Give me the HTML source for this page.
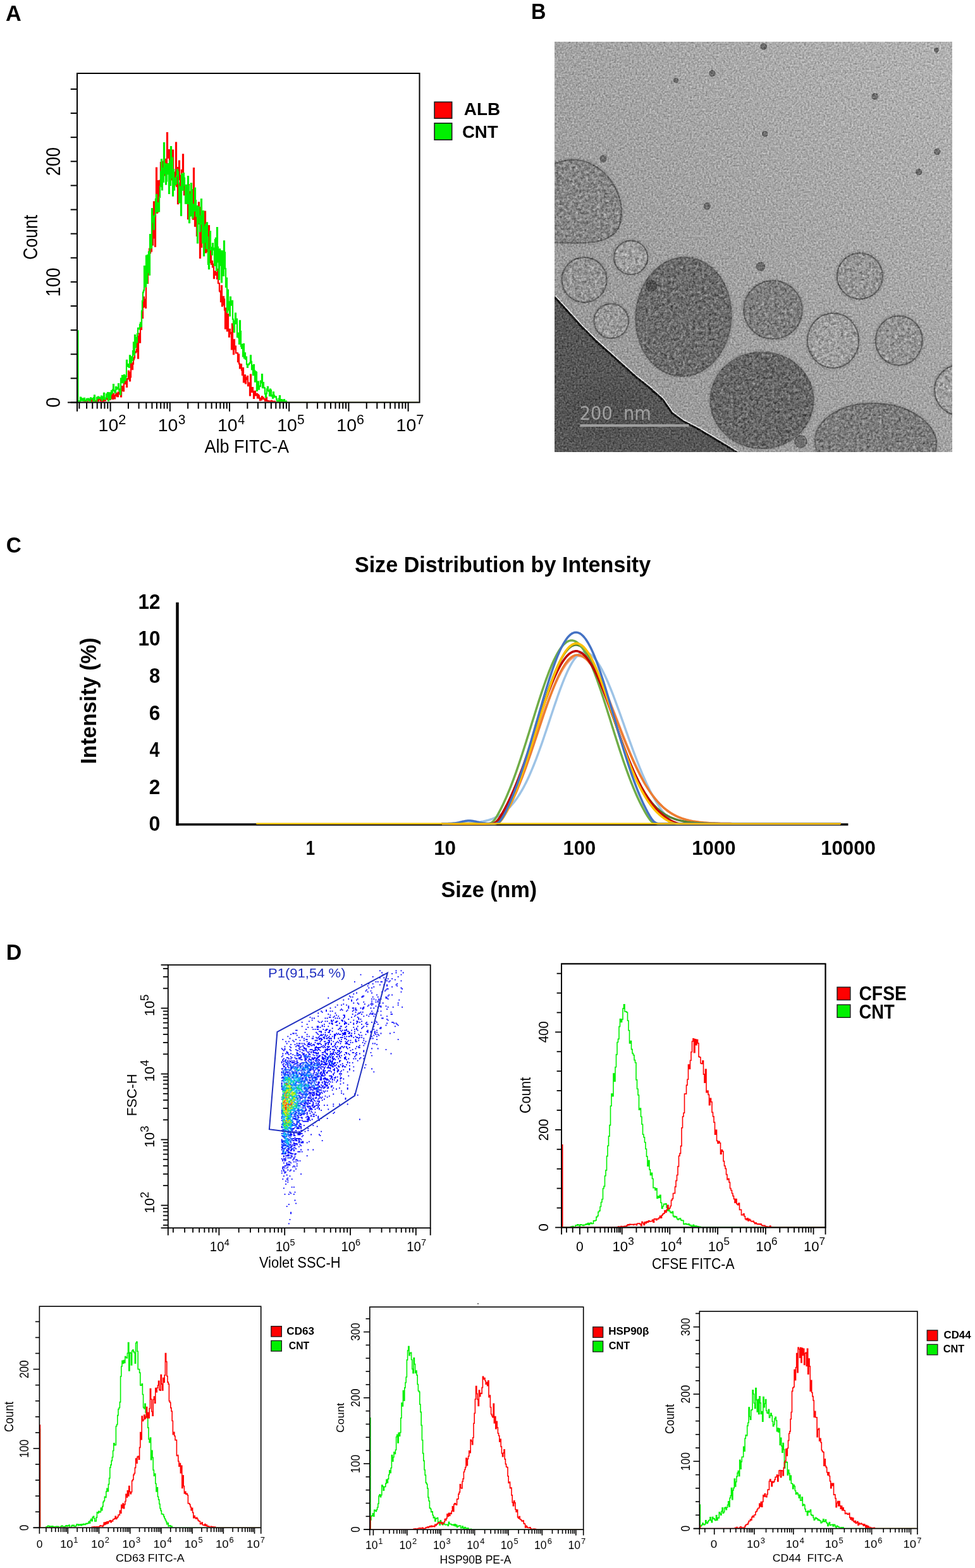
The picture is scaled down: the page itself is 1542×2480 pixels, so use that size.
<!DOCTYPE html>
<html><head><meta charset="utf-8"><title>Figure</title><style>
html,body{margin:0;padding:0;background:#fff;width:1542px;height:2480px;overflow:hidden;}
svg{display:block;}
</style></head><body>
<svg width="1542" height="2480" viewBox="0 0 1542 2480">
<defs><clipPath id="pc1"><rect x="122" y="116" width="541.5" height="519.6"/></clipPath><clipPath id="pc2"><rect x="888.1" y="1524.4" width="417.4" height="416.20000000000005"/></clipPath><clipPath id="pc3"><rect x="62.4" y="2066.2" width="350.3" height="349.3000000000002"/></clipPath><clipPath id="pc4"><rect x="584.8" y="2067.2" width="337.9000000000001" height="351.1999999999998"/></clipPath><clipPath id="pc5"><rect x="1106.3" y="2074.1" width="344.60000000000014" height="342.6999999999998"/></clipPath><clipPath id="tc"><rect x="877" y="66" width="629" height="649"/></clipPath><filter id="tn" filterUnits="userSpaceOnUse" x="877" y="66" width="629" height="649" color-interpolation-filters="sRGB"><feTurbulence type="fractalNoise" baseFrequency="0.36" numOctaves="2" seed="4" result="t"/><feColorMatrix in="t" type="matrix" values="0.6 0.4 0 0 0  0.6 0.4 0 0 0  0.6 0.4 0 0 0  0 0 0 0 1" result="g"/><feComposite in="SourceGraphic" in2="g" operator="arithmetic" k1="0" k2="1" k3="0.62" k4="-0.31"/></filter><filter id="vm" filterUnits="userSpaceOnUse" x="877" y="66" width="629" height="649" color-interpolation-filters="sRGB"><feTurbulence type="fractalNoise" baseFrequency="0.2" numOctaves="2" seed="11" result="t"/><feColorMatrix in="t" type="matrix" values="0.6 0.4 0 0 0  0.6 0.4 0 0 0  0.6 0.4 0 0 0  0 0 0 0 1" result="g"/><feComposite in="SourceGraphic" in2="g" operator="arithmetic" k1="0" k2="1" k3="0.6" k4="-0.3" result="c"/><feComposite in="c" in2="SourceAlpha" operator="in"/></filter><filter id="bl1" x="-10%" y="-10%" width="120%" height="120%"><feGaussianBlur stdDeviation="1.5"/></filter><filter id="bl8" x="-20%" y="-20%" width="140%" height="140%"><feGaussianBlur stdDeviation="10"/></filter><linearGradient id="bgg" x1="0" y1="1" x2="1" y2="0"><stop offset="0" stop-color="rgb(148,148,148)"/><stop offset="0.5" stop-color="rgb(163,163,163)"/><stop offset="1" stop-color="rgb(178,178,178)"/></linearGradient></defs>
<rect x="0" y="0" width="1542" height="2480" fill="#fff"/>
<text x="9.04" y="32.70" font-family="'Liberation Sans', Arial, sans-serif" font-size="34.62" font-weight="bold" fill="#000" textLength="24.79" lengthAdjust="spacingAndGlyphs" xml:space="preserve" >A</text>
<text x="839.91" y="29.80" font-family="'Liberation Sans', Arial, sans-serif" font-size="34.47" font-weight="bold" fill="#000" textLength="23.44" lengthAdjust="spacingAndGlyphs" xml:space="preserve" >B</text>
<text x="9.77" y="873.90" font-family="'Liberation Sans', Arial, sans-serif" font-size="34.91" font-weight="bold" fill="#000" textLength="24.04" lengthAdjust="spacingAndGlyphs" xml:space="preserve" >C</text>
<text x="9.81" y="1517.90" font-family="'Liberation Sans', Arial, sans-serif" font-size="34.91" font-weight="bold" fill="#000" textLength="24.52" lengthAdjust="spacingAndGlyphs" xml:space="preserve" >D</text>
<g clip-path="url(#pc1)">
<path d="M123.0,636.5H124.0V636.5H125.0V636.5H126.0V636.5H127.0V636.5H128.0V636.5H129.0V636.5H130.0V636.5H131.0V636.5H132.0V636.5H133.0V636.5H134.0V634.9H135.0V636.5H136.0V636.5H137.0V636.5H138.0V634.5H139.0V636.5H140.0V636.5H141.0V636.5H142.0V636.5H143.0V636.5H144.0V636.5H145.0V632.9H146.0V633.3H147.0V636.5H148.0V636.5H149.0V636.5H150.0V636.5H151.0V634.2H152.0V634.0H153.0V630.1H154.0V636.5H155.0V634.4H156.0V628.9H157.0V631.7H158.0V631.3H159.0V633.9H160.0V636.5H161.0V631.7H162.0V631.6H163.0V636.5H164.0V633.4H165.0V631.4H166.0V633.7H167.0V631.0H168.0V630.2H169.0V630.1H170.0V631.6H171.0V627.8H172.0V626.6H173.0V628.2H174.0V631.8H175.0V626.1H176.0V629.8H177.0V624.1H178.0V631.0H179.0V622.6H180.0V625.7H181.0V630.3H182.0V625.7H183.0V623.5H184.0V621.9H185.0V627.1H186.0V627.2H187.0V620.4H188.0V623.0H189.0V619.0H190.0V615.6H191.0V627.5H192.0V617.0H193.0V611.1H194.0V617.7H195.0V618.3H196.0V606.2H197.0V606.8H198.0V599.7H199.0V605.8H200.0V611.8H201.0V599.2H202.0V599.3H203.0V586.9H204.0V589.1H205.0V602.3H206.0V596.3H207.0V575.1H208.0V574.3H209.0V584.2H210.0V575.6H211.0V568.6H212.0V565.8H213.0V556.8H214.0V557.7H215.0V556.2H216.0V552.7H217.0V531.7H218.0V566.6H219.0V535.3H220.0V527.7H221.0V541.6H222.0V512.8H223.0V521.0H224.0V494.3H225.0V503.0H226.0V485.9H227.0V469.9H228.0V473.6H229.0V484.8H230.0V486.9H231.0V423.8H232.0V446.5H233.0V447.9H234.0V424.4H235.0V421.7H236.0V393.5H237.0V400.1H238.0V391.7H239.0V397.3H240.0V364.9H241.0V387.4H242.0V345.0H243.0V319.4H244.0V376.4H245.0V389.6H246.0V315.7H247.0V265.6H248.0V336.6H249.0V335.1H250.0V286.0H251.0V311.4H252.0V296.4H253.0V285.4H254.0V257.1H255.0V273.9H256.0V255.5H257.0V264.4H258.0V278.5H259.0V263.8H260.0V277.1H261.0V251.9H262.0V277.5H263.0V274.7H264.0V210.2H265.0V248.3H266.0V249.7H267.0V237.2H268.0V261.3H269.0V258.0H270.0V243.4H271.0V248.2H272.0V284.5H273.0V237.6H274.0V273.4H275.0V285.9H276.0V283.5H277.0V272.6H278.0V225.5H279.0V294.7H280.0V265.2H281.0V322.1H282.0V273.7H283.0V254.7H284.0V283.8H285.0V295.4H286.0V277.5H287.0V269.0H288.0V272.2H289.0V244.3H290.0V287.4H291.0V308.2H292.0V299.8H293.0V300.9H294.0V299.1H295.0V304.6H296.0V302.3H297.0V346.1H298.0V292.2H299.0V325.8H300.0V341.3H301.0V303.3H302.0V290.5H303.0V311.0H304.0V320.6H305.0V346.7H306.0V266.0H307.0V311.7H308.0V357.7H309.0V352.1H310.0V335.6H311.0V373.0H312.0V338.3H313.0V353.9H314.0V320.4H315.0V328.3H316.0V407.8H317.0V353.1H318.0V390.6H319.0V337.1H320.0V359.6H321.0V354.9H322.0V390.8H323.0V335.2H324.0V334.6H325.0V399.5H326.0V373.9H327.0V397.6H328.0V387.8H329.0V415.0H330.0V357.2H331.0V415.1H332.0V405.1H333.0V393.0H334.0V417.8H335.0V413.1H336.0V422.5H337.0V417.9H338.0V440.2H339.0V430.1H340.0V429.3H341.0V434.9H342.0V431.3H343.0V440.8H344.0V425.9H345.0V448.0H346.0V448.1H347.0V460.4H348.0V461.4H349.0V477.1H350.0V452.2H351.0V484.1H352.0V482.2H353.0V469.3H354.0V473.4H355.0V490.5H356.0V519.6H357.0V487.6H358.0V494.7H359.0V523.5H360.0V497.1H361.0V522.4H362.0V532.7H363.0V520.9H364.0V527.7H365.0V526.0H366.0V552.3H367.0V512.4H368.0V545.7H369.0V560.2H370.0V537.4H371.0V552.2H372.0V547.6H373.0V558.3H374.0V558.4H375.0V558.3H376.0V572.1H377.0V560.5H378.0V575.4H379.0V582.5H380.0V576.4H381.0V576.3H382.0V585.5H383.0V593.1H384.0V582.1H385.0V604.5H386.0V600.1H387.0V593.3H388.0V606.4H389.0V597.4H390.0V600.1H391.0V595.1H392.0V610.2H393.0V610.0H394.0V605.5H395.0V625.5H396.0V592.6H397.0V617.9H398.0V620.0H399.0V613.2H400.0V620.1H401.0V630.0H402.0V619.2H403.0V618.9H404.0V625.5H405.0V625.4H406.0V622.8H407.0V629.3H408.0V624.4H409.0V626.1H410.0V630.0H411.0V633.2H412.0V629.7H413.0V632.4H414.0V627.1H415.0V630.4H416.0V628.9H417.0V631.1H418.0V631.2H419.0V634.2H420.0V630.9H421.0V628.6H422.0V633.9H423.0V634.8H424.0V634.2H425.0V636.5H426.0V636.5H427.0V634.7H428.0V636.5H429.0V633.8H430.0V636.5H431.0V636.5H432.0V634.9H433.0V636.5H434.0V634.9H435.0V636.5H436.0V636.5H437.0V636.5H438.0V636.5H439.0V636.5H440.0V636.5H441.0V636.5H442.0V636.5H443.0V636.5H444.0V636.5H445.0V636.5H446.0V636.5H447.0V636.5H448.0V636.5H449.0V636.5H450.0V636.5H451.0V636.5H452.0V636.5H453.0V636.5H454.0V636.5H455.0V636.5H456.0V636.5H457.0V636.5H458.0V636.5H459.0V636.5H460.0V636.5H461.0V636.5H462.0V636.5H463.0V636.5H464.0V636.5H465.0V636.5H466.0V636.5H467.0V636.5H468.0V636.5H469.0V636.5H470.0V636.5H471.0V636.5H472.0V636.5H473.0V636.5H474.0V636.5H475.0V636.5H476.0V636.5H477.0V636.5H478.0V636.5H479.0V636.5H480.0V636.5H481.0V636.5H482.0V636.5H483.0V636.5H484.0V636.5H485.0V636.5H486.0V636.5H487.0V636.5H488.0V636.5H489.0V636.5H490.0V636.5H491.0V636.5H492.0V636.5H493.0V636.5H494.0V636.5H495.0V636.5H496.0V636.5H497.0V636.5H498.0V636.5H499.0V636.5H500.0V636.5H501.0V636.5H502.0V636.5H503.0V636.5H504.0V636.5H505.0V636.5H506.0V636.5H507.0V636.5H508.0V636.5H509.0V636.5H510.0V636.5H511.0V636.5H512.0V636.5H513.0V636.5H514.0V636.5H515.0V636.5H516.0V636.5H517.0V636.5H518.0V636.5H519.0V636.5H520.0V636.5H521.0V636.5H522.0V636.5H523.0V636.5H524.0V636.5H525.0V636.5H526.0V636.5H527.0V636.5H528.0V636.5H529.0V636.5H530.0V636.5H531.0V636.5H532.0V636.5H533.0V636.5H534.0V636.5H535.0V636.5H536.0V636.5H537.0V636.5H538.0V636.5H539.0V636.5H540.0V636.5H541.0V636.5H542.0V636.5H543.0V636.5H544.0V636.5H545.0V636.5H546.0V636.5H547.0V636.5H548.0V636.5H549.0V636.5H550.0V636.5H551.0V636.5H552.0V636.5H553.0V636.5H554.0V636.5H555.0V636.5H556.0V636.5H557.0V636.5H558.0V636.5H559.0V636.5H560.0V636.5H561.0V636.5H562.0V636.5H563.0V636.5H564.0V636.5H565.0V636.5H566.0V636.5H567.0V636.5H568.0V636.5H569.0V636.5H570.0V636.5H571.0V636.5H572.0V636.5H573.0V636.5H574.0V636.5H575.0V636.5H576.0V636.5H577.0V636.5H578.0V636.5H579.0V636.5H580.0V636.5H581.0V636.5H582.0V636.5H583.0V636.5H584.0V636.5H585.0V636.5H586.0V636.5H587.0V636.5H588.0V636.5H589.0V636.5H590.0V636.5H591.0V636.5H592.0V636.5H593.0V636.5H594.0V636.5H595.0V636.5H596.0V636.5H597.0V636.5H598.0V636.5H599.0V636.5H600.0V636.5H601.0V636.5H602.0V636.5H603.0V636.5H604.0V636.5H605.0V636.5H606.0V636.5H607.0V636.5H608.0V636.5H609.0V636.5H610.0V636.5H611.0V636.5H612.0V636.5H613.0V636.5H614.0V636.5H615.0V636.5H616.0V636.5H617.0V636.5H618.0V636.5H619.0V636.5H620.0V636.5H621.0V636.5H622.0V636.5H623.0V636.5H624.0V636.5H625.0V636.5H626.0V636.5H627.0V636.5H628.0V636.5H629.0V636.5H630.0V636.5H631.0V636.5H632.0V636.5H633.0V636.5H634.0V636.5H635.0V636.5H636.0V636.5H637.0V636.5H638.0V636.5H639.0V636.5H640.0V636.5H641.0V636.5H642.0V636.5H643.0V636.5H644.0V636.5H645.0V636.5H646.0V636.5H647.0V636.5H648.0V636.5H649.0V636.5H650.0V636.5H651.0V636.5H652.0V636.5H653.0V636.5H654.0V636.5H655.0V636.5H656.0V636.5H657.0V636.5H658.0V636.5H659.0V636.5H660.0V636.5H661.0V636.5" fill="none" stroke="#ff0000" stroke-width="2.2"/>
<path d="M123.0,634.2H124.0V636.5H125.0V634.6H126.0V636.5H127.0V628.6H128.0V629.9H129.0V633.4H130.0V630.6H131.0V631.7H132.0V633.8H133.0V629.8H134.0V633.0H135.0V633.0H136.0V634.2H137.0V630.9H138.0V632.2H139.0V630.5H140.0V633.5H141.0V631.4H142.0V634.1H143.0V629.3H144.0V631.1H145.0V630.6H146.0V630.3H147.0V634.2H148.0V629.1H149.0V625.4H150.0V636.5H151.0V636.5H152.0V636.5H153.0V628.5H154.0V630.5H155.0V627.6H156.0V628.5H157.0V629.8H158.0V629.2H159.0V630.3H160.0V626.6H161.0V633.0H162.0V630.3H163.0V627.7H164.0V621.9H165.0V630.8H166.0V631.7H167.0V629.5H168.0V623.4H169.0V627.7H170.0V621.2H171.0V633.6H172.0V621.3H173.0V621.3H174.0V631.2H175.0V624.0H176.0V618.1H177.0V622.0H178.0V616.4H179.0V608.2H180.0V617.6H181.0V619.4H182.0V621.1H183.0V612.0H184.0V615.7H185.0V614.6H186.0V613.0H187.0V607.2H188.0V617.0H189.0V619.0H190.0V624.1H191.0V598.7H192.0V605.2H193.0V594.0H194.0V602.6H195.0V605.3H196.0V593.1H197.0V594.6H198.0V601.7H199.0V596.0H200.0V569.8H201.0V579.5H202.0V576.0H203.0V579.7H204.0V580.9H205.0V562.4H206.0V569.6H207.0V573.6H208.0V564.3H209.0V569.9H210.0V555.1H211.0V541.6H212.0V561.1H213.0V530.0H214.0V549.5H215.0V534.1H216.0V541.3H217.0V528.2H218.0V519.2H219.0V520.4H220.0V518.9H221.0V513.4H222.0V510.3H223.0V516.3H224.0V491.5H225.0V475.9H226.0V462.4H227.0V459.3H228.0V421.2H229.0V448.2H230.0V453.3H231.0V404.5H232.0V448.0H233.0V403.5H234.0V430.8H235.0V398.3H236.0V434.7H237.0V371.2H238.0V383.8H239.0V392.1H240.0V330.1H241.0V341.8H242.0V351.3H243.0V362.6H244.0V342.4H245.0V339.6H246.0V314.9H247.0V307.8H248.0V334.6H249.0V326.7H250.0V321.0H251.0V334.3H252.0V311.8H253.0V295.0H254.0V271.5H255.0V252.4H256.0V300.1H257.0V266.2H258.0V287.6H259.0V226.1H260.0V274.3H261.0V259.2H262.0V291.4H263.0V286.4H264.0V260.2H265.0V275.2H266.0V259.0H267.0V306.0H268.0V254.4H269.0V292.8H270.0V232.0H271.0V281.0H272.0V249.6H273.0V309.7H274.0V268.1H275.0V300.4H276.0V292.3H277.0V281.7H278.0V291.0H279.0V278.5H280.0V268.3H281.0V271.5H282.0V289.7H283.0V320.3H284.0V308.4H285.0V295.3H286.0V340.7H287.0V275.4H288.0V299.3H289.0V300.6H290.0V274.1H291.0V281.5H292.0V292.8H293.0V321.7H294.0V292.8H295.0V293.0H296.0V322.0H297.0V279.2H298.0V293.8H299.0V352.2H300.0V307.6H301.0V341.2H302.0V290.1H303.0V300.1H304.0V344.9H305.0V342.5H306.0V323.3H307.0V333.3H308.0V297.5H309.0V317.1H310.0V341.8H311.0V325.8H312.0V384.2H313.0V336.7H314.0V327.4H315.0V352.1H316.0V365.8H317.0V341.6H318.0V315.1H319.0V354.2H320.0V384.1H321.0V333.8H322.0V404.4H323.0V358.3H324.0V382.9H325.0V354.9H326.0V393.2H327.0V352.3H328.0V375.2H329.0V417.8H330.0V425.1H331.0V395.0H332.0V366.1H333.0V391.4H334.0V395.1H335.0V402.9H336.0V385.0H337.0V392.6H338.0V395.1H339.0V419.9H340.0V379.2H341.0V376.6H342.0V427.8H343.0V360.2H344.0V390.8H345.0V414.4H346.0V441.8H347.0V394.1H348.0V396.7H349.0V419.6H350.0V446.4H351.0V397.2H352.0V433.2H353.0V435.8H354.0V381.4H355.0V399.3H356.0V424.9H357.0V454.0H358.0V439.9H359.0V493.7H360.0V458.6H361.0V477.4H362.0V490.4H363.0V499.5H364.0V469.8H365.0V480.2H366.0V482.7H367.0V475.9H368.0V504.8H369.0V513.9H370.0V525.1H371.0V507.6H372.0V495.6H373.0V512.0H374.0V504.6H375.0V533.0H376.0V526.8H377.0V534.2H378.0V543.8H379.0V507.4H380.0V524.0H381.0V547.6H382.0V550.9H383.0V544.8H384.0V563.6H385.0V544.1H386.0V566.5H387.0V558.4H388.0V568.1H389.0V564.5H390.0V576.1H391.0V581.0H392.0V576.9H393.0V576.3H394.0V574.9H395.0V573.8H396.0V562.4H397.0V571.9H398.0V584.4H399.0V578.1H400.0V593.1H401.0V577.0H402.0V586.2H403.0V603.6H404.0V587.8H405.0V588.9H406.0V617.9H407.0V604.2H408.0V603.5H409.0V615.7H410.0V610.7H411.0V611.2H412.0V602.6H413.0V605.5H414.0V592.0H415.0V613.1H416.0V605.0H417.0V613.1H418.0V613.6H419.0V623.1H420.0V628.1H421.0V622.5H422.0V615.3H423.0V611.9H424.0V617.6H425.0V618.9H426.0V626.0H427.0V615.7H428.0V617.4H429.0V626.5H430.0V625.1H431.0V629.7H432.0V620.4H433.0V625.4H434.0V628.0H435.0V627.0H436.0V627.6H437.0V631.1H438.0V634.3H439.0V634.7H440.0V636.5H441.0V630.4H442.0V626.2H443.0V636.5H444.0V632.3H445.0V632.1H446.0V636.5H447.0V633.3H448.0V636.5H449.0V632.2H450.0V636.5H451.0V634.9H452.0V634.5H453.0V636.5H454.0V636.5H455.0V636.5H456.0V636.5H457.0V636.5H458.0V636.5H459.0V636.5H460.0V636.5H461.0V636.5H462.0V636.5H463.0V636.5H464.0V636.5H465.0V636.5H466.0V636.5H467.0V636.5H468.0V636.5H469.0V636.5H470.0V636.5H471.0V636.5H472.0V636.5H473.0V636.5H474.0V636.5H475.0V636.5H476.0V636.5H477.0V636.5H478.0V636.5H479.0V636.5H480.0V636.5H481.0V636.5H482.0V636.5H483.0V636.5H484.0V636.5H485.0V636.5H486.0V636.5H487.0V636.5H488.0V636.5H489.0V636.5H490.0V636.5H491.0V636.5H492.0V636.5H493.0V636.5H494.0V636.5H495.0V636.5H496.0V636.5H497.0V636.5H498.0V636.5H499.0V636.5H500.0V636.5H501.0V636.5H502.0V636.5H503.0V636.5H504.0V636.5H505.0V636.5H506.0V636.5H507.0V636.5H508.0V636.5H509.0V636.5H510.0V636.5H511.0V636.5H512.0V636.5H513.0V636.5H514.0V636.5H515.0V636.5H516.0V636.5H517.0V636.5H518.0V636.5H519.0V636.5H520.0V636.5H521.0V636.5H522.0V636.5H523.0V636.5H524.0V636.5H525.0V636.5H526.0V636.5H527.0V636.5H528.0V636.5H529.0V636.5H530.0V636.5H531.0V636.5H532.0V636.5H533.0V636.5H534.0V636.5H535.0V636.5H536.0V636.5H537.0V636.5H538.0V636.5H539.0V636.5H540.0V636.5H541.0V636.5H542.0V636.5H543.0V636.5H544.0V636.5H545.0V636.5H546.0V636.5H547.0V636.5H548.0V636.5H549.0V636.5H550.0V636.5H551.0V636.5H552.0V636.5H553.0V636.5H554.0V636.5H555.0V636.5H556.0V636.5H557.0V636.5H558.0V636.5H559.0V636.5H560.0V636.5H561.0V636.5H562.0V636.5H563.0V636.5H564.0V636.5H565.0V636.5H566.0V636.5H567.0V636.5H568.0V636.5H569.0V636.5H570.0V636.5H571.0V636.5H572.0V636.5H573.0V636.5H574.0V636.5H575.0V636.5H576.0V636.5H577.0V636.5H578.0V636.5H579.0V636.5H580.0V636.5H581.0V636.5H582.0V636.5H583.0V636.5H584.0V636.5H585.0V636.5H586.0V636.5H587.0V636.5H588.0V636.5H589.0V636.5H590.0V636.5H591.0V636.5H592.0V636.5H593.0V636.5H594.0V636.5H595.0V636.5H596.0V636.5H597.0V636.5H598.0V636.5H599.0V636.5H600.0V636.5H601.0V636.5H602.0V636.5H603.0V636.5H604.0V636.5H605.0V636.5H606.0V636.5H607.0V636.5H608.0V636.5H609.0V636.5H610.0V636.5H611.0V636.5H612.0V636.5H613.0V636.5H614.0V636.5H615.0V636.5H616.0V636.5H617.0V636.5H618.0V636.5H619.0V636.5H620.0V636.5H621.0V636.5H622.0V636.5H623.0V636.5H624.0V636.5H625.0V636.5H626.0V636.5H627.0V636.5H628.0V636.5H629.0V636.5H630.0V636.5H631.0V636.5H632.0V636.5H633.0V636.5H634.0V636.5H635.0V636.5H636.0V636.5H637.0V636.5H638.0V636.5H639.0V636.5H640.0V636.5H641.0V636.5H642.0V636.5H643.0V636.5H644.0V636.5H645.0V636.5H646.0V636.5H647.0V636.5H648.0V636.5H649.0V636.5H650.0V636.5H651.0V636.5H652.0V636.5H653.0V636.5H654.0V636.5H655.0V636.5H656.0V636.5H657.0V636.5H658.0V636.5H659.0V636.5H660.0V636.5H661.0V636.5" fill="none" stroke="#00f000" stroke-width="2.2"/>
<line x1="123.50" y1="636.50" x2="123.50" y2="522.14" stroke="#00f000" stroke-width="2" />
</g>
<rect x="122" y="116" width="541.5" height="520.5" fill="none" stroke="#000" stroke-width="2"/>
<line x1="111.70" y1="636.50" x2="122.00" y2="636.50" stroke="#000" stroke-width="2" />
<line x1="111.70" y1="598.38" x2="122.00" y2="598.38" stroke="#000" stroke-width="2" />
<line x1="111.70" y1="560.26" x2="122.00" y2="560.26" stroke="#000" stroke-width="2" />
<line x1="111.70" y1="522.14" x2="122.00" y2="522.14" stroke="#000" stroke-width="2" />
<line x1="111.70" y1="484.02" x2="122.00" y2="484.02" stroke="#000" stroke-width="2" />
<line x1="111.70" y1="445.90" x2="122.00" y2="445.90" stroke="#000" stroke-width="2" />
<line x1="111.70" y1="407.78" x2="122.00" y2="407.78" stroke="#000" stroke-width="2" />
<line x1="111.70" y1="369.66" x2="122.00" y2="369.66" stroke="#000" stroke-width="2" />
<line x1="111.70" y1="331.54" x2="122.00" y2="331.54" stroke="#000" stroke-width="2" />
<line x1="111.70" y1="293.42" x2="122.00" y2="293.42" stroke="#000" stroke-width="2" />
<line x1="111.70" y1="255.30" x2="122.00" y2="255.30" stroke="#000" stroke-width="2" />
<line x1="111.70" y1="217.18" x2="122.00" y2="217.18" stroke="#000" stroke-width="2" />
<line x1="111.70" y1="179.06" x2="122.00" y2="179.06" stroke="#000" stroke-width="2" />
<line x1="111.70" y1="140.94" x2="122.00" y2="140.94" stroke="#000" stroke-width="2" />
<line x1="107.00" y1="636.50" x2="122.00" y2="636.50" stroke="#000" stroke-width="2" />
<line x1="122.00" y1="636.50" x2="122.00" y2="650.70" stroke="#000" stroke-width="2" />
<line x1="174.60" y1="636.50" x2="174.60" y2="650.70" stroke="#000" stroke-width="2" />
<line x1="268.80" y1="636.50" x2="268.80" y2="650.70" stroke="#000" stroke-width="2" />
<line x1="363.00" y1="636.50" x2="363.00" y2="650.70" stroke="#000" stroke-width="2" />
<line x1="457.20" y1="636.50" x2="457.20" y2="650.70" stroke="#000" stroke-width="2" />
<line x1="551.40" y1="636.50" x2="551.40" y2="650.70" stroke="#000" stroke-width="2" />
<line x1="645.60" y1="636.50" x2="645.60" y2="650.70" stroke="#000" stroke-width="2" />
<line x1="125.34" y1="636.50" x2="125.34" y2="646.50" stroke="#000" stroke-width="2" />
<line x1="137.11" y1="636.50" x2="137.11" y2="646.50" stroke="#000" stroke-width="2" />
<line x1="146.24" y1="636.50" x2="146.24" y2="646.50" stroke="#000" stroke-width="2" />
<line x1="153.70" y1="636.50" x2="153.70" y2="646.50" stroke="#000" stroke-width="2" />
<line x1="160.01" y1="636.50" x2="160.01" y2="646.50" stroke="#000" stroke-width="2" />
<line x1="165.47" y1="636.50" x2="165.47" y2="646.50" stroke="#000" stroke-width="2" />
<line x1="170.29" y1="636.50" x2="170.29" y2="646.50" stroke="#000" stroke-width="2" />
<line x1="202.96" y1="636.50" x2="202.96" y2="646.50" stroke="#000" stroke-width="2" />
<line x1="219.54" y1="636.50" x2="219.54" y2="646.50" stroke="#000" stroke-width="2" />
<line x1="231.31" y1="636.50" x2="231.31" y2="646.50" stroke="#000" stroke-width="2" />
<line x1="240.44" y1="636.50" x2="240.44" y2="646.50" stroke="#000" stroke-width="2" />
<line x1="247.90" y1="636.50" x2="247.90" y2="646.50" stroke="#000" stroke-width="2" />
<line x1="254.21" y1="636.50" x2="254.21" y2="646.50" stroke="#000" stroke-width="2" />
<line x1="259.67" y1="636.50" x2="259.67" y2="646.50" stroke="#000" stroke-width="2" />
<line x1="264.49" y1="636.50" x2="264.49" y2="646.50" stroke="#000" stroke-width="2" />
<line x1="297.16" y1="636.50" x2="297.16" y2="646.50" stroke="#000" stroke-width="2" />
<line x1="313.74" y1="636.50" x2="313.74" y2="646.50" stroke="#000" stroke-width="2" />
<line x1="325.51" y1="636.50" x2="325.51" y2="646.50" stroke="#000" stroke-width="2" />
<line x1="334.64" y1="636.50" x2="334.64" y2="646.50" stroke="#000" stroke-width="2" />
<line x1="342.10" y1="636.50" x2="342.10" y2="646.50" stroke="#000" stroke-width="2" />
<line x1="348.41" y1="636.50" x2="348.41" y2="646.50" stroke="#000" stroke-width="2" />
<line x1="353.87" y1="636.50" x2="353.87" y2="646.50" stroke="#000" stroke-width="2" />
<line x1="358.69" y1="636.50" x2="358.69" y2="646.50" stroke="#000" stroke-width="2" />
<line x1="391.36" y1="636.50" x2="391.36" y2="646.50" stroke="#000" stroke-width="2" />
<line x1="407.94" y1="636.50" x2="407.94" y2="646.50" stroke="#000" stroke-width="2" />
<line x1="419.71" y1="636.50" x2="419.71" y2="646.50" stroke="#000" stroke-width="2" />
<line x1="428.84" y1="636.50" x2="428.84" y2="646.50" stroke="#000" stroke-width="2" />
<line x1="436.30" y1="636.50" x2="436.30" y2="646.50" stroke="#000" stroke-width="2" />
<line x1="442.61" y1="636.50" x2="442.61" y2="646.50" stroke="#000" stroke-width="2" />
<line x1="448.07" y1="636.50" x2="448.07" y2="646.50" stroke="#000" stroke-width="2" />
<line x1="452.89" y1="636.50" x2="452.89" y2="646.50" stroke="#000" stroke-width="2" />
<line x1="485.56" y1="636.50" x2="485.56" y2="646.50" stroke="#000" stroke-width="2" />
<line x1="502.14" y1="636.50" x2="502.14" y2="646.50" stroke="#000" stroke-width="2" />
<line x1="513.91" y1="636.50" x2="513.91" y2="646.50" stroke="#000" stroke-width="2" />
<line x1="523.04" y1="636.50" x2="523.04" y2="646.50" stroke="#000" stroke-width="2" />
<line x1="530.50" y1="636.50" x2="530.50" y2="646.50" stroke="#000" stroke-width="2" />
<line x1="536.81" y1="636.50" x2="536.81" y2="646.50" stroke="#000" stroke-width="2" />
<line x1="542.27" y1="636.50" x2="542.27" y2="646.50" stroke="#000" stroke-width="2" />
<line x1="547.09" y1="636.50" x2="547.09" y2="646.50" stroke="#000" stroke-width="2" />
<line x1="579.76" y1="636.50" x2="579.76" y2="646.50" stroke="#000" stroke-width="2" />
<line x1="596.34" y1="636.50" x2="596.34" y2="646.50" stroke="#000" stroke-width="2" />
<line x1="608.11" y1="636.50" x2="608.11" y2="646.50" stroke="#000" stroke-width="2" />
<line x1="617.24" y1="636.50" x2="617.24" y2="646.50" stroke="#000" stroke-width="2" />
<line x1="624.70" y1="636.50" x2="624.70" y2="646.50" stroke="#000" stroke-width="2" />
<line x1="631.01" y1="636.50" x2="631.01" y2="646.50" stroke="#000" stroke-width="2" />
<line x1="636.47" y1="636.50" x2="636.47" y2="646.50" stroke="#000" stroke-width="2" />
<line x1="641.29" y1="636.50" x2="641.29" y2="646.50" stroke="#000" stroke-width="2" />
<text transform="translate(95.20,644.79) rotate(-90)" font-family="'Liberation Sans', Arial, sans-serif" font-size="31.25" font-weight="normal" fill="#000" textLength="16.54" lengthAdjust="spacingAndGlyphs" xml:space="preserve" >0</text>
<text transform="translate(95.20,469.25) rotate(-90)" font-family="'Liberation Sans', Arial, sans-serif" font-size="31.25" font-weight="normal" fill="#000" textLength="45.71" lengthAdjust="spacingAndGlyphs" xml:space="preserve" >100</text>
<text transform="translate(95.20,277.95) rotate(-90)" font-family="'Liberation Sans', Arial, sans-serif" font-size="31.25" font-weight="normal" fill="#000" textLength="44.99" lengthAdjust="spacingAndGlyphs" xml:space="preserve" >200</text>
<text transform="translate(58.50,410.73) rotate(-90)" font-family="'Liberation Sans', Arial, sans-serif" font-size="31.25" font-weight="normal" fill="#000" textLength="70.96" lengthAdjust="spacingAndGlyphs" xml:space="preserve" >Count</text>
<text x="155.56" y="682.30" font-family="'Liberation Sans', Arial, sans-serif" font-size="28.53" font-weight="normal" fill="#000" textLength="31.67" lengthAdjust="spacingAndGlyphs" xml:space="preserve" >10</text>
<text x="187.21" y="671.30" font-family="'Liberation Sans', Arial, sans-serif" font-size="22.08" font-weight="normal" fill="#000" textLength="12.10" lengthAdjust="spacingAndGlyphs" xml:space="preserve" >2</text>
<text x="249.76" y="682.30" font-family="'Liberation Sans', Arial, sans-serif" font-size="28.53" font-weight="normal" fill="#000" textLength="31.67" lengthAdjust="spacingAndGlyphs" xml:space="preserve" >10</text>
<text x="281.72" y="671.30" font-family="'Liberation Sans', Arial, sans-serif" font-size="22.08" font-weight="normal" fill="#000" textLength="11.59" lengthAdjust="spacingAndGlyphs" xml:space="preserve" >3</text>
<text x="343.96" y="682.30" font-family="'Liberation Sans', Arial, sans-serif" font-size="28.53" font-weight="normal" fill="#000" textLength="31.67" lengthAdjust="spacingAndGlyphs" xml:space="preserve" >10</text>
<text x="376.26" y="671.30" font-family="'Liberation Sans', Arial, sans-serif" font-size="22.08" font-weight="normal" fill="#000" textLength="10.90" lengthAdjust="spacingAndGlyphs" xml:space="preserve" >4</text>
<text x="438.16" y="682.30" font-family="'Liberation Sans', Arial, sans-serif" font-size="28.53" font-weight="normal" fill="#000" textLength="31.67" lengthAdjust="spacingAndGlyphs" xml:space="preserve" >10</text>
<text x="470.07" y="671.30" font-family="'Liberation Sans', Arial, sans-serif" font-size="22.08" font-weight="normal" fill="#000" textLength="11.59" lengthAdjust="spacingAndGlyphs" xml:space="preserve" >5</text>
<text x="532.36" y="682.30" font-family="'Liberation Sans', Arial, sans-serif" font-size="28.53" font-weight="normal" fill="#000" textLength="31.67" lengthAdjust="spacingAndGlyphs" xml:space="preserve" >10</text>
<text x="564.03" y="671.30" font-family="'Liberation Sans', Arial, sans-serif" font-size="22.08" font-weight="normal" fill="#000" textLength="11.91" lengthAdjust="spacingAndGlyphs" xml:space="preserve" >6</text>
<text x="626.56" y="682.30" font-family="'Liberation Sans', Arial, sans-serif" font-size="28.53" font-weight="normal" fill="#000" textLength="31.67" lengthAdjust="spacingAndGlyphs" xml:space="preserve" >10</text>
<text x="658.21" y="671.30" font-family="'Liberation Sans', Arial, sans-serif" font-size="22.08" font-weight="normal" fill="#000" textLength="12.10" lengthAdjust="spacingAndGlyphs" xml:space="preserve" >7</text>
<text x="323.43" y="716.20" font-family="'Liberation Sans', Arial, sans-serif" font-size="29.24" font-weight="normal" fill="#000" textLength="133.73" lengthAdjust="spacingAndGlyphs" xml:space="preserve" >Alb FITC-A</text>
<rect x="687.10" y="161.30" width="27.60" height="25.90" fill="#ff0000" stroke="#1a1a1a" stroke-width="1.6"/>
<rect x="687.10" y="194.80" width="27.60" height="26.40" fill="#00f000" stroke="#1a1a1a" stroke-width="1.6"/>
<text x="733.80" y="182.30" font-family="'Liberation Sans', Arial, sans-serif" font-size="28.07" font-weight="bold" fill="#000" textLength="57.46" lengthAdjust="spacingAndGlyphs" xml:space="preserve" >ALB</text>
<text x="730.89" y="217.50" font-family="'Liberation Sans', Arial, sans-serif" font-size="28.53" font-weight="bold" fill="#000" textLength="56.89" lengthAdjust="spacingAndGlyphs" xml:space="preserve" >CNT</text>
<text x="560.88" y="905.40" font-family="'Liberation Sans', Arial, sans-serif" font-size="34.91" font-weight="bold" fill="#000" textLength="468.35" lengthAdjust="spacingAndGlyphs" xml:space="preserve" >Size Distribution by Intensity</text>
<text x="218.54" y="962.70" font-family="'Liberation Sans', Arial, sans-serif" font-size="32.69" font-weight="bold" fill="#000" textLength="34.91" lengthAdjust="spacingAndGlyphs" xml:space="preserve" >12</text>
<text x="218.53" y="1021.30" font-family="'Liberation Sans', Arial, sans-serif" font-size="32.69" font-weight="bold" fill="#000" textLength="35.00" lengthAdjust="spacingAndGlyphs" xml:space="preserve" >10</text>
<text x="235.89" y="1079.90" font-family="'Liberation Sans', Arial, sans-serif" font-size="32.69" font-weight="bold" fill="#000" textLength="17.28" lengthAdjust="spacingAndGlyphs" xml:space="preserve" >8</text>
<text x="235.71" y="1138.50" font-family="'Liberation Sans', Arial, sans-serif" font-size="32.69" font-weight="bold" fill="#000" textLength="17.64" lengthAdjust="spacingAndGlyphs" xml:space="preserve" >6</text>
<text x="236.47" y="1197.10" font-family="'Liberation Sans', Arial, sans-serif" font-size="32.69" font-weight="bold" fill="#000" textLength="15.91" lengthAdjust="spacingAndGlyphs" xml:space="preserve" >4</text>
<text x="235.79" y="1255.70" font-family="'Liberation Sans', Arial, sans-serif" font-size="32.69" font-weight="bold" fill="#000" textLength="17.64" lengthAdjust="spacingAndGlyphs" xml:space="preserve" >2</text>
<text x="235.61" y="1314.30" font-family="'Liberation Sans', Arial, sans-serif" font-size="32.69" font-weight="bold" fill="#000" textLength="17.91" lengthAdjust="spacingAndGlyphs" xml:space="preserve" >0</text>
<text x="483.69" y="1351.50" font-family="'Liberation Sans', Arial, sans-serif" font-size="32.11" font-weight="bold" fill="#000" textLength="14.35" lengthAdjust="spacingAndGlyphs" xml:space="preserve" >1</text>
<text x="686.13" y="1351.50" font-family="'Liberation Sans', Arial, sans-serif" font-size="32.11" font-weight="bold" fill="#000" textLength="35.00" lengthAdjust="spacingAndGlyphs" xml:space="preserve" >10</text>
<text x="890.41" y="1351.50" font-family="'Liberation Sans', Arial, sans-serif" font-size="32.11" font-weight="bold" fill="#000" textLength="51.71" lengthAdjust="spacingAndGlyphs" xml:space="preserve" >100</text>
<text x="1094.30" y="1351.50" font-family="'Liberation Sans', Arial, sans-serif" font-size="32.11" font-weight="bold" fill="#000" textLength="69.26" lengthAdjust="spacingAndGlyphs" xml:space="preserve" >1000</text>
<text x="1298.15" y="1351.50" font-family="'Liberation Sans', Arial, sans-serif" font-size="32.11" font-weight="bold" fill="#000" textLength="86.83" lengthAdjust="spacingAndGlyphs" xml:space="preserve" >10000</text>
<text transform="translate(152.40,1208.47) rotate(-90)" font-family="'Liberation Sans', Arial, sans-serif" font-size="35.78" font-weight="bold" fill="#000" textLength="199.95" lengthAdjust="spacingAndGlyphs" xml:space="preserve" >Intensity (%)</text>
<text x="697.38" y="1419.30" font-family="'Liberation Sans', Arial, sans-serif" font-size="34.70" font-weight="bold" fill="#000" textLength="151.73" lengthAdjust="spacingAndGlyphs" xml:space="preserve" >Size (nm)</text>
<line x1="280.50" y1="952.80" x2="280.50" y2="1305.80" stroke="#000" stroke-width="4.5" />
<line x1="278.30" y1="1304.00" x2="1341.40" y2="1304.00" stroke="#000" stroke-width="3.4" />
<path d="M700.0,1302.8 L702.0,1302.8 L704.0,1302.8 L706.0,1302.8 L708.0,1302.8 L710.0,1302.8 L712.0,1302.8 L714.0,1302.8 L716.0,1302.8 L718.0,1302.8 L720.0,1302.8 L722.0,1302.8 L724.0,1302.8 L726.0,1302.8 L728.0,1302.8 L730.0,1302.8 L732.0,1302.8 L734.0,1302.8 L736.0,1302.8 L738.0,1302.8 L740.0,1302.8 L742.0,1302.8 L744.0,1302.8 L746.0,1302.8 L748.0,1302.8 L750.0,1302.8 L752.0,1302.8 L754.0,1302.8 L756.0,1302.8 L758.0,1302.8 L760.0,1302.8 L762.0,1302.8 L764.0,1302.8 L766.0,1302.8 L768.0,1302.8 L770.0,1302.8 L772.0,1302.8 L774.0,1302.8 L776.0,1302.8 L778.0,1302.7 L780.0,1302.4 L782.0,1301.8 L784.0,1300.7 L786.0,1299.0 L788.0,1296.8 L790.0,1294.2 L792.0,1291.3 L794.0,1288.2 L796.0,1284.9 L798.0,1281.5 L800.0,1278.0 L802.0,1274.4 L804.0,1270.6 L806.0,1266.7 L808.0,1262.7 L810.0,1258.5 L812.0,1254.3 L814.0,1249.9 L816.0,1245.4 L818.0,1240.8 L820.0,1236.1 L822.0,1231.2 L824.0,1226.3 L826.0,1221.3 L828.0,1216.1 L830.0,1210.9 L832.0,1205.6 L834.0,1200.3 L836.0,1194.8 L838.0,1189.3 L840.0,1183.8 L842.0,1178.2 L844.0,1172.6 L846.0,1166.9 L848.0,1161.3 L850.0,1155.6 L852.0,1150.0 L854.0,1144.3 L856.0,1138.7 L858.0,1133.1 L860.0,1127.6 L862.0,1122.2 L864.0,1116.8 L866.0,1111.5 L868.0,1106.3 L870.0,1101.2 L872.0,1096.2 L874.0,1091.3 L876.0,1086.6 L878.0,1082.1 L880.0,1077.7 L882.0,1073.5 L884.0,1069.5 L886.0,1065.7 L888.0,1062.0 L890.0,1058.6 L892.0,1055.5 L894.0,1052.5 L896.0,1049.8 L898.0,1047.4 L900.0,1045.2 L902.0,1043.3 L904.0,1041.6 L906.0,1040.2 L908.0,1039.1 L910.0,1038.2 L912.0,1037.7 L914.0,1037.4 L916.0,1037.4 L918.0,1037.7 L920.0,1038.2 L922.0,1039.0 L924.0,1040.1 L926.0,1041.5 L928.0,1043.1 L930.0,1045.0 L932.0,1047.1 L934.0,1049.5 L936.0,1052.1 L938.0,1054.9 L940.0,1058.0 L942.0,1061.3 L944.0,1064.7 L946.0,1068.4 L948.0,1072.3 L950.0,1076.3 L952.0,1080.5 L954.0,1084.8 L956.0,1089.3 L958.0,1093.9 L960.0,1098.6 L962.0,1103.4 L964.0,1108.3 L966.0,1113.3 L968.0,1118.3 L970.0,1123.4 L972.0,1128.5 L974.0,1133.7 L976.0,1138.9 L978.0,1144.1 L980.0,1149.2 L982.0,1154.4 L984.0,1159.5 L986.0,1164.6 L988.0,1169.7 L990.0,1174.7 L992.0,1179.7 L994.0,1184.5 L996.0,1189.3 L998.0,1194.1 L1000.0,1198.7 L1002.0,1203.2 L1004.0,1207.7 L1006.0,1212.0 L1008.0,1216.2 L1010.0,1220.3 L1012.0,1224.3 L1014.0,1228.2 L1016.0,1232.0 L1018.0,1235.6 L1020.0,1239.2 L1022.0,1242.6 L1024.0,1245.8 L1026.0,1249.0 L1028.0,1252.0 L1030.0,1254.9 L1032.0,1257.7 L1034.0,1260.4 L1036.0,1263.0 L1038.0,1265.4 L1040.0,1267.7 L1042.0,1269.9 L1044.0,1272.1 L1046.0,1274.1 L1048.0,1276.0 L1050.0,1277.8 L1052.0,1279.5 L1054.0,1281.1 L1056.0,1282.6 L1058.0,1284.0 L1060.0,1285.4 L1062.0,1286.6 L1064.0,1287.8 L1066.0,1289.0 L1068.0,1290.0 L1070.0,1291.0 L1072.0,1291.9 L1074.0,1292.8 L1076.0,1293.6 L1078.0,1294.3 L1080.0,1295.0 L1082.0,1295.6 L1084.0,1296.2 L1086.0,1296.8 L1088.0,1297.3 L1090.0,1297.8 L1092.0,1298.2 L1094.0,1298.6 L1096.0,1299.0 L1098.0,1299.3 L1100.0,1299.6 L1102.0,1299.9 L1104.0,1300.2 L1106.0,1300.4 L1108.0,1300.7 L1110.0,1300.9 L1112.0,1301.1 L1114.0,1301.2 L1116.0,1301.4 L1118.0,1301.5 L1120.0,1301.7 L1122.0,1301.8 L1124.0,1301.9 L1126.0,1302.0 L1128.0,1302.1 L1130.0,1302.1 L1132.0,1302.2 L1134.0,1302.3 L1136.0,1302.3 L1138.0,1302.4 L1140.0,1302.4 L1142.0,1302.5 L1144.0,1302.5 L1146.0,1302.5 L1148.0,1302.6 L1150.0,1302.6 L1152.0,1302.6 L1154.0,1302.6 L1156.0,1302.7 L1158.0,1302.7 L1160.0,1302.7 L1162.0,1302.7 L1164.0,1302.7 L1166.0,1302.7 L1168.0,1302.7 L1170.0,1302.7 L1172.0,1302.7 L1174.0,1302.8 L1176.0,1302.8 L1178.0,1302.8 L1180.0,1302.8 L1182.0,1302.8 L1184.0,1302.8 L1186.0,1302.8 L1188.0,1302.8 L1190.0,1302.8 L1192.0,1302.8 L1194.0,1302.8 L1196.0,1302.8 L1198.0,1302.8 L1200.0,1302.8 L1202.0,1302.8 L1204.0,1302.8 L1206.0,1302.8 L1208.0,1302.8 L1210.0,1302.8 L1212.0,1302.8 L1214.0,1302.8 L1216.0,1302.8 L1218.0,1302.8 L1220.0,1302.8 L1222.0,1302.8 L1224.0,1302.8 L1226.0,1302.8 L1228.0,1302.8 L1230.0,1302.8 L1232.0,1302.8 L1234.0,1302.8 L1236.0,1302.8 L1238.0,1302.8 L1240.0,1302.8 L1242.0,1302.8 L1244.0,1302.8 L1246.0,1302.8 L1248.0,1302.8 L1250.0,1302.8 L1252.0,1302.8 L1254.0,1302.8 L1256.0,1302.8 L1258.0,1302.8 L1260.0,1302.8 L1262.0,1302.8 L1264.0,1302.8 L1266.0,1302.8 L1268.0,1302.8 L1270.0,1302.8 L1272.0,1302.8 L1274.0,1302.8 L1276.0,1302.8 L1278.0,1302.8 L1280.0,1302.8 L1282.0,1302.8 L1284.0,1302.8 L1286.0,1302.8 L1288.0,1302.8 L1290.0,1302.8 L1292.0,1302.8 L1294.0,1302.8 L1296.0,1302.8 L1298.0,1302.8 L1300.0,1302.8 L1302.0,1302.8 L1304.0,1302.8 L1306.0,1302.8 L1308.0,1302.8 L1310.0,1302.8 L1312.0,1302.8 L1314.0,1302.8 L1316.0,1302.8 L1318.0,1302.8 L1320.0,1302.8 L1322.0,1302.8 L1324.0,1302.8 L1326.0,1302.8 L1328.0,1302.8" fill="none" stroke="#f4a582" stroke-width="3.5" stroke-linejoin="round" stroke-linecap="round"/>
<path d="M700.0,1302.7 L702.0,1302.7 L704.0,1302.7 L706.0,1302.7 L708.0,1302.7 L710.0,1302.7 L712.0,1302.7 L714.0,1302.6 L716.0,1302.6 L718.0,1302.6 L720.0,1302.6 L722.0,1302.5 L724.0,1302.5 L726.0,1302.4 L728.0,1302.4 L730.0,1302.3 L732.0,1302.3 L734.0,1302.2 L736.0,1302.1 L738.0,1302.0 L740.0,1301.9 L742.0,1301.8 L744.0,1301.6 L746.0,1301.5 L748.0,1301.3 L750.0,1301.1 L752.0,1300.9 L754.0,1300.7 L756.0,1300.5 L758.0,1300.2 L760.0,1299.9 L762.0,1299.5 L764.0,1299.2 L766.0,1298.7 L768.0,1298.3 L770.0,1297.8 L772.0,1297.3 L774.0,1296.7 L776.0,1296.0 L778.0,1295.3 L780.0,1294.5 L782.0,1293.7 L784.0,1292.8 L786.0,1291.8 L788.0,1290.7 L790.0,1289.6 L792.0,1288.4 L794.0,1287.0 L796.0,1285.6 L798.0,1284.1 L800.0,1282.4 L802.0,1280.7 L804.0,1278.8 L806.0,1276.8 L808.0,1274.7 L810.0,1272.4 L812.0,1270.0 L814.0,1267.4 L816.0,1264.7 L818.0,1261.9 L820.0,1258.9 L822.0,1255.7 L824.0,1252.4 L826.0,1249.0 L828.0,1245.3 L830.0,1241.5 L832.0,1237.6 L834.0,1233.5 L836.0,1229.2 L838.0,1224.7 L840.0,1220.1 L842.0,1215.4 L844.0,1210.5 L846.0,1205.4 L848.0,1200.3 L850.0,1194.9 L852.0,1189.5 L854.0,1184.0 L856.0,1178.3 L858.0,1172.6 L860.0,1166.7 L862.0,1160.8 L864.0,1154.9 L866.0,1148.9 L868.0,1142.9 L870.0,1136.8 L872.0,1130.8 L874.0,1124.8 L876.0,1118.8 L878.0,1112.9 L880.0,1107.1 L882.0,1101.3 L884.0,1095.7 L886.0,1090.2 L888.0,1084.8 L890.0,1079.6 L892.0,1074.6 L894.0,1069.8 L896.0,1065.2 L898.0,1060.8 L900.0,1056.7 L902.0,1052.9 L904.0,1049.3 L906.0,1046.1 L908.0,1043.1 L910.0,1040.5 L912.0,1038.2 L914.0,1036.2 L916.0,1034.6 L918.0,1033.3 L920.0,1032.4 L922.0,1031.8 L924.0,1031.6 L926.0,1031.7 L928.0,1032.1 L930.0,1032.9 L932.0,1033.9 L934.0,1035.2 L936.0,1036.8 L938.0,1038.7 L940.0,1040.8 L942.0,1043.3 L944.0,1046.0 L946.0,1048.9 L948.0,1052.1 L950.0,1055.5 L952.0,1059.1 L954.0,1063.0 L956.0,1067.0 L958.0,1071.3 L960.0,1075.7 L962.0,1080.3 L964.0,1085.1 L966.0,1090.0 L968.0,1095.0 L970.0,1100.2 L972.0,1105.5 L974.0,1110.8 L976.0,1116.3 L978.0,1121.8 L980.0,1127.3 L982.0,1132.9 L984.0,1138.6 L986.0,1144.2 L988.0,1149.9 L990.0,1155.6 L992.0,1161.2 L994.0,1166.8 L996.0,1172.4 L998.0,1177.9 L1000.0,1183.4 L1002.0,1188.8 L1004.0,1194.2 L1006.0,1199.4 L1008.0,1204.6 L1010.0,1209.7 L1012.0,1214.6 L1014.0,1219.5 L1016.0,1224.3 L1018.0,1228.9 L1020.0,1233.5 L1022.0,1237.9 L1024.0,1242.2 L1026.0,1246.3 L1028.0,1250.4 L1030.0,1254.3 L1032.0,1258.0 L1034.0,1261.7 L1036.0,1265.2 L1038.0,1268.5 L1040.0,1271.8 L1042.0,1274.9 L1044.0,1277.9 L1046.0,1280.7 L1048.0,1283.5 L1050.0,1286.1 L1052.0,1288.6 L1054.0,1290.9 L1056.0,1293.2 L1058.0,1295.3 L1060.0,1297.3 L1062.0,1299.0 L1064.0,1300.4 L1066.0,1301.5 L1068.0,1302.2 L1070.0,1302.5 L1072.0,1302.7 L1074.0,1302.8 L1076.0,1302.8 L1078.0,1302.8 L1080.0,1302.8 L1082.0,1302.8 L1084.0,1302.8 L1086.0,1302.8 L1088.0,1302.8 L1090.0,1302.8 L1092.0,1302.8 L1094.0,1302.8 L1096.0,1302.8 L1098.0,1302.8 L1100.0,1302.8 L1102.0,1302.8 L1104.0,1302.8 L1106.0,1302.8 L1108.0,1302.8 L1110.0,1302.8 L1112.0,1302.8 L1114.0,1302.8 L1116.0,1302.8 L1118.0,1302.8 L1120.0,1302.8 L1122.0,1302.8 L1124.0,1302.8 L1126.0,1302.8 L1128.0,1302.8 L1130.0,1302.8 L1132.0,1302.8 L1134.0,1302.8 L1136.0,1302.8 L1138.0,1302.8 L1140.0,1302.8 L1142.0,1302.8 L1144.0,1302.8 L1146.0,1302.8 L1148.0,1302.8 L1150.0,1302.8 L1152.0,1302.8 L1154.0,1302.8 L1156.0,1302.8 L1158.0,1302.8 L1160.0,1302.8 L1162.0,1302.8 L1164.0,1302.8 L1166.0,1302.8 L1168.0,1302.8 L1170.0,1302.8 L1172.0,1302.8 L1174.0,1302.8 L1176.0,1302.8 L1178.0,1302.8 L1180.0,1302.8 L1182.0,1302.8 L1184.0,1302.8 L1186.0,1302.8 L1188.0,1302.8 L1190.0,1302.8 L1192.0,1302.8 L1194.0,1302.8 L1196.0,1302.8 L1198.0,1302.8 L1200.0,1302.8 L1202.0,1302.8 L1204.0,1302.8 L1206.0,1302.8 L1208.0,1302.8 L1210.0,1302.8 L1212.0,1302.8 L1214.0,1302.8 L1216.0,1302.8 L1218.0,1302.8 L1220.0,1302.8 L1222.0,1302.8 L1224.0,1302.8 L1226.0,1302.8 L1228.0,1302.8 L1230.0,1302.8 L1232.0,1302.8 L1234.0,1302.8 L1236.0,1302.8 L1238.0,1302.8 L1240.0,1302.8 L1242.0,1302.8 L1244.0,1302.8 L1246.0,1302.8 L1248.0,1302.8 L1250.0,1302.8 L1252.0,1302.8 L1254.0,1302.8 L1256.0,1302.8 L1258.0,1302.8 L1260.0,1302.8 L1262.0,1302.8 L1264.0,1302.8 L1266.0,1302.8 L1268.0,1302.8 L1270.0,1302.8 L1272.0,1302.8 L1274.0,1302.8 L1276.0,1302.8 L1278.0,1302.8 L1280.0,1302.8 L1282.0,1302.8 L1284.0,1302.8 L1286.0,1302.8 L1288.0,1302.8 L1290.0,1302.8 L1292.0,1302.8 L1294.0,1302.8 L1296.0,1302.8 L1298.0,1302.8 L1300.0,1302.8 L1302.0,1302.8 L1304.0,1302.8 L1306.0,1302.8 L1308.0,1302.8 L1310.0,1302.8 L1312.0,1302.8 L1314.0,1302.8 L1316.0,1302.8 L1318.0,1302.8 L1320.0,1302.8 L1322.0,1302.8 L1324.0,1302.8 L1326.0,1302.8 L1328.0,1302.8" fill="none" stroke="#9dc3e6" stroke-width="3.5" stroke-linejoin="round" stroke-linecap="round"/>
<path d="M700.0,1302.8 L702.0,1302.8 L704.0,1302.8 L706.0,1302.8 L708.0,1302.8 L710.0,1302.8 L712.0,1302.8 L714.0,1302.8 L716.0,1302.8 L718.0,1302.8 L720.0,1302.8 L722.0,1302.8 L724.0,1302.8 L726.0,1302.8 L728.0,1302.8 L730.0,1302.8 L732.0,1302.8 L734.0,1302.8 L736.0,1302.8 L738.0,1302.8 L740.0,1302.8 L742.0,1302.8 L744.0,1302.8 L746.0,1302.8 L748.0,1302.8 L750.0,1302.8 L752.0,1302.8 L754.0,1302.8 L756.0,1302.8 L758.0,1302.8 L760.0,1302.8 L762.0,1302.8 L764.0,1302.8 L766.0,1302.8 L768.0,1302.8 L770.0,1302.8 L772.0,1302.8 L774.0,1302.8 L776.0,1302.8 L778.0,1302.8 L780.0,1302.8 L782.0,1302.7 L784.0,1302.6 L786.0,1302.2 L788.0,1301.4 L790.0,1300.1 L792.0,1298.2 L794.0,1295.7 L796.0,1292.8 L798.0,1289.6 L800.0,1286.2 L802.0,1282.6 L804.0,1278.9 L806.0,1275.1 L808.0,1271.1 L810.0,1267.0 L812.0,1262.7 L814.0,1258.3 L816.0,1253.7 L818.0,1249.0 L820.0,1244.2 L822.0,1239.3 L824.0,1234.2 L826.0,1229.0 L828.0,1223.7 L830.0,1218.3 L832.0,1212.8 L834.0,1207.2 L836.0,1201.5 L838.0,1195.7 L840.0,1189.9 L842.0,1184.0 L844.0,1178.0 L846.0,1172.0 L848.0,1166.0 L850.0,1160.0 L852.0,1154.0 L854.0,1147.9 L856.0,1141.9 L858.0,1135.9 L860.0,1130.0 L862.0,1124.2 L864.0,1118.4 L866.0,1112.7 L868.0,1107.1 L870.0,1101.6 L872.0,1096.3 L874.0,1091.1 L876.0,1086.0 L878.0,1081.2 L880.0,1076.5 L882.0,1072.0 L884.0,1067.8 L886.0,1063.7 L888.0,1059.9 L890.0,1056.4 L892.0,1053.1 L894.0,1050.0 L896.0,1047.3 L898.0,1044.8 L900.0,1042.6 L902.0,1040.8 L904.0,1039.2 L906.0,1037.9 L908.0,1037.0 L910.0,1036.3 L912.0,1036.0 L914.0,1035.9 L916.0,1036.2 L918.0,1036.7 L920.0,1037.5 L922.0,1038.6 L924.0,1039.9 L926.0,1041.5 L928.0,1043.3 L930.0,1045.4 L932.0,1047.8 L934.0,1050.3 L936.0,1053.1 L938.0,1056.1 L940.0,1059.3 L942.0,1062.7 L944.0,1066.3 L946.0,1070.1 L948.0,1074.1 L950.0,1078.2 L952.0,1082.5 L954.0,1086.9 L956.0,1091.4 L958.0,1096.0 L960.0,1100.8 L962.0,1105.6 L964.0,1110.5 L966.0,1115.5 L968.0,1120.5 L970.0,1125.6 L972.0,1130.7 L974.0,1135.8 L976.0,1141.0 L978.0,1146.1 L980.0,1151.2 L982.0,1156.3 L984.0,1161.4 L986.0,1166.5 L988.0,1171.5 L990.0,1176.4 L992.0,1181.3 L994.0,1186.1 L996.0,1190.8 L998.0,1195.5 L1000.0,1200.0 L1002.0,1204.5 L1004.0,1208.8 L1006.0,1213.1 L1008.0,1217.2 L1010.0,1221.3 L1012.0,1225.2 L1014.0,1229.0 L1016.0,1232.7 L1018.0,1236.3 L1020.0,1239.8 L1022.0,1243.1 L1024.0,1246.3 L1026.0,1249.4 L1028.0,1252.4 L1030.0,1255.3 L1032.0,1258.0 L1034.0,1260.7 L1036.0,1263.2 L1038.0,1265.6 L1040.0,1267.9 L1042.0,1270.0 L1044.0,1272.1 L1046.0,1274.1 L1048.0,1276.0 L1050.0,1277.8 L1052.0,1279.4 L1054.0,1281.0 L1056.0,1282.5 L1058.0,1284.0 L1060.0,1285.3 L1062.0,1286.6 L1064.0,1287.7 L1066.0,1288.8 L1068.0,1289.9 L1070.0,1290.9 L1072.0,1291.8 L1074.0,1292.6 L1076.0,1293.4 L1078.0,1294.2 L1080.0,1294.9 L1082.0,1295.5 L1084.0,1296.1 L1086.0,1296.7 L1088.0,1297.2 L1090.0,1297.7 L1092.0,1298.1 L1094.0,1298.5 L1096.0,1298.9 L1098.0,1299.2 L1100.0,1299.6 L1102.0,1299.8 L1104.0,1300.1 L1106.0,1300.4 L1108.0,1300.6 L1110.0,1300.8 L1112.0,1301.0 L1114.0,1301.2 L1116.0,1301.3 L1118.0,1301.5 L1120.0,1301.6 L1122.0,1301.7 L1124.0,1301.8 L1126.0,1301.9 L1128.0,1302.0 L1130.0,1302.1 L1132.0,1302.2 L1134.0,1302.2 L1136.0,1302.3 L1138.0,1302.3 L1140.0,1302.4 L1142.0,1302.4 L1144.0,1302.5 L1146.0,1302.5 L1148.0,1302.5 L1150.0,1302.6 L1152.0,1302.6 L1154.0,1302.6 L1156.0,1302.6 L1158.0,1302.7 L1160.0,1302.7 L1162.0,1302.7 L1164.0,1302.7 L1166.0,1302.7 L1168.0,1302.7 L1170.0,1302.7 L1172.0,1302.7 L1174.0,1302.8 L1176.0,1302.8 L1178.0,1302.8 L1180.0,1302.8 L1182.0,1302.8 L1184.0,1302.8 L1186.0,1302.8 L1188.0,1302.8 L1190.0,1302.8 L1192.0,1302.8 L1194.0,1302.8 L1196.0,1302.8 L1198.0,1302.8 L1200.0,1302.8 L1202.0,1302.8 L1204.0,1302.8 L1206.0,1302.8 L1208.0,1302.8 L1210.0,1302.8 L1212.0,1302.8 L1214.0,1302.8 L1216.0,1302.8 L1218.0,1302.8 L1220.0,1302.8 L1222.0,1302.8 L1224.0,1302.8 L1226.0,1302.8 L1228.0,1302.8 L1230.0,1302.8 L1232.0,1302.8 L1234.0,1302.8 L1236.0,1302.8 L1238.0,1302.8 L1240.0,1302.8 L1242.0,1302.8 L1244.0,1302.8 L1246.0,1302.8 L1248.0,1302.8 L1250.0,1302.8 L1252.0,1302.8 L1254.0,1302.8 L1256.0,1302.8 L1258.0,1302.8 L1260.0,1302.8 L1262.0,1302.8 L1264.0,1302.8 L1266.0,1302.8 L1268.0,1302.8 L1270.0,1302.8 L1272.0,1302.8 L1274.0,1302.8 L1276.0,1302.8 L1278.0,1302.8 L1280.0,1302.8 L1282.0,1302.8 L1284.0,1302.8 L1286.0,1302.8 L1288.0,1302.8 L1290.0,1302.8 L1292.0,1302.8 L1294.0,1302.8 L1296.0,1302.8 L1298.0,1302.8 L1300.0,1302.8 L1302.0,1302.8 L1304.0,1302.8 L1306.0,1302.8 L1308.0,1302.8 L1310.0,1302.8 L1312.0,1302.8 L1314.0,1302.8 L1316.0,1302.8 L1318.0,1302.8 L1320.0,1302.8 L1322.0,1302.8 L1324.0,1302.8 L1326.0,1302.8 L1328.0,1302.8" fill="none" stroke="#ed7d31" stroke-width="3.5" stroke-linejoin="round" stroke-linecap="round"/>
<path d="M700.0,1302.8 L702.0,1302.8 L704.0,1302.8 L706.0,1302.8 L708.0,1302.8 L710.0,1302.8 L712.0,1302.8 L714.0,1302.8 L716.0,1302.8 L718.0,1302.8 L720.0,1302.8 L722.0,1302.8 L724.0,1302.8 L726.0,1302.8 L728.0,1302.8 L730.0,1302.8 L732.0,1302.8 L734.0,1302.8 L736.0,1302.8 L738.0,1302.8 L740.0,1302.8 L742.0,1302.8 L744.0,1302.8 L746.0,1302.8 L748.0,1302.8 L750.0,1302.8 L752.0,1302.8 L754.0,1302.8 L756.0,1302.8 L758.0,1302.8 L760.0,1302.8 L762.0,1302.8 L764.0,1302.8 L766.0,1302.8 L768.0,1302.8 L770.0,1302.8 L772.0,1302.8 L774.0,1302.8 L776.0,1302.8 L778.0,1302.8 L780.0,1302.7 L782.0,1302.6 L784.0,1302.2 L786.0,1301.4 L788.0,1300.0 L790.0,1297.9 L792.0,1295.3 L794.0,1292.2 L796.0,1288.8 L798.0,1285.2 L800.0,1281.4 L802.0,1277.5 L804.0,1273.4 L806.0,1269.2 L808.0,1264.8 L810.0,1260.3 L812.0,1255.6 L814.0,1250.8 L816.0,1245.8 L818.0,1240.7 L820.0,1235.5 L822.0,1230.1 L824.0,1224.6 L826.0,1219.0 L828.0,1213.2 L830.0,1207.4 L832.0,1201.4 L834.0,1195.4 L836.0,1189.3 L838.0,1183.1 L840.0,1176.8 L842.0,1170.5 L844.0,1164.2 L846.0,1157.8 L848.0,1151.4 L850.0,1145.0 L852.0,1138.6 L854.0,1132.2 L856.0,1125.9 L858.0,1119.6 L860.0,1113.4 L862.0,1107.3 L864.0,1101.3 L866.0,1095.3 L868.0,1089.5 L870.0,1083.9 L872.0,1078.4 L874.0,1073.0 L876.0,1067.9 L878.0,1062.9 L880.0,1058.2 L882.0,1053.6 L884.0,1049.4 L886.0,1045.3 L888.0,1041.6 L890.0,1038.1 L892.0,1034.9 L894.0,1031.9 L896.0,1029.3 L898.0,1027.0 L900.0,1025.0 L902.0,1023.3 L904.0,1022.0 L906.0,1021.0 L908.0,1020.3 L910.0,1020.0 L912.0,1020.0 L914.0,1020.3 L916.0,1021.0 L918.0,1022.0 L920.0,1023.3 L922.0,1025.0 L924.0,1027.0 L926.0,1029.3 L928.0,1031.9 L930.0,1034.8 L932.0,1037.9 L934.0,1041.4 L936.0,1045.1 L938.0,1049.1 L940.0,1053.3 L942.0,1057.7 L944.0,1062.4 L946.0,1067.2 L948.0,1072.2 L950.0,1077.4 L952.0,1082.7 L954.0,1088.1 L956.0,1093.7 L958.0,1099.4 L960.0,1105.1 L962.0,1110.9 L964.0,1116.8 L966.0,1122.7 L968.0,1128.6 L970.0,1134.5 L972.0,1140.4 L974.0,1146.3 L976.0,1152.2 L978.0,1158.0 L980.0,1163.8 L982.0,1169.5 L984.0,1175.1 L986.0,1180.6 L988.0,1186.0 L990.0,1191.3 L992.0,1196.5 L994.0,1201.6 L996.0,1206.5 L998.0,1211.4 L1000.0,1216.0 L1002.0,1220.6 L1004.0,1225.0 L1006.0,1229.2 L1008.0,1233.3 L1010.0,1237.3 L1012.0,1241.1 L1014.0,1244.7 L1016.0,1248.2 L1018.0,1251.5 L1020.0,1254.7 L1022.0,1257.8 L1024.0,1260.7 L1026.0,1263.5 L1028.0,1266.1 L1030.0,1268.6 L1032.0,1271.0 L1034.0,1273.2 L1036.0,1275.3 L1038.0,1277.3 L1040.0,1279.2 L1042.0,1280.9 L1044.0,1282.6 L1046.0,1284.2 L1048.0,1285.6 L1050.0,1287.0 L1052.0,1288.2 L1054.0,1289.4 L1056.0,1290.5 L1058.0,1291.5 L1060.0,1292.5 L1062.0,1293.4 L1064.0,1294.2 L1066.0,1295.0 L1068.0,1295.6 L1070.0,1296.3 L1072.0,1296.9 L1074.0,1297.4 L1076.0,1297.9 L1078.0,1298.4 L1080.0,1298.8 L1082.0,1299.2 L1084.0,1299.5 L1086.0,1299.9 L1088.0,1300.2 L1090.0,1300.4 L1092.0,1300.7 L1094.0,1300.9 L1096.0,1301.1 L1098.0,1301.3 L1100.0,1301.4 L1102.0,1301.6 L1104.0,1301.7 L1106.0,1301.8 L1108.0,1301.9 L1110.0,1302.0 L1112.0,1302.1 L1114.0,1302.2 L1116.0,1302.3 L1118.0,1302.3 L1120.0,1302.4 L1122.0,1302.4 L1124.0,1302.5 L1126.0,1302.5 L1128.0,1302.5 L1130.0,1302.6 L1132.0,1302.6 L1134.0,1302.6 L1136.0,1302.7 L1138.0,1302.7 L1140.0,1302.7 L1142.0,1302.7 L1144.0,1302.7 L1146.0,1302.7 L1148.0,1302.7 L1150.0,1302.7 L1152.0,1302.8 L1154.0,1302.8 L1156.0,1302.8 L1158.0,1302.8 L1160.0,1302.8 L1162.0,1302.8 L1164.0,1302.8 L1166.0,1302.8 L1168.0,1302.8 L1170.0,1302.8 L1172.0,1302.8 L1174.0,1302.8 L1176.0,1302.8 L1178.0,1302.8 L1180.0,1302.8 L1182.0,1302.8 L1184.0,1302.8 L1186.0,1302.8 L1188.0,1302.8 L1190.0,1302.8 L1192.0,1302.8 L1194.0,1302.8 L1196.0,1302.8 L1198.0,1302.8 L1200.0,1302.8 L1202.0,1302.8 L1204.0,1302.8 L1206.0,1302.8 L1208.0,1302.8 L1210.0,1302.8 L1212.0,1302.8 L1214.0,1302.8 L1216.0,1302.8 L1218.0,1302.8 L1220.0,1302.8 L1222.0,1302.8 L1224.0,1302.8 L1226.0,1302.8 L1228.0,1302.8 L1230.0,1302.8 L1232.0,1302.8 L1234.0,1302.8 L1236.0,1302.8 L1238.0,1302.8 L1240.0,1302.8 L1242.0,1302.8 L1244.0,1302.8 L1246.0,1302.8 L1248.0,1302.8 L1250.0,1302.8 L1252.0,1302.8 L1254.0,1302.8 L1256.0,1302.8 L1258.0,1302.8 L1260.0,1302.8 L1262.0,1302.8 L1264.0,1302.8 L1266.0,1302.8 L1268.0,1302.8 L1270.0,1302.8 L1272.0,1302.8 L1274.0,1302.8 L1276.0,1302.8 L1278.0,1302.8 L1280.0,1302.8 L1282.0,1302.8 L1284.0,1302.8 L1286.0,1302.8 L1288.0,1302.8 L1290.0,1302.8 L1292.0,1302.8 L1294.0,1302.8 L1296.0,1302.8 L1298.0,1302.8 L1300.0,1302.8 L1302.0,1302.8 L1304.0,1302.8 L1306.0,1302.8 L1308.0,1302.8 L1310.0,1302.8 L1312.0,1302.8 L1314.0,1302.8 L1316.0,1302.8 L1318.0,1302.8 L1320.0,1302.8 L1322.0,1302.8 L1324.0,1302.8 L1326.0,1302.8 L1328.0,1302.8" fill="none" stroke="#548235" stroke-width="3.5" stroke-linejoin="round" stroke-linecap="round"/>
<path d="M700.0,1302.8 L702.0,1302.8 L704.0,1302.8 L706.0,1302.8 L708.0,1302.8 L710.0,1302.8 L712.0,1302.8 L714.0,1302.8 L716.0,1302.8 L718.0,1302.8 L720.0,1302.8 L722.0,1302.8 L724.0,1302.8 L726.0,1302.8 L728.0,1302.8 L730.0,1302.8 L732.0,1302.8 L734.0,1302.8 L736.0,1302.8 L738.0,1302.8 L740.0,1302.8 L742.0,1302.8 L744.0,1302.8 L746.0,1302.8 L748.0,1302.8 L750.0,1302.8 L752.0,1302.8 L754.0,1302.8 L756.0,1302.8 L758.0,1302.8 L760.0,1302.8 L762.0,1302.8 L764.0,1302.8 L766.0,1302.8 L768.0,1302.8 L770.0,1302.8 L772.0,1302.7 L774.0,1302.4 L776.0,1301.9 L778.0,1300.8 L780.0,1299.1 L782.0,1296.8 L784.0,1293.9 L786.0,1290.7 L788.0,1287.1 L790.0,1283.4 L792.0,1279.6 L794.0,1275.6 L796.0,1271.4 L798.0,1267.1 L800.0,1262.6 L802.0,1258.0 L804.0,1253.2 L806.0,1248.3 L808.0,1243.3 L810.0,1238.1 L812.0,1232.8 L814.0,1227.3 L816.0,1221.8 L818.0,1216.1 L820.0,1210.3 L822.0,1204.3 L824.0,1198.3 L826.0,1192.2 L828.0,1186.0 L830.0,1179.8 L832.0,1173.5 L834.0,1167.1 L836.0,1160.7 L838.0,1154.3 L840.0,1147.8 L842.0,1141.3 L844.0,1134.9 L846.0,1128.5 L848.0,1122.1 L850.0,1115.7 L852.0,1109.4 L854.0,1103.2 L856.0,1097.1 L858.0,1091.1 L860.0,1085.3 L862.0,1079.5 L864.0,1073.9 L866.0,1068.5 L868.0,1063.2 L870.0,1058.2 L872.0,1053.3 L874.0,1048.7 L876.0,1044.3 L878.0,1040.2 L880.0,1036.3 L882.0,1032.7 L884.0,1029.3 L886.0,1026.3 L888.0,1023.5 L890.0,1021.1 L892.0,1018.9 L894.0,1017.1 L896.0,1015.6 L898.0,1014.4 L900.0,1013.6 L902.0,1013.1 L904.0,1012.9 L906.0,1013.1 L908.0,1013.6 L910.0,1014.4 L912.0,1015.6 L914.0,1017.1 L916.0,1019.0 L918.0,1021.1 L920.0,1023.6 L922.0,1026.4 L924.0,1029.4 L926.0,1032.8 L928.0,1036.5 L930.0,1040.4 L932.0,1044.5 L934.0,1048.9 L936.0,1053.6 L938.0,1058.5 L940.0,1063.5 L942.0,1068.8 L944.0,1074.2 L946.0,1079.8 L948.0,1085.6 L950.0,1091.4 L952.0,1097.4 L954.0,1103.5 L956.0,1109.7 L958.0,1116.0 L960.0,1122.3 L962.0,1128.7 L964.0,1135.1 L966.0,1141.5 L968.0,1147.9 L970.0,1154.3 L972.0,1160.7 L974.0,1167.0 L976.0,1173.3 L978.0,1179.5 L980.0,1185.7 L982.0,1191.8 L984.0,1197.8 L986.0,1203.7 L988.0,1209.5 L990.0,1215.2 L992.0,1220.7 L994.0,1226.2 L996.0,1231.5 L998.0,1236.7 L1000.0,1241.7 L1002.0,1246.6 L1004.0,1251.4 L1006.0,1256.0 L1008.0,1260.5 L1010.0,1264.8 L1012.0,1268.9 L1014.0,1272.9 L1016.0,1276.8 L1018.0,1280.5 L1020.0,1284.1 L1022.0,1287.5 L1024.0,1290.7 L1026.0,1293.7 L1028.0,1296.5 L1030.0,1298.8 L1032.0,1300.5 L1034.0,1301.7 L1036.0,1302.3 L1038.0,1302.6 L1040.0,1302.8 L1042.0,1302.8 L1044.0,1302.8 L1046.0,1302.8 L1048.0,1302.8 L1050.0,1302.8 L1052.0,1302.8 L1054.0,1302.8 L1056.0,1302.8 L1058.0,1302.8 L1060.0,1302.8 L1062.0,1302.8 L1064.0,1302.8 L1066.0,1302.8 L1068.0,1302.8 L1070.0,1302.8 L1072.0,1302.8 L1074.0,1302.8 L1076.0,1302.8 L1078.0,1302.8 L1080.0,1302.8 L1082.0,1302.8 L1084.0,1302.8 L1086.0,1302.8 L1088.0,1302.8 L1090.0,1302.8 L1092.0,1302.8 L1094.0,1302.8 L1096.0,1302.8 L1098.0,1302.8 L1100.0,1302.8 L1102.0,1302.8 L1104.0,1302.8 L1106.0,1302.8 L1108.0,1302.8 L1110.0,1302.8 L1112.0,1302.8 L1114.0,1302.8 L1116.0,1302.8 L1118.0,1302.8 L1120.0,1302.8 L1122.0,1302.8 L1124.0,1302.8 L1126.0,1302.8 L1128.0,1302.8 L1130.0,1302.8 L1132.0,1302.8 L1134.0,1302.8 L1136.0,1302.8 L1138.0,1302.8 L1140.0,1302.8 L1142.0,1302.8 L1144.0,1302.8 L1146.0,1302.8 L1148.0,1302.8 L1150.0,1302.8 L1152.0,1302.8 L1154.0,1302.8 L1156.0,1302.8 L1158.0,1302.8 L1160.0,1302.8 L1162.0,1302.8 L1164.0,1302.8 L1166.0,1302.8 L1168.0,1302.8 L1170.0,1302.8 L1172.0,1302.8 L1174.0,1302.8 L1176.0,1302.8 L1178.0,1302.8 L1180.0,1302.8 L1182.0,1302.8 L1184.0,1302.8 L1186.0,1302.8 L1188.0,1302.8 L1190.0,1302.8 L1192.0,1302.8 L1194.0,1302.8 L1196.0,1302.8 L1198.0,1302.8 L1200.0,1302.8 L1202.0,1302.8 L1204.0,1302.8 L1206.0,1302.8 L1208.0,1302.8 L1210.0,1302.8 L1212.0,1302.8 L1214.0,1302.8 L1216.0,1302.8 L1218.0,1302.8 L1220.0,1302.8 L1222.0,1302.8 L1224.0,1302.8 L1226.0,1302.8 L1228.0,1302.8 L1230.0,1302.8 L1232.0,1302.8 L1234.0,1302.8 L1236.0,1302.8 L1238.0,1302.8 L1240.0,1302.8 L1242.0,1302.8 L1244.0,1302.8 L1246.0,1302.8 L1248.0,1302.8 L1250.0,1302.8 L1252.0,1302.8 L1254.0,1302.8 L1256.0,1302.8 L1258.0,1302.8 L1260.0,1302.8 L1262.0,1302.8 L1264.0,1302.8 L1266.0,1302.8 L1268.0,1302.8 L1270.0,1302.8 L1272.0,1302.8 L1274.0,1302.8 L1276.0,1302.8 L1278.0,1302.8 L1280.0,1302.8 L1282.0,1302.8 L1284.0,1302.8 L1286.0,1302.8 L1288.0,1302.8 L1290.0,1302.8 L1292.0,1302.8 L1294.0,1302.8 L1296.0,1302.8 L1298.0,1302.8 L1300.0,1302.8 L1302.0,1302.8 L1304.0,1302.8 L1306.0,1302.8 L1308.0,1302.8 L1310.0,1302.8 L1312.0,1302.8 L1314.0,1302.8 L1316.0,1302.8 L1318.0,1302.8 L1320.0,1302.8 L1322.0,1302.8 L1324.0,1302.8 L1326.0,1302.8 L1328.0,1302.8" fill="none" stroke="#70ad47" stroke-width="3.5" stroke-linejoin="round" stroke-linecap="round"/>
<path d="M700.0,1302.8 L702.0,1302.8 L704.0,1302.8 L706.0,1302.8 L708.0,1302.8 L710.0,1302.8 L712.0,1302.8 L714.0,1302.8 L716.0,1302.8 L718.0,1302.8 L720.0,1302.8 L722.0,1302.8 L724.0,1302.8 L726.0,1302.8 L728.0,1302.8 L730.0,1302.8 L732.0,1302.8 L734.0,1302.8 L736.0,1302.8 L738.0,1302.8 L740.0,1302.8 L742.0,1302.8 L744.0,1302.8 L746.0,1302.8 L748.0,1302.8 L750.0,1302.8 L752.0,1302.8 L754.0,1302.8 L756.0,1302.8 L758.0,1302.8 L760.0,1302.8 L762.0,1302.8 L764.0,1302.8 L766.0,1302.8 L768.0,1302.8 L770.0,1302.8 L772.0,1302.8 L774.0,1302.8 L776.0,1302.8 L778.0,1302.6 L780.0,1302.3 L782.0,1301.6 L784.0,1300.4 L786.0,1298.5 L788.0,1296.1 L790.0,1293.3 L792.0,1290.2 L794.0,1286.8 L796.0,1283.3 L798.0,1279.7 L800.0,1275.9 L802.0,1272.0 L804.0,1268.0 L806.0,1263.8 L808.0,1259.5 L810.0,1255.0 L812.0,1250.4 L814.0,1245.7 L816.0,1240.9 L818.0,1235.9 L820.0,1230.9 L822.0,1225.7 L824.0,1220.4 L826.0,1215.0 L828.0,1209.5 L830.0,1203.9 L832.0,1198.2 L834.0,1192.5 L836.0,1186.7 L838.0,1180.8 L840.0,1174.9 L842.0,1168.9 L844.0,1163.0 L846.0,1157.0 L848.0,1151.0 L850.0,1145.0 L852.0,1139.0 L854.0,1133.1 L856.0,1127.2 L858.0,1121.4 L860.0,1115.6 L862.0,1109.9 L864.0,1104.3 L866.0,1098.9 L868.0,1093.5 L870.0,1088.3 L872.0,1083.2 L874.0,1078.3 L876.0,1073.6 L878.0,1069.0 L880.0,1064.7 L882.0,1060.6 L884.0,1056.6 L886.0,1053.0 L888.0,1049.5 L890.0,1046.3 L892.0,1043.4 L894.0,1040.7 L896.0,1038.3 L898.0,1036.2 L900.0,1034.4 L902.0,1032.9 L904.0,1031.7 L906.0,1030.8 L908.0,1030.2 L910.0,1029.8 L912.0,1029.8 L914.0,1030.1 L916.0,1030.8 L918.0,1031.7 L920.0,1032.9 L922.0,1034.4 L924.0,1036.1 L926.0,1038.2 L928.0,1040.6 L930.0,1043.2 L932.0,1046.1 L934.0,1049.2 L936.0,1052.6 L938.0,1056.2 L940.0,1060.0 L942.0,1064.0 L944.0,1068.2 L946.0,1072.7 L948.0,1077.3 L950.0,1082.0 L952.0,1086.9 L954.0,1091.9 L956.0,1097.1 L958.0,1102.3 L960.0,1107.7 L962.0,1113.1 L964.0,1118.6 L966.0,1124.1 L968.0,1129.7 L970.0,1135.2 L972.0,1140.9 L974.0,1146.5 L976.0,1152.1 L978.0,1157.6 L980.0,1163.2 L982.0,1168.6 L984.0,1174.1 L986.0,1179.4 L988.0,1184.7 L990.0,1189.9 L992.0,1195.1 L994.0,1200.1 L996.0,1205.0 L998.0,1209.8 L1000.0,1214.5 L1002.0,1219.1 L1004.0,1223.6 L1006.0,1227.9 L1008.0,1232.1 L1010.0,1236.2 L1012.0,1240.1 L1014.0,1244.0 L1016.0,1247.6 L1018.0,1251.2 L1020.0,1254.6 L1022.0,1257.8 L1024.0,1261.0 L1026.0,1264.0 L1028.0,1266.8 L1030.0,1269.6 L1032.0,1272.2 L1034.0,1274.7 L1036.0,1277.0 L1038.0,1279.3 L1040.0,1281.4 L1042.0,1283.4 L1044.0,1285.4 L1046.0,1287.2 L1048.0,1288.9 L1050.0,1290.5 L1052.0,1292.0 L1054.0,1293.4 L1056.0,1294.7 L1058.0,1296.0 L1060.0,1297.2 L1062.0,1298.3 L1064.0,1299.3 L1066.0,1300.2 L1068.0,1301.0 L1070.0,1301.7 L1072.0,1302.2 L1074.0,1302.5 L1076.0,1302.7 L1078.0,1302.8 L1080.0,1302.8 L1082.0,1302.8 L1084.0,1302.8 L1086.0,1302.8 L1088.0,1302.8 L1090.0,1302.8 L1092.0,1302.8 L1094.0,1302.8 L1096.0,1302.8 L1098.0,1302.8 L1100.0,1302.8 L1102.0,1302.8 L1104.0,1302.8 L1106.0,1302.8 L1108.0,1302.8 L1110.0,1302.8 L1112.0,1302.8 L1114.0,1302.8 L1116.0,1302.8 L1118.0,1302.8 L1120.0,1302.8 L1122.0,1302.8 L1124.0,1302.8 L1126.0,1302.8 L1128.0,1302.8 L1130.0,1302.8 L1132.0,1302.8 L1134.0,1302.8 L1136.0,1302.8 L1138.0,1302.8 L1140.0,1302.8 L1142.0,1302.8 L1144.0,1302.8 L1146.0,1302.8 L1148.0,1302.8 L1150.0,1302.8 L1152.0,1302.8 L1154.0,1302.8 L1156.0,1302.8 L1158.0,1302.8 L1160.0,1302.8 L1162.0,1302.8 L1164.0,1302.8 L1166.0,1302.8 L1168.0,1302.8 L1170.0,1302.8 L1172.0,1302.8 L1174.0,1302.8 L1176.0,1302.8 L1178.0,1302.8 L1180.0,1302.8 L1182.0,1302.8 L1184.0,1302.8 L1186.0,1302.8 L1188.0,1302.8 L1190.0,1302.8 L1192.0,1302.8 L1194.0,1302.8 L1196.0,1302.8 L1198.0,1302.8 L1200.0,1302.8 L1202.0,1302.8 L1204.0,1302.8 L1206.0,1302.8 L1208.0,1302.8 L1210.0,1302.8 L1212.0,1302.8 L1214.0,1302.8 L1216.0,1302.8 L1218.0,1302.8 L1220.0,1302.8 L1222.0,1302.8 L1224.0,1302.8 L1226.0,1302.8 L1228.0,1302.8 L1230.0,1302.8 L1232.0,1302.8 L1234.0,1302.8 L1236.0,1302.8 L1238.0,1302.8 L1240.0,1302.8 L1242.0,1302.8 L1244.0,1302.8 L1246.0,1302.8 L1248.0,1302.8 L1250.0,1302.8 L1252.0,1302.8 L1254.0,1302.8 L1256.0,1302.8 L1258.0,1302.8 L1260.0,1302.8 L1262.0,1302.8 L1264.0,1302.8 L1266.0,1302.8 L1268.0,1302.8 L1270.0,1302.8 L1272.0,1302.8 L1274.0,1302.8 L1276.0,1302.8 L1278.0,1302.8 L1280.0,1302.8 L1282.0,1302.8 L1284.0,1302.8 L1286.0,1302.8 L1288.0,1302.8 L1290.0,1302.8 L1292.0,1302.8 L1294.0,1302.8 L1296.0,1302.8 L1298.0,1302.8 L1300.0,1302.8 L1302.0,1302.8 L1304.0,1302.8 L1306.0,1302.8 L1308.0,1302.8 L1310.0,1302.8 L1312.0,1302.8 L1314.0,1302.8 L1316.0,1302.8 L1318.0,1302.8 L1320.0,1302.8 L1322.0,1302.8 L1324.0,1302.8 L1326.0,1302.8 L1328.0,1302.8" fill="none" stroke="#c00000" stroke-width="3.5" stroke-linejoin="round" stroke-linecap="round"/>
<path d="M700.0,1302.8 L702.0,1302.8 L704.0,1302.8 L706.0,1302.8 L708.0,1302.8 L710.0,1302.8 L712.0,1302.8 L714.0,1302.8 L716.0,1302.8 L718.0,1302.8 L720.0,1302.8 L722.0,1302.8 L724.0,1302.8 L726.0,1302.8 L728.0,1302.8 L730.0,1302.8 L732.0,1302.8 L734.0,1302.8 L736.0,1302.8 L738.0,1302.8 L740.0,1302.8 L742.0,1302.8 L744.0,1302.8 L746.0,1302.8 L748.0,1302.8 L750.0,1302.8 L752.0,1302.8 L754.0,1302.8 L756.0,1302.8 L758.0,1302.8 L760.0,1302.8 L762.0,1302.8 L764.0,1302.8 L766.0,1302.8 L768.0,1302.8 L770.0,1302.8 L772.0,1302.8 L774.0,1302.8 L776.0,1302.8 L778.0,1302.8 L780.0,1302.8 L782.0,1302.8 L784.0,1302.6 L786.0,1302.3 L788.0,1301.5 L790.0,1300.2 L792.0,1298.2 L794.0,1295.6 L796.0,1292.5 L798.0,1289.1 L800.0,1285.4 L802.0,1281.6 L804.0,1277.6 L806.0,1273.4 L808.0,1269.1 L810.0,1264.6 L812.0,1260.0 L814.0,1255.2 L816.0,1250.3 L818.0,1245.2 L820.0,1239.9 L822.0,1234.6 L824.0,1229.1 L826.0,1223.4 L828.0,1217.6 L830.0,1211.8 L832.0,1205.8 L834.0,1199.7 L836.0,1193.5 L838.0,1187.2 L840.0,1180.8 L842.0,1174.4 L844.0,1168.0 L846.0,1161.4 L848.0,1154.9 L850.0,1148.4 L852.0,1141.8 L854.0,1135.3 L856.0,1128.8 L858.0,1122.3 L860.0,1115.9 L862.0,1109.6 L864.0,1103.3 L866.0,1097.2 L868.0,1091.2 L870.0,1085.3 L872.0,1079.6 L874.0,1074.0 L876.0,1068.6 L878.0,1063.5 L880.0,1058.5 L882.0,1053.7 L884.0,1049.2 L886.0,1045.0 L888.0,1041.0 L890.0,1037.3 L892.0,1033.9 L894.0,1030.8 L896.0,1028.0 L898.0,1025.5 L900.0,1023.4 L902.0,1021.6 L904.0,1020.1 L906.0,1018.9 L908.0,1018.2 L910.0,1017.7 L912.0,1017.6 L914.0,1017.9 L916.0,1018.5 L918.0,1019.4 L920.0,1020.7 L922.0,1022.3 L924.0,1024.3 L926.0,1026.6 L928.0,1029.2 L930.0,1032.1 L932.0,1035.2 L934.0,1038.7 L936.0,1042.5 L938.0,1046.5 L940.0,1050.7 L942.0,1055.2 L944.0,1059.9 L946.0,1064.9 L948.0,1070.0 L950.0,1075.2 L952.0,1080.7 L954.0,1086.2 L956.0,1091.9 L958.0,1097.7 L960.0,1103.6 L962.0,1109.6 L964.0,1115.6 L966.0,1121.7 L968.0,1127.8 L970.0,1133.9 L972.0,1140.1 L974.0,1146.2 L976.0,1152.2 L978.0,1158.3 L980.0,1164.2 L982.0,1170.1 L984.0,1176.0 L986.0,1181.7 L988.0,1187.4 L990.0,1192.9 L992.0,1198.3 L994.0,1203.6 L996.0,1208.8 L998.0,1213.9 L1000.0,1218.8 L1002.0,1223.5 L1004.0,1228.2 L1006.0,1232.6 L1008.0,1236.9 L1010.0,1241.1 L1012.0,1245.1 L1014.0,1249.0 L1016.0,1252.7 L1018.0,1256.2 L1020.0,1259.6 L1022.0,1262.9 L1024.0,1266.0 L1026.0,1268.9 L1028.0,1271.7 L1030.0,1274.4 L1032.0,1276.9 L1034.0,1279.3 L1036.0,1281.6 L1038.0,1283.7 L1040.0,1285.7 L1042.0,1287.6 L1044.0,1289.4 L1046.0,1291.1 L1048.0,1292.7 L1050.0,1294.2 L1052.0,1295.5 L1054.0,1296.8 L1056.0,1298.0 L1058.0,1299.1 L1060.0,1300.1 L1062.0,1301.0 L1064.0,1301.7 L1066.0,1302.2 L1068.0,1302.5 L1070.0,1302.7 L1072.0,1302.8 L1074.0,1302.8 L1076.0,1302.8 L1078.0,1302.8 L1080.0,1302.8 L1082.0,1302.8 L1084.0,1302.8 L1086.0,1302.8 L1088.0,1302.8 L1090.0,1302.8 L1092.0,1302.8 L1094.0,1302.8 L1096.0,1302.8 L1098.0,1302.8 L1100.0,1302.8 L1102.0,1302.8 L1104.0,1302.8 L1106.0,1302.8 L1108.0,1302.8 L1110.0,1302.8 L1112.0,1302.8 L1114.0,1302.8 L1116.0,1302.8 L1118.0,1302.8 L1120.0,1302.8 L1122.0,1302.8 L1124.0,1302.8 L1126.0,1302.8 L1128.0,1302.8 L1130.0,1302.8 L1132.0,1302.8 L1134.0,1302.8 L1136.0,1302.8 L1138.0,1302.8 L1140.0,1302.8 L1142.0,1302.8 L1144.0,1302.8 L1146.0,1302.8 L1148.0,1302.8 L1150.0,1302.8 L1152.0,1302.8 L1154.0,1302.8 L1156.0,1302.8 L1158.0,1302.8 L1160.0,1302.8 L1162.0,1302.8 L1164.0,1302.8 L1166.0,1302.8 L1168.0,1302.8 L1170.0,1302.8 L1172.0,1302.8 L1174.0,1302.8 L1176.0,1302.8 L1178.0,1302.8 L1180.0,1302.8 L1182.0,1302.8 L1184.0,1302.8 L1186.0,1302.8 L1188.0,1302.8 L1190.0,1302.8 L1192.0,1302.8 L1194.0,1302.8 L1196.0,1302.8 L1198.0,1302.8 L1200.0,1302.8 L1202.0,1302.8 L1204.0,1302.8 L1206.0,1302.8 L1208.0,1302.8 L1210.0,1302.8 L1212.0,1302.8 L1214.0,1302.8 L1216.0,1302.8 L1218.0,1302.8 L1220.0,1302.8 L1222.0,1302.8 L1224.0,1302.8 L1226.0,1302.8 L1228.0,1302.8 L1230.0,1302.8 L1232.0,1302.8 L1234.0,1302.8 L1236.0,1302.8 L1238.0,1302.8 L1240.0,1302.8 L1242.0,1302.8 L1244.0,1302.8 L1246.0,1302.8 L1248.0,1302.8 L1250.0,1302.8 L1252.0,1302.8 L1254.0,1302.8 L1256.0,1302.8 L1258.0,1302.8 L1260.0,1302.8 L1262.0,1302.8 L1264.0,1302.8 L1266.0,1302.8 L1268.0,1302.8 L1270.0,1302.8 L1272.0,1302.8 L1274.0,1302.8 L1276.0,1302.8 L1278.0,1302.8 L1280.0,1302.8 L1282.0,1302.8 L1284.0,1302.8 L1286.0,1302.8 L1288.0,1302.8 L1290.0,1302.8 L1292.0,1302.8 L1294.0,1302.8 L1296.0,1302.8 L1298.0,1302.8 L1300.0,1302.8 L1302.0,1302.8 L1304.0,1302.8 L1306.0,1302.8 L1308.0,1302.8 L1310.0,1302.8 L1312.0,1302.8 L1314.0,1302.8 L1316.0,1302.8 L1318.0,1302.8 L1320.0,1302.8 L1322.0,1302.8 L1324.0,1302.8 L1326.0,1302.8 L1328.0,1302.8" fill="none" stroke="#ffc000" stroke-width="3.5" stroke-linejoin="round" stroke-linecap="round"/>
<path d="M700.0,1302.8 L702.0,1302.8 L704.0,1302.7 L706.0,1302.7 L708.0,1302.7 L710.0,1302.6 L712.0,1302.5 L714.0,1302.4 L716.0,1302.2 L718.0,1302.0 L720.0,1301.8 L722.0,1301.5 L724.0,1301.1 L726.0,1300.7 L728.0,1300.2 L730.0,1299.8 L732.0,1299.3 L734.0,1298.9 L736.0,1298.6 L738.0,1298.3 L740.0,1298.1 L742.0,1298.1 L744.0,1298.1 L746.0,1298.3 L748.0,1298.6 L750.0,1298.9 L752.0,1299.3 L754.0,1299.8 L756.0,1300.2 L758.0,1300.7 L760.0,1301.1 L762.0,1301.5 L764.0,1301.8 L766.0,1302.0 L768.0,1302.2 L770.0,1302.4 L772.0,1302.5 L774.0,1302.6 L776.0,1302.7 L778.0,1302.7 L780.0,1302.7 L782.0,1302.7 L784.0,1302.5 L786.0,1302.1 L788.0,1301.2 L790.0,1299.6 L792.0,1297.3 L794.0,1294.4 L796.0,1291.0 L798.0,1287.3 L800.0,1283.4 L802.0,1279.2 L804.0,1275.0 L806.0,1270.5 L808.0,1265.9 L810.0,1261.1 L812.0,1256.1 L814.0,1251.0 L816.0,1245.7 L818.0,1240.3 L820.0,1234.7 L822.0,1228.9 L824.0,1223.0 L826.0,1217.0 L828.0,1210.9 L830.0,1204.6 L832.0,1198.2 L834.0,1191.7 L836.0,1185.1 L838.0,1178.4 L840.0,1171.7 L842.0,1164.8 L844.0,1158.0 L846.0,1151.0 L848.0,1144.1 L850.0,1137.2 L852.0,1130.2 L854.0,1123.3 L856.0,1116.4 L858.0,1109.5 L860.0,1102.8 L862.0,1096.1 L864.0,1089.5 L866.0,1083.0 L868.0,1076.6 L870.0,1070.4 L872.0,1064.4 L874.0,1058.5 L876.0,1052.9 L878.0,1047.4 L880.0,1042.2 L882.0,1037.2 L884.0,1032.5 L886.0,1028.1 L888.0,1024.0 L890.0,1020.1 L892.0,1016.6 L894.0,1013.4 L896.0,1010.5 L898.0,1007.9 L900.0,1005.7 L902.0,1003.9 L904.0,1002.4 L906.0,1001.3 L908.0,1000.5 L910.0,1000.2 L912.0,1000.2 L914.0,1000.6 L916.0,1001.3 L918.0,1002.4 L920.0,1003.9 L922.0,1005.8 L924.0,1008.0 L926.0,1010.5 L928.0,1013.5 L930.0,1016.7 L932.0,1020.3 L934.0,1024.1 L936.0,1028.3 L938.0,1032.8 L940.0,1037.5 L942.0,1042.5 L944.0,1047.7 L946.0,1053.2 L948.0,1058.8 L950.0,1064.7 L952.0,1070.7 L954.0,1076.9 L956.0,1083.3 L958.0,1089.8 L960.0,1096.4 L962.0,1103.0 L964.0,1109.8 L966.0,1116.6 L968.0,1123.5 L970.0,1130.4 L972.0,1137.3 L974.0,1144.2 L976.0,1151.0 L978.0,1157.9 L980.0,1164.7 L982.0,1171.4 L984.0,1178.1 L986.0,1184.7 L988.0,1191.2 L990.0,1197.5 L992.0,1203.8 L994.0,1210.0 L996.0,1216.0 L998.0,1221.9 L1000.0,1227.6 L1002.0,1233.2 L1004.0,1238.7 L1006.0,1243.9 L1008.0,1249.1 L1010.0,1254.0 L1012.0,1258.8 L1014.0,1263.4 L1016.0,1267.9 L1018.0,1272.2 L1020.0,1276.3 L1022.0,1280.3 L1024.0,1284.1 L1026.0,1287.7 L1028.0,1291.1 L1030.0,1294.3 L1032.0,1297.0 L1034.0,1299.3 L1036.0,1300.9 L1038.0,1301.9 L1040.0,1302.5 L1042.0,1302.7 L1044.0,1302.8 L1046.0,1302.8 L1048.0,1302.8 L1050.0,1302.8 L1052.0,1302.8 L1054.0,1302.8 L1056.0,1302.8 L1058.0,1302.8 L1060.0,1302.8 L1062.0,1302.8 L1064.0,1302.8 L1066.0,1302.8 L1068.0,1302.8 L1070.0,1302.8 L1072.0,1302.8 L1074.0,1302.8 L1076.0,1302.8 L1078.0,1302.8 L1080.0,1302.8 L1082.0,1302.8 L1084.0,1302.8 L1086.0,1302.8 L1088.0,1302.8 L1090.0,1302.8 L1092.0,1302.8 L1094.0,1302.8 L1096.0,1302.8 L1098.0,1302.8 L1100.0,1302.8 L1102.0,1302.8 L1104.0,1302.8 L1106.0,1302.8 L1108.0,1302.8 L1110.0,1302.8 L1112.0,1302.8 L1114.0,1302.8 L1116.0,1302.8 L1118.0,1302.8 L1120.0,1302.8 L1122.0,1302.8 L1124.0,1302.8 L1126.0,1302.8 L1128.0,1302.8 L1130.0,1302.8 L1132.0,1302.8 L1134.0,1302.8 L1136.0,1302.8 L1138.0,1302.8 L1140.0,1302.8 L1142.0,1302.8 L1144.0,1302.8 L1146.0,1302.8 L1148.0,1302.8 L1150.0,1302.8 L1152.0,1302.8 L1154.0,1302.8 L1156.0,1302.8 L1158.0,1302.8 L1160.0,1302.8 L1162.0,1302.8 L1164.0,1302.8 L1166.0,1302.8 L1168.0,1302.8 L1170.0,1302.8 L1172.0,1302.8 L1174.0,1302.8 L1176.0,1302.8 L1178.0,1302.8 L1180.0,1302.8 L1182.0,1302.8 L1184.0,1302.8 L1186.0,1302.8 L1188.0,1302.8 L1190.0,1302.8 L1192.0,1302.8 L1194.0,1302.8 L1196.0,1302.8 L1198.0,1302.8 L1200.0,1302.8 L1202.0,1302.8 L1204.0,1302.8 L1206.0,1302.8 L1208.0,1302.8 L1210.0,1302.8 L1212.0,1302.8 L1214.0,1302.8 L1216.0,1302.8 L1218.0,1302.8 L1220.0,1302.8 L1222.0,1302.8 L1224.0,1302.8 L1226.0,1302.8 L1228.0,1302.8 L1230.0,1302.8 L1232.0,1302.8 L1234.0,1302.8 L1236.0,1302.8 L1238.0,1302.8 L1240.0,1302.8 L1242.0,1302.8 L1244.0,1302.8 L1246.0,1302.8 L1248.0,1302.8 L1250.0,1302.8 L1252.0,1302.8 L1254.0,1302.8 L1256.0,1302.8 L1258.0,1302.8 L1260.0,1302.8 L1262.0,1302.8 L1264.0,1302.8 L1266.0,1302.8 L1268.0,1302.8 L1270.0,1302.8 L1272.0,1302.8 L1274.0,1302.8 L1276.0,1302.8 L1278.0,1302.8 L1280.0,1302.8 L1282.0,1302.8 L1284.0,1302.8 L1286.0,1302.8 L1288.0,1302.8 L1290.0,1302.8 L1292.0,1302.8 L1294.0,1302.8 L1296.0,1302.8 L1298.0,1302.8 L1300.0,1302.8 L1302.0,1302.8 L1304.0,1302.8 L1306.0,1302.8 L1308.0,1302.8 L1310.0,1302.8 L1312.0,1302.8 L1314.0,1302.8 L1316.0,1302.8 L1318.0,1302.8 L1320.0,1302.8 L1322.0,1302.8 L1324.0,1302.8 L1326.0,1302.8 L1328.0,1302.8" fill="none" stroke="#4472c4" stroke-width="3.5" stroke-linejoin="round" stroke-linecap="round"/>
<line x1="405.30" y1="1302.70" x2="1329.70" y2="1302.70" stroke="#ffc000" stroke-width="2.6" />
<path d="M513.6 1670.4h1.8v1.8h-1.8zM580.8 1568.0h1.8v1.8h-1.8zM504.0 1686.4h1.8v1.8h-1.8zM587.2 1585.6h1.8v1.8h-1.8zM504.0 1681.6h1.8v1.8h-1.8zM582.4 1606.4h1.8v1.8h-1.8zM492.8 1718.4h1.8v1.8h-1.8zM595.2 1616.0h1.8v1.8h-1.8zM488.0 1736.0h1.8v1.8h-1.8zM523.2 1641.6h1.8v1.8h-1.8zM508.8 1699.2h1.8v1.8h-1.8zM550.4 1638.4h1.8v1.8h-1.8zM526.4 1654.4h1.8v1.8h-1.8zM516.8 1720.0h1.8v1.8h-1.8zM544.0 1617.6h1.8v1.8h-1.8zM486.4 1651.2h1.8v1.8h-1.8zM502.4 1721.6h1.8v1.8h-1.8zM596.8 1598.4h1.8v1.8h-1.8zM585.6 1593.6h1.8v1.8h-1.8zM504.0 1710.4h1.8v1.8h-1.8zM548.8 1720.0h1.8v1.8h-1.8zM526.4 1748.8h1.8v1.8h-1.8zM572.8 1593.6h1.8v1.8h-1.8zM510.4 1694.4h1.8v1.8h-1.8zM563.2 1569.6h1.8v1.8h-1.8zM475.2 1692.8h1.8v1.8h-1.8zM486.4 1664.0h1.8v1.8h-1.8zM635.2 1592.0h1.8v1.8h-1.8zM476.8 1664.0h1.8v1.8h-1.8zM601.6 1625.6h1.8v1.8h-1.8zM475.2 1792.0h1.8v1.8h-1.8zM592.0 1617.6h1.8v1.8h-1.8zM475.2 1761.6h1.8v1.8h-1.8zM606.4 1545.6h1.8v1.8h-1.8zM531.2 1670.4h1.8v1.8h-1.8zM492.8 1672.0h1.8v1.8h-1.8zM470.4 1668.8h1.8v1.8h-1.8zM508.8 1622.4h1.8v1.8h-1.8zM510.4 1686.4h1.8v1.8h-1.8zM568.0 1769.6h1.8v1.8h-1.8zM446.4 1806.4h1.8v1.8h-1.8zM505.6 1795.2h1.8v1.8h-1.8zM448.0 1838.4h1.8v1.8h-1.8zM513.6 1712.0h1.8v1.8h-1.8zM488.0 1614.4h1.8v1.8h-1.8zM446.4 1804.8h1.8v1.8h-1.8zM486.4 1740.8h1.8v1.8h-1.8zM484.8 1652.8h1.8v1.8h-1.8zM518.4 1692.8h1.8v1.8h-1.8zM504.0 1752.0h1.8v1.8h-1.8zM548.8 1649.6h1.8v1.8h-1.8zM459.2 1656.0h1.8v1.8h-1.8zM488.0 1718.4h1.8v1.8h-1.8zM499.2 1710.4h1.8v1.8h-1.8zM497.6 1691.2h1.8v1.8h-1.8zM499.2 1728.0h1.8v1.8h-1.8zM512.0 1676.8h1.8v1.8h-1.8zM457.6 1696.0h1.8v1.8h-1.8zM544.0 1641.6h1.8v1.8h-1.8zM486.4 1787.2h1.8v1.8h-1.8zM500.8 1680.0h1.8v1.8h-1.8zM496.0 1729.6h1.8v1.8h-1.8zM569.6 1600.0h1.8v1.8h-1.8zM619.2 1547.2h1.8v1.8h-1.8zM459.2 1795.2h1.8v1.8h-1.8zM472.0 1684.8h1.8v1.8h-1.8zM564.8 1628.8h1.8v1.8h-1.8zM542.4 1684.8h1.8v1.8h-1.8zM612.8 1563.2h1.8v1.8h-1.8zM524.8 1619.2h1.8v1.8h-1.8zM504.0 1731.2h1.8v1.8h-1.8zM480.0 1667.2h1.8v1.8h-1.8zM529.6 1649.6h1.8v1.8h-1.8zM494.4 1708.8h1.8v1.8h-1.8zM569.6 1611.2h1.8v1.8h-1.8zM465.6 1756.8h1.8v1.8h-1.8zM508.8 1734.4h1.8v1.8h-1.8zM507.2 1632.0h1.8v1.8h-1.8zM488.0 1673.6h1.8v1.8h-1.8zM524.8 1707.2h1.8v1.8h-1.8zM518.4 1649.6h1.8v1.8h-1.8zM481.6 1752.0h1.8v1.8h-1.8zM563.2 1667.2h1.8v1.8h-1.8zM488.0 1766.4h1.8v1.8h-1.8zM505.6 1624.0h1.8v1.8h-1.8zM452.8 1649.6h1.8v1.8h-1.8zM512.0 1720.0h1.8v1.8h-1.8zM486.4 1764.8h1.8v1.8h-1.8zM516.8 1672.0h1.8v1.8h-1.8zM547.2 1627.2h1.8v1.8h-1.8zM520.0 1644.8h1.8v1.8h-1.8zM451.2 1824.0h1.8v1.8h-1.8zM504.0 1742.4h1.8v1.8h-1.8zM470.4 1680.0h1.8v1.8h-1.8zM518.4 1577.6h1.8v1.8h-1.8zM475.2 1672.0h1.8v1.8h-1.8zM492.8 1740.8h1.8v1.8h-1.8zM524.8 1673.6h1.8v1.8h-1.8zM508.8 1667.2h1.8v1.8h-1.8zM536.0 1617.6h1.8v1.8h-1.8zM534.4 1660.8h1.8v1.8h-1.8zM566.4 1654.4h1.8v1.8h-1.8zM504.0 1668.8h1.8v1.8h-1.8zM505.6 1729.6h1.8v1.8h-1.8zM548.8 1694.4h1.8v1.8h-1.8zM499.2 1656.0h1.8v1.8h-1.8zM520.0 1708.8h1.8v1.8h-1.8zM491.2 1688.0h1.8v1.8h-1.8zM558.4 1692.8h1.8v1.8h-1.8zM468.8 1772.8h1.8v1.8h-1.8zM470.4 1766.4h1.8v1.8h-1.8zM532.8 1614.4h1.8v1.8h-1.8zM510.4 1652.8h1.8v1.8h-1.8zM468.8 1769.6h1.8v1.8h-1.8zM475.2 1681.6h1.8v1.8h-1.8zM483.2 1680.0h1.8v1.8h-1.8zM454.4 1694.4h1.8v1.8h-1.8zM486.4 1784.0h1.8v1.8h-1.8zM536.0 1660.8h1.8v1.8h-1.8zM513.6 1705.6h1.8v1.8h-1.8zM500.8 1715.2h1.8v1.8h-1.8zM564.8 1603.2h1.8v1.8h-1.8zM539.2 1643.2h1.8v1.8h-1.8zM532.8 1660.8h1.8v1.8h-1.8zM491.2 1764.8h1.8v1.8h-1.8zM473.6 1659.2h1.8v1.8h-1.8zM532.8 1654.4h1.8v1.8h-1.8zM518.4 1753.6h1.8v1.8h-1.8zM523.2 1684.8h1.8v1.8h-1.8zM460.8 1694.4h1.8v1.8h-1.8zM499.2 1715.2h1.8v1.8h-1.8zM508.8 1672.0h1.8v1.8h-1.8zM481.6 1745.6h1.8v1.8h-1.8zM531.2 1604.8h1.8v1.8h-1.8zM468.8 1649.6h1.8v1.8h-1.8zM496.0 1673.6h1.8v1.8h-1.8zM526.4 1665.6h1.8v1.8h-1.8zM528.0 1667.2h1.8v1.8h-1.8zM504.0 1718.4h1.8v1.8h-1.8zM508.8 1712.0h1.8v1.8h-1.8zM548.8 1680.0h1.8v1.8h-1.8zM524.8 1686.4h1.8v1.8h-1.8zM537.6 1649.6h1.8v1.8h-1.8zM467.2 1659.2h1.8v1.8h-1.8zM444.8 1768.0h1.8v1.8h-1.8zM484.8 1638.4h1.8v1.8h-1.8zM476.8 1732.8h1.8v1.8h-1.8zM464.0 1633.6h1.8v1.8h-1.8zM560.0 1630.4h1.8v1.8h-1.8zM510.4 1673.6h1.8v1.8h-1.8zM502.4 1675.2h1.8v1.8h-1.8zM459.2 1670.4h1.8v1.8h-1.8zM528.0 1691.2h1.8v1.8h-1.8zM468.8 1782.4h1.8v1.8h-1.8zM489.6 1659.2h1.8v1.8h-1.8zM494.4 1697.6h1.8v1.8h-1.8zM500.8 1697.6h1.8v1.8h-1.8zM475.2 1784.0h1.8v1.8h-1.8zM580.8 1632.0h1.8v1.8h-1.8zM476.8 1820.8h1.8v1.8h-1.8zM499.2 1747.2h1.8v1.8h-1.8zM491.2 1728.0h1.8v1.8h-1.8zM566.4 1601.6h1.8v1.8h-1.8zM516.8 1636.8h1.8v1.8h-1.8zM513.6 1652.8h1.8v1.8h-1.8zM480.0 1744.0h1.8v1.8h-1.8zM505.6 1697.6h1.8v1.8h-1.8zM526.4 1673.6h1.8v1.8h-1.8zM446.4 1643.2h1.8v1.8h-1.8zM569.6 1672.0h1.8v1.8h-1.8zM523.2 1651.2h1.8v1.8h-1.8zM444.8 1804.8h1.8v1.8h-1.8zM448.0 1696.0h1.8v1.8h-1.8zM502.4 1657.6h1.8v1.8h-1.8zM446.4 1814.4h1.8v1.8h-1.8zM489.6 1732.8h1.8v1.8h-1.8zM449.6 1654.4h1.8v1.8h-1.8zM545.6 1616.0h1.8v1.8h-1.8zM468.8 1664.0h1.8v1.8h-1.8zM483.2 1702.4h1.8v1.8h-1.8zM515.2 1649.6h1.8v1.8h-1.8zM553.6 1648.0h1.8v1.8h-1.8zM520.0 1683.2h1.8v1.8h-1.8zM502.4 1640.0h1.8v1.8h-1.8zM476.8 1792.0h1.8v1.8h-1.8zM473.6 1672.0h1.8v1.8h-1.8zM518.4 1684.8h1.8v1.8h-1.8zM556.8 1593.6h1.8v1.8h-1.8zM568.0 1616.0h1.8v1.8h-1.8zM454.4 1676.8h1.8v1.8h-1.8zM561.6 1665.6h1.8v1.8h-1.8zM531.2 1665.6h1.8v1.8h-1.8zM536.0 1678.4h1.8v1.8h-1.8zM489.6 1692.8h1.8v1.8h-1.8zM467.2 1654.4h1.8v1.8h-1.8zM508.8 1620.8h1.8v1.8h-1.8zM484.8 1643.2h1.8v1.8h-1.8zM550.4 1700.8h1.8v1.8h-1.8zM510.4 1635.2h1.8v1.8h-1.8zM488.0 1739.2h1.8v1.8h-1.8zM470.4 1784.0h1.8v1.8h-1.8zM513.6 1724.8h1.8v1.8h-1.8zM444.8 1696.0h1.8v1.8h-1.8zM468.8 1684.8h1.8v1.8h-1.8zM512.0 1704.0h1.8v1.8h-1.8zM542.4 1604.8h1.8v1.8h-1.8zM540.8 1684.8h1.8v1.8h-1.8zM496.0 1680.0h1.8v1.8h-1.8zM459.2 1684.8h1.8v1.8h-1.8zM475.2 1675.2h1.8v1.8h-1.8zM502.4 1744.0h1.8v1.8h-1.8zM504.0 1732.8h1.8v1.8h-1.8zM617.6 1600.0h1.8v1.8h-1.8zM464.0 1784.0h1.8v1.8h-1.8zM483.2 1772.8h1.8v1.8h-1.8zM521.6 1684.8h1.8v1.8h-1.8zM508.8 1664.0h1.8v1.8h-1.8zM491.2 1752.0h1.8v1.8h-1.8zM552.0 1651.2h1.8v1.8h-1.8zM475.2 1782.4h1.8v1.8h-1.8zM483.2 1675.2h1.8v1.8h-1.8zM516.8 1673.6h1.8v1.8h-1.8zM449.6 1700.8h1.8v1.8h-1.8zM528.0 1641.6h1.8v1.8h-1.8zM524.8 1670.4h1.8v1.8h-1.8zM537.6 1683.2h1.8v1.8h-1.8zM494.4 1731.2h1.8v1.8h-1.8zM462.4 1824.0h1.8v1.8h-1.8zM489.6 1670.4h1.8v1.8h-1.8zM563.2 1617.6h1.8v1.8h-1.8zM532.8 1664.0h1.8v1.8h-1.8zM523.2 1665.6h1.8v1.8h-1.8zM483.2 1660.8h1.8v1.8h-1.8zM473.6 1771.2h1.8v1.8h-1.8zM574.4 1584.0h1.8v1.8h-1.8zM515.2 1598.4h1.8v1.8h-1.8zM518.4 1710.4h1.8v1.8h-1.8zM534.4 1648.0h1.8v1.8h-1.8zM593.6 1635.2h1.8v1.8h-1.8zM571.2 1636.8h1.8v1.8h-1.8zM518.4 1678.4h1.8v1.8h-1.8zM468.8 1668.8h1.8v1.8h-1.8zM465.6 1678.4h1.8v1.8h-1.8zM515.2 1696.0h1.8v1.8h-1.8zM507.2 1681.6h1.8v1.8h-1.8zM488.0 1768.0h1.8v1.8h-1.8zM563.2 1640.0h1.8v1.8h-1.8zM558.4 1673.6h1.8v1.8h-1.8zM544.0 1638.4h1.8v1.8h-1.8zM507.2 1723.2h1.8v1.8h-1.8zM510.4 1724.8h1.8v1.8h-1.8zM481.6 1726.4h1.8v1.8h-1.8zM478.4 1667.2h1.8v1.8h-1.8zM550.4 1590.4h1.8v1.8h-1.8zM499.2 1720.0h1.8v1.8h-1.8zM576.0 1587.2h1.8v1.8h-1.8zM576.0 1649.6h1.8v1.8h-1.8zM452.8 1672.0h1.8v1.8h-1.8zM547.2 1683.2h1.8v1.8h-1.8zM457.6 1654.4h1.8v1.8h-1.8zM499.2 1659.2h1.8v1.8h-1.8zM520.0 1659.2h1.8v1.8h-1.8zM476.8 1700.8h1.8v1.8h-1.8zM513.6 1646.4h1.8v1.8h-1.8zM457.6 1681.6h1.8v1.8h-1.8zM523.2 1716.8h1.8v1.8h-1.8zM484.8 1662.4h1.8v1.8h-1.8zM476.8 1736.0h1.8v1.8h-1.8zM524.8 1705.6h1.8v1.8h-1.8zM564.8 1585.6h1.8v1.8h-1.8zM510.4 1696.0h1.8v1.8h-1.8zM521.6 1705.6h1.8v1.8h-1.8zM508.8 1681.6h1.8v1.8h-1.8zM526.4 1675.2h1.8v1.8h-1.8zM451.2 1833.6h1.8v1.8h-1.8zM528.0 1689.6h1.8v1.8h-1.8zM478.4 1652.8h1.8v1.8h-1.8zM526.4 1745.6h1.8v1.8h-1.8zM515.2 1665.6h1.8v1.8h-1.8zM625.6 1617.6h1.8v1.8h-1.8zM547.2 1638.4h1.8v1.8h-1.8zM468.8 1774.4h1.8v1.8h-1.8zM481.6 1734.4h1.8v1.8h-1.8zM468.8 1678.4h1.8v1.8h-1.8zM548.8 1745.6h1.8v1.8h-1.8zM496.0 1609.6h1.8v1.8h-1.8zM500.8 1633.6h1.8v1.8h-1.8zM459.2 1809.6h1.8v1.8h-1.8zM507.2 1705.6h1.8v1.8h-1.8zM537.6 1697.6h1.8v1.8h-1.8zM561.6 1604.8h1.8v1.8h-1.8zM518.4 1654.4h1.8v1.8h-1.8zM544.0 1686.4h1.8v1.8h-1.8zM545.6 1628.8h1.8v1.8h-1.8zM568.0 1665.6h1.8v1.8h-1.8zM520.0 1646.4h1.8v1.8h-1.8zM540.8 1640.0h1.8v1.8h-1.8zM502.4 1713.6h1.8v1.8h-1.8zM470.4 1686.4h1.8v1.8h-1.8zM496.0 1683.2h1.8v1.8h-1.8zM513.6 1681.6h1.8v1.8h-1.8zM531.2 1710.4h1.8v1.8h-1.8zM516.8 1681.6h1.8v1.8h-1.8zM566.4 1641.6h1.8v1.8h-1.8zM515.2 1681.6h1.8v1.8h-1.8zM505.6 1688.0h1.8v1.8h-1.8zM596.8 1619.2h1.8v1.8h-1.8zM507.2 1736.0h1.8v1.8h-1.8zM484.8 1748.8h1.8v1.8h-1.8zM539.2 1612.8h1.8v1.8h-1.8zM595.2 1628.8h1.8v1.8h-1.8zM628.8 1544.0h1.8v1.8h-1.8zM601.6 1624.0h1.8v1.8h-1.8zM574.4 1574.4h1.8v1.8h-1.8zM529.6 1651.2h1.8v1.8h-1.8zM574.4 1644.8h1.8v1.8h-1.8zM497.6 1702.4h1.8v1.8h-1.8zM502.4 1672.0h1.8v1.8h-1.8zM587.2 1582.4h1.8v1.8h-1.8zM448.0 1686.4h1.8v1.8h-1.8zM521.6 1676.8h1.8v1.8h-1.8zM475.2 1736.0h1.8v1.8h-1.8zM516.8 1768.0h1.8v1.8h-1.8zM524.8 1678.4h1.8v1.8h-1.8zM633.6 1568.0h1.8v1.8h-1.8zM473.6 1656.0h1.8v1.8h-1.8zM494.4 1638.4h1.8v1.8h-1.8zM536.0 1668.8h1.8v1.8h-1.8zM556.8 1598.4h1.8v1.8h-1.8zM512.0 1708.8h1.8v1.8h-1.8zM552.0 1684.8h1.8v1.8h-1.8zM566.4 1611.2h1.8v1.8h-1.8zM611.2 1550.4h1.8v1.8h-1.8zM558.4 1593.6h1.8v1.8h-1.8zM502.4 1745.6h1.8v1.8h-1.8zM600.0 1556.8h1.8v1.8h-1.8zM472.0 1801.6h1.8v1.8h-1.8zM496.0 1748.8h1.8v1.8h-1.8zM504.0 1638.4h1.8v1.8h-1.8zM459.2 1817.6h1.8v1.8h-1.8zM492.8 1748.8h1.8v1.8h-1.8zM552.0 1691.2h1.8v1.8h-1.8zM446.4 1704.0h1.8v1.8h-1.8zM577.6 1683.2h1.8v1.8h-1.8zM502.4 1622.4h1.8v1.8h-1.8zM572.8 1595.2h1.8v1.8h-1.8zM560.0 1633.6h1.8v1.8h-1.8zM502.4 1692.8h1.8v1.8h-1.8zM604.8 1585.6h1.8v1.8h-1.8zM544.0 1633.6h1.8v1.8h-1.8zM444.8 1780.8h1.8v1.8h-1.8zM459.2 1788.8h1.8v1.8h-1.8zM526.4 1760.0h1.8v1.8h-1.8zM577.6 1635.2h1.8v1.8h-1.8zM516.8 1688.0h1.8v1.8h-1.8zM516.8 1667.2h1.8v1.8h-1.8zM489.6 1748.8h1.8v1.8h-1.8zM502.4 1750.4h1.8v1.8h-1.8zM484.8 1619.2h1.8v1.8h-1.8zM520.0 1630.4h1.8v1.8h-1.8zM460.8 1676.8h1.8v1.8h-1.8zM473.6 1667.2h1.8v1.8h-1.8zM454.4 1683.2h1.8v1.8h-1.8zM488.0 1756.8h1.8v1.8h-1.8zM520.0 1648.0h1.8v1.8h-1.8zM454.4 1672.0h1.8v1.8h-1.8zM499.2 1744.0h1.8v1.8h-1.8zM516.8 1705.6h1.8v1.8h-1.8zM488.0 1728.0h1.8v1.8h-1.8zM460.8 1761.6h1.8v1.8h-1.8zM545.6 1664.0h1.8v1.8h-1.8zM500.8 1747.2h1.8v1.8h-1.8zM518.4 1648.0h1.8v1.8h-1.8zM448.0 1678.4h1.8v1.8h-1.8zM512.0 1680.0h1.8v1.8h-1.8zM550.4 1611.2h1.8v1.8h-1.8zM472.0 1772.8h1.8v1.8h-1.8zM500.8 1641.6h1.8v1.8h-1.8zM472.0 1788.8h1.8v1.8h-1.8zM564.8 1640.0h1.8v1.8h-1.8zM470.4 1660.8h1.8v1.8h-1.8zM492.8 1705.6h1.8v1.8h-1.8zM472.0 1784.0h1.8v1.8h-1.8zM454.4 1844.8h1.8v1.8h-1.8zM507.2 1720.0h1.8v1.8h-1.8zM488.0 1712.0h1.8v1.8h-1.8zM547.2 1665.6h1.8v1.8h-1.8zM558.4 1619.2h1.8v1.8h-1.8zM488.0 1720.0h1.8v1.8h-1.8zM444.8 1792.0h1.8v1.8h-1.8zM536.0 1676.8h1.8v1.8h-1.8zM529.6 1664.0h1.8v1.8h-1.8zM515.2 1683.2h1.8v1.8h-1.8zM518.4 1632.0h1.8v1.8h-1.8zM588.8 1601.6h1.8v1.8h-1.8zM548.8 1715.2h1.8v1.8h-1.8zM494.4 1745.6h1.8v1.8h-1.8zM505.6 1705.6h1.8v1.8h-1.8zM467.2 1673.6h1.8v1.8h-1.8zM465.6 1777.6h1.8v1.8h-1.8zM499.2 1664.0h1.8v1.8h-1.8zM504.0 1659.2h1.8v1.8h-1.8zM556.8 1659.2h1.8v1.8h-1.8zM473.6 1726.4h1.8v1.8h-1.8zM449.6 1686.4h1.8v1.8h-1.8zM492.8 1659.2h1.8v1.8h-1.8zM452.8 1662.4h1.8v1.8h-1.8zM497.6 1740.8h1.8v1.8h-1.8zM500.8 1673.6h1.8v1.8h-1.8zM552.0 1638.4h1.8v1.8h-1.8zM496.0 1652.8h1.8v1.8h-1.8zM513.6 1699.2h1.8v1.8h-1.8zM465.6 1814.4h1.8v1.8h-1.8zM542.4 1580.8h1.8v1.8h-1.8zM502.4 1731.2h1.8v1.8h-1.8zM524.8 1676.8h1.8v1.8h-1.8zM491.2 1763.2h1.8v1.8h-1.8zM500.8 1665.6h1.8v1.8h-1.8zM568.0 1652.8h1.8v1.8h-1.8zM512.0 1641.6h1.8v1.8h-1.8zM520.0 1713.6h1.8v1.8h-1.8zM486.4 1768.0h1.8v1.8h-1.8zM513.6 1710.4h1.8v1.8h-1.8zM580.8 1630.4h1.8v1.8h-1.8zM508.8 1673.6h1.8v1.8h-1.8zM478.4 1795.2h1.8v1.8h-1.8zM537.6 1656.0h1.8v1.8h-1.8zM518.4 1644.8h1.8v1.8h-1.8zM555.2 1636.8h1.8v1.8h-1.8zM480.0 1657.6h1.8v1.8h-1.8zM598.4 1587.2h1.8v1.8h-1.8zM595.2 1572.8h1.8v1.8h-1.8zM475.2 1766.4h1.8v1.8h-1.8zM475.2 1777.6h1.8v1.8h-1.8zM452.8 1664.0h1.8v1.8h-1.8zM481.6 1657.6h1.8v1.8h-1.8zM516.8 1716.8h1.8v1.8h-1.8zM512.0 1622.4h1.8v1.8h-1.8zM558.4 1624.0h1.8v1.8h-1.8zM513.6 1632.0h1.8v1.8h-1.8zM500.8 1780.8h1.8v1.8h-1.8zM468.8 1660.8h1.8v1.8h-1.8zM590.4 1560.0h1.8v1.8h-1.8zM502.4 1665.6h1.8v1.8h-1.8zM523.2 1612.8h1.8v1.8h-1.8zM545.6 1673.6h1.8v1.8h-1.8zM507.2 1689.6h1.8v1.8h-1.8zM465.6 1692.8h1.8v1.8h-1.8zM590.4 1636.8h1.8v1.8h-1.8zM489.6 1760.0h1.8v1.8h-1.8zM497.6 1644.8h1.8v1.8h-1.8zM505.6 1641.6h1.8v1.8h-1.8zM555.2 1628.8h1.8v1.8h-1.8zM505.6 1646.4h1.8v1.8h-1.8zM472.0 1696.0h1.8v1.8h-1.8zM486.4 1742.4h1.8v1.8h-1.8zM476.8 1699.2h1.8v1.8h-1.8zM521.6 1628.8h1.8v1.8h-1.8zM448.0 1832.0h1.8v1.8h-1.8zM520.0 1608.0h1.8v1.8h-1.8zM529.6 1609.6h1.8v1.8h-1.8zM472.0 1640.0h1.8v1.8h-1.8zM476.8 1768.0h1.8v1.8h-1.8zM542.4 1633.6h1.8v1.8h-1.8zM547.2 1654.4h1.8v1.8h-1.8zM499.2 1763.2h1.8v1.8h-1.8zM492.8 1609.6h1.8v1.8h-1.8zM601.6 1552.0h1.8v1.8h-1.8zM496.0 1708.8h1.8v1.8h-1.8zM513.6 1715.2h1.8v1.8h-1.8zM561.6 1596.8h1.8v1.8h-1.8zM497.6 1721.6h1.8v1.8h-1.8zM492.8 1758.4h1.8v1.8h-1.8zM457.6 1641.6h1.8v1.8h-1.8zM496.0 1696.0h1.8v1.8h-1.8zM499.2 1696.0h1.8v1.8h-1.8zM521.6 1604.8h1.8v1.8h-1.8zM536.0 1657.6h1.8v1.8h-1.8zM585.6 1632.0h1.8v1.8h-1.8zM523.2 1694.4h1.8v1.8h-1.8zM470.4 1737.6h1.8v1.8h-1.8zM480.0 1644.8h1.8v1.8h-1.8zM560.0 1627.2h1.8v1.8h-1.8zM566.4 1609.6h1.8v1.8h-1.8zM574.4 1592.0h1.8v1.8h-1.8zM467.2 1681.6h1.8v1.8h-1.8zM513.6 1659.2h1.8v1.8h-1.8zM465.6 1764.8h1.8v1.8h-1.8zM508.8 1716.8h1.8v1.8h-1.8zM496.0 1692.8h1.8v1.8h-1.8zM507.2 1654.4h1.8v1.8h-1.8zM470.4 1652.8h1.8v1.8h-1.8zM608.0 1566.4h1.8v1.8h-1.8zM516.8 1712.0h1.8v1.8h-1.8zM529.6 1680.0h1.8v1.8h-1.8zM499.2 1736.0h1.8v1.8h-1.8zM510.4 1667.2h1.8v1.8h-1.8zM459.2 1635.2h1.8v1.8h-1.8zM544.0 1604.8h1.8v1.8h-1.8zM564.8 1622.4h1.8v1.8h-1.8zM521.6 1670.4h1.8v1.8h-1.8zM507.2 1636.8h1.8v1.8h-1.8zM516.8 1657.6h1.8v1.8h-1.8zM536.0 1686.4h1.8v1.8h-1.8zM468.8 1680.0h1.8v1.8h-1.8zM520.0 1638.4h1.8v1.8h-1.8zM504.0 1676.8h1.8v1.8h-1.8zM504.0 1793.6h1.8v1.8h-1.8zM444.8 1755.2h1.8v1.8h-1.8zM491.2 1662.4h1.8v1.8h-1.8zM510.4 1627.2h1.8v1.8h-1.8zM454.4 1665.6h1.8v1.8h-1.8zM489.6 1753.6h1.8v1.8h-1.8zM460.8 1793.6h1.8v1.8h-1.8zM468.8 1776.0h1.8v1.8h-1.8zM494.4 1689.6h1.8v1.8h-1.8zM576.0 1688.0h1.8v1.8h-1.8zM459.2 1688.0h1.8v1.8h-1.8zM475.2 1670.4h1.8v1.8h-1.8zM572.8 1576.0h1.8v1.8h-1.8zM574.4 1660.8h1.8v1.8h-1.8zM456.0 1768.0h1.8v1.8h-1.8zM465.6 1681.6h1.8v1.8h-1.8zM486.4 1676.8h1.8v1.8h-1.8zM539.2 1704.0h1.8v1.8h-1.8zM507.2 1704.0h1.8v1.8h-1.8zM544.0 1632.0h1.8v1.8h-1.8zM513.6 1713.6h1.8v1.8h-1.8zM446.4 1788.8h1.8v1.8h-1.8zM456.0 1795.2h1.8v1.8h-1.8zM502.4 1659.2h1.8v1.8h-1.8zM476.8 1680.0h1.8v1.8h-1.8zM444.8 1713.6h1.8v1.8h-1.8zM451.2 1843.2h1.8v1.8h-1.8zM467.2 1787.2h1.8v1.8h-1.8zM529.6 1675.2h1.8v1.8h-1.8zM528.0 1673.6h1.8v1.8h-1.8zM481.6 1718.4h1.8v1.8h-1.8zM500.8 1624.0h1.8v1.8h-1.8zM504.0 1643.2h1.8v1.8h-1.8zM521.6 1598.4h1.8v1.8h-1.8zM468.8 1777.6h1.8v1.8h-1.8zM476.8 1766.4h1.8v1.8h-1.8zM577.6 1617.6h1.8v1.8h-1.8zM524.8 1625.6h1.8v1.8h-1.8zM462.4 1633.6h1.8v1.8h-1.8zM478.4 1734.4h1.8v1.8h-1.8zM484.8 1769.6h1.8v1.8h-1.8zM500.8 1726.4h1.8v1.8h-1.8zM472.0 1780.8h1.8v1.8h-1.8zM488.0 1651.2h1.8v1.8h-1.8zM537.6 1657.6h1.8v1.8h-1.8zM472.0 1657.6h1.8v1.8h-1.8zM496.0 1731.2h1.8v1.8h-1.8zM563.2 1596.8h1.8v1.8h-1.8zM516.8 1724.8h1.8v1.8h-1.8zM537.6 1625.6h1.8v1.8h-1.8zM555.2 1580.8h1.8v1.8h-1.8zM497.6 1664.0h1.8v1.8h-1.8zM534.4 1633.6h1.8v1.8h-1.8zM532.8 1670.4h1.8v1.8h-1.8zM512.0 1654.4h1.8v1.8h-1.8zM513.6 1718.4h1.8v1.8h-1.8zM587.2 1638.4h1.8v1.8h-1.8zM524.8 1716.8h1.8v1.8h-1.8zM601.6 1598.4h1.8v1.8h-1.8zM494.4 1688.0h1.8v1.8h-1.8zM494.4 1761.6h1.8v1.8h-1.8zM624.0 1548.8h1.8v1.8h-1.8zM481.6 1670.4h1.8v1.8h-1.8zM508.8 1614.4h1.8v1.8h-1.8zM499.2 1654.4h1.8v1.8h-1.8zM536.0 1670.4h1.8v1.8h-1.8zM481.6 1651.2h1.8v1.8h-1.8zM500.8 1752.0h1.8v1.8h-1.8zM508.8 1739.2h1.8v1.8h-1.8zM558.4 1571.2h1.8v1.8h-1.8zM446.4 1689.6h1.8v1.8h-1.8zM584.0 1603.2h1.8v1.8h-1.8zM603.2 1568.0h1.8v1.8h-1.8zM496.0 1660.8h1.8v1.8h-1.8zM547.2 1622.4h1.8v1.8h-1.8zM499.2 1644.8h1.8v1.8h-1.8zM468.8 1676.8h1.8v1.8h-1.8zM539.2 1654.4h1.8v1.8h-1.8zM561.6 1638.4h1.8v1.8h-1.8zM550.4 1593.6h1.8v1.8h-1.8zM510.4 1720.0h1.8v1.8h-1.8zM513.6 1692.8h1.8v1.8h-1.8zM540.8 1633.6h1.8v1.8h-1.8zM492.8 1729.6h1.8v1.8h-1.8zM520.0 1632.0h1.8v1.8h-1.8zM536.0 1644.8h1.8v1.8h-1.8zM590.4 1606.4h1.8v1.8h-1.8zM497.6 1681.6h1.8v1.8h-1.8zM537.6 1664.0h1.8v1.8h-1.8zM446.4 1702.4h1.8v1.8h-1.8zM528.0 1696.0h1.8v1.8h-1.8zM491.2 1681.6h1.8v1.8h-1.8zM518.4 1651.2h1.8v1.8h-1.8zM491.2 1702.4h1.8v1.8h-1.8zM552.0 1689.6h1.8v1.8h-1.8zM513.6 1673.6h1.8v1.8h-1.8zM481.6 1673.6h1.8v1.8h-1.8zM448.0 1808.0h1.8v1.8h-1.8zM563.2 1654.4h1.8v1.8h-1.8zM481.6 1672.0h1.8v1.8h-1.8zM475.2 1668.8h1.8v1.8h-1.8zM476.8 1729.6h1.8v1.8h-1.8zM512.0 1718.4h1.8v1.8h-1.8zM496.0 1672.0h1.8v1.8h-1.8zM508.8 1686.4h1.8v1.8h-1.8zM513.6 1732.8h1.8v1.8h-1.8zM475.2 1806.4h1.8v1.8h-1.8zM558.4 1640.0h1.8v1.8h-1.8zM456.0 1688.0h1.8v1.8h-1.8zM504.0 1771.2h1.8v1.8h-1.8zM478.4 1704.0h1.8v1.8h-1.8zM473.6 1697.6h1.8v1.8h-1.8zM480.0 1660.8h1.8v1.8h-1.8zM504.0 1700.8h1.8v1.8h-1.8zM529.6 1601.6h1.8v1.8h-1.8zM483.2 1659.2h1.8v1.8h-1.8zM470.4 1683.2h1.8v1.8h-1.8zM516.8 1734.4h1.8v1.8h-1.8zM524.8 1638.4h1.8v1.8h-1.8zM483.2 1627.2h1.8v1.8h-1.8zM544.0 1606.4h1.8v1.8h-1.8zM528.0 1652.8h1.8v1.8h-1.8zM545.6 1635.2h1.8v1.8h-1.8zM491.2 1753.6h1.8v1.8h-1.8zM497.6 1758.4h1.8v1.8h-1.8zM491.2 1713.6h1.8v1.8h-1.8zM516.8 1675.2h1.8v1.8h-1.8zM545.6 1670.4h1.8v1.8h-1.8zM492.8 1723.2h1.8v1.8h-1.8zM484.8 1707.2h1.8v1.8h-1.8zM502.4 1649.6h1.8v1.8h-1.8zM454.4 1696.0h1.8v1.8h-1.8zM556.8 1603.2h1.8v1.8h-1.8zM529.6 1702.4h1.8v1.8h-1.8zM512.0 1668.8h1.8v1.8h-1.8zM476.8 1745.6h1.8v1.8h-1.8zM475.2 1763.2h1.8v1.8h-1.8zM456.0 1667.2h1.8v1.8h-1.8zM481.6 1691.2h1.8v1.8h-1.8zM505.6 1660.8h1.8v1.8h-1.8zM472.0 1672.0h1.8v1.8h-1.8zM484.8 1760.0h1.8v1.8h-1.8zM486.4 1748.8h1.8v1.8h-1.8zM512.0 1737.6h1.8v1.8h-1.8zM489.6 1704.0h1.8v1.8h-1.8zM504.0 1670.4h1.8v1.8h-1.8zM488.0 1638.4h1.8v1.8h-1.8zM496.0 1739.2h1.8v1.8h-1.8zM545.6 1641.6h1.8v1.8h-1.8zM507.2 1755.2h1.8v1.8h-1.8zM497.6 1736.0h1.8v1.8h-1.8zM507.2 1700.8h1.8v1.8h-1.8zM580.8 1619.2h1.8v1.8h-1.8zM478.4 1747.2h1.8v1.8h-1.8zM521.6 1662.4h1.8v1.8h-1.8zM542.4 1656.0h1.8v1.8h-1.8zM545.6 1686.4h1.8v1.8h-1.8zM465.6 1788.8h1.8v1.8h-1.8zM516.8 1641.6h1.8v1.8h-1.8zM512.0 1692.8h1.8v1.8h-1.8zM465.6 1672.0h1.8v1.8h-1.8zM585.6 1630.4h1.8v1.8h-1.8zM515.2 1716.8h1.8v1.8h-1.8zM444.8 1670.4h1.8v1.8h-1.8zM496.0 1728.0h1.8v1.8h-1.8zM526.4 1729.6h1.8v1.8h-1.8zM512.0 1713.6h1.8v1.8h-1.8zM464.0 1680.0h1.8v1.8h-1.8zM502.4 1740.8h1.8v1.8h-1.8zM486.4 1769.6h1.8v1.8h-1.8zM507.2 1768.0h1.8v1.8h-1.8zM489.6 1750.4h1.8v1.8h-1.8zM534.4 1691.2h1.8v1.8h-1.8zM473.6 1644.8h1.8v1.8h-1.8zM552.0 1632.0h1.8v1.8h-1.8zM513.6 1649.6h1.8v1.8h-1.8zM470.4 1763.2h1.8v1.8h-1.8zM528.0 1660.8h1.8v1.8h-1.8zM537.6 1596.8h1.8v1.8h-1.8zM496.0 1668.8h1.8v1.8h-1.8zM449.6 1809.6h1.8v1.8h-1.8zM627.2 1558.4h1.8v1.8h-1.8zM494.4 1627.2h1.8v1.8h-1.8zM483.2 1657.6h1.8v1.8h-1.8zM545.6 1737.6h1.8v1.8h-1.8zM550.4 1665.6h1.8v1.8h-1.8zM489.6 1691.2h1.8v1.8h-1.8zM475.2 1699.2h1.8v1.8h-1.8zM524.8 1667.2h1.8v1.8h-1.8zM515.2 1628.8h1.8v1.8h-1.8zM491.2 1649.6h1.8v1.8h-1.8zM574.4 1668.8h1.8v1.8h-1.8zM545.6 1672.0h1.8v1.8h-1.8zM504.0 1641.6h1.8v1.8h-1.8zM465.6 1795.2h1.8v1.8h-1.8zM556.8 1576.0h1.8v1.8h-1.8zM504.0 1729.6h1.8v1.8h-1.8zM507.2 1696.0h1.8v1.8h-1.8zM526.4 1691.2h1.8v1.8h-1.8zM502.4 1635.2h1.8v1.8h-1.8zM537.6 1713.6h1.8v1.8h-1.8zM526.4 1697.6h1.8v1.8h-1.8zM459.2 1720.0h1.8v1.8h-1.8zM628.8 1620.8h1.8v1.8h-1.8zM454.4 1684.8h1.8v1.8h-1.8zM518.4 1659.2h1.8v1.8h-1.8zM505.6 1696.0h1.8v1.8h-1.8zM520.0 1680.0h1.8v1.8h-1.8zM516.8 1747.2h1.8v1.8h-1.8zM488.0 1654.4h1.8v1.8h-1.8zM508.8 1678.4h1.8v1.8h-1.8zM524.8 1723.2h1.8v1.8h-1.8zM496.0 1694.4h1.8v1.8h-1.8zM612.8 1579.2h1.8v1.8h-1.8zM558.4 1617.6h1.8v1.8h-1.8zM462.4 1833.6h1.8v1.8h-1.8zM448.0 1681.6h1.8v1.8h-1.8zM590.4 1694.4h1.8v1.8h-1.8zM478.4 1731.2h1.8v1.8h-1.8zM553.6 1660.8h1.8v1.8h-1.8zM556.8 1664.0h1.8v1.8h-1.8zM532.8 1707.2h1.8v1.8h-1.8zM484.8 1758.4h1.8v1.8h-1.8zM502.4 1700.8h1.8v1.8h-1.8zM513.6 1686.4h1.8v1.8h-1.8zM513.6 1664.0h1.8v1.8h-1.8zM500.8 1705.6h1.8v1.8h-1.8zM534.4 1606.4h1.8v1.8h-1.8zM468.8 1800.0h1.8v1.8h-1.8zM444.8 1708.8h1.8v1.8h-1.8zM500.8 1689.6h1.8v1.8h-1.8zM473.6 1683.2h1.8v1.8h-1.8zM473.6 1790.4h1.8v1.8h-1.8zM526.4 1659.2h1.8v1.8h-1.8zM486.4 1766.4h1.8v1.8h-1.8zM504.0 1736.0h1.8v1.8h-1.8zM502.4 1688.0h1.8v1.8h-1.8zM513.6 1636.8h1.8v1.8h-1.8zM464.0 1792.0h1.8v1.8h-1.8zM478.4 1806.4h1.8v1.8h-1.8zM539.2 1697.6h1.8v1.8h-1.8zM513.6 1660.8h1.8v1.8h-1.8zM452.8 1827.2h1.8v1.8h-1.8zM507.2 1678.4h1.8v1.8h-1.8zM544.0 1673.6h1.8v1.8h-1.8zM492.8 1731.2h1.8v1.8h-1.8zM564.8 1616.0h1.8v1.8h-1.8zM633.6 1534.4h1.8v1.8h-1.8zM545.6 1633.6h1.8v1.8h-1.8zM500.8 1729.6h1.8v1.8h-1.8zM507.2 1788.8h1.8v1.8h-1.8zM473.6 1809.6h1.8v1.8h-1.8zM558.4 1612.8h1.8v1.8h-1.8zM451.2 1774.4h1.8v1.8h-1.8zM536.0 1745.6h1.8v1.8h-1.8zM488.0 1667.2h1.8v1.8h-1.8zM497.6 1657.6h1.8v1.8h-1.8zM464.0 1676.8h1.8v1.8h-1.8zM555.2 1608.0h1.8v1.8h-1.8zM475.2 1654.4h1.8v1.8h-1.8zM504.0 1616.0h1.8v1.8h-1.8zM499.2 1704.0h1.8v1.8h-1.8zM488.0 1804.8h1.8v1.8h-1.8zM486.4 1739.2h1.8v1.8h-1.8zM537.6 1704.0h1.8v1.8h-1.8zM497.6 1774.4h1.8v1.8h-1.8zM508.8 1710.4h1.8v1.8h-1.8zM539.2 1646.4h1.8v1.8h-1.8zM465.6 1768.0h1.8v1.8h-1.8zM446.4 1683.2h1.8v1.8h-1.8zM489.6 1720.0h1.8v1.8h-1.8zM500.8 1683.2h1.8v1.8h-1.8zM494.4 1817.6h1.8v1.8h-1.8zM451.2 1678.4h1.8v1.8h-1.8zM512.0 1689.6h1.8v1.8h-1.8zM531.2 1616.0h1.8v1.8h-1.8zM521.6 1593.6h1.8v1.8h-1.8zM468.8 1628.8h1.8v1.8h-1.8zM444.8 1814.4h1.8v1.8h-1.8zM524.8 1684.8h1.8v1.8h-1.8zM580.8 1590.4h1.8v1.8h-1.8zM492.8 1753.6h1.8v1.8h-1.8zM502.4 1702.4h1.8v1.8h-1.8zM513.6 1656.0h1.8v1.8h-1.8zM500.8 1724.8h1.8v1.8h-1.8zM513.6 1651.2h1.8v1.8h-1.8zM476.8 1696.0h1.8v1.8h-1.8zM555.2 1633.6h1.8v1.8h-1.8zM462.4 1803.2h1.8v1.8h-1.8zM476.8 1616.0h1.8v1.8h-1.8zM515.2 1710.4h1.8v1.8h-1.8zM560.0 1606.4h1.8v1.8h-1.8zM462.4 1680.0h1.8v1.8h-1.8zM531.2 1683.2h1.8v1.8h-1.8zM500.8 1644.8h1.8v1.8h-1.8zM500.8 1731.2h1.8v1.8h-1.8zM540.8 1654.4h1.8v1.8h-1.8zM545.6 1649.6h1.8v1.8h-1.8zM446.4 1796.8h1.8v1.8h-1.8zM499.2 1707.2h1.8v1.8h-1.8zM462.4 1809.6h1.8v1.8h-1.8zM476.8 1622.4h1.8v1.8h-1.8zM504.0 1675.2h1.8v1.8h-1.8zM494.4 1675.2h1.8v1.8h-1.8zM513.6 1635.2h1.8v1.8h-1.8zM483.2 1753.6h1.8v1.8h-1.8zM561.6 1595.2h1.8v1.8h-1.8zM502.4 1606.4h1.8v1.8h-1.8zM536.0 1697.6h1.8v1.8h-1.8zM545.6 1736.0h1.8v1.8h-1.8zM579.2 1619.2h1.8v1.8h-1.8zM558.4 1686.4h1.8v1.8h-1.8zM520.0 1641.6h1.8v1.8h-1.8zM460.8 1811.2h1.8v1.8h-1.8zM486.4 1750.4h1.8v1.8h-1.8zM582.4 1561.6h1.8v1.8h-1.8zM513.6 1683.2h1.8v1.8h-1.8zM484.8 1635.2h1.8v1.8h-1.8zM473.6 1681.6h1.8v1.8h-1.8zM476.8 1704.0h1.8v1.8h-1.8zM491.2 1675.2h1.8v1.8h-1.8zM451.2 1694.4h1.8v1.8h-1.8zM478.4 1760.0h1.8v1.8h-1.8zM572.8 1624.0h1.8v1.8h-1.8zM625.6 1537.6h1.8v1.8h-1.8zM523.2 1704.0h1.8v1.8h-1.8zM473.6 1673.6h1.8v1.8h-1.8zM483.2 1755.2h1.8v1.8h-1.8zM547.2 1649.6h1.8v1.8h-1.8zM633.6 1550.4h1.8v1.8h-1.8zM523.2 1617.6h1.8v1.8h-1.8zM571.2 1640.0h1.8v1.8h-1.8zM504.0 1716.8h1.8v1.8h-1.8zM521.6 1641.6h1.8v1.8h-1.8zM540.8 1612.8h1.8v1.8h-1.8zM560.0 1729.6h1.8v1.8h-1.8zM507.2 1616.0h1.8v1.8h-1.8zM489.6 1726.4h1.8v1.8h-1.8zM536.0 1625.6h1.8v1.8h-1.8zM467.2 1628.8h1.8v1.8h-1.8zM588.8 1641.6h1.8v1.8h-1.8zM569.6 1540.8h1.8v1.8h-1.8zM494.4 1747.2h1.8v1.8h-1.8zM566.4 1587.2h1.8v1.8h-1.8zM542.4 1691.2h1.8v1.8h-1.8zM492.8 1747.2h1.8v1.8h-1.8zM528.0 1635.2h1.8v1.8h-1.8zM473.6 1662.4h1.8v1.8h-1.8zM553.6 1644.8h1.8v1.8h-1.8zM563.2 1664.0h1.8v1.8h-1.8zM537.6 1705.6h1.8v1.8h-1.8zM494.4 1686.4h1.8v1.8h-1.8zM507.2 1644.8h1.8v1.8h-1.8zM563.2 1646.4h1.8v1.8h-1.8zM526.4 1646.4h1.8v1.8h-1.8zM537.6 1628.8h1.8v1.8h-1.8zM446.4 1822.4h1.8v1.8h-1.8zM587.2 1579.2h1.8v1.8h-1.8zM483.2 1673.6h1.8v1.8h-1.8zM486.4 1736.0h1.8v1.8h-1.8zM544.0 1608.0h1.8v1.8h-1.8zM478.4 1772.8h1.8v1.8h-1.8zM524.8 1659.2h1.8v1.8h-1.8zM528.0 1684.8h1.8v1.8h-1.8zM488.0 1648.0h1.8v1.8h-1.8zM507.2 1715.2h1.8v1.8h-1.8zM444.8 1716.8h1.8v1.8h-1.8zM456.0 1700.8h1.8v1.8h-1.8zM545.6 1646.4h1.8v1.8h-1.8zM544.0 1614.4h1.8v1.8h-1.8zM489.6 1667.2h1.8v1.8h-1.8zM588.8 1603.2h1.8v1.8h-1.8zM596.8 1592.0h1.8v1.8h-1.8zM499.2 1665.6h1.8v1.8h-1.8zM516.8 1696.0h1.8v1.8h-1.8zM566.4 1644.8h1.8v1.8h-1.8zM454.4 1686.4h1.8v1.8h-1.8zM454.4 1678.4h1.8v1.8h-1.8zM480.0 1641.6h1.8v1.8h-1.8zM521.6 1688.0h1.8v1.8h-1.8zM558.4 1585.6h1.8v1.8h-1.8zM472.0 1790.4h1.8v1.8h-1.8zM542.4 1635.2h1.8v1.8h-1.8zM585.6 1636.8h1.8v1.8h-1.8zM524.8 1672.0h1.8v1.8h-1.8zM617.6 1665.6h1.8v1.8h-1.8zM521.6 1657.6h1.8v1.8h-1.8zM497.6 1660.8h1.8v1.8h-1.8zM505.6 1734.4h1.8v1.8h-1.8zM622.4 1617.6h1.8v1.8h-1.8zM520.0 1676.8h1.8v1.8h-1.8zM492.8 1641.6h1.8v1.8h-1.8zM518.4 1707.2h1.8v1.8h-1.8zM529.6 1635.2h1.8v1.8h-1.8zM502.4 1764.8h1.8v1.8h-1.8zM528.0 1704.0h1.8v1.8h-1.8zM532.8 1708.8h1.8v1.8h-1.8zM540.8 1681.6h1.8v1.8h-1.8zM460.8 1686.4h1.8v1.8h-1.8zM459.2 1792.0h1.8v1.8h-1.8zM486.4 1670.4h1.8v1.8h-1.8zM473.6 1737.6h1.8v1.8h-1.8zM560.0 1670.4h1.8v1.8h-1.8zM510.4 1640.0h1.8v1.8h-1.8zM574.4 1652.8h1.8v1.8h-1.8zM504.0 1753.6h1.8v1.8h-1.8zM476.8 1675.2h1.8v1.8h-1.8zM536.0 1662.4h1.8v1.8h-1.8zM496.0 1761.6h1.8v1.8h-1.8zM459.2 1660.8h1.8v1.8h-1.8zM574.4 1673.6h1.8v1.8h-1.8zM462.4 1678.4h1.8v1.8h-1.8zM568.0 1601.6h1.8v1.8h-1.8zM491.2 1683.2h1.8v1.8h-1.8zM500.8 1668.8h1.8v1.8h-1.8zM473.6 1744.0h1.8v1.8h-1.8zM444.8 1718.4h1.8v1.8h-1.8zM540.8 1686.4h1.8v1.8h-1.8zM444.8 1699.2h1.8v1.8h-1.8zM452.8 1817.6h1.8v1.8h-1.8zM459.2 1665.6h1.8v1.8h-1.8zM588.8 1649.6h1.8v1.8h-1.8zM497.6 1748.8h1.8v1.8h-1.8zM489.6 1675.2h1.8v1.8h-1.8zM502.4 1766.4h1.8v1.8h-1.8zM494.4 1742.4h1.8v1.8h-1.8zM476.8 1787.2h1.8v1.8h-1.8zM489.6 1608.0h1.8v1.8h-1.8zM480.0 1649.6h1.8v1.8h-1.8zM508.8 1697.6h1.8v1.8h-1.8zM516.8 1660.8h1.8v1.8h-1.8zM472.0 1652.8h1.8v1.8h-1.8zM488.0 1726.4h1.8v1.8h-1.8zM504.0 1680.0h1.8v1.8h-1.8zM523.2 1678.4h1.8v1.8h-1.8zM496.0 1750.4h1.8v1.8h-1.8zM502.4 1724.8h1.8v1.8h-1.8zM457.6 1697.6h1.8v1.8h-1.8zM486.4 1771.2h1.8v1.8h-1.8zM529.6 1654.4h1.8v1.8h-1.8zM548.8 1596.8h1.8v1.8h-1.8zM609.6 1620.8h1.8v1.8h-1.8zM444.8 1782.4h1.8v1.8h-1.8zM532.8 1620.8h1.8v1.8h-1.8zM572.8 1648.0h1.8v1.8h-1.8zM524.8 1681.6h1.8v1.8h-1.8zM512.0 1697.6h1.8v1.8h-1.8zM568.0 1656.0h1.8v1.8h-1.8zM521.6 1608.0h1.8v1.8h-1.8zM532.8 1694.4h1.8v1.8h-1.8zM491.2 1739.2h1.8v1.8h-1.8zM536.0 1635.2h1.8v1.8h-1.8zM571.2 1619.2h1.8v1.8h-1.8zM507.2 1683.2h1.8v1.8h-1.8zM505.6 1702.4h1.8v1.8h-1.8zM464.0 1768.0h1.8v1.8h-1.8zM532.8 1702.4h1.8v1.8h-1.8zM486.4 1724.8h1.8v1.8h-1.8zM494.4 1737.6h1.8v1.8h-1.8zM452.8 1841.6h1.8v1.8h-1.8zM502.4 1710.4h1.8v1.8h-1.8zM481.6 1742.4h1.8v1.8h-1.8zM467.2 1643.2h1.8v1.8h-1.8zM553.6 1636.8h1.8v1.8h-1.8zM588.8 1576.0h1.8v1.8h-1.8zM532.8 1609.6h1.8v1.8h-1.8zM500.8 1656.0h1.8v1.8h-1.8zM499.2 1734.4h1.8v1.8h-1.8zM481.6 1632.0h1.8v1.8h-1.8zM467.2 1803.2h1.8v1.8h-1.8zM529.6 1656.0h1.8v1.8h-1.8zM524.8 1630.4h1.8v1.8h-1.8zM553.6 1616.0h1.8v1.8h-1.8zM444.8 1787.2h1.8v1.8h-1.8zM529.6 1636.8h1.8v1.8h-1.8zM454.4 1664.0h1.8v1.8h-1.8zM508.8 1728.0h1.8v1.8h-1.8zM505.6 1636.8h1.8v1.8h-1.8zM502.4 1748.8h1.8v1.8h-1.8zM449.6 1676.8h1.8v1.8h-1.8zM497.6 1656.0h1.8v1.8h-1.8zM505.6 1718.4h1.8v1.8h-1.8zM593.6 1590.4h1.8v1.8h-1.8zM459.2 1673.6h1.8v1.8h-1.8zM569.6 1632.0h1.8v1.8h-1.8zM512.0 1662.4h1.8v1.8h-1.8zM579.2 1622.4h1.8v1.8h-1.8zM488.0 1649.6h1.8v1.8h-1.8zM483.2 1724.8h1.8v1.8h-1.8zM592.0 1649.6h1.8v1.8h-1.8zM596.8 1635.2h1.8v1.8h-1.8zM542.4 1705.6h1.8v1.8h-1.8zM515.2 1641.6h1.8v1.8h-1.8zM515.2 1659.2h1.8v1.8h-1.8zM571.2 1603.2h1.8v1.8h-1.8zM484.8 1646.4h1.8v1.8h-1.8zM504.0 1649.6h1.8v1.8h-1.8zM513.6 1614.4h1.8v1.8h-1.8zM465.6 1798.4h1.8v1.8h-1.8zM512.0 1673.6h1.8v1.8h-1.8zM502.4 1712.0h1.8v1.8h-1.8zM451.2 1696.0h1.8v1.8h-1.8zM521.6 1667.2h1.8v1.8h-1.8zM446.4 1675.2h1.8v1.8h-1.8zM587.2 1689.6h1.8v1.8h-1.8zM478.4 1660.8h1.8v1.8h-1.8zM609.6 1564.8h1.8v1.8h-1.8zM505.6 1668.8h1.8v1.8h-1.8zM532.8 1667.2h1.8v1.8h-1.8zM545.6 1617.6h1.8v1.8h-1.8zM494.4 1667.2h1.8v1.8h-1.8zM540.8 1596.8h1.8v1.8h-1.8zM532.8 1588.8h1.8v1.8h-1.8zM526.4 1608.0h1.8v1.8h-1.8zM504.0 1630.4h1.8v1.8h-1.8zM579.2 1616.0h1.8v1.8h-1.8zM467.2 1848.0h1.8v1.8h-1.8zM534.4 1692.8h1.8v1.8h-1.8zM521.6 1678.4h1.8v1.8h-1.8zM564.8 1676.8h1.8v1.8h-1.8zM457.6 1798.4h1.8v1.8h-1.8zM483.2 1678.4h1.8v1.8h-1.8zM537.6 1676.8h1.8v1.8h-1.8zM504.0 1656.0h1.8v1.8h-1.8zM496.0 1664.0h1.8v1.8h-1.8zM494.4 1704.0h1.8v1.8h-1.8zM526.4 1686.4h1.8v1.8h-1.8zM539.2 1595.2h1.8v1.8h-1.8zM520.0 1688.0h1.8v1.8h-1.8zM540.8 1628.8h1.8v1.8h-1.8zM460.8 1672.0h1.8v1.8h-1.8zM478.4 1654.4h1.8v1.8h-1.8zM611.2 1556.8h1.8v1.8h-1.8zM579.2 1564.8h1.8v1.8h-1.8zM502.4 1691.2h1.8v1.8h-1.8zM532.8 1646.4h1.8v1.8h-1.8zM571.2 1625.6h1.8v1.8h-1.8zM507.2 1635.2h1.8v1.8h-1.8zM563.2 1625.6h1.8v1.8h-1.8zM516.8 1659.2h1.8v1.8h-1.8zM508.8 1600.0h1.8v1.8h-1.8zM596.8 1657.6h1.8v1.8h-1.8zM627.2 1555.2h1.8v1.8h-1.8zM489.6 1708.8h1.8v1.8h-1.8zM462.4 1667.2h1.8v1.8h-1.8zM518.4 1603.2h1.8v1.8h-1.8zM449.6 1657.6h1.8v1.8h-1.8zM609.6 1659.2h1.8v1.8h-1.8zM529.6 1592.0h1.8v1.8h-1.8zM528.0 1606.4h1.8v1.8h-1.8zM563.2 1627.2h1.8v1.8h-1.8zM524.8 1665.6h1.8v1.8h-1.8zM484.8 1764.8h1.8v1.8h-1.8zM502.4 1627.2h1.8v1.8h-1.8zM494.4 1744.0h1.8v1.8h-1.8zM507.2 1643.2h1.8v1.8h-1.8zM555.2 1582.4h1.8v1.8h-1.8zM507.2 1686.4h1.8v1.8h-1.8zM571.2 1614.4h1.8v1.8h-1.8zM560.0 1552.0h1.8v1.8h-1.8zM524.8 1617.6h1.8v1.8h-1.8zM483.2 1742.4h1.8v1.8h-1.8zM451.2 1646.4h1.8v1.8h-1.8zM499.2 1675.2h1.8v1.8h-1.8zM520.0 1654.4h1.8v1.8h-1.8zM491.2 1756.8h1.8v1.8h-1.8zM494.4 1732.8h1.8v1.8h-1.8zM465.6 1668.8h1.8v1.8h-1.8zM491.2 1691.2h1.8v1.8h-1.8zM475.2 1729.6h1.8v1.8h-1.8zM489.6 1729.6h1.8v1.8h-1.8zM465.6 1651.2h1.8v1.8h-1.8zM497.6 1704.0h1.8v1.8h-1.8zM600.0 1585.6h1.8v1.8h-1.8zM521.6 1635.2h1.8v1.8h-1.8zM476.8 1771.2h1.8v1.8h-1.8zM480.0 1747.2h1.8v1.8h-1.8zM516.8 1707.2h1.8v1.8h-1.8zM480.0 1761.6h1.8v1.8h-1.8zM478.4 1750.4h1.8v1.8h-1.8zM520.0 1628.8h1.8v1.8h-1.8zM481.6 1744.0h1.8v1.8h-1.8zM464.0 1795.2h1.8v1.8h-1.8zM518.4 1640.0h1.8v1.8h-1.8zM528.0 1680.0h1.8v1.8h-1.8zM449.6 1697.6h1.8v1.8h-1.8zM468.8 1673.6h1.8v1.8h-1.8zM489.6 1689.6h1.8v1.8h-1.8zM462.4 1644.8h1.8v1.8h-1.8zM564.8 1614.4h1.8v1.8h-1.8zM472.0 1800.0h1.8v1.8h-1.8zM459.2 1678.4h1.8v1.8h-1.8zM550.4 1651.2h1.8v1.8h-1.8zM537.6 1672.0h1.8v1.8h-1.8zM480.0 1668.8h1.8v1.8h-1.8zM508.8 1654.4h1.8v1.8h-1.8zM489.6 1728.0h1.8v1.8h-1.8zM492.8 1673.6h1.8v1.8h-1.8zM600.0 1590.4h1.8v1.8h-1.8zM457.6 1793.6h1.8v1.8h-1.8zM544.0 1672.0h1.8v1.8h-1.8zM596.8 1552.0h1.8v1.8h-1.8zM534.4 1627.2h1.8v1.8h-1.8zM526.4 1612.8h1.8v1.8h-1.8zM528.0 1692.8h1.8v1.8h-1.8zM547.2 1656.0h1.8v1.8h-1.8zM512.0 1726.4h1.8v1.8h-1.8zM508.8 1643.2h1.8v1.8h-1.8zM539.2 1728.0h1.8v1.8h-1.8zM457.6 1809.6h1.8v1.8h-1.8zM510.4 1716.8h1.8v1.8h-1.8zM625.6 1556.8h1.8v1.8h-1.8zM496.0 1726.4h1.8v1.8h-1.8zM614.4 1552.0h1.8v1.8h-1.8zM558.4 1664.0h1.8v1.8h-1.8zM489.6 1752.0h1.8v1.8h-1.8zM454.4 1827.2h1.8v1.8h-1.8zM548.8 1646.4h1.8v1.8h-1.8zM510.4 1672.0h1.8v1.8h-1.8zM518.4 1686.4h1.8v1.8h-1.8zM526.4 1699.2h1.8v1.8h-1.8zM518.4 1672.0h1.8v1.8h-1.8zM612.8 1574.4h1.8v1.8h-1.8zM464.0 1811.2h1.8v1.8h-1.8zM464.0 1683.2h1.8v1.8h-1.8zM596.8 1576.0h1.8v1.8h-1.8zM547.2 1675.2h1.8v1.8h-1.8zM457.6 1678.4h1.8v1.8h-1.8zM484.8 1761.6h1.8v1.8h-1.8zM568.0 1640.0h1.8v1.8h-1.8zM462.4 1788.8h1.8v1.8h-1.8zM491.2 1721.6h1.8v1.8h-1.8zM464.0 1776.0h1.8v1.8h-1.8zM534.4 1641.6h1.8v1.8h-1.8zM502.4 1686.4h1.8v1.8h-1.8zM468.8 1665.6h1.8v1.8h-1.8zM529.6 1704.0h1.8v1.8h-1.8zM528.0 1659.2h1.8v1.8h-1.8zM502.4 1715.2h1.8v1.8h-1.8zM552.0 1633.6h1.8v1.8h-1.8zM478.4 1752.0h1.8v1.8h-1.8zM492.8 1726.4h1.8v1.8h-1.8zM451.2 1675.2h1.8v1.8h-1.8zM491.2 1659.2h1.8v1.8h-1.8zM492.8 1700.8h1.8v1.8h-1.8zM484.8 1744.0h1.8v1.8h-1.8zM510.4 1700.8h1.8v1.8h-1.8zM521.6 1665.6h1.8v1.8h-1.8zM488.0 1707.2h1.8v1.8h-1.8zM488.0 1665.6h1.8v1.8h-1.8zM500.8 1622.4h1.8v1.8h-1.8zM502.4 1678.4h1.8v1.8h-1.8zM476.8 1640.0h1.8v1.8h-1.8zM548.8 1678.4h1.8v1.8h-1.8zM520.0 1692.8h1.8v1.8h-1.8zM587.2 1616.0h1.8v1.8h-1.8zM486.4 1745.6h1.8v1.8h-1.8zM539.2 1662.4h1.8v1.8h-1.8zM491.2 1734.4h1.8v1.8h-1.8zM449.6 1659.2h1.8v1.8h-1.8zM494.4 1651.2h1.8v1.8h-1.8zM547.2 1628.8h1.8v1.8h-1.8zM500.8 1660.8h1.8v1.8h-1.8zM492.8 1769.6h1.8v1.8h-1.8zM460.8 1787.2h1.8v1.8h-1.8zM494.4 1723.2h1.8v1.8h-1.8zM489.6 1731.2h1.8v1.8h-1.8zM486.4 1654.4h1.8v1.8h-1.8zM531.2 1721.6h1.8v1.8h-1.8zM521.6 1700.8h1.8v1.8h-1.8zM568.0 1673.6h1.8v1.8h-1.8zM448.0 1878.4h1.8v1.8h-1.8zM488.0 1734.4h1.8v1.8h-1.8zM475.2 1787.2h1.8v1.8h-1.8zM460.8 1680.0h1.8v1.8h-1.8zM497.6 1648.0h1.8v1.8h-1.8zM464.0 1646.4h1.8v1.8h-1.8zM515.2 1596.8h1.8v1.8h-1.8zM484.8 1739.2h1.8v1.8h-1.8zM542.4 1609.6h1.8v1.8h-1.8zM480.0 1665.6h1.8v1.8h-1.8zM513.6 1662.4h1.8v1.8h-1.8zM548.8 1657.6h1.8v1.8h-1.8zM521.6 1689.6h1.8v1.8h-1.8zM601.6 1590.4h1.8v1.8h-1.8zM444.8 1771.2h1.8v1.8h-1.8zM467.2 1769.6h1.8v1.8h-1.8zM444.8 1678.4h1.8v1.8h-1.8zM502.4 1624.0h1.8v1.8h-1.8zM536.0 1720.0h1.8v1.8h-1.8zM472.0 1779.2h1.8v1.8h-1.8zM504.0 1740.8h1.8v1.8h-1.8zM563.2 1614.4h1.8v1.8h-1.8zM524.8 1614.4h1.8v1.8h-1.8zM518.4 1670.4h1.8v1.8h-1.8zM552.0 1667.2h1.8v1.8h-1.8zM457.6 1692.8h1.8v1.8h-1.8zM462.4 1785.6h1.8v1.8h-1.8zM577.6 1646.4h1.8v1.8h-1.8zM491.2 1664.0h1.8v1.8h-1.8zM497.6 1753.6h1.8v1.8h-1.8zM518.4 1718.4h1.8v1.8h-1.8zM507.2 1651.2h1.8v1.8h-1.8zM472.0 1731.2h1.8v1.8h-1.8zM555.2 1638.4h1.8v1.8h-1.8zM488.0 1704.0h1.8v1.8h-1.8zM459.2 1651.2h1.8v1.8h-1.8zM518.4 1656.0h1.8v1.8h-1.8zM611.2 1558.4h1.8v1.8h-1.8zM550.4 1673.6h1.8v1.8h-1.8zM510.4 1691.2h1.8v1.8h-1.8zM515.2 1638.4h1.8v1.8h-1.8zM451.2 1688.0h1.8v1.8h-1.8zM504.0 1692.8h1.8v1.8h-1.8zM496.0 1702.4h1.8v1.8h-1.8zM523.2 1702.4h1.8v1.8h-1.8zM486.4 1624.0h1.8v1.8h-1.8zM484.8 1772.8h1.8v1.8h-1.8zM480.0 1656.0h1.8v1.8h-1.8zM488.0 1662.4h1.8v1.8h-1.8zM512.0 1696.0h1.8v1.8h-1.8zM473.6 1649.6h1.8v1.8h-1.8zM457.6 1659.2h1.8v1.8h-1.8zM467.2 1694.4h1.8v1.8h-1.8zM590.4 1579.2h1.8v1.8h-1.8zM494.4 1673.6h1.8v1.8h-1.8zM587.2 1668.8h1.8v1.8h-1.8zM491.2 1652.8h1.8v1.8h-1.8zM494.4 1664.0h1.8v1.8h-1.8zM574.4 1593.6h1.8v1.8h-1.8zM516.8 1694.4h1.8v1.8h-1.8zM483.2 1643.2h1.8v1.8h-1.8zM539.2 1640.0h1.8v1.8h-1.8zM536.0 1609.6h1.8v1.8h-1.8zM561.6 1657.6h1.8v1.8h-1.8zM528.0 1640.0h1.8v1.8h-1.8zM520.0 1681.6h1.8v1.8h-1.8zM475.2 1745.6h1.8v1.8h-1.8zM545.6 1624.0h1.8v1.8h-1.8zM577.6 1566.4h1.8v1.8h-1.8zM529.6 1684.8h1.8v1.8h-1.8zM540.8 1636.8h1.8v1.8h-1.8zM512.0 1705.6h1.8v1.8h-1.8zM510.4 1683.2h1.8v1.8h-1.8zM571.2 1556.8h1.8v1.8h-1.8zM473.6 1776.0h1.8v1.8h-1.8zM488.0 1744.0h1.8v1.8h-1.8zM512.0 1710.4h1.8v1.8h-1.8zM505.6 1728.0h1.8v1.8h-1.8zM521.6 1672.0h1.8v1.8h-1.8zM513.6 1680.0h1.8v1.8h-1.8zM464.0 1764.8h1.8v1.8h-1.8zM507.2 1641.6h1.8v1.8h-1.8zM494.4 1720.0h1.8v1.8h-1.8zM587.2 1588.8h1.8v1.8h-1.8zM502.4 1614.4h1.8v1.8h-1.8zM528.0 1707.2h1.8v1.8h-1.8zM520.0 1700.8h1.8v1.8h-1.8zM478.4 1665.6h1.8v1.8h-1.8zM611.2 1595.2h1.8v1.8h-1.8zM480.0 1708.8h1.8v1.8h-1.8zM524.8 1710.4h1.8v1.8h-1.8zM516.8 1609.6h1.8v1.8h-1.8zM470.4 1800.0h1.8v1.8h-1.8zM521.6 1683.2h1.8v1.8h-1.8zM502.4 1737.6h1.8v1.8h-1.8zM491.2 1718.4h1.8v1.8h-1.8zM512.0 1646.4h1.8v1.8h-1.8zM507.2 1707.2h1.8v1.8h-1.8zM588.8 1555.2h1.8v1.8h-1.8zM566.4 1635.2h1.8v1.8h-1.8zM507.2 1676.8h1.8v1.8h-1.8zM601.6 1592.0h1.8v1.8h-1.8zM529.6 1616.0h1.8v1.8h-1.8zM476.8 1691.2h1.8v1.8h-1.8zM476.8 1659.2h1.8v1.8h-1.8zM531.2 1633.6h1.8v1.8h-1.8zM467.2 1760.0h1.8v1.8h-1.8zM544.0 1628.8h1.8v1.8h-1.8zM635.2 1563.2h1.8v1.8h-1.8zM508.8 1636.8h1.8v1.8h-1.8zM480.0 1772.8h1.8v1.8h-1.8zM592.0 1632.0h1.8v1.8h-1.8zM486.4 1729.6h1.8v1.8h-1.8zM564.8 1731.2h1.8v1.8h-1.8zM507.2 1694.4h1.8v1.8h-1.8zM513.6 1609.6h1.8v1.8h-1.8zM467.2 1790.4h1.8v1.8h-1.8zM512.0 1700.8h1.8v1.8h-1.8zM510.4 1664.0h1.8v1.8h-1.8zM528.0 1681.6h1.8v1.8h-1.8zM526.4 1681.6h1.8v1.8h-1.8zM476.8 1649.6h1.8v1.8h-1.8zM486.4 1710.4h1.8v1.8h-1.8zM512.0 1640.0h1.8v1.8h-1.8zM528.0 1636.8h1.8v1.8h-1.8zM502.4 1768.0h1.8v1.8h-1.8zM633.6 1540.8h1.8v1.8h-1.8zM561.6 1644.8h1.8v1.8h-1.8zM500.8 1672.0h1.8v1.8h-1.8zM505.6 1649.6h1.8v1.8h-1.8zM492.8 1680.0h1.8v1.8h-1.8zM587.2 1598.4h1.8v1.8h-1.8zM550.4 1592.0h1.8v1.8h-1.8zM531.2 1657.6h1.8v1.8h-1.8zM500.8 1702.4h1.8v1.8h-1.8zM489.6 1718.4h1.8v1.8h-1.8zM532.8 1680.0h1.8v1.8h-1.8zM483.2 1766.4h1.8v1.8h-1.8zM585.6 1664.0h1.8v1.8h-1.8zM564.8 1608.0h1.8v1.8h-1.8zM473.6 1763.2h1.8v1.8h-1.8zM499.2 1673.6h1.8v1.8h-1.8zM499.2 1699.2h1.8v1.8h-1.8zM531.2 1620.8h1.8v1.8h-1.8zM492.8 1624.0h1.8v1.8h-1.8zM521.6 1692.8h1.8v1.8h-1.8zM478.4 1686.4h1.8v1.8h-1.8zM446.4 1844.8h1.8v1.8h-1.8zM537.6 1694.4h1.8v1.8h-1.8zM536.0 1665.6h1.8v1.8h-1.8zM512.0 1683.2h1.8v1.8h-1.8zM547.2 1588.8h1.8v1.8h-1.8zM486.4 1721.6h1.8v1.8h-1.8zM499.2 1731.2h1.8v1.8h-1.8zM507.2 1726.4h1.8v1.8h-1.8zM478.4 1705.6h1.8v1.8h-1.8zM548.8 1630.4h1.8v1.8h-1.8zM494.4 1662.4h1.8v1.8h-1.8zM556.8 1680.0h1.8v1.8h-1.8zM507.2 1630.4h1.8v1.8h-1.8zM489.6 1736.0h1.8v1.8h-1.8zM489.6 1740.8h1.8v1.8h-1.8zM524.8 1654.4h1.8v1.8h-1.8zM539.2 1724.8h1.8v1.8h-1.8zM561.6 1593.6h1.8v1.8h-1.8zM526.4 1662.4h1.8v1.8h-1.8zM512.0 1747.2h1.8v1.8h-1.8zM502.4 1670.4h1.8v1.8h-1.8zM572.8 1574.4h1.8v1.8h-1.8zM526.4 1664.0h1.8v1.8h-1.8zM510.4 1656.0h1.8v1.8h-1.8zM444.8 1680.0h1.8v1.8h-1.8zM593.6 1584.0h1.8v1.8h-1.8zM516.8 1614.4h1.8v1.8h-1.8zM513.6 1628.8h1.8v1.8h-1.8zM508.8 1803.2h1.8v1.8h-1.8zM544.0 1654.4h1.8v1.8h-1.8zM513.6 1704.0h1.8v1.8h-1.8zM472.0 1654.4h1.8v1.8h-1.8zM491.2 1680.0h1.8v1.8h-1.8zM598.4 1579.2h1.8v1.8h-1.8zM496.0 1720.0h1.8v1.8h-1.8zM532.8 1689.6h1.8v1.8h-1.8zM481.6 1696.0h1.8v1.8h-1.8zM502.4 1601.6h1.8v1.8h-1.8zM552.0 1574.4h1.8v1.8h-1.8zM494.4 1641.6h1.8v1.8h-1.8zM582.4 1555.2h1.8v1.8h-1.8zM476.8 1638.4h1.8v1.8h-1.8zM512.0 1688.0h1.8v1.8h-1.8zM587.2 1569.6h1.8v1.8h-1.8zM524.8 1702.4h1.8v1.8h-1.8zM481.6 1676.8h1.8v1.8h-1.8zM497.6 1672.0h1.8v1.8h-1.8zM556.8 1648.0h1.8v1.8h-1.8zM492.8 1612.8h1.8v1.8h-1.8zM488.0 1755.2h1.8v1.8h-1.8zM494.4 1779.2h1.8v1.8h-1.8zM550.4 1630.4h1.8v1.8h-1.8zM500.8 1676.8h1.8v1.8h-1.8zM542.4 1712.0h1.8v1.8h-1.8zM526.4 1670.4h1.8v1.8h-1.8zM553.6 1576.0h1.8v1.8h-1.8zM481.6 1788.8h1.8v1.8h-1.8zM508.8 1670.4h1.8v1.8h-1.8zM534.4 1686.4h1.8v1.8h-1.8zM484.8 1672.0h1.8v1.8h-1.8zM516.8 1715.2h1.8v1.8h-1.8zM550.4 1633.6h1.8v1.8h-1.8zM499.2 1729.6h1.8v1.8h-1.8zM505.6 1630.4h1.8v1.8h-1.8zM510.4 1692.8h1.8v1.8h-1.8zM472.0 1793.6h1.8v1.8h-1.8zM561.6 1646.4h1.8v1.8h-1.8zM534.4 1667.2h1.8v1.8h-1.8zM467.2 1808.0h1.8v1.8h-1.8zM550.4 1619.2h1.8v1.8h-1.8zM486.4 1649.6h1.8v1.8h-1.8zM456.0 1827.2h1.8v1.8h-1.8zM524.8 1598.4h1.8v1.8h-1.8zM473.6 1728.0h1.8v1.8h-1.8zM523.2 1614.4h1.8v1.8h-1.8zM521.6 1710.4h1.8v1.8h-1.8zM531.2 1688.0h1.8v1.8h-1.8zM580.8 1558.4h1.8v1.8h-1.8zM499.2 1724.8h1.8v1.8h-1.8zM502.4 1651.2h1.8v1.8h-1.8zM596.8 1582.4h1.8v1.8h-1.8zM462.4 1696.0h1.8v1.8h-1.8zM611.2 1617.6h1.8v1.8h-1.8zM542.4 1587.2h1.8v1.8h-1.8zM489.6 1651.2h1.8v1.8h-1.8zM481.6 1750.4h1.8v1.8h-1.8zM518.4 1688.0h1.8v1.8h-1.8zM444.8 1803.2h1.8v1.8h-1.8zM622.4 1632.0h1.8v1.8h-1.8zM539.2 1692.8h1.8v1.8h-1.8zM497.6 1659.2h1.8v1.8h-1.8zM476.8 1761.6h1.8v1.8h-1.8zM504.0 1723.2h1.8v1.8h-1.8zM481.6 1675.2h1.8v1.8h-1.8zM513.6 1668.8h1.8v1.8h-1.8zM462.4 1790.4h1.8v1.8h-1.8zM494.4 1736.0h1.8v1.8h-1.8zM526.4 1720.0h1.8v1.8h-1.8zM491.2 1737.6h1.8v1.8h-1.8zM480.0 1680.0h1.8v1.8h-1.8zM547.2 1664.0h1.8v1.8h-1.8zM502.4 1718.4h1.8v1.8h-1.8zM496.0 1721.6h1.8v1.8h-1.8zM499.2 1640.0h1.8v1.8h-1.8zM492.8 1652.8h1.8v1.8h-1.8zM582.4 1588.8h1.8v1.8h-1.8zM448.0 1684.8h1.8v1.8h-1.8zM484.8 1745.6h1.8v1.8h-1.8zM558.4 1596.8h1.8v1.8h-1.8zM580.8 1628.8h1.8v1.8h-1.8zM446.4 1846.4h1.8v1.8h-1.8zM459.2 1793.6h1.8v1.8h-1.8zM579.2 1604.8h1.8v1.8h-1.8zM494.4 1678.4h1.8v1.8h-1.8zM459.2 1689.6h1.8v1.8h-1.8zM537.6 1622.4h1.8v1.8h-1.8zM564.8 1579.2h1.8v1.8h-1.8zM590.4 1593.6h1.8v1.8h-1.8zM569.6 1593.6h1.8v1.8h-1.8zM500.8 1740.8h1.8v1.8h-1.8zM515.2 1678.4h1.8v1.8h-1.8zM574.4 1606.4h1.8v1.8h-1.8zM480.0 1779.2h1.8v1.8h-1.8zM508.8 1718.4h1.8v1.8h-1.8zM494.4 1660.8h1.8v1.8h-1.8zM496.0 1651.2h1.8v1.8h-1.8zM512.0 1619.2h1.8v1.8h-1.8zM540.8 1614.4h1.8v1.8h-1.8zM489.6 1771.2h1.8v1.8h-1.8zM547.2 1598.4h1.8v1.8h-1.8zM473.6 1793.6h1.8v1.8h-1.8zM488.0 1769.6h1.8v1.8h-1.8zM526.4 1683.2h1.8v1.8h-1.8zM489.6 1707.2h1.8v1.8h-1.8zM483.2 1667.2h1.8v1.8h-1.8zM532.8 1692.8h1.8v1.8h-1.8zM502.4 1656.0h1.8v1.8h-1.8zM523.2 1718.4h1.8v1.8h-1.8zM497.6 1627.2h1.8v1.8h-1.8zM497.6 1676.8h1.8v1.8h-1.8zM494.4 1764.8h1.8v1.8h-1.8zM587.2 1657.6h1.8v1.8h-1.8zM561.6 1600.0h1.8v1.8h-1.8zM579.2 1630.4h1.8v1.8h-1.8zM598.4 1580.8h1.8v1.8h-1.8zM531.2 1614.4h1.8v1.8h-1.8zM499.2 1632.0h1.8v1.8h-1.8zM523.2 1644.8h1.8v1.8h-1.8zM563.2 1580.8h1.8v1.8h-1.8zM446.4 1816.0h1.8v1.8h-1.8zM510.4 1678.4h1.8v1.8h-1.8zM504.0 1747.2h1.8v1.8h-1.8zM505.6 1656.0h1.8v1.8h-1.8zM497.6 1699.2h1.8v1.8h-1.8zM468.8 1652.8h1.8v1.8h-1.8zM537.6 1700.8h1.8v1.8h-1.8zM561.6 1673.6h1.8v1.8h-1.8zM489.6 1712.0h1.8v1.8h-1.8zM547.2 1648.0h1.8v1.8h-1.8zM595.2 1651.2h1.8v1.8h-1.8zM488.0 1748.8h1.8v1.8h-1.8zM515.2 1715.2h1.8v1.8h-1.8zM470.4 1665.6h1.8v1.8h-1.8zM515.2 1627.2h1.8v1.8h-1.8zM454.4 1800.0h1.8v1.8h-1.8zM518.4 1720.0h1.8v1.8h-1.8zM494.4 1750.4h1.8v1.8h-1.8zM596.8 1584.0h1.8v1.8h-1.8zM492.8 1710.4h1.8v1.8h-1.8zM532.8 1635.2h1.8v1.8h-1.8zM472.0 1673.6h1.8v1.8h-1.8zM500.8 1627.2h1.8v1.8h-1.8zM468.8 1697.6h1.8v1.8h-1.8zM504.0 1712.0h1.8v1.8h-1.8zM465.6 1782.4h1.8v1.8h-1.8zM609.6 1577.6h1.8v1.8h-1.8zM539.2 1588.8h1.8v1.8h-1.8zM520.0 1732.8h1.8v1.8h-1.8zM494.4 1691.2h1.8v1.8h-1.8zM539.2 1630.4h1.8v1.8h-1.8zM537.6 1646.4h1.8v1.8h-1.8zM534.4 1673.6h1.8v1.8h-1.8zM504.0 1726.4h1.8v1.8h-1.8zM464.0 1686.4h1.8v1.8h-1.8zM547.2 1617.6h1.8v1.8h-1.8zM534.4 1684.8h1.8v1.8h-1.8zM550.4 1579.2h1.8v1.8h-1.8zM491.2 1740.8h1.8v1.8h-1.8zM475.2 1780.8h1.8v1.8h-1.8zM539.2 1668.8h1.8v1.8h-1.8zM446.4 1811.2h1.8v1.8h-1.8zM515.2 1676.8h1.8v1.8h-1.8zM489.6 1744.0h1.8v1.8h-1.8zM483.2 1720.0h1.8v1.8h-1.8zM451.2 1852.8h1.8v1.8h-1.8zM574.4 1641.6h1.8v1.8h-1.8zM500.8 1649.6h1.8v1.8h-1.8zM510.4 1675.2h1.8v1.8h-1.8zM537.6 1708.8h1.8v1.8h-1.8zM547.2 1643.2h1.8v1.8h-1.8zM472.0 1792.0h1.8v1.8h-1.8zM444.8 1721.6h1.8v1.8h-1.8zM545.6 1632.0h1.8v1.8h-1.8zM489.6 1723.2h1.8v1.8h-1.8zM502.4 1664.0h1.8v1.8h-1.8zM483.2 1704.0h1.8v1.8h-1.8zM531.2 1648.0h1.8v1.8h-1.8zM537.6 1635.2h1.8v1.8h-1.8zM516.8 1627.2h1.8v1.8h-1.8zM491.2 1793.6h1.8v1.8h-1.8zM544.0 1635.2h1.8v1.8h-1.8zM516.8 1654.4h1.8v1.8h-1.8zM473.6 1777.6h1.8v1.8h-1.8zM496.0 1764.8h1.8v1.8h-1.8zM507.2 1699.2h1.8v1.8h-1.8zM595.2 1632.0h1.8v1.8h-1.8zM488.0 1675.2h1.8v1.8h-1.8zM520.0 1617.6h1.8v1.8h-1.8zM539.2 1622.4h1.8v1.8h-1.8zM505.6 1723.2h1.8v1.8h-1.8zM574.4 1662.4h1.8v1.8h-1.8zM518.4 1622.4h1.8v1.8h-1.8zM561.6 1668.8h1.8v1.8h-1.8zM523.2 1649.6h1.8v1.8h-1.8zM568.0 1636.8h1.8v1.8h-1.8zM510.4 1705.6h1.8v1.8h-1.8zM481.6 1755.2h1.8v1.8h-1.8zM494.4 1728.0h1.8v1.8h-1.8zM505.6 1707.2h1.8v1.8h-1.8zM486.4 1772.8h1.8v1.8h-1.8zM544.0 1619.2h1.8v1.8h-1.8zM488.0 1678.4h1.8v1.8h-1.8zM561.6 1643.2h1.8v1.8h-1.8zM544.0 1667.2h1.8v1.8h-1.8zM444.8 1712.0h1.8v1.8h-1.8zM550.4 1644.8h1.8v1.8h-1.8zM528.0 1758.4h1.8v1.8h-1.8zM505.6 1684.8h1.8v1.8h-1.8zM468.8 1636.8h1.8v1.8h-1.8zM515.2 1705.6h1.8v1.8h-1.8zM468.8 1710.4h1.8v1.8h-1.8zM523.2 1700.8h1.8v1.8h-1.8zM552.0 1656.0h1.8v1.8h-1.8zM593.6 1580.8h1.8v1.8h-1.8zM456.0 1673.6h1.8v1.8h-1.8zM516.8 1665.6h1.8v1.8h-1.8zM472.0 1667.2h1.8v1.8h-1.8zM571.2 1576.0h1.8v1.8h-1.8zM499.2 1721.6h1.8v1.8h-1.8zM537.6 1640.0h1.8v1.8h-1.8zM515.2 1707.2h1.8v1.8h-1.8zM595.2 1638.4h1.8v1.8h-1.8zM470.4 1753.6h1.8v1.8h-1.8zM566.4 1656.0h1.8v1.8h-1.8zM504.0 1691.2h1.8v1.8h-1.8zM472.0 1649.6h1.8v1.8h-1.8zM611.2 1563.2h1.8v1.8h-1.8zM542.4 1729.6h1.8v1.8h-1.8zM476.8 1796.8h1.8v1.8h-1.8zM528.0 1638.4h1.8v1.8h-1.8zM619.2 1572.8h1.8v1.8h-1.8zM548.8 1721.6h1.8v1.8h-1.8zM508.8 1700.8h1.8v1.8h-1.8zM574.4 1622.4h1.8v1.8h-1.8zM572.8 1600.0h1.8v1.8h-1.8zM552.0 1680.0h1.8v1.8h-1.8zM507.2 1598.4h1.8v1.8h-1.8zM587.2 1603.2h1.8v1.8h-1.8zM457.6 1676.8h1.8v1.8h-1.8zM472.0 1804.8h1.8v1.8h-1.8zM454.4 1638.4h1.8v1.8h-1.8zM472.0 1728.0h1.8v1.8h-1.8zM456.0 1646.4h1.8v1.8h-1.8zM476.8 1806.4h1.8v1.8h-1.8zM448.0 1673.6h1.8v1.8h-1.8zM446.4 1659.2h1.8v1.8h-1.8zM467.2 1758.4h1.8v1.8h-1.8zM470.4 1782.4h1.8v1.8h-1.8zM465.6 1769.6h1.8v1.8h-1.8zM454.4 1681.6h1.8v1.8h-1.8zM448.0 1660.8h1.8v1.8h-1.8zM470.4 1792.0h1.8v1.8h-1.8zM444.8 1689.6h1.8v1.8h-1.8zM473.6 1792.0h1.8v1.8h-1.8zM444.8 1704.0h1.8v1.8h-1.8zM481.6 1772.8h1.8v1.8h-1.8zM472.0 1766.4h1.8v1.8h-1.8zM456.0 1836.8h1.8v1.8h-1.8zM462.4 1784.0h1.8v1.8h-1.8zM462.4 1702.4h1.8v1.8h-1.8zM468.8 1784.0h1.8v1.8h-1.8zM452.8 1680.0h1.8v1.8h-1.8zM467.2 1633.6h1.8v1.8h-1.8zM464.0 1793.6h1.8v1.8h-1.8zM481.6 1756.8h1.8v1.8h-1.8zM452.8 1694.4h1.8v1.8h-1.8zM481.6 1760.0h1.8v1.8h-1.8zM470.4 1793.6h1.8v1.8h-1.8zM467.2 1816.0h1.8v1.8h-1.8zM446.4 1676.8h1.8v1.8h-1.8zM448.0 1796.8h1.8v1.8h-1.8zM444.8 1657.6h1.8v1.8h-1.8zM475.2 1801.6h1.8v1.8h-1.8zM449.6 1691.2h1.8v1.8h-1.8zM452.8 1840.0h1.8v1.8h-1.8zM451.2 1683.2h1.8v1.8h-1.8zM473.6 1780.8h1.8v1.8h-1.8zM465.6 1761.6h1.8v1.8h-1.8zM444.8 1694.4h1.8v1.8h-1.8zM452.8 1819.2h1.8v1.8h-1.8zM451.2 1665.6h1.8v1.8h-1.8zM446.4 1665.6h1.8v1.8h-1.8zM459.2 1812.8h1.8v1.8h-1.8zM470.4 1764.8h1.8v1.8h-1.8zM465.6 1801.6h1.8v1.8h-1.8zM449.6 1833.6h1.8v1.8h-1.8zM444.8 1760.0h1.8v1.8h-1.8zM446.4 1668.8h1.8v1.8h-1.8zM468.8 1788.8h1.8v1.8h-1.8zM470.4 1835.2h1.8v1.8h-1.8zM472.0 1803.2h1.8v1.8h-1.8zM448.0 1844.8h1.8v1.8h-1.8zM464.0 1803.2h1.8v1.8h-1.8zM448.0 1859.2h1.8v1.8h-1.8zM456.0 1816.0h1.8v1.8h-1.8zM460.8 1801.6h1.8v1.8h-1.8zM454.4 1822.4h1.8v1.8h-1.8zM467.2 1836.8h1.8v1.8h-1.8zM467.2 1833.6h1.8v1.8h-1.8zM456.0 1934.4h1.8v1.8h-1.8zM444.8 1809.6h1.8v1.8h-1.8zM456.0 1820.8h1.8v1.8h-1.8zM452.8 1857.6h1.8v1.8h-1.8zM444.8 1851.2h1.8v1.8h-1.8zM464.0 1836.8h1.8v1.8h-1.8zM475.2 1856.0h1.8v1.8h-1.8zM475.2 1817.6h1.8v1.8h-1.8zM475.2 1811.2h1.8v1.8h-1.8zM465.6 1824.0h1.8v1.8h-1.8zM478.4 1804.8h1.8v1.8h-1.8zM459.2 1849.6h1.8v1.8h-1.8zM454.4 1825.6h1.8v1.8h-1.8zM449.6 1852.8h1.8v1.8h-1.8zM449.6 1854.4h1.8v1.8h-1.8zM451.2 1827.2h1.8v1.8h-1.8zM472.0 1820.8h1.8v1.8h-1.8zM467.2 1824.0h1.8v1.8h-1.8zM448.0 1851.2h1.8v1.8h-1.8zM464.0 1876.8h1.8v1.8h-1.8zM459.2 1827.2h1.8v1.8h-1.8zM460.8 1827.2h1.8v1.8h-1.8zM456.0 1825.6h1.8v1.8h-1.8zM456.0 1822.4h1.8v1.8h-1.8zM457.6 1928.0h1.8v1.8h-1.8zM448.0 1849.6h1.8v1.8h-1.8zM476.8 1804.8h1.8v1.8h-1.8zM459.2 1916.8h1.8v1.8h-1.8zM454.4 1830.4h1.8v1.8h-1.8zM465.6 1811.2h1.8v1.8h-1.8zM457.6 1851.2h1.8v1.8h-1.8zM465.6 1828.8h1.8v1.8h-1.8zM467.2 1801.6h1.8v1.8h-1.8zM472.0 1812.8h1.8v1.8h-1.8zM459.2 1838.4h1.8v1.8h-1.8zM464.0 1817.6h1.8v1.8h-1.8zM459.2 1830.4h1.8v1.8h-1.8zM446.4 1864.0h1.8v1.8h-1.8zM444.8 1801.6h1.8v1.8h-1.8zM452.8 1838.4h1.8v1.8h-1.8zM452.8 1846.4h1.8v1.8h-1.8zM449.6 1846.4h1.8v1.8h-1.8zM451.2 1872.0h1.8v1.8h-1.8zM464.0 1843.2h1.8v1.8h-1.8zM462.4 1800.0h1.8v1.8h-1.8zM457.6 1830.4h1.8v1.8h-1.8zM470.4 1820.8h1.8v1.8h-1.8zM449.6 1843.2h1.8v1.8h-1.8zM465.6 1844.8h1.8v1.8h-1.8zM451.2 1811.2h1.8v1.8h-1.8zM449.6 1816.0h1.8v1.8h-1.8zM459.2 1814.4h1.8v1.8h-1.8zM464.0 1832.0h1.8v1.8h-1.8zM446.4 1824.0h1.8v1.8h-1.8zM460.8 1812.8h1.8v1.8h-1.8zM456.0 1817.6h1.8v1.8h-1.8zM468.8 1809.6h1.8v1.8h-1.8zM465.6 1809.6h1.8v1.8h-1.8zM464.0 1888.0h1.8v1.8h-1.8zM457.6 1859.2h1.8v1.8h-1.8zM456.0 1840.0h1.8v1.8h-1.8zM454.4 1868.8h1.8v1.8h-1.8zM457.6 1841.6h1.8v1.8h-1.8zM460.8 1876.8h1.8v1.8h-1.8zM460.8 1824.0h1.8v1.8h-1.8zM464.0 1800.0h1.8v1.8h-1.8zM451.2 1867.2h1.8v1.8h-1.8zM473.6 1820.8h1.8v1.8h-1.8zM465.6 1808.0h1.8v1.8h-1.8zM459.2 1806.4h1.8v1.8h-1.8zM449.6 1888.0h1.8v1.8h-1.8zM448.0 1828.8h1.8v1.8h-1.8zM460.8 1864.0h1.8v1.8h-1.8zM446.4 1848.0h1.8v1.8h-1.8zM444.8 1817.6h1.8v1.8h-1.8zM467.2 1902.4h1.8v1.8h-1.8zM448.0 1811.2h1.8v1.8h-1.8zM473.6 1835.2h1.8v1.8h-1.8zM486.4 1817.6h1.8v1.8h-1.8zM459.2 1824.0h1.8v1.8h-1.8zM457.6 1822.4h1.8v1.8h-1.8zM465.6 1884.8h1.8v1.8h-1.8zM464.0 1851.2h1.8v1.8h-1.8zM468.8 1840.0h1.8v1.8h-1.8zM454.4 1862.4h1.8v1.8h-1.8zM460.8 1828.8h1.8v1.8h-1.8zM457.6 1836.8h1.8v1.8h-1.8zM468.8 1843.2h1.8v1.8h-1.8zM468.8 1808.0h1.8v1.8h-1.8zM451.2 1830.4h1.8v1.8h-1.8zM454.4 1819.2h1.8v1.8h-1.8zM449.6 1835.2h1.8v1.8h-1.8zM465.6 1897.6h1.8v1.8h-1.8zM460.8 1817.6h1.8v1.8h-1.8zM464.0 1830.4h1.8v1.8h-1.8zM467.2 1800.0h1.8v1.8h-1.8zM459.2 1918.4h1.8v1.8h-1.8zM454.4 1865.6h1.8v1.8h-1.8zM444.8 1824.0h1.8v1.8h-1.8zM484.8 1806.4h1.8v1.8h-1.8zM454.4 1812.8h1.8v1.8h-1.8zM468.8 1833.6h1.8v1.8h-1.8zM444.8 1812.8h1.8v1.8h-1.8zM464.0 1819.2h1.8v1.8h-1.8zM454.4 1841.6h1.8v1.8h-1.8zM452.8 1864.0h1.8v1.8h-1.8zM454.4 1849.6h1.8v1.8h-1.8zM459.2 1819.2h1.8v1.8h-1.8zM460.8 1816.0h1.8v1.8h-1.8zM457.6 1884.8h1.8v1.8h-1.8zM464.0 1814.4h1.8v1.8h-1.8zM465.6 1825.6h1.8v1.8h-1.8zM456.0 1841.6h1.8v1.8h-1.8zM444.8 1832.0h1.8v1.8h-1.8zM459.2 1886.4h1.8v1.8h-1.8zM462.4 1844.8h1.8v1.8h-1.8zM449.6 1824.0h1.8v1.8h-1.8zM446.4 1833.6h1.8v1.8h-1.8zM456.0 1888.0h1.8v1.8h-1.8zM444.8 1854.4h1.8v1.8h-1.8zM448.0 1827.2h1.8v1.8h-1.8zM473.6 1800.0h1.8v1.8h-1.8zM484.8 1827.2h1.8v1.8h-1.8zM464.0 1806.4h1.8v1.8h-1.8zM449.6 1832.0h1.8v1.8h-1.8zM472.0 1806.4h1.8v1.8h-1.8zM454.4 1811.2h1.8v1.8h-1.8zM454.4 1816.0h1.8v1.8h-1.8zM459.2 1822.4h1.8v1.8h-1.8zM464.0 1808.0h1.8v1.8h-1.8zM456.0 1904.0h1.8v1.8h-1.8zM468.8 1803.2h1.8v1.8h-1.8zM452.8 1907.2h1.8v1.8h-1.8zM446.4 1835.2h1.8v1.8h-1.8zM587.2 1561.6h1.8v1.8h-1.8zM616.0 1633.6h1.8v1.8h-1.8zM604.8 1609.6h1.8v1.8h-1.8zM611.2 1611.2h1.8v1.8h-1.8zM609.6 1590.4h1.8v1.8h-1.8zM619.2 1560.0h1.8v1.8h-1.8zM636.8 1537.6h1.8v1.8h-1.8zM608.0 1548.8h1.8v1.8h-1.8zM616.0 1550.4h1.8v1.8h-1.8zM619.2 1539.2h1.8v1.8h-1.8zM588.8 1544.0h1.8v1.8h-1.8zM614.4 1572.8h1.8v1.8h-1.8zM585.6 1587.2h1.8v1.8h-1.8zM612.8 1592.0h1.8v1.8h-1.8zM619.2 1616.0h1.8v1.8h-1.8zM624.0 1622.4h1.8v1.8h-1.8zM625.6 1534.4h1.8v1.8h-1.8zM601.6 1604.8h1.8v1.8h-1.8zM603.2 1609.6h1.8v1.8h-1.8zM628.8 1643.2h1.8v1.8h-1.8zM590.4 1627.2h1.8v1.8h-1.8zM630.4 1580.8h1.8v1.8h-1.8zM595.2 1643.2h1.8v1.8h-1.8zM598.4 1636.8h1.8v1.8h-1.8zM627.2 1619.2h1.8v1.8h-1.8zM620.8 1616.0h1.8v1.8h-1.8zM601.6 1633.6h1.8v1.8h-1.8zM606.4 1556.8h1.8v1.8h-1.8zM603.2 1537.6h1.8v1.8h-1.8zM603.2 1552.0h1.8v1.8h-1.8zM612.8 1612.8h1.8v1.8h-1.8zM592.0 1633.6h1.8v1.8h-1.8zM603.2 1542.4h1.8v1.8h-1.8zM592.0 1630.4h1.8v1.8h-1.8zM633.6 1561.6h1.8v1.8h-1.8zM600.0 1534.4h1.8v1.8h-1.8zM609.6 1576.0h1.8v1.8h-1.8zM593.6 1614.4h1.8v1.8h-1.8zM593.6 1552.0h1.8v1.8h-1.8zM611.2 1577.6h1.8v1.8h-1.8zM588.8 1587.2h1.8v1.8h-1.8zM600.0 1545.6h1.8v1.8h-1.8zM585.6 1641.6h1.8v1.8h-1.8zM604.8 1540.8h1.8v1.8h-1.8zM628.8 1588.8h1.8v1.8h-1.8zM620.8 1592.0h1.8v1.8h-1.8zM612.8 1547.2h1.8v1.8h-1.8zM585.6 1566.4h1.8v1.8h-1.8zM585.6 1601.6h1.8v1.8h-1.8zM611.2 1606.4h1.8v1.8h-1.8zM600.0 1625.6h1.8v1.8h-1.8zM628.8 1585.6h1.8v1.8h-1.8zM617.6 1603.2h1.8v1.8h-1.8zM619.2 1603.2h1.8v1.8h-1.8zM601.6 1579.2h1.8v1.8h-1.8zM590.4 1622.4h1.8v1.8h-1.8zM592.0 1603.2h1.8v1.8h-1.8z" fill="#0000ff"/>
<path d="M457.6 1782.4h1.8v1.8h-1.8zM491.2 1699.2h1.8v1.8h-1.8zM483.2 1697.6h1.8v1.8h-1.8zM470.4 1700.8h1.8v1.8h-1.8zM486.4 1688.0h1.8v1.8h-1.8zM459.2 1784.0h1.8v1.8h-1.8zM484.8 1718.4h1.8v1.8h-1.8zM468.8 1696.0h1.8v1.8h-1.8zM459.2 1700.8h1.8v1.8h-1.8zM497.6 1713.6h1.8v1.8h-1.8zM452.8 1795.2h1.8v1.8h-1.8zM470.4 1769.6h1.8v1.8h-1.8zM460.8 1779.2h1.8v1.8h-1.8zM483.2 1684.8h1.8v1.8h-1.8zM491.2 1708.8h1.8v1.8h-1.8zM460.8 1720.0h1.8v1.8h-1.8zM499.2 1702.4h1.8v1.8h-1.8zM470.4 1692.8h1.8v1.8h-1.8zM459.2 1796.8h1.8v1.8h-1.8zM481.6 1747.2h1.8v1.8h-1.8zM491.2 1697.6h1.8v1.8h-1.8zM502.4 1684.8h1.8v1.8h-1.8zM449.6 1804.8h1.8v1.8h-1.8zM496.0 1688.0h1.8v1.8h-1.8zM459.2 1726.4h1.8v1.8h-1.8zM476.8 1740.8h1.8v1.8h-1.8zM488.0 1694.4h1.8v1.8h-1.8zM486.4 1696.0h1.8v1.8h-1.8zM446.4 1708.8h1.8v1.8h-1.8zM462.4 1723.2h1.8v1.8h-1.8zM486.4 1720.0h1.8v1.8h-1.8zM476.8 1705.6h1.8v1.8h-1.8zM476.8 1755.2h1.8v1.8h-1.8zM523.2 1680.0h1.8v1.8h-1.8zM473.6 1736.0h1.8v1.8h-1.8zM476.8 1694.4h1.8v1.8h-1.8zM481.6 1731.2h1.8v1.8h-1.8zM500.8 1688.0h1.8v1.8h-1.8zM489.6 1680.0h1.8v1.8h-1.8zM475.2 1742.4h1.8v1.8h-1.8zM486.4 1668.8h1.8v1.8h-1.8zM464.0 1699.2h1.8v1.8h-1.8zM462.4 1779.2h1.8v1.8h-1.8zM491.2 1700.8h1.8v1.8h-1.8zM470.4 1691.2h1.8v1.8h-1.8zM457.6 1691.2h1.8v1.8h-1.8zM462.4 1697.6h1.8v1.8h-1.8zM448.0 1792.0h1.8v1.8h-1.8zM446.4 1782.4h1.8v1.8h-1.8zM462.4 1713.6h1.8v1.8h-1.8zM454.4 1691.2h1.8v1.8h-1.8zM459.2 1705.6h1.8v1.8h-1.8zM484.8 1670.4h1.8v1.8h-1.8zM494.4 1715.2h1.8v1.8h-1.8zM483.2 1668.8h1.8v1.8h-1.8zM465.6 1689.6h1.8v1.8h-1.8zM452.8 1812.8h1.8v1.8h-1.8zM468.8 1740.8h1.8v1.8h-1.8zM472.0 1668.8h1.8v1.8h-1.8zM472.0 1747.2h1.8v1.8h-1.8zM460.8 1697.6h1.8v1.8h-1.8zM499.2 1668.8h1.8v1.8h-1.8zM497.6 1707.2h1.8v1.8h-1.8zM476.8 1721.6h1.8v1.8h-1.8zM475.2 1710.4h1.8v1.8h-1.8zM462.4 1768.0h1.8v1.8h-1.8zM448.0 1787.2h1.8v1.8h-1.8zM478.4 1724.8h1.8v1.8h-1.8zM454.4 1699.2h1.8v1.8h-1.8zM478.4 1692.8h1.8v1.8h-1.8zM472.0 1758.4h1.8v1.8h-1.8zM481.6 1704.0h1.8v1.8h-1.8zM494.4 1716.8h1.8v1.8h-1.8zM480.0 1691.2h1.8v1.8h-1.8zM465.6 1686.4h1.8v1.8h-1.8zM451.2 1697.6h1.8v1.8h-1.8zM475.2 1684.8h1.8v1.8h-1.8zM470.4 1774.4h1.8v1.8h-1.8zM470.4 1745.6h1.8v1.8h-1.8zM446.4 1776.0h1.8v1.8h-1.8zM468.8 1732.8h1.8v1.8h-1.8zM472.0 1756.8h1.8v1.8h-1.8zM481.6 1705.6h1.8v1.8h-1.8zM467.2 1779.2h1.8v1.8h-1.8zM451.2 1764.8h1.8v1.8h-1.8zM484.8 1696.0h1.8v1.8h-1.8zM459.2 1699.2h1.8v1.8h-1.8zM468.8 1688.0h1.8v1.8h-1.8zM486.4 1681.6h1.8v1.8h-1.8zM515.2 1670.4h1.8v1.8h-1.8zM472.0 1723.2h1.8v1.8h-1.8zM483.2 1732.8h1.8v1.8h-1.8zM468.8 1734.4h1.8v1.8h-1.8zM456.0 1809.6h1.8v1.8h-1.8zM460.8 1784.0h1.8v1.8h-1.8zM473.6 1734.4h1.8v1.8h-1.8zM483.2 1723.2h1.8v1.8h-1.8zM492.8 1689.6h1.8v1.8h-1.8zM484.8 1680.0h1.8v1.8h-1.8zM488.0 1689.6h1.8v1.8h-1.8zM473.6 1704.0h1.8v1.8h-1.8zM480.0 1670.4h1.8v1.8h-1.8zM480.0 1760.0h1.8v1.8h-1.8zM480.0 1728.0h1.8v1.8h-1.8zM464.0 1689.6h1.8v1.8h-1.8zM483.2 1688.0h1.8v1.8h-1.8zM465.6 1715.2h1.8v1.8h-1.8zM478.4 1708.8h1.8v1.8h-1.8zM470.4 1699.2h1.8v1.8h-1.8zM448.0 1736.0h1.8v1.8h-1.8zM446.4 1764.8h1.8v1.8h-1.8zM489.6 1686.4h1.8v1.8h-1.8zM452.8 1808.0h1.8v1.8h-1.8zM468.8 1700.8h1.8v1.8h-1.8zM459.2 1758.4h1.8v1.8h-1.8zM467.2 1688.0h1.8v1.8h-1.8zM456.0 1796.8h1.8v1.8h-1.8zM451.2 1787.2h1.8v1.8h-1.8zM497.6 1708.8h1.8v1.8h-1.8zM489.6 1683.2h1.8v1.8h-1.8zM470.4 1710.4h1.8v1.8h-1.8zM449.6 1723.2h1.8v1.8h-1.8zM464.0 1758.4h1.8v1.8h-1.8zM502.4 1696.0h1.8v1.8h-1.8zM486.4 1712.0h1.8v1.8h-1.8zM492.8 1707.2h1.8v1.8h-1.8zM451.2 1691.2h1.8v1.8h-1.8zM460.8 1771.2h1.8v1.8h-1.8zM486.4 1689.6h1.8v1.8h-1.8zM486.4 1694.4h1.8v1.8h-1.8zM481.6 1713.6h1.8v1.8h-1.8zM467.2 1766.4h1.8v1.8h-1.8zM448.0 1820.8h1.8v1.8h-1.8zM446.4 1720.0h1.8v1.8h-1.8zM467.2 1720.0h1.8v1.8h-1.8zM467.2 1712.0h1.8v1.8h-1.8zM451.2 1699.2h1.8v1.8h-1.8zM475.2 1750.4h1.8v1.8h-1.8zM456.0 1720.0h1.8v1.8h-1.8zM472.0 1712.0h1.8v1.8h-1.8zM454.4 1788.8h1.8v1.8h-1.8zM448.0 1798.4h1.8v1.8h-1.8zM470.4 1756.8h1.8v1.8h-1.8zM473.6 1688.0h1.8v1.8h-1.8zM497.6 1720.0h1.8v1.8h-1.8zM483.2 1686.4h1.8v1.8h-1.8zM484.8 1691.2h1.8v1.8h-1.8zM481.6 1715.2h1.8v1.8h-1.8zM499.2 1689.6h1.8v1.8h-1.8zM456.0 1777.6h1.8v1.8h-1.8zM451.2 1758.4h1.8v1.8h-1.8zM462.4 1694.4h1.8v1.8h-1.8zM484.8 1681.6h1.8v1.8h-1.8zM464.0 1715.2h1.8v1.8h-1.8zM448.0 1785.6h1.8v1.8h-1.8zM484.8 1715.2h1.8v1.8h-1.8zM475.2 1697.6h1.8v1.8h-1.8zM470.4 1760.0h1.8v1.8h-1.8zM465.6 1742.4h1.8v1.8h-1.8zM457.6 1684.8h1.8v1.8h-1.8zM476.8 1758.4h1.8v1.8h-1.8zM486.4 1713.6h1.8v1.8h-1.8zM500.8 1720.0h1.8v1.8h-1.8zM478.4 1713.6h1.8v1.8h-1.8zM520.0 1670.4h1.8v1.8h-1.8zM473.6 1702.4h1.8v1.8h-1.8zM491.2 1689.6h1.8v1.8h-1.8zM468.8 1724.8h1.8v1.8h-1.8zM491.2 1715.2h1.8v1.8h-1.8zM500.8 1700.8h1.8v1.8h-1.8zM481.6 1688.0h1.8v1.8h-1.8zM483.2 1721.6h1.8v1.8h-1.8zM476.8 1718.4h1.8v1.8h-1.8zM481.6 1686.4h1.8v1.8h-1.8zM470.4 1728.0h1.8v1.8h-1.8zM449.6 1728.0h1.8v1.8h-1.8zM483.2 1707.2h1.8v1.8h-1.8zM480.0 1726.4h1.8v1.8h-1.8zM497.6 1715.2h1.8v1.8h-1.8zM484.8 1729.6h1.8v1.8h-1.8zM465.6 1700.8h1.8v1.8h-1.8zM476.8 1742.4h1.8v1.8h-1.8zM488.0 1716.8h1.8v1.8h-1.8zM476.8 1710.4h1.8v1.8h-1.8zM449.6 1800.0h1.8v1.8h-1.8zM500.8 1723.2h1.8v1.8h-1.8zM480.0 1702.4h1.8v1.8h-1.8zM492.8 1712.0h1.8v1.8h-1.8zM448.0 1816.0h1.8v1.8h-1.8zM446.4 1809.6h1.8v1.8h-1.8zM486.4 1716.8h1.8v1.8h-1.8zM480.0 1710.4h1.8v1.8h-1.8zM488.0 1710.4h1.8v1.8h-1.8zM483.2 1734.4h1.8v1.8h-1.8zM480.0 1697.6h1.8v1.8h-1.8zM476.8 1684.8h1.8v1.8h-1.8zM475.2 1712.0h1.8v1.8h-1.8zM484.8 1721.6h1.8v1.8h-1.8zM480.0 1715.2h1.8v1.8h-1.8zM462.4 1704.0h1.8v1.8h-1.8zM467.2 1780.8h1.8v1.8h-1.8zM460.8 1715.2h1.8v1.8h-1.8zM467.2 1777.6h1.8v1.8h-1.8zM468.8 1771.2h1.8v1.8h-1.8zM478.4 1739.2h1.8v1.8h-1.8zM480.0 1721.6h1.8v1.8h-1.8zM486.4 1683.2h1.8v1.8h-1.8zM502.4 1681.6h1.8v1.8h-1.8zM486.4 1702.4h1.8v1.8h-1.8zM475.2 1686.4h1.8v1.8h-1.8zM446.4 1707.2h1.8v1.8h-1.8zM507.2 1702.4h1.8v1.8h-1.8zM467.2 1686.4h1.8v1.8h-1.8zM475.2 1753.6h1.8v1.8h-1.8zM467.2 1761.6h1.8v1.8h-1.8zM516.8 1648.0h1.8v1.8h-1.8zM518.4 1673.6h1.8v1.8h-1.8zM451.2 1680.0h1.8v1.8h-1.8zM481.6 1748.8h1.8v1.8h-1.8zM475.2 1688.0h1.8v1.8h-1.8zM512.0 1638.4h1.8v1.8h-1.8zM451.2 1712.0h1.8v1.8h-1.8zM470.4 1744.0h1.8v1.8h-1.8zM496.0 1712.0h1.8v1.8h-1.8zM467.2 1756.8h1.8v1.8h-1.8zM478.4 1680.0h1.8v1.8h-1.8zM473.6 1705.6h1.8v1.8h-1.8zM462.4 1758.4h1.8v1.8h-1.8zM497.6 1705.6h1.8v1.8h-1.8zM484.8 1724.8h1.8v1.8h-1.8zM504.0 1683.2h1.8v1.8h-1.8zM500.8 1721.6h1.8v1.8h-1.8zM492.8 1686.4h1.8v1.8h-1.8zM481.6 1721.6h1.8v1.8h-1.8zM496.0 1684.8h1.8v1.8h-1.8zM449.6 1796.8h1.8v1.8h-1.8zM483.2 1705.6h1.8v1.8h-1.8zM486.4 1692.8h1.8v1.8h-1.8zM484.8 1731.2h1.8v1.8h-1.8zM483.2 1683.2h1.8v1.8h-1.8zM465.6 1779.2h1.8v1.8h-1.8zM483.2 1713.6h1.8v1.8h-1.8zM484.8 1705.6h1.8v1.8h-1.8zM481.6 1737.6h1.8v1.8h-1.8zM478.4 1689.6h1.8v1.8h-1.8zM460.8 1688.0h1.8v1.8h-1.8zM449.6 1811.2h1.8v1.8h-1.8zM486.4 1734.4h1.8v1.8h-1.8zM465.6 1716.8h1.8v1.8h-1.8zM473.6 1755.2h1.8v1.8h-1.8zM478.4 1716.8h1.8v1.8h-1.8zM462.4 1688.0h1.8v1.8h-1.8zM480.0 1694.4h1.8v1.8h-1.8zM452.8 1699.2h1.8v1.8h-1.8zM472.0 1697.6h1.8v1.8h-1.8zM475.2 1760.0h1.8v1.8h-1.8zM467.2 1704.0h1.8v1.8h-1.8zM468.8 1758.4h1.8v1.8h-1.8zM481.6 1724.8h1.8v1.8h-1.8zM484.8 1708.8h1.8v1.8h-1.8zM467.2 1696.0h1.8v1.8h-1.8zM472.0 1753.6h1.8v1.8h-1.8zM467.2 1764.8h1.8v1.8h-1.8zM468.8 1737.6h1.8v1.8h-1.8zM478.4 1761.6h1.8v1.8h-1.8zM491.2 1676.8h1.8v1.8h-1.8zM478.4 1688.0h1.8v1.8h-1.8zM475.2 1744.0h1.8v1.8h-1.8zM468.8 1667.2h1.8v1.8h-1.8zM488.0 1700.8h1.8v1.8h-1.8zM468.8 1721.6h1.8v1.8h-1.8zM481.6 1708.8h1.8v1.8h-1.8zM459.2 1790.4h1.8v1.8h-1.8zM475.2 1713.6h1.8v1.8h-1.8zM456.0 1801.6h1.8v1.8h-1.8zM478.4 1683.2h1.8v1.8h-1.8zM457.6 1804.8h1.8v1.8h-1.8zM446.4 1785.6h1.8v1.8h-1.8zM456.0 1734.4h1.8v1.8h-1.8zM475.2 1734.4h1.8v1.8h-1.8zM454.4 1769.6h1.8v1.8h-1.8zM499.2 1705.6h1.8v1.8h-1.8zM502.4 1720.0h1.8v1.8h-1.8zM470.4 1755.2h1.8v1.8h-1.8zM460.8 1774.4h1.8v1.8h-1.8zM481.6 1707.2h1.8v1.8h-1.8zM478.4 1691.2h1.8v1.8h-1.8zM499.2 1684.8h1.8v1.8h-1.8zM483.2 1729.6h1.8v1.8h-1.8zM492.8 1716.8h1.8v1.8h-1.8zM488.0 1684.8h1.8v1.8h-1.8zM494.4 1707.2h1.8v1.8h-1.8zM456.0 1691.2h1.8v1.8h-1.8zM468.8 1715.2h1.8v1.8h-1.8zM488.0 1715.2h1.8v1.8h-1.8zM481.6 1668.8h1.8v1.8h-1.8zM523.2 1681.6h1.8v1.8h-1.8zM480.0 1700.8h1.8v1.8h-1.8zM502.4 1726.4h1.8v1.8h-1.8zM483.2 1700.8h1.8v1.8h-1.8zM448.0 1790.4h1.8v1.8h-1.8zM478.4 1699.2h1.8v1.8h-1.8zM484.8 1723.2h1.8v1.8h-1.8zM502.4 1683.2h1.8v1.8h-1.8zM488.0 1692.8h1.8v1.8h-1.8zM502.4 1694.4h1.8v1.8h-1.8zM478.4 1755.2h1.8v1.8h-1.8zM499.2 1681.6h1.8v1.8h-1.8zM488.0 1696.0h1.8v1.8h-1.8zM492.8 1704.0h1.8v1.8h-1.8zM454.4 1785.6h1.8v1.8h-1.8zM465.6 1708.8h1.8v1.8h-1.8zM480.0 1748.8h1.8v1.8h-1.8zM472.0 1782.4h1.8v1.8h-1.8zM483.2 1728.0h1.8v1.8h-1.8zM521.6 1675.2h1.8v1.8h-1.8zM465.6 1720.0h1.8v1.8h-1.8zM444.8 1745.6h1.8v1.8h-1.8zM472.0 1732.8h1.8v1.8h-1.8zM457.6 1801.6h1.8v1.8h-1.8zM523.2 1668.8h1.8v1.8h-1.8zM457.6 1784.0h1.8v1.8h-1.8zM448.0 1710.4h1.8v1.8h-1.8zM462.4 1777.6h1.8v1.8h-1.8zM512.0 1678.4h1.8v1.8h-1.8zM468.8 1748.8h1.8v1.8h-1.8zM448.0 1804.8h1.8v1.8h-1.8zM456.0 1787.2h1.8v1.8h-1.8zM476.8 1756.8h1.8v1.8h-1.8zM448.0 1720.0h1.8v1.8h-1.8zM505.6 1683.2h1.8v1.8h-1.8zM446.4 1729.6h1.8v1.8h-1.8zM468.8 1702.4h1.8v1.8h-1.8zM459.2 1760.0h1.8v1.8h-1.8zM476.8 1689.6h1.8v1.8h-1.8zM444.8 1737.6h1.8v1.8h-1.8zM468.8 1694.4h1.8v1.8h-1.8zM534.4 1662.4h1.8v1.8h-1.8zM464.0 1696.0h1.8v1.8h-1.8zM473.6 1710.4h1.8v1.8h-1.8zM472.0 1760.0h1.8v1.8h-1.8zM462.4 1766.4h1.8v1.8h-1.8zM472.0 1774.4h1.8v1.8h-1.8zM492.8 1737.6h1.8v1.8h-1.8zM494.4 1699.2h1.8v1.8h-1.8zM468.8 1763.2h1.8v1.8h-1.8zM459.2 1713.6h1.8v1.8h-1.8zM480.0 1689.6h1.8v1.8h-1.8zM468.8 1689.6h1.8v1.8h-1.8zM470.4 1772.8h1.8v1.8h-1.8zM451.2 1689.6h1.8v1.8h-1.8zM456.0 1808.0h1.8v1.8h-1.8zM470.4 1747.2h1.8v1.8h-1.8zM499.2 1678.4h1.8v1.8h-1.8zM446.4 1692.8h1.8v1.8h-1.8zM462.4 1716.8h1.8v1.8h-1.8zM481.6 1683.2h1.8v1.8h-1.8zM480.0 1756.8h1.8v1.8h-1.8zM481.6 1710.4h1.8v1.8h-1.8zM481.6 1740.8h1.8v1.8h-1.8zM489.6 1696.0h1.8v1.8h-1.8zM488.0 1752.0h1.8v1.8h-1.8zM451.2 1806.4h1.8v1.8h-1.8zM462.4 1774.4h1.8v1.8h-1.8zM475.2 1726.4h1.8v1.8h-1.8zM446.4 1696.0h1.8v1.8h-1.8zM481.6 1684.8h1.8v1.8h-1.8zM451.2 1792.0h1.8v1.8h-1.8zM492.8 1702.4h1.8v1.8h-1.8zM476.8 1715.2h1.8v1.8h-1.8zM448.0 1774.4h1.8v1.8h-1.8zM462.4 1816.0h1.8v1.8h-1.8zM456.0 1793.6h1.8v1.8h-1.8zM488.0 1691.2h1.8v1.8h-1.8zM451.2 1731.2h1.8v1.8h-1.8zM449.6 1788.8h1.8v1.8h-1.8zM452.8 1779.2h1.8v1.8h-1.8zM480.0 1712.0h1.8v1.8h-1.8zM472.0 1707.2h1.8v1.8h-1.8zM483.2 1740.8h1.8v1.8h-1.8zM451.2 1676.8h1.8v1.8h-1.8zM444.8 1795.2h1.8v1.8h-1.8zM481.6 1692.8h1.8v1.8h-1.8zM462.4 1684.8h1.8v1.8h-1.8zM473.6 1760.0h1.8v1.8h-1.8zM444.8 1764.8h1.8v1.8h-1.8zM467.2 1713.6h1.8v1.8h-1.8zM488.0 1702.4h1.8v1.8h-1.8zM496.0 1716.8h1.8v1.8h-1.8zM454.4 1793.6h1.8v1.8h-1.8zM473.6 1732.8h1.8v1.8h-1.8zM462.4 1755.2h1.8v1.8h-1.8zM452.8 1691.2h1.8v1.8h-1.8zM500.8 1681.6h1.8v1.8h-1.8zM502.4 1697.6h1.8v1.8h-1.8zM499.2 1676.8h1.8v1.8h-1.8zM520.0 1668.8h1.8v1.8h-1.8zM467.2 1702.4h1.8v1.8h-1.8zM491.2 1678.4h1.8v1.8h-1.8zM460.8 1692.8h1.8v1.8h-1.8zM456.0 1702.4h1.8v1.8h-1.8zM446.4 1777.6h1.8v1.8h-1.8zM472.0 1715.2h1.8v1.8h-1.8zM478.4 1729.6h1.8v1.8h-1.8zM473.6 1684.8h1.8v1.8h-1.8zM488.0 1670.4h1.8v1.8h-1.8zM481.6 1699.2h1.8v1.8h-1.8zM456.0 1803.2h1.8v1.8h-1.8zM444.8 1777.6h1.8v1.8h-1.8zM475.2 1708.8h1.8v1.8h-1.8zM491.2 1686.4h1.8v1.8h-1.8zM456.0 1782.4h1.8v1.8h-1.8zM449.6 1712.0h1.8v1.8h-1.8zM460.8 1764.8h1.8v1.8h-1.8zM456.0 1790.4h1.8v1.8h-1.8zM448.0 1702.4h1.8v1.8h-1.8zM518.4 1676.8h1.8v1.8h-1.8zM492.8 1681.6h1.8v1.8h-1.8zM456.0 1694.4h1.8v1.8h-1.8zM488.0 1699.2h1.8v1.8h-1.8zM448.0 1723.2h1.8v1.8h-1.8zM478.4 1742.4h1.8v1.8h-1.8zM448.0 1766.4h1.8v1.8h-1.8zM472.0 1740.8h1.8v1.8h-1.8zM481.6 1736.0h1.8v1.8h-1.8zM444.8 1758.4h1.8v1.8h-1.8zM446.4 1787.2h1.8v1.8h-1.8zM465.6 1696.0h1.8v1.8h-1.8zM470.4 1768.0h1.8v1.8h-1.8zM459.2 1785.6h1.8v1.8h-1.8zM496.0 1710.4h1.8v1.8h-1.8zM459.2 1732.8h1.8v1.8h-1.8zM492.8 1684.8h1.8v1.8h-1.8zM500.8 1699.2h1.8v1.8h-1.8zM446.4 1803.2h1.8v1.8h-1.8zM486.4 1699.2h1.8v1.8h-1.8zM465.6 1713.6h1.8v1.8h-1.8zM484.8 1684.8h1.8v1.8h-1.8zM454.4 1772.8h1.8v1.8h-1.8zM465.6 1753.6h1.8v1.8h-1.8zM462.4 1769.6h1.8v1.8h-1.8zM494.4 1700.8h1.8v1.8h-1.8zM464.0 1705.6h1.8v1.8h-1.8zM483.2 1744.0h1.8v1.8h-1.8zM496.0 1704.0h1.8v1.8h-1.8zM452.8 1811.2h1.8v1.8h-1.8zM512.0 1694.4h1.8v1.8h-1.8zM457.6 1702.4h1.8v1.8h-1.8zM470.4 1736.0h1.8v1.8h-1.8zM480.0 1729.6h1.8v1.8h-1.8zM448.0 1699.2h1.8v1.8h-1.8zM500.8 1684.8h1.8v1.8h-1.8zM515.2 1675.2h1.8v1.8h-1.8zM473.6 1686.4h1.8v1.8h-1.8zM484.8 1697.6h1.8v1.8h-1.8zM446.4 1756.8h1.8v1.8h-1.8zM523.2 1683.2h1.8v1.8h-1.8zM449.6 1814.4h1.8v1.8h-1.8zM491.2 1712.0h1.8v1.8h-1.8zM449.6 1806.4h1.8v1.8h-1.8zM467.2 1716.8h1.8v1.8h-1.8zM448.0 1692.8h1.8v1.8h-1.8zM472.0 1724.8h1.8v1.8h-1.8zM500.8 1718.4h1.8v1.8h-1.8zM484.8 1694.4h1.8v1.8h-1.8zM451.2 1820.8h1.8v1.8h-1.8zM468.8 1681.6h1.8v1.8h-1.8zM496.0 1681.6h1.8v1.8h-1.8zM460.8 1702.4h1.8v1.8h-1.8zM449.6 1689.6h1.8v1.8h-1.8zM452.8 1788.8h1.8v1.8h-1.8zM480.0 1720.0h1.8v1.8h-1.8zM486.4 1686.4h1.8v1.8h-1.8zM484.8 1688.0h1.8v1.8h-1.8zM467.2 1734.4h1.8v1.8h-1.8zM478.4 1756.8h1.8v1.8h-1.8zM476.8 1708.8h1.8v1.8h-1.8zM470.4 1704.0h1.8v1.8h-1.8zM480.0 1699.2h1.8v1.8h-1.8zM468.8 1780.8h1.8v1.8h-1.8zM444.8 1715.2h1.8v1.8h-1.8zM481.6 1729.6h1.8v1.8h-1.8zM480.0 1740.8h1.8v1.8h-1.8zM494.4 1683.2h1.8v1.8h-1.8zM499.2 1688.0h1.8v1.8h-1.8zM470.4 1702.4h1.8v1.8h-1.8zM444.8 1734.4h1.8v1.8h-1.8zM478.4 1681.6h1.8v1.8h-1.8zM480.0 1734.4h1.8v1.8h-1.8zM472.0 1744.0h1.8v1.8h-1.8zM476.8 1697.6h1.8v1.8h-1.8zM467.2 1697.6h1.8v1.8h-1.8zM465.6 1760.0h1.8v1.8h-1.8zM452.8 1796.8h1.8v1.8h-1.8zM484.8 1726.4h1.8v1.8h-1.8zM473.6 1747.2h1.8v1.8h-1.8zM459.2 1715.2h1.8v1.8h-1.8zM484.8 1686.4h1.8v1.8h-1.8zM451.2 1793.6h1.8v1.8h-1.8zM481.6 1720.0h1.8v1.8h-1.8zM496.0 1718.4h1.8v1.8h-1.8zM480.0 1716.8h1.8v1.8h-1.8zM457.6 1788.8h1.8v1.8h-1.8zM451.2 1796.8h1.8v1.8h-1.8zM467.2 1710.4h1.8v1.8h-1.8zM472.0 1755.2h1.8v1.8h-1.8zM480.0 1696.0h1.8v1.8h-1.8zM456.0 1680.0h1.8v1.8h-1.8zM478.4 1748.8h1.8v1.8h-1.8zM473.6 1739.2h1.8v1.8h-1.8zM483.2 1731.2h1.8v1.8h-1.8zM449.6 1785.6h1.8v1.8h-1.8zM467.2 1768.0h1.8v1.8h-1.8zM468.8 1755.2h1.8v1.8h-1.8zM481.6 1700.8h1.8v1.8h-1.8zM489.6 1684.8h1.8v1.8h-1.8zM454.4 1790.4h1.8v1.8h-1.8zM488.0 1683.2h1.8v1.8h-1.8zM449.6 1716.8h1.8v1.8h-1.8zM467.2 1691.2h1.8v1.8h-1.8zM456.0 1699.2h1.8v1.8h-1.8zM489.6 1699.2h1.8v1.8h-1.8zM475.2 1700.8h1.8v1.8h-1.8zM470.4 1688.0h1.8v1.8h-1.8zM460.8 1704.0h1.8v1.8h-1.8zM460.8 1689.6h1.8v1.8h-1.8zM475.2 1705.6h1.8v1.8h-1.8zM524.8 1680.0h1.8v1.8h-1.8zM472.0 1692.8h1.8v1.8h-1.8zM459.2 1744.0h1.8v1.8h-1.8zM464.0 1761.6h1.8v1.8h-1.8zM454.4 1792.0h1.8v1.8h-1.8zM449.6 1705.6h1.8v1.8h-1.8zM494.4 1726.4h1.8v1.8h-1.8zM513.6 1672.0h1.8v1.8h-1.8zM472.0 1761.6h1.8v1.8h-1.8zM448.0 1704.0h1.8v1.8h-1.8zM448.0 1694.4h1.8v1.8h-1.8zM468.8 1728.0h1.8v1.8h-1.8zM457.6 1814.4h1.8v1.8h-1.8zM446.4 1795.2h1.8v1.8h-1.8zM464.0 1700.8h1.8v1.8h-1.8zM483.2 1699.2h1.8v1.8h-1.8zM497.6 1688.0h1.8v1.8h-1.8zM459.2 1683.2h1.8v1.8h-1.8zM480.0 1758.4h1.8v1.8h-1.8zM472.0 1734.4h1.8v1.8h-1.8zM481.6 1739.2h1.8v1.8h-1.8zM465.6 1763.2h1.8v1.8h-1.8zM464.0 1697.6h1.8v1.8h-1.8zM472.0 1771.2h1.8v1.8h-1.8zM486.4 1684.8h1.8v1.8h-1.8zM459.2 1686.4h1.8v1.8h-1.8zM451.2 1814.4h1.8v1.8h-1.8zM454.4 1697.6h1.8v1.8h-1.8zM448.0 1705.6h1.8v1.8h-1.8zM446.4 1723.2h1.8v1.8h-1.8zM459.2 1761.6h1.8v1.8h-1.8zM465.6 1752.0h1.8v1.8h-1.8zM444.8 1766.4h1.8v1.8h-1.8zM444.8 1744.0h1.8v1.8h-1.8zM459.2 1763.2h1.8v1.8h-1.8zM454.4 1700.8h1.8v1.8h-1.8zM476.8 1707.2h1.8v1.8h-1.8zM464.0 1694.4h1.8v1.8h-1.8zM446.4 1772.8h1.8v1.8h-1.8zM473.6 1707.2h1.8v1.8h-1.8zM449.6 1798.4h1.8v1.8h-1.8zM448.0 1697.6h1.8v1.8h-1.8zM478.4 1697.6h1.8v1.8h-1.8zM444.8 1806.4h1.8v1.8h-1.8zM451.2 1720.0h1.8v1.8h-1.8zM452.8 1681.6h1.8v1.8h-1.8zM459.2 1800.0h1.8v1.8h-1.8zM449.6 1699.2h1.8v1.8h-1.8zM457.6 1795.2h1.8v1.8h-1.8zM446.4 1721.6h1.8v1.8h-1.8zM472.0 1748.8h1.8v1.8h-1.8zM472.0 1710.4h1.8v1.8h-1.8zM462.4 1686.4h1.8v1.8h-1.8zM459.2 1691.2h1.8v1.8h-1.8zM449.6 1822.4h1.8v1.8h-1.8zM464.0 1779.2h1.8v1.8h-1.8zM483.2 1670.4h1.8v1.8h-1.8zM451.2 1692.8h1.8v1.8h-1.8zM446.4 1761.6h1.8v1.8h-1.8zM475.2 1755.2h1.8v1.8h-1.8zM460.8 1777.6h1.8v1.8h-1.8zM462.4 1772.8h1.8v1.8h-1.8zM460.8 1785.6h1.8v1.8h-1.8zM457.6 1790.4h1.8v1.8h-1.8zM446.4 1792.0h1.8v1.8h-1.8zM444.8 1756.8h1.8v1.8h-1.8zM446.4 1812.8h1.8v1.8h-1.8zM449.6 1803.2h1.8v1.8h-1.8zM451.2 1822.4h1.8v1.8h-1.8zM456.0 1814.4h1.8v1.8h-1.8zM459.2 1803.2h1.8v1.8h-1.8zM446.4 1819.2h1.8v1.8h-1.8zM451.2 1809.6h1.8v1.8h-1.8zM454.4 1801.6h1.8v1.8h-1.8zM446.4 1820.8h1.8v1.8h-1.8zM460.8 1800.0h1.8v1.8h-1.8zM448.0 1809.6h1.8v1.8h-1.8zM457.6 1811.2h1.8v1.8h-1.8zM473.6 1804.8h1.8v1.8h-1.8zM448.0 1824.0h1.8v1.8h-1.8zM454.4 1820.8h1.8v1.8h-1.8zM448.0 1817.6h1.8v1.8h-1.8zM456.0 1830.4h1.8v1.8h-1.8zM451.2 1803.2h1.8v1.8h-1.8zM448.0 1803.2h1.8v1.8h-1.8zM459.2 1804.8h1.8v1.8h-1.8zM456.0 1812.8h1.8v1.8h-1.8zM448.0 1819.2h1.8v1.8h-1.8z" fill="#1060ff"/>
<path d="M467.2 1700.8h1.8v1.8h-1.8zM460.8 1708.8h1.8v1.8h-1.8zM457.6 1752.0h1.8v1.8h-1.8zM449.6 1790.4h1.8v1.8h-1.8zM449.6 1736.0h1.8v1.8h-1.8zM448.0 1708.8h1.8v1.8h-1.8zM468.8 1745.6h1.8v1.8h-1.8zM449.6 1772.8h1.8v1.8h-1.8zM448.0 1752.0h1.8v1.8h-1.8zM462.4 1753.6h1.8v1.8h-1.8zM457.6 1736.0h1.8v1.8h-1.8zM457.6 1756.8h1.8v1.8h-1.8zM457.6 1761.6h1.8v1.8h-1.8zM483.2 1716.8h1.8v1.8h-1.8zM448.0 1768.0h1.8v1.8h-1.8zM464.0 1756.8h1.8v1.8h-1.8zM449.6 1707.2h1.8v1.8h-1.8zM478.4 1726.4h1.8v1.8h-1.8zM459.2 1782.4h1.8v1.8h-1.8zM449.6 1734.4h1.8v1.8h-1.8zM468.8 1699.2h1.8v1.8h-1.8zM456.0 1744.0h1.8v1.8h-1.8zM472.0 1718.4h1.8v1.8h-1.8zM446.4 1716.8h1.8v1.8h-1.8zM481.6 1716.8h1.8v1.8h-1.8zM457.6 1728.0h1.8v1.8h-1.8zM465.6 1731.2h1.8v1.8h-1.8zM454.4 1704.0h1.8v1.8h-1.8zM456.0 1713.6h1.8v1.8h-1.8zM470.4 1740.8h1.8v1.8h-1.8zM472.0 1691.2h1.8v1.8h-1.8zM464.0 1732.8h1.8v1.8h-1.8zM457.6 1769.6h1.8v1.8h-1.8zM472.0 1708.8h1.8v1.8h-1.8zM473.6 1708.8h1.8v1.8h-1.8zM448.0 1795.2h1.8v1.8h-1.8zM473.6 1715.2h1.8v1.8h-1.8zM459.2 1737.6h1.8v1.8h-1.8zM465.6 1688.0h1.8v1.8h-1.8zM449.6 1718.4h1.8v1.8h-1.8zM452.8 1803.2h1.8v1.8h-1.8zM464.0 1745.6h1.8v1.8h-1.8zM454.4 1708.8h1.8v1.8h-1.8zM456.0 1742.4h1.8v1.8h-1.8zM448.0 1718.4h1.8v1.8h-1.8zM465.6 1721.6h1.8v1.8h-1.8zM470.4 1752.0h1.8v1.8h-1.8zM481.6 1680.0h1.8v1.8h-1.8zM448.0 1793.6h1.8v1.8h-1.8zM448.0 1713.6h1.8v1.8h-1.8zM462.4 1708.8h1.8v1.8h-1.8zM457.6 1764.8h1.8v1.8h-1.8zM459.2 1718.4h1.8v1.8h-1.8zM468.8 1708.8h1.8v1.8h-1.8zM470.4 1715.2h1.8v1.8h-1.8zM472.0 1750.4h1.8v1.8h-1.8zM448.0 1769.6h1.8v1.8h-1.8zM475.2 1702.4h1.8v1.8h-1.8zM451.2 1708.8h1.8v1.8h-1.8zM459.2 1707.2h1.8v1.8h-1.8zM448.0 1755.2h1.8v1.8h-1.8zM464.0 1742.4h1.8v1.8h-1.8zM452.8 1715.2h1.8v1.8h-1.8zM467.2 1744.0h1.8v1.8h-1.8zM468.8 1723.2h1.8v1.8h-1.8zM475.2 1716.8h1.8v1.8h-1.8zM454.4 1777.6h1.8v1.8h-1.8zM446.4 1753.6h1.8v1.8h-1.8zM462.4 1750.4h1.8v1.8h-1.8zM451.2 1782.4h1.8v1.8h-1.8zM464.0 1721.6h1.8v1.8h-1.8zM456.0 1707.2h1.8v1.8h-1.8zM478.4 1740.8h1.8v1.8h-1.8zM454.4 1748.8h1.8v1.8h-1.8zM451.2 1798.4h1.8v1.8h-1.8zM467.2 1739.2h1.8v1.8h-1.8zM457.6 1745.6h1.8v1.8h-1.8zM460.8 1772.8h1.8v1.8h-1.8zM468.8 1752.0h1.8v1.8h-1.8zM449.6 1792.0h1.8v1.8h-1.8zM449.6 1793.6h1.8v1.8h-1.8zM459.2 1764.8h1.8v1.8h-1.8zM465.6 1755.2h1.8v1.8h-1.8zM464.0 1755.2h1.8v1.8h-1.8zM486.4 1718.4h1.8v1.8h-1.8zM457.6 1731.2h1.8v1.8h-1.8zM449.6 1766.4h1.8v1.8h-1.8zM460.8 1737.6h1.8v1.8h-1.8zM465.6 1737.6h1.8v1.8h-1.8zM464.0 1710.4h1.8v1.8h-1.8zM446.4 1726.4h1.8v1.8h-1.8zM467.2 1729.6h1.8v1.8h-1.8zM476.8 1724.8h1.8v1.8h-1.8zM449.6 1787.2h1.8v1.8h-1.8zM454.4 1771.2h1.8v1.8h-1.8zM457.6 1776.0h1.8v1.8h-1.8zM452.8 1801.6h1.8v1.8h-1.8zM460.8 1734.4h1.8v1.8h-1.8zM486.4 1715.2h1.8v1.8h-1.8zM465.6 1744.0h1.8v1.8h-1.8zM449.6 1769.6h1.8v1.8h-1.8zM456.0 1764.8h1.8v1.8h-1.8zM452.8 1736.0h1.8v1.8h-1.8zM448.0 1734.4h1.8v1.8h-1.8zM457.6 1704.0h1.8v1.8h-1.8zM470.4 1724.8h1.8v1.8h-1.8zM464.0 1750.4h1.8v1.8h-1.8zM462.4 1740.8h1.8v1.8h-1.8zM465.6 1734.4h1.8v1.8h-1.8zM464.0 1723.2h1.8v1.8h-1.8zM454.4 1745.6h1.8v1.8h-1.8zM457.6 1707.2h1.8v1.8h-1.8zM459.2 1777.6h1.8v1.8h-1.8zM476.8 1723.2h1.8v1.8h-1.8zM456.0 1763.2h1.8v1.8h-1.8zM460.8 1707.2h1.8v1.8h-1.8zM444.8 1750.4h1.8v1.8h-1.8zM454.4 1710.4h1.8v1.8h-1.8zM460.8 1710.4h1.8v1.8h-1.8zM449.6 1702.4h1.8v1.8h-1.8zM470.4 1742.4h1.8v1.8h-1.8zM448.0 1716.8h1.8v1.8h-1.8zM451.2 1704.0h1.8v1.8h-1.8zM454.4 1715.2h1.8v1.8h-1.8zM462.4 1715.2h1.8v1.8h-1.8zM465.6 1707.2h1.8v1.8h-1.8zM476.8 1753.6h1.8v1.8h-1.8zM457.6 1766.4h1.8v1.8h-1.8zM452.8 1705.6h1.8v1.8h-1.8zM449.6 1720.0h1.8v1.8h-1.8zM459.2 1753.6h1.8v1.8h-1.8zM484.8 1700.8h1.8v1.8h-1.8zM457.6 1780.8h1.8v1.8h-1.8zM467.2 1752.0h1.8v1.8h-1.8zM464.0 1702.4h1.8v1.8h-1.8zM468.8 1704.0h1.8v1.8h-1.8zM444.8 1747.2h1.8v1.8h-1.8zM454.4 1787.2h1.8v1.8h-1.8zM449.6 1771.2h1.8v1.8h-1.8zM444.8 1753.6h1.8v1.8h-1.8zM465.6 1732.8h1.8v1.8h-1.8zM457.6 1712.0h1.8v1.8h-1.8zM475.2 1720.0h1.8v1.8h-1.8zM462.4 1720.0h1.8v1.8h-1.8zM454.4 1702.4h1.8v1.8h-1.8zM465.6 1724.8h1.8v1.8h-1.8zM476.8 1716.8h1.8v1.8h-1.8zM448.0 1782.4h1.8v1.8h-1.8zM467.2 1747.2h1.8v1.8h-1.8zM459.2 1750.4h1.8v1.8h-1.8zM448.0 1707.2h1.8v1.8h-1.8zM467.2 1708.8h1.8v1.8h-1.8zM448.0 1776.0h1.8v1.8h-1.8zM467.2 1689.6h1.8v1.8h-1.8zM464.0 1726.4h1.8v1.8h-1.8zM460.8 1776.0h1.8v1.8h-1.8zM464.0 1713.6h1.8v1.8h-1.8zM448.0 1728.0h1.8v1.8h-1.8zM452.8 1704.0h1.8v1.8h-1.8zM449.6 1708.8h1.8v1.8h-1.8zM475.2 1715.2h1.8v1.8h-1.8zM446.4 1766.4h1.8v1.8h-1.8zM470.4 1731.2h1.8v1.8h-1.8zM448.0 1764.8h1.8v1.8h-1.8zM473.6 1724.8h1.8v1.8h-1.8zM470.4 1716.8h1.8v1.8h-1.8zM462.4 1760.0h1.8v1.8h-1.8zM457.6 1779.2h1.8v1.8h-1.8zM473.6 1689.6h1.8v1.8h-1.8zM452.8 1712.0h1.8v1.8h-1.8zM462.4 1700.8h1.8v1.8h-1.8zM470.4 1739.2h1.8v1.8h-1.8zM467.2 1724.8h1.8v1.8h-1.8zM460.8 1755.2h1.8v1.8h-1.8zM459.2 1766.4h1.8v1.8h-1.8zM465.6 1747.2h1.8v1.8h-1.8zM459.2 1769.6h1.8v1.8h-1.8zM449.6 1795.2h1.8v1.8h-1.8zM467.2 1718.4h1.8v1.8h-1.8zM476.8 1713.6h1.8v1.8h-1.8zM497.6 1684.8h1.8v1.8h-1.8zM454.4 1803.2h1.8v1.8h-1.8zM464.0 1707.2h1.8v1.8h-1.8zM460.8 1753.6h1.8v1.8h-1.8zM448.0 1724.8h1.8v1.8h-1.8zM459.2 1755.2h1.8v1.8h-1.8zM444.8 1748.8h1.8v1.8h-1.8zM462.4 1721.6h1.8v1.8h-1.8zM468.8 1731.2h1.8v1.8h-1.8zM470.4 1748.8h1.8v1.8h-1.8zM454.4 1763.2h1.8v1.8h-1.8zM457.6 1772.8h1.8v1.8h-1.8zM457.6 1760.0h1.8v1.8h-1.8zM454.4 1705.6h1.8v1.8h-1.8zM467.2 1715.2h1.8v1.8h-1.8zM478.4 1710.4h1.8v1.8h-1.8zM472.0 1705.6h1.8v1.8h-1.8zM446.4 1769.6h1.8v1.8h-1.8zM467.2 1723.2h1.8v1.8h-1.8zM459.2 1776.0h1.8v1.8h-1.8zM451.2 1785.6h1.8v1.8h-1.8zM464.0 1712.0h1.8v1.8h-1.8zM452.8 1793.6h1.8v1.8h-1.8zM444.8 1761.6h1.8v1.8h-1.8zM459.2 1787.2h1.8v1.8h-1.8zM459.2 1724.8h1.8v1.8h-1.8zM457.6 1713.6h1.8v1.8h-1.8zM462.4 1699.2h1.8v1.8h-1.8zM476.8 1726.4h1.8v1.8h-1.8zM449.6 1764.8h1.8v1.8h-1.8zM467.2 1726.4h1.8v1.8h-1.8zM451.2 1801.6h1.8v1.8h-1.8zM472.0 1752.0h1.8v1.8h-1.8zM456.0 1784.0h1.8v1.8h-1.8zM459.2 1780.8h1.8v1.8h-1.8zM456.0 1769.6h1.8v1.8h-1.8zM448.0 1780.8h1.8v1.8h-1.8zM454.4 1782.4h1.8v1.8h-1.8zM456.0 1724.8h1.8v1.8h-1.8zM484.8 1699.2h1.8v1.8h-1.8zM484.8 1689.6h1.8v1.8h-1.8zM473.6 1748.8h1.8v1.8h-1.8zM446.4 1763.2h1.8v1.8h-1.8zM456.0 1755.2h1.8v1.8h-1.8zM459.2 1779.2h1.8v1.8h-1.8zM446.4 1771.2h1.8v1.8h-1.8zM446.4 1774.4h1.8v1.8h-1.8zM470.4 1705.6h1.8v1.8h-1.8zM462.4 1712.0h1.8v1.8h-1.8zM454.4 1784.0h1.8v1.8h-1.8zM486.4 1700.8h1.8v1.8h-1.8zM451.2 1780.8h1.8v1.8h-1.8zM449.6 1721.6h1.8v1.8h-1.8zM470.4 1707.2h1.8v1.8h-1.8zM460.8 1760.0h1.8v1.8h-1.8zM457.6 1683.2h1.8v1.8h-1.8zM462.4 1745.6h1.8v1.8h-1.8zM472.0 1704.0h1.8v1.8h-1.8zM472.0 1720.0h1.8v1.8h-1.8zM456.0 1740.8h1.8v1.8h-1.8zM473.6 1691.2h1.8v1.8h-1.8zM481.6 1689.6h1.8v1.8h-1.8zM468.8 1726.4h1.8v1.8h-1.8zM473.6 1720.0h1.8v1.8h-1.8zM473.6 1740.8h1.8v1.8h-1.8zM467.2 1705.6h1.8v1.8h-1.8zM452.8 1785.6h1.8v1.8h-1.8zM465.6 1712.0h1.8v1.8h-1.8zM452.8 1737.6h1.8v1.8h-1.8zM451.2 1729.6h1.8v1.8h-1.8zM480.0 1718.4h1.8v1.8h-1.8zM468.8 1744.0h1.8v1.8h-1.8zM451.2 1737.6h1.8v1.8h-1.8zM468.8 1707.2h1.8v1.8h-1.8zM451.2 1702.4h1.8v1.8h-1.8zM473.6 1716.8h1.8v1.8h-1.8zM452.8 1702.4h1.8v1.8h-1.8zM464.0 1704.0h1.8v1.8h-1.8zM444.8 1752.0h1.8v1.8h-1.8zM475.2 1721.6h1.8v1.8h-1.8zM451.2 1716.8h1.8v1.8h-1.8zM457.6 1763.2h1.8v1.8h-1.8zM467.2 1728.0h1.8v1.8h-1.8zM452.8 1780.8h1.8v1.8h-1.8zM484.8 1716.8h1.8v1.8h-1.8zM468.8 1692.8h1.8v1.8h-1.8zM475.2 1718.4h1.8v1.8h-1.8zM465.6 1704.0h1.8v1.8h-1.8zM468.8 1750.4h1.8v1.8h-1.8zM480.0 1688.0h1.8v1.8h-1.8zM460.8 1716.8h1.8v1.8h-1.8zM451.2 1777.6h1.8v1.8h-1.8zM464.0 1718.4h1.8v1.8h-1.8zM451.2 1804.8h1.8v1.8h-1.8zM448.0 1761.6h1.8v1.8h-1.8zM464.0 1752.0h1.8v1.8h-1.8zM452.8 1804.8h1.8v1.8h-1.8zM449.6 1744.0h1.8v1.8h-1.8zM464.0 1720.0h1.8v1.8h-1.8zM446.4 1779.2h1.8v1.8h-1.8zM459.2 1731.2h1.8v1.8h-1.8zM459.2 1710.4h1.8v1.8h-1.8zM448.0 1729.6h1.8v1.8h-1.8zM446.4 1739.2h1.8v1.8h-1.8zM460.8 1780.8h1.8v1.8h-1.8zM451.2 1721.6h1.8v1.8h-1.8zM459.2 1771.2h1.8v1.8h-1.8zM467.2 1699.2h1.8v1.8h-1.8zM449.6 1704.0h1.8v1.8h-1.8zM470.4 1718.4h1.8v1.8h-1.8zM467.2 1736.0h1.8v1.8h-1.8zM456.0 1760.0h1.8v1.8h-1.8zM457.6 1768.0h1.8v1.8h-1.8zM459.2 1708.8h1.8v1.8h-1.8zM451.2 1800.0h1.8v1.8h-1.8zM460.8 1736.0h1.8v1.8h-1.8zM448.0 1721.6h1.8v1.8h-1.8zM448.0 1822.4h1.8v1.8h-1.8zM454.4 1752.0h1.8v1.8h-1.8zM464.0 1753.6h1.8v1.8h-1.8zM454.4 1806.4h1.8v1.8h-1.8zM452.8 1806.4h1.8v1.8h-1.8zM454.4 1809.6h1.8v1.8h-1.8zM452.8 1800.0h1.8v1.8h-1.8zM454.4 1804.8h1.8v1.8h-1.8zM456.0 1806.4h1.8v1.8h-1.8zM454.4 1808.0h1.8v1.8h-1.8z" fill="#10c0f0"/>
<path d="M446.4 1731.2h1.8v1.8h-1.8zM448.0 1732.8h1.8v1.8h-1.8zM451.2 1732.8h1.8v1.8h-1.8zM468.8 1718.4h1.8v1.8h-1.8zM460.8 1747.2h1.8v1.8h-1.8zM446.4 1760.0h1.8v1.8h-1.8zM449.6 1782.4h1.8v1.8h-1.8zM483.2 1715.2h1.8v1.8h-1.8zM456.0 1736.0h1.8v1.8h-1.8zM449.6 1724.8h1.8v1.8h-1.8zM454.4 1776.0h1.8v1.8h-1.8zM460.8 1732.8h1.8v1.8h-1.8zM451.2 1776.0h1.8v1.8h-1.8zM456.0 1779.2h1.8v1.8h-1.8zM457.6 1755.2h1.8v1.8h-1.8zM449.6 1726.4h1.8v1.8h-1.8zM448.0 1758.4h1.8v1.8h-1.8zM456.0 1732.8h1.8v1.8h-1.8zM451.2 1772.8h1.8v1.8h-1.8zM446.4 1718.4h1.8v1.8h-1.8zM475.2 1723.2h1.8v1.8h-1.8zM454.4 1758.4h1.8v1.8h-1.8zM457.6 1705.6h1.8v1.8h-1.8zM472.0 1721.6h1.8v1.8h-1.8zM454.4 1755.2h1.8v1.8h-1.8zM454.4 1728.0h1.8v1.8h-1.8zM457.6 1750.4h1.8v1.8h-1.8zM446.4 1747.2h1.8v1.8h-1.8zM459.2 1739.2h1.8v1.8h-1.8zM454.4 1753.6h1.8v1.8h-1.8zM446.4 1755.2h1.8v1.8h-1.8zM460.8 1718.4h1.8v1.8h-1.8zM446.4 1758.4h1.8v1.8h-1.8zM457.6 1708.8h1.8v1.8h-1.8zM454.4 1764.8h1.8v1.8h-1.8zM449.6 1777.6h1.8v1.8h-1.8zM468.8 1742.4h1.8v1.8h-1.8zM449.6 1713.6h1.8v1.8h-1.8zM470.4 1708.8h1.8v1.8h-1.8zM473.6 1713.6h1.8v1.8h-1.8zM452.8 1761.6h1.8v1.8h-1.8zM457.6 1758.4h1.8v1.8h-1.8zM462.4 1710.4h1.8v1.8h-1.8zM460.8 1740.8h1.8v1.8h-1.8zM452.8 1760.0h1.8v1.8h-1.8zM460.8 1723.2h1.8v1.8h-1.8zM449.6 1776.0h1.8v1.8h-1.8zM446.4 1748.8h1.8v1.8h-1.8zM462.4 1737.6h1.8v1.8h-1.8zM452.8 1769.6h1.8v1.8h-1.8zM459.2 1712.0h1.8v1.8h-1.8zM454.4 1713.6h1.8v1.8h-1.8zM456.0 1748.8h1.8v1.8h-1.8zM457.6 1729.6h1.8v1.8h-1.8zM467.2 1750.4h1.8v1.8h-1.8zM452.8 1721.6h1.8v1.8h-1.8zM457.6 1777.6h1.8v1.8h-1.8zM467.2 1731.2h1.8v1.8h-1.8zM464.0 1734.4h1.8v1.8h-1.8zM468.8 1736.0h1.8v1.8h-1.8zM460.8 1721.6h1.8v1.8h-1.8zM452.8 1750.4h1.8v1.8h-1.8zM454.4 1737.6h1.8v1.8h-1.8zM454.4 1726.4h1.8v1.8h-1.8zM457.6 1742.4h1.8v1.8h-1.8zM451.2 1705.6h1.8v1.8h-1.8zM473.6 1721.6h1.8v1.8h-1.8zM454.4 1731.2h1.8v1.8h-1.8zM448.0 1760.0h1.8v1.8h-1.8zM451.2 1723.2h1.8v1.8h-1.8zM454.4 1721.6h1.8v1.8h-1.8zM454.4 1766.4h1.8v1.8h-1.8zM464.0 1708.8h1.8v1.8h-1.8zM452.8 1782.4h1.8v1.8h-1.8zM452.8 1729.6h1.8v1.8h-1.8zM467.2 1745.6h1.8v1.8h-1.8zM452.8 1768.0h1.8v1.8h-1.8zM468.8 1720.0h1.8v1.8h-1.8zM459.2 1756.8h1.8v1.8h-1.8zM446.4 1732.8h1.8v1.8h-1.8zM459.2 1723.2h1.8v1.8h-1.8zM452.8 1740.8h1.8v1.8h-1.8zM464.0 1740.8h1.8v1.8h-1.8zM468.8 1691.2h1.8v1.8h-1.8zM449.6 1715.2h1.8v1.8h-1.8zM462.4 1736.0h1.8v1.8h-1.8zM464.0 1748.8h1.8v1.8h-1.8zM446.4 1724.8h1.8v1.8h-1.8zM465.6 1748.8h1.8v1.8h-1.8zM451.2 1724.8h1.8v1.8h-1.8zM446.4 1742.4h1.8v1.8h-1.8zM446.4 1734.4h1.8v1.8h-1.8zM456.0 1710.4h1.8v1.8h-1.8zM465.6 1726.4h1.8v1.8h-1.8zM452.8 1776.0h1.8v1.8h-1.8zM468.8 1747.2h1.8v1.8h-1.8zM448.0 1737.6h1.8v1.8h-1.8zM460.8 1748.8h1.8v1.8h-1.8zM459.2 1772.8h1.8v1.8h-1.8zM446.4 1737.6h1.8v1.8h-1.8zM470.4 1721.6h1.8v1.8h-1.8zM456.0 1766.4h1.8v1.8h-1.8zM448.0 1731.2h1.8v1.8h-1.8zM454.4 1756.8h1.8v1.8h-1.8zM460.8 1729.6h1.8v1.8h-1.8zM456.0 1729.6h1.8v1.8h-1.8zM454.4 1747.2h1.8v1.8h-1.8zM456.0 1776.0h1.8v1.8h-1.8zM451.2 1784.0h1.8v1.8h-1.8zM457.6 1740.8h1.8v1.8h-1.8zM454.4 1707.2h1.8v1.8h-1.8zM449.6 1755.2h1.8v1.8h-1.8zM460.8 1724.8h1.8v1.8h-1.8zM472.0 1716.8h1.8v1.8h-1.8zM452.8 1784.0h1.8v1.8h-1.8zM465.6 1739.2h1.8v1.8h-1.8zM448.0 1771.2h1.8v1.8h-1.8zM462.4 1734.4h1.8v1.8h-1.8zM448.0 1750.4h1.8v1.8h-1.8zM449.6 1784.0h1.8v1.8h-1.8zM454.4 1780.8h1.8v1.8h-1.8zM449.6 1752.0h1.8v1.8h-1.8zM460.8 1750.4h1.8v1.8h-1.8zM448.0 1747.2h1.8v1.8h-1.8zM452.8 1720.0h1.8v1.8h-1.8zM457.6 1739.2h1.8v1.8h-1.8zM467.2 1748.8h1.8v1.8h-1.8zM448.0 1777.6h1.8v1.8h-1.8zM452.8 1732.8h1.8v1.8h-1.8zM452.8 1707.2h1.8v1.8h-1.8zM452.8 1764.8h1.8v1.8h-1.8zM451.2 1715.2h1.8v1.8h-1.8zM454.4 1768.0h1.8v1.8h-1.8zM470.4 1720.0h1.8v1.8h-1.8zM452.8 1718.4h1.8v1.8h-1.8zM448.0 1779.2h1.8v1.8h-1.8zM457.6 1732.8h1.8v1.8h-1.8zM456.0 1721.6h1.8v1.8h-1.8zM452.8 1710.4h1.8v1.8h-1.8zM452.8 1728.0h1.8v1.8h-1.8zM451.2 1779.2h1.8v1.8h-1.8zM456.0 1705.6h1.8v1.8h-1.8zM457.6 1724.8h1.8v1.8h-1.8zM462.4 1752.0h1.8v1.8h-1.8zM451.2 1707.2h1.8v1.8h-1.8zM462.4 1732.8h1.8v1.8h-1.8zM457.6 1774.4h1.8v1.8h-1.8zM449.6 1780.8h1.8v1.8h-1.8zM446.4 1736.0h1.8v1.8h-1.8zM449.6 1761.6h1.8v1.8h-1.8zM459.2 1747.2h1.8v1.8h-1.8zM449.6 1763.2h1.8v1.8h-1.8zM454.4 1761.6h1.8v1.8h-1.8zM454.4 1720.0h1.8v1.8h-1.8z" fill="#10e070"/>
<path d="M448.0 1772.8h1.8v1.8h-1.8zM452.8 1752.0h1.8v1.8h-1.8zM454.4 1779.2h1.8v1.8h-1.8zM456.0 1726.4h1.8v1.8h-1.8zM457.6 1721.6h1.8v1.8h-1.8zM462.4 1748.8h1.8v1.8h-1.8zM459.2 1752.0h1.8v1.8h-1.8zM451.2 1763.2h1.8v1.8h-1.8zM462.4 1728.0h1.8v1.8h-1.8zM452.8 1753.6h1.8v1.8h-1.8zM452.8 1777.6h1.8v1.8h-1.8zM452.8 1731.2h1.8v1.8h-1.8zM448.0 1744.0h1.8v1.8h-1.8zM456.0 1771.2h1.8v1.8h-1.8zM460.8 1731.2h1.8v1.8h-1.8zM464.0 1739.2h1.8v1.8h-1.8zM454.4 1774.4h1.8v1.8h-1.8zM452.8 1739.2h1.8v1.8h-1.8zM454.4 1740.8h1.8v1.8h-1.8zM451.2 1768.0h1.8v1.8h-1.8zM456.0 1728.0h1.8v1.8h-1.8zM457.6 1726.4h1.8v1.8h-1.8zM465.6 1728.0h1.8v1.8h-1.8zM456.0 1716.8h1.8v1.8h-1.8zM464.0 1729.6h1.8v1.8h-1.8zM459.2 1721.6h1.8v1.8h-1.8zM452.8 1742.4h1.8v1.8h-1.8zM456.0 1712.0h1.8v1.8h-1.8zM462.4 1729.6h1.8v1.8h-1.8zM464.0 1737.6h1.8v1.8h-1.8zM452.8 1771.2h1.8v1.8h-1.8zM449.6 1737.6h1.8v1.8h-1.8zM454.4 1723.2h1.8v1.8h-1.8zM456.0 1761.6h1.8v1.8h-1.8zM456.0 1747.2h1.8v1.8h-1.8zM454.4 1724.8h1.8v1.8h-1.8zM449.6 1742.4h1.8v1.8h-1.8zM457.6 1720.0h1.8v1.8h-1.8zM454.4 1739.2h1.8v1.8h-1.8zM454.4 1732.8h1.8v1.8h-1.8zM449.6 1774.4h1.8v1.8h-1.8zM449.6 1731.2h1.8v1.8h-1.8zM451.2 1713.6h1.8v1.8h-1.8zM457.6 1737.6h1.8v1.8h-1.8zM456.0 1774.4h1.8v1.8h-1.8zM456.0 1704.0h1.8v1.8h-1.8zM452.8 1766.4h1.8v1.8h-1.8zM462.4 1744.0h1.8v1.8h-1.8zM464.0 1728.0h1.8v1.8h-1.8zM454.4 1716.8h1.8v1.8h-1.8zM452.8 1716.8h1.8v1.8h-1.8zM454.4 1742.4h1.8v1.8h-1.8zM457.6 1771.2h1.8v1.8h-1.8zM448.0 1726.4h1.8v1.8h-1.8zM457.6 1716.8h1.8v1.8h-1.8zM456.0 1731.2h1.8v1.8h-1.8zM446.4 1740.8h1.8v1.8h-1.8zM446.4 1745.6h1.8v1.8h-1.8zM456.0 1723.2h1.8v1.8h-1.8zM456.0 1715.2h1.8v1.8h-1.8zM459.2 1774.4h1.8v1.8h-1.8zM449.6 1760.0h1.8v1.8h-1.8zM465.6 1729.6h1.8v1.8h-1.8zM454.4 1736.0h1.8v1.8h-1.8zM452.8 1763.2h1.8v1.8h-1.8zM449.6 1779.2h1.8v1.8h-1.8zM449.6 1753.6h1.8v1.8h-1.8zM449.6 1756.8h1.8v1.8h-1.8zM446.4 1752.0h1.8v1.8h-1.8zM459.2 1740.8h1.8v1.8h-1.8zM459.2 1716.8h1.8v1.8h-1.8zM452.8 1774.4h1.8v1.8h-1.8zM456.0 1753.6h1.8v1.8h-1.8zM452.8 1755.2h1.8v1.8h-1.8zM462.4 1726.4h1.8v1.8h-1.8zM456.0 1752.0h1.8v1.8h-1.8zM456.0 1756.8h1.8v1.8h-1.8z" fill="#a0f000"/>
<path d="M454.4 1760.0h1.8v1.8h-1.8zM459.2 1748.8h1.8v1.8h-1.8zM452.8 1748.8h1.8v1.8h-1.8zM457.6 1753.6h1.8v1.8h-1.8zM451.2 1726.4h1.8v1.8h-1.8zM459.2 1742.4h1.8v1.8h-1.8zM464.0 1736.0h1.8v1.8h-1.8zM446.4 1750.4h1.8v1.8h-1.8zM451.2 1756.8h1.8v1.8h-1.8zM459.2 1729.6h1.8v1.8h-1.8zM457.6 1718.4h1.8v1.8h-1.8zM452.8 1724.8h1.8v1.8h-1.8zM462.4 1731.2h1.8v1.8h-1.8zM460.8 1728.0h1.8v1.8h-1.8zM452.8 1756.8h1.8v1.8h-1.8zM465.6 1736.0h1.8v1.8h-1.8zM465.6 1745.6h1.8v1.8h-1.8zM449.6 1748.8h1.8v1.8h-1.8zM451.2 1761.6h1.8v1.8h-1.8zM462.4 1742.4h1.8v1.8h-1.8zM446.4 1744.0h1.8v1.8h-1.8zM456.0 1708.8h1.8v1.8h-1.8zM448.0 1753.6h1.8v1.8h-1.8zM448.0 1740.8h1.8v1.8h-1.8zM460.8 1744.0h1.8v1.8h-1.8zM452.8 1758.4h1.8v1.8h-1.8zM456.0 1750.4h1.8v1.8h-1.8zM451.2 1755.2h1.8v1.8h-1.8zM451.2 1745.6h1.8v1.8h-1.8zM451.2 1760.0h1.8v1.8h-1.8zM452.8 1744.0h1.8v1.8h-1.8zM457.6 1723.2h1.8v1.8h-1.8zM452.8 1723.2h1.8v1.8h-1.8zM449.6 1739.2h1.8v1.8h-1.8zM454.4 1744.0h1.8v1.8h-1.8zM460.8 1726.4h1.8v1.8h-1.8zM449.6 1758.4h1.8v1.8h-1.8zM449.6 1745.6h1.8v1.8h-1.8zM456.0 1718.4h1.8v1.8h-1.8zM448.0 1739.2h1.8v1.8h-1.8zM452.8 1772.8h1.8v1.8h-1.8zM454.4 1734.4h1.8v1.8h-1.8zM457.6 1748.8h1.8v1.8h-1.8zM460.8 1752.0h1.8v1.8h-1.8zM456.0 1772.8h1.8v1.8h-1.8zM448.0 1756.8h1.8v1.8h-1.8z" fill="#f0e000"/>
<path d="M449.6 1750.4h1.8v1.8h-1.8zM451.2 1739.2h1.8v1.8h-1.8zM451.2 1728.0h1.8v1.8h-1.8zM451.2 1742.4h1.8v1.8h-1.8zM452.8 1726.4h1.8v1.8h-1.8zM457.6 1747.2h1.8v1.8h-1.8zM451.2 1748.8h1.8v1.8h-1.8zM454.4 1750.4h1.8v1.8h-1.8zM451.2 1734.4h1.8v1.8h-1.8zM449.6 1729.6h1.8v1.8h-1.8zM451.2 1736.0h1.8v1.8h-1.8zM449.6 1747.2h1.8v1.8h-1.8zM460.8 1745.6h1.8v1.8h-1.8zM448.0 1748.8h1.8v1.8h-1.8zM451.2 1771.2h1.8v1.8h-1.8zM448.0 1745.6h1.8v1.8h-1.8zM449.6 1732.8h1.8v1.8h-1.8zM452.8 1734.4h1.8v1.8h-1.8zM451.2 1744.0h1.8v1.8h-1.8zM460.8 1739.2h1.8v1.8h-1.8zM460.8 1742.4h1.8v1.8h-1.8z" fill="#ff8000"/>
<path d="M449.6 1740.8h1.8v1.8h-1.8zM451.2 1750.4h1.8v1.8h-1.8zM448.0 1742.4h1.8v1.8h-1.8zM451.2 1752.0h1.8v1.8h-1.8zM459.2 1745.6h1.8v1.8h-1.8zM451.2 1753.6h1.8v1.8h-1.8zM456.0 1745.6h1.8v1.8h-1.8zM451.2 1747.2h1.8v1.8h-1.8zM452.8 1745.6h1.8v1.8h-1.8zM452.8 1713.6h1.8v1.8h-1.8z" fill="#ff1000"/>
<path d="M438.4,1632.2 L612.9,1538.6 L561.1,1732.9 L472.9,1792 L444.1,1788.5 L425.9,1786.2 Z" fill="none" stroke="#2030c0" stroke-width="2"/>
<text x="424.08" y="1545.90" font-family="'Liberation Sans', Arial, sans-serif" font-size="20.95" font-weight="normal" fill="#2030c0" textLength="122.47" lengthAdjust="spacingAndGlyphs" xml:space="preserve" >P1(91,54 %)</text>
<rect x="265.8" y="1526.2" width="414.90000000000003" height="416.0" fill="none" stroke="#000" stroke-width="1.8"/>
<line x1="254.60" y1="1526.20" x2="265.80" y2="1526.20" stroke="#000" stroke-width="1.8" />
<line x1="257.90" y1="1937.74" x2="265.80" y2="1937.74" stroke="#000" stroke-width="1.8" />
<line x1="257.90" y1="1929.51" x2="265.80" y2="1929.51" stroke="#000" stroke-width="1.8" />
<line x1="257.90" y1="1922.55" x2="265.80" y2="1922.55" stroke="#000" stroke-width="1.8" />
<line x1="257.90" y1="1916.52" x2="265.80" y2="1916.52" stroke="#000" stroke-width="1.8" />
<line x1="257.90" y1="1911.21" x2="265.80" y2="1911.21" stroke="#000" stroke-width="1.8" />
<line x1="254.60" y1="1906.45" x2="265.80" y2="1906.45" stroke="#000" stroke-width="1.8" />
<line x1="257.90" y1="1875.16" x2="265.80" y2="1875.16" stroke="#000" stroke-width="1.8" />
<line x1="257.90" y1="1856.85" x2="265.80" y2="1856.85" stroke="#000" stroke-width="1.8" />
<line x1="257.90" y1="1843.87" x2="265.80" y2="1843.87" stroke="#000" stroke-width="1.8" />
<line x1="257.90" y1="1833.79" x2="265.80" y2="1833.79" stroke="#000" stroke-width="1.8" />
<line x1="257.90" y1="1825.56" x2="265.80" y2="1825.56" stroke="#000" stroke-width="1.8" />
<line x1="257.90" y1="1818.60" x2="265.80" y2="1818.60" stroke="#000" stroke-width="1.8" />
<line x1="257.90" y1="1812.57" x2="265.80" y2="1812.57" stroke="#000" stroke-width="1.8" />
<line x1="257.90" y1="1807.26" x2="265.80" y2="1807.26" stroke="#000" stroke-width="1.8" />
<line x1="254.60" y1="1802.50" x2="265.80" y2="1802.50" stroke="#000" stroke-width="1.8" />
<line x1="257.90" y1="1771.21" x2="265.80" y2="1771.21" stroke="#000" stroke-width="1.8" />
<line x1="257.90" y1="1752.90" x2="265.80" y2="1752.90" stroke="#000" stroke-width="1.8" />
<line x1="257.90" y1="1739.92" x2="265.80" y2="1739.92" stroke="#000" stroke-width="1.8" />
<line x1="257.90" y1="1729.84" x2="265.80" y2="1729.84" stroke="#000" stroke-width="1.8" />
<line x1="257.90" y1="1721.61" x2="265.80" y2="1721.61" stroke="#000" stroke-width="1.8" />
<line x1="257.90" y1="1714.65" x2="265.80" y2="1714.65" stroke="#000" stroke-width="1.8" />
<line x1="257.90" y1="1708.62" x2="265.80" y2="1708.62" stroke="#000" stroke-width="1.8" />
<line x1="257.90" y1="1703.31" x2="265.80" y2="1703.31" stroke="#000" stroke-width="1.8" />
<line x1="254.60" y1="1698.55" x2="265.80" y2="1698.55" stroke="#000" stroke-width="1.8" />
<line x1="257.90" y1="1667.26" x2="265.80" y2="1667.26" stroke="#000" stroke-width="1.8" />
<line x1="257.90" y1="1648.95" x2="265.80" y2="1648.95" stroke="#000" stroke-width="1.8" />
<line x1="257.90" y1="1635.97" x2="265.80" y2="1635.97" stroke="#000" stroke-width="1.8" />
<line x1="257.90" y1="1625.89" x2="265.80" y2="1625.89" stroke="#000" stroke-width="1.8" />
<line x1="257.90" y1="1617.66" x2="265.80" y2="1617.66" stroke="#000" stroke-width="1.8" />
<line x1="257.90" y1="1610.70" x2="265.80" y2="1610.70" stroke="#000" stroke-width="1.8" />
<line x1="257.90" y1="1604.67" x2="265.80" y2="1604.67" stroke="#000" stroke-width="1.8" />
<line x1="257.90" y1="1599.36" x2="265.80" y2="1599.36" stroke="#000" stroke-width="1.8" />
<line x1="254.60" y1="1594.60" x2="265.80" y2="1594.60" stroke="#000" stroke-width="1.8" />
<line x1="257.90" y1="1563.31" x2="265.80" y2="1563.31" stroke="#000" stroke-width="1.8" />
<line x1="257.90" y1="1545.00" x2="265.80" y2="1545.00" stroke="#000" stroke-width="1.8" />
<line x1="257.90" y1="1532.02" x2="265.80" y2="1532.02" stroke="#000" stroke-width="1.8" />
<line x1="254.60" y1="1942.20" x2="265.80" y2="1942.20" stroke="#000" stroke-width="1.8" />
<line x1="265.80" y1="1942.20" x2="265.80" y2="1953.80" stroke="#000" stroke-width="1.8" />
<line x1="680.70" y1="1942.20" x2="680.70" y2="1953.80" stroke="#000" stroke-width="1.8" />
<line x1="273.85" y1="1942.20" x2="273.85" y2="1949.50" stroke="#000" stroke-width="1.8" />
<line x1="292.13" y1="1942.20" x2="292.13" y2="1949.50" stroke="#000" stroke-width="1.8" />
<line x1="305.09" y1="1942.20" x2="305.09" y2="1949.50" stroke="#000" stroke-width="1.8" />
<line x1="315.15" y1="1942.20" x2="315.15" y2="1949.50" stroke="#000" stroke-width="1.8" />
<line x1="323.37" y1="1942.20" x2="323.37" y2="1949.50" stroke="#000" stroke-width="1.8" />
<line x1="330.32" y1="1942.20" x2="330.32" y2="1949.50" stroke="#000" stroke-width="1.8" />
<line x1="336.34" y1="1942.20" x2="336.34" y2="1949.50" stroke="#000" stroke-width="1.8" />
<line x1="341.65" y1="1942.20" x2="341.65" y2="1949.50" stroke="#000" stroke-width="1.8" />
<line x1="346.40" y1="1942.20" x2="346.40" y2="1953.80" stroke="#000" stroke-width="1.8" />
<line x1="377.65" y1="1942.20" x2="377.65" y2="1949.50" stroke="#000" stroke-width="1.8" />
<line x1="395.93" y1="1942.20" x2="395.93" y2="1949.50" stroke="#000" stroke-width="1.8" />
<line x1="408.89" y1="1942.20" x2="408.89" y2="1949.50" stroke="#000" stroke-width="1.8" />
<line x1="418.95" y1="1942.20" x2="418.95" y2="1949.50" stroke="#000" stroke-width="1.8" />
<line x1="427.17" y1="1942.20" x2="427.17" y2="1949.50" stroke="#000" stroke-width="1.8" />
<line x1="434.12" y1="1942.20" x2="434.12" y2="1949.50" stroke="#000" stroke-width="1.8" />
<line x1="440.14" y1="1942.20" x2="440.14" y2="1949.50" stroke="#000" stroke-width="1.8" />
<line x1="445.45" y1="1942.20" x2="445.45" y2="1949.50" stroke="#000" stroke-width="1.8" />
<line x1="450.20" y1="1942.20" x2="450.20" y2="1953.80" stroke="#000" stroke-width="1.8" />
<line x1="481.45" y1="1942.20" x2="481.45" y2="1949.50" stroke="#000" stroke-width="1.8" />
<line x1="499.73" y1="1942.20" x2="499.73" y2="1949.50" stroke="#000" stroke-width="1.8" />
<line x1="512.69" y1="1942.20" x2="512.69" y2="1949.50" stroke="#000" stroke-width="1.8" />
<line x1="522.75" y1="1942.20" x2="522.75" y2="1949.50" stroke="#000" stroke-width="1.8" />
<line x1="530.97" y1="1942.20" x2="530.97" y2="1949.50" stroke="#000" stroke-width="1.8" />
<line x1="537.92" y1="1942.20" x2="537.92" y2="1949.50" stroke="#000" stroke-width="1.8" />
<line x1="543.94" y1="1942.20" x2="543.94" y2="1949.50" stroke="#000" stroke-width="1.8" />
<line x1="549.25" y1="1942.20" x2="549.25" y2="1949.50" stroke="#000" stroke-width="1.8" />
<line x1="554.00" y1="1942.20" x2="554.00" y2="1953.80" stroke="#000" stroke-width="1.8" />
<line x1="585.25" y1="1942.20" x2="585.25" y2="1949.50" stroke="#000" stroke-width="1.8" />
<line x1="603.53" y1="1942.20" x2="603.53" y2="1949.50" stroke="#000" stroke-width="1.8" />
<line x1="616.49" y1="1942.20" x2="616.49" y2="1949.50" stroke="#000" stroke-width="1.8" />
<line x1="626.55" y1="1942.20" x2="626.55" y2="1949.50" stroke="#000" stroke-width="1.8" />
<line x1="634.77" y1="1942.20" x2="634.77" y2="1949.50" stroke="#000" stroke-width="1.8" />
<line x1="641.72" y1="1942.20" x2="641.72" y2="1949.50" stroke="#000" stroke-width="1.8" />
<line x1="647.74" y1="1942.20" x2="647.74" y2="1949.50" stroke="#000" stroke-width="1.8" />
<line x1="653.05" y1="1942.20" x2="653.05" y2="1949.50" stroke="#000" stroke-width="1.8" />
<line x1="657.80" y1="1942.20" x2="657.80" y2="1953.80" stroke="#000" stroke-width="1.8" />
<text x="331.87" y="1978.60" font-family="'Liberation Sans', Arial, sans-serif" font-size="21.79" font-weight="normal" fill="#000" textLength="22.64" lengthAdjust="spacingAndGlyphs" xml:space="preserve" >10</text>
<text x="354.87" y="1969.80" font-family="'Liberation Sans', Arial, sans-serif" font-size="14.48" font-weight="normal" fill="#000">4</text>
<text x="435.67" y="1978.60" font-family="'Liberation Sans', Arial, sans-serif" font-size="21.79" font-weight="normal" fill="#000" textLength="22.64" lengthAdjust="spacingAndGlyphs" xml:space="preserve" >10</text>
<text x="458.42" y="1969.80" font-family="'Liberation Sans', Arial, sans-serif" font-size="14.48" font-weight="normal" fill="#000">5</text>
<text x="539.47" y="1978.60" font-family="'Liberation Sans', Arial, sans-serif" font-size="21.79" font-weight="normal" fill="#000" textLength="22.64" lengthAdjust="spacingAndGlyphs" xml:space="preserve" >10</text>
<text x="562.08" y="1969.80" font-family="'Liberation Sans', Arial, sans-serif" font-size="14.48" font-weight="normal" fill="#000">6</text>
<text x="643.27" y="1978.60" font-family="'Liberation Sans', Arial, sans-serif" font-size="21.79" font-weight="normal" fill="#000" textLength="22.64" lengthAdjust="spacingAndGlyphs" xml:space="preserve" >10</text>
<text x="665.88" y="1969.80" font-family="'Liberation Sans', Arial, sans-serif" font-size="14.48" font-weight="normal" fill="#000">7</text>
<text transform="translate(244.40,1918.98) rotate(-90)" font-family="'Liberation Sans', Arial, sans-serif" font-size="22.65" font-weight="normal" fill="#000" textLength="24.20" lengthAdjust="spacingAndGlyphs" xml:space="preserve" >10</text>
<text transform="translate(234.50,1894.97) rotate(-90)" font-family="'Liberation Sans', Arial, sans-serif" font-size="18.35" font-weight="normal">2</text>
<text transform="translate(244.40,1815.03) rotate(-90)" font-family="'Liberation Sans', Arial, sans-serif" font-size="22.65" font-weight="normal" fill="#000" textLength="24.20" lengthAdjust="spacingAndGlyphs" xml:space="preserve" >10</text>
<text transform="translate(234.50,1790.79) rotate(-90)" font-family="'Liberation Sans', Arial, sans-serif" font-size="18.35" font-weight="normal">3</text>
<text transform="translate(244.40,1711.08) rotate(-90)" font-family="'Liberation Sans', Arial, sans-serif" font-size="22.65" font-weight="normal" fill="#000" textLength="24.20" lengthAdjust="spacingAndGlyphs" xml:space="preserve" >10</text>
<text transform="translate(234.50,1686.56) rotate(-90)" font-family="'Liberation Sans', Arial, sans-serif" font-size="18.35" font-weight="normal">4</text>
<text transform="translate(244.40,1607.13) rotate(-90)" font-family="'Liberation Sans', Arial, sans-serif" font-size="22.65" font-weight="normal" fill="#000" textLength="24.20" lengthAdjust="spacingAndGlyphs" xml:space="preserve" >10</text>
<text transform="translate(234.50,1582.93) rotate(-90)" font-family="'Liberation Sans', Arial, sans-serif" font-size="18.35" font-weight="normal">5</text>
<text transform="translate(215.70,1765.30) rotate(-90)" font-family="'Liberation Sans', Arial, sans-serif" font-size="22.25" font-weight="normal" fill="#000" textLength="66.71" lengthAdjust="spacingAndGlyphs" xml:space="preserve" >FSC-H</text>
<text x="409.89" y="2004.80" font-family="'Liberation Sans', Arial, sans-serif" font-size="23.27" font-weight="normal" fill="#000" textLength="128.62" lengthAdjust="spacingAndGlyphs" xml:space="preserve" >Violet SSC-H</text>
<rect x="888.1" y="1524.4" width="417.4" height="417.0" fill="none" stroke="#000" stroke-width="1.8"/>
<g clip-path="url(#pc2)">
<path d="M889.0,1941.4H890.5V1941.4H892.0V1941.4H893.5V1941.4H895.0V1941.4H896.5V1941.4H898.0V1941.4H899.5V1941.4H901.0V1941.4H902.5V1940.4H904.0V1940.0H905.5V1939.5H907.0V1941.4H908.5V1940.7H910.0V1938.0H911.5V1938.2H913.0V1936.9H914.5V1937.5H916.0V1939.4H917.5V1936.9H919.0V1937.3H920.5V1937.6H922.0V1938.5H923.5V1937.4H925.0V1937.3H926.5V1935.9H928.0V1936.6H929.5V1934.5H931.0V1937.3H932.5V1934.9H934.0V1934.1H935.5V1935.4H937.0V1935.3H938.5V1930.9H940.0V1930.9H941.5V1930.3H943.0V1924.9H944.5V1923.3H946.0V1916.8H947.5V1915.1H949.0V1908.5H950.5V1901.5H952.0V1896.8H953.5V1879.8H955.0V1876.4H956.5V1859.8H958.0V1850.9H959.5V1828.6H961.0V1812.3H962.5V1797.1H964.0V1779.6H965.5V1749.2H967.0V1730.0H968.5V1733.7H970.0V1698.0H971.5V1710.1H973.0V1687.7H974.5V1667.9H976.0V1648.5H977.5V1643.4H979.0V1623.6H980.5V1611.9H982.0V1616.4H983.5V1612.4H985.0V1595.1H986.5V1588.8H988.0V1599.9H989.5V1600.0H991.0V1601.3H992.5V1614.3H994.0V1629.8H995.5V1650.0H997.0V1646.6H998.5V1659.6H1000.0V1666.0H1001.5V1668.7H1003.0V1676.6H1004.5V1680.7H1006.0V1707.9H1007.5V1722.3H1009.0V1732.0H1010.5V1755.1H1012.0V1753.1H1013.5V1766.2H1015.0V1778.3H1016.5V1794.3H1018.0V1798.7H1019.5V1806.8H1021.0V1817.3H1022.5V1829.1H1024.0V1844.2H1025.5V1835.6H1027.0V1849.9H1028.5V1858.5H1030.0V1855.4H1031.5V1864.3H1033.0V1878.8H1034.5V1878.5H1036.0V1882.3H1037.5V1879.9H1039.0V1895.3H1040.5V1892.0H1042.0V1894.1H1043.5V1890.3H1045.0V1902.2H1046.5V1911.2H1048.0V1907.7H1049.5V1904.2H1051.0V1904.7H1052.5V1903.9H1054.0V1909.7H1055.5V1914.9H1057.0V1911.3H1058.5V1915.5H1060.0V1917.6H1061.5V1918.4H1063.0V1916.4H1064.5V1923.4H1066.0V1924.9H1067.5V1923.7H1069.0V1924.9H1070.5V1927.8H1072.0V1929.1H1073.5V1927.7H1075.0V1927.1H1076.5V1929.6H1078.0V1930.5H1079.5V1930.2H1081.0V1936.2H1082.5V1935.9H1084.0V1935.2H1085.5V1936.4H1087.0V1936.6H1088.5V1935.7H1090.0V1938.0H1091.5V1937.5H1093.0V1939.8H1094.5V1939.1H1096.0V1937.4H1097.5V1939.6H1099.0V1939.1H1100.5V1939.1H1102.0V1940.2H1103.5V1939.7H1105.0V1940.2H1106.5V1940.2H1108.0V1941.4H1109.5V1941.4H1111.0V1941.4H1112.5V1941.4H1114.0V1941.4H1115.5V1941.4H1117.0V1941.4H1118.5V1941.4H1120.0V1941.4H1121.5V1941.4H1123.0V1941.4H1124.5V1941.4H1126.0V1941.4H1127.5V1941.4H1129.0V1941.4H1130.5V1941.4H1132.0V1941.4H1133.5V1941.4H1135.0V1941.4H1136.5V1941.4H1138.0V1941.4H1139.5V1941.4H1141.0V1941.4H1142.5V1941.4H1144.0V1941.4H1145.5V1941.4H1147.0V1941.4H1148.5V1941.4H1150.0V1941.4H1151.5V1941.4H1153.0V1941.4H1154.5V1941.4H1156.0V1941.4H1157.5V1941.4H1159.0V1941.4H1160.5V1941.4H1162.0V1941.4H1163.5V1941.4H1165.0V1941.4H1166.5V1941.4H1168.0V1941.4H1169.5V1941.4H1171.0V1941.4H1172.5V1941.4H1174.0V1941.4H1175.5V1941.4H1177.0V1941.4H1178.5V1941.4H1180.0V1941.4H1181.5V1941.4H1183.0V1941.4H1184.5V1941.4H1186.0V1941.4H1187.5V1941.4H1189.0V1941.4H1190.5V1941.4H1192.0V1941.4H1193.5V1941.4H1195.0V1941.4H1196.5V1941.4H1198.0V1941.4H1199.5V1941.4H1201.0V1941.4H1202.5V1941.4H1204.0V1941.4H1205.5V1941.4H1207.0V1941.4H1208.5V1941.4H1210.0V1941.4H1211.5V1941.4H1213.0V1941.4H1214.5V1941.4H1216.0V1941.4H1217.5V1941.4H1219.0V1941.4H1220.5V1941.4H1222.0V1941.4H1223.5V1941.4H1225.0V1941.4H1226.5V1941.4H1228.0V1941.4H1229.5V1941.4H1231.0V1941.4H1232.5V1941.4H1234.0V1941.4H1235.5V1941.4H1237.0V1941.4H1238.5V1941.4H1240.0V1941.4H1241.5V1941.4H1243.0V1941.4H1244.5V1941.4H1246.0V1941.4H1247.5V1941.4H1249.0V1941.4H1250.5V1941.4H1252.0V1941.4H1253.5V1941.4H1255.0V1941.4H1256.5V1941.4H1258.0V1941.4H1259.5V1941.4H1261.0V1941.4H1262.5V1941.4H1264.0V1941.4H1265.5V1941.4H1267.0V1941.4H1268.5V1941.4H1270.0V1941.4H1271.5V1941.4H1273.0V1941.4H1274.5V1941.4H1276.0V1941.4H1277.5V1941.4H1279.0V1941.4H1280.5V1941.4H1282.0V1941.4H1283.5V1941.4H1285.0V1941.4H1286.5V1941.4H1288.0V1941.4H1289.5V1941.4H1291.0V1941.4H1292.5V1941.4H1294.0V1941.4H1295.5V1941.4H1297.0V1941.4H1298.5V1941.4H1300.0V1941.4H1301.5V1941.4H1303.0V1941.4" fill="none" stroke="#00f000" stroke-width="1.6"/>
<path d="M889.0,1941.4H890.5V1941.4H892.0V1941.4H893.5V1941.4H895.0V1941.4H896.5V1941.4H898.0V1941.4H899.5V1941.4H901.0V1941.4H902.5V1941.4H904.0V1941.4H905.5V1941.4H907.0V1941.4H908.5V1941.4H910.0V1941.4H911.5V1941.4H913.0V1941.4H914.5V1941.4H916.0V1941.4H917.5V1941.4H919.0V1941.4H920.5V1941.4H922.0V1941.4H923.5V1941.4H925.0V1941.4H926.5V1941.4H928.0V1941.4H929.5V1941.4H931.0V1941.4H932.5V1941.4H934.0V1941.4H935.5V1941.4H937.0V1941.4H938.5V1941.4H940.0V1941.4H941.5V1941.4H943.0V1941.4H944.5V1941.4H946.0V1941.4H947.5V1941.4H949.0V1941.4H950.5V1941.4H952.0V1941.4H953.5V1941.4H955.0V1941.4H956.5V1941.4H958.0V1941.4H959.5V1941.4H961.0V1941.4H962.5V1941.4H964.0V1941.4H965.5V1941.4H967.0V1941.4H968.5V1941.4H970.0V1941.4H971.5V1941.4H973.0V1941.4H974.5V1941.4H976.0V1941.4H977.5V1940.1H979.0V1941.4H980.5V1940.4H982.0V1939.5H983.5V1940.0H985.0V1940.1H986.5V1939.6H988.0V1939.3H989.5V1939.3H991.0V1938.4H992.5V1936.7H994.0V1937.7H995.5V1936.2H997.0V1936.9H998.5V1936.5H1000.0V1936.6H1001.5V1937.4H1003.0V1936.3H1004.5V1936.2H1006.0V1937.8H1007.5V1935.2H1009.0V1935.1H1010.5V1935.1H1012.0V1936.1H1013.5V1938.8H1015.0V1932.5H1016.5V1934.5H1018.0V1937.5H1019.5V1932.8H1021.0V1934.6H1022.5V1932.1H1024.0V1933.1H1025.5V1930.7H1027.0V1931.9H1028.5V1931.6H1030.0V1931.5H1031.5V1929.2H1033.0V1933.2H1034.5V1927.8H1036.0V1927.9H1037.5V1929.7H1039.0V1927.8H1040.5V1927.9H1042.0V1926.1H1043.5V1923.3H1045.0V1926.3H1046.5V1922.1H1048.0V1920.1H1049.5V1919.1H1051.0V1914.8H1052.5V1917.5H1054.0V1913.5H1055.5V1906.4H1057.0V1912.0H1058.5V1910.8H1060.0V1907.5H1061.5V1898.4H1063.0V1896.0H1064.5V1887.5H1066.0V1887.4H1067.5V1877.1H1069.0V1867.4H1070.5V1858.5H1072.0V1844.9H1073.5V1828.3H1075.0V1824.4H1076.5V1812.6H1078.0V1783.8H1079.5V1766.0H1081.0V1760.2H1082.5V1730.1H1084.0V1730.2H1085.5V1716.4H1087.0V1707.2H1088.5V1684.1H1090.0V1690.5H1091.5V1677.2H1093.0V1663.8H1094.5V1647.0H1096.0V1642.9H1097.5V1664.7H1099.0V1643.8H1100.5V1652.8H1102.0V1644.6H1103.5V1650.0H1105.0V1671.4H1106.5V1672.3H1108.0V1681.8H1109.5V1682.5H1111.0V1677.9H1112.5V1699.1H1114.0V1712.3H1115.5V1691.3H1117.0V1727.7H1118.5V1725.2H1120.0V1731.4H1121.5V1747.6H1123.0V1737.2H1124.5V1742.8H1126.0V1759.4H1127.5V1765.9H1129.0V1775.1H1130.5V1794.2H1132.0V1787.3H1133.5V1804.4H1135.0V1808.3H1136.5V1805.2H1138.0V1807.8H1139.5V1825.2H1141.0V1818.7H1142.5V1821.1H1144.0V1836.6H1145.5V1844.0H1147.0V1848.4H1148.5V1857.6H1150.0V1865.8H1151.5V1864.3H1153.0V1870.0H1154.5V1879.5H1156.0V1882.8H1157.5V1887.5H1159.0V1891.6H1160.5V1896.4H1162.0V1902.1H1163.5V1896.6H1165.0V1904.2H1166.5V1905.7H1168.0V1903.1H1169.5V1913.5H1171.0V1913.3H1172.5V1921.7H1174.0V1921.6H1175.5V1919.7H1177.0V1923.7H1178.5V1927.9H1180.0V1929.5H1181.5V1926.8H1183.0V1930.9H1184.5V1928.4H1186.0V1929.9H1187.5V1931.7H1189.0V1932.0H1190.5V1931.3H1192.0V1933.2H1193.5V1935.4H1195.0V1934.1H1196.5V1935.8H1198.0V1936.3H1199.5V1935.7H1201.0V1936.4H1202.5V1935.9H1204.0V1937.7H1205.5V1938.4H1207.0V1938.6H1208.5V1938.3H1210.0V1939.7H1211.5V1939.7H1213.0V1940.4H1214.5V1940.5H1216.0V1940.3H1217.5V1939.0H1219.0V1941.4H1220.5V1940.7H1222.0V1941.4H1223.5V1941.4H1225.0V1941.4H1226.5V1941.4H1228.0V1941.4H1229.5V1941.4H1231.0V1941.4H1232.5V1941.4H1234.0V1941.4H1235.5V1941.4H1237.0V1941.4H1238.5V1941.4H1240.0V1941.4H1241.5V1941.4H1243.0V1941.4H1244.5V1941.4H1246.0V1941.4H1247.5V1941.4H1249.0V1941.4H1250.5V1941.4H1252.0V1941.4H1253.5V1941.4H1255.0V1941.4H1256.5V1941.4H1258.0V1941.4H1259.5V1941.4H1261.0V1941.4H1262.5V1941.4H1264.0V1941.4H1265.5V1941.4H1267.0V1941.4H1268.5V1941.4H1270.0V1941.4H1271.5V1941.4H1273.0V1941.4H1274.5V1941.4H1276.0V1941.4H1277.5V1941.4H1279.0V1941.4H1280.5V1941.4H1282.0V1941.4H1283.5V1941.4H1285.0V1941.4H1286.5V1941.4H1288.0V1941.4H1289.5V1941.4H1291.0V1941.4H1292.5V1941.4H1294.0V1941.4H1295.5V1941.4H1297.0V1941.4H1298.5V1941.4H1300.0V1941.4H1301.5V1941.4H1303.0V1941.4" fill="none" stroke="#ff0000" stroke-width="1.6"/>
<line x1="889.50" y1="1941.40" x2="889.50" y2="1810.08" stroke="#ff0000" stroke-width="2" />
</g>
<rect x="888.1" y="1524.4" width="417.4" height="417.0" fill="none" stroke="#000" stroke-width="1.8"/>
<line x1="878.10" y1="1941.40" x2="888.10" y2="1941.40" stroke="#000" stroke-width="1.8" />
<line x1="880.60" y1="1910.50" x2="888.10" y2="1910.50" stroke="#000" stroke-width="1.8" />
<line x1="880.60" y1="1879.60" x2="888.10" y2="1879.60" stroke="#000" stroke-width="1.8" />
<line x1="880.60" y1="1848.70" x2="888.10" y2="1848.70" stroke="#000" stroke-width="1.8" />
<line x1="880.60" y1="1817.80" x2="888.10" y2="1817.80" stroke="#000" stroke-width="1.8" />
<line x1="878.10" y1="1786.90" x2="888.10" y2="1786.90" stroke="#000" stroke-width="1.8" />
<line x1="880.60" y1="1756.00" x2="888.10" y2="1756.00" stroke="#000" stroke-width="1.8" />
<line x1="880.60" y1="1725.10" x2="888.10" y2="1725.10" stroke="#000" stroke-width="1.8" />
<line x1="880.60" y1="1694.20" x2="888.10" y2="1694.20" stroke="#000" stroke-width="1.8" />
<line x1="880.60" y1="1663.30" x2="888.10" y2="1663.30" stroke="#000" stroke-width="1.8" />
<line x1="878.10" y1="1632.40" x2="888.10" y2="1632.40" stroke="#000" stroke-width="1.8" />
<line x1="880.60" y1="1601.50" x2="888.10" y2="1601.50" stroke="#000" stroke-width="1.8" />
<line x1="880.60" y1="1570.60" x2="888.10" y2="1570.60" stroke="#000" stroke-width="1.8" />
<line x1="880.60" y1="1539.70" x2="888.10" y2="1539.70" stroke="#000" stroke-width="1.8" />
<line x1="878.10" y1="1524.50" x2="888.10" y2="1524.50" stroke="#000" stroke-width="0" />
<line x1="888.10" y1="1941.40" x2="888.10" y2="1952.50" stroke="#000" stroke-width="1.8" />
<line x1="917.00" y1="1941.40" x2="917.00" y2="1952.50" stroke="#000" stroke-width="1.8" />
<line x1="983.70" y1="1941.40" x2="983.70" y2="1952.50" stroke="#000" stroke-width="1.8" />
<line x1="1059.30" y1="1941.40" x2="1059.30" y2="1952.50" stroke="#000" stroke-width="1.8" />
<line x1="1135.10" y1="1941.40" x2="1135.10" y2="1952.50" stroke="#000" stroke-width="1.8" />
<line x1="1210.80" y1="1941.40" x2="1210.80" y2="1952.50" stroke="#000" stroke-width="1.8" />
<line x1="1286.50" y1="1941.40" x2="1286.50" y2="1952.50" stroke="#000" stroke-width="1.8" />
<line x1="1305.50" y1="1941.40" x2="1305.50" y2="1952.50" stroke="#000" stroke-width="1.8" />
<line x1="896.00" y1="1941.40" x2="896.00" y2="1949.50" stroke="#000" stroke-width="1.8" />
<line x1="905.70" y1="1941.40" x2="905.70" y2="1949.50" stroke="#000" stroke-width="1.8" />
<line x1="929.50" y1="1941.40" x2="929.50" y2="1949.50" stroke="#000" stroke-width="1.8" />
<line x1="940.50" y1="1941.40" x2="940.50" y2="1949.50" stroke="#000" stroke-width="1.8" />
<line x1="949.40" y1="1941.40" x2="949.40" y2="1949.50" stroke="#000" stroke-width="1.8" />
<line x1="956.50" y1="1941.40" x2="956.50" y2="1949.50" stroke="#000" stroke-width="1.8" />
<line x1="962.10" y1="1941.40" x2="962.10" y2="1949.50" stroke="#000" stroke-width="1.8" />
<line x1="967.30" y1="1941.40" x2="967.30" y2="1949.50" stroke="#000" stroke-width="1.8" />
<line x1="972.00" y1="1941.40" x2="972.00" y2="1949.50" stroke="#000" stroke-width="1.8" />
<line x1="975.60" y1="1941.40" x2="975.60" y2="1949.50" stroke="#000" stroke-width="1.8" />
<line x1="978.60" y1="1941.40" x2="978.60" y2="1949.50" stroke="#000" stroke-width="1.8" />
<line x1="981.00" y1="1941.40" x2="981.00" y2="1949.50" stroke="#000" stroke-width="1.8" />
<line x1="1006.46" y1="1941.40" x2="1006.46" y2="1949.50" stroke="#000" stroke-width="1.8" />
<line x1="1019.77" y1="1941.40" x2="1019.77" y2="1949.50" stroke="#000" stroke-width="1.8" />
<line x1="1029.22" y1="1941.40" x2="1029.22" y2="1949.50" stroke="#000" stroke-width="1.8" />
<line x1="1036.54" y1="1941.40" x2="1036.54" y2="1949.50" stroke="#000" stroke-width="1.8" />
<line x1="1042.53" y1="1941.40" x2="1042.53" y2="1949.50" stroke="#000" stroke-width="1.8" />
<line x1="1047.59" y1="1941.40" x2="1047.59" y2="1949.50" stroke="#000" stroke-width="1.8" />
<line x1="1051.97" y1="1941.40" x2="1051.97" y2="1949.50" stroke="#000" stroke-width="1.8" />
<line x1="1055.84" y1="1941.40" x2="1055.84" y2="1949.50" stroke="#000" stroke-width="1.8" />
<line x1="1082.06" y1="1941.40" x2="1082.06" y2="1949.50" stroke="#000" stroke-width="1.8" />
<line x1="1095.37" y1="1941.40" x2="1095.37" y2="1949.50" stroke="#000" stroke-width="1.8" />
<line x1="1104.82" y1="1941.40" x2="1104.82" y2="1949.50" stroke="#000" stroke-width="1.8" />
<line x1="1112.14" y1="1941.40" x2="1112.14" y2="1949.50" stroke="#000" stroke-width="1.8" />
<line x1="1118.13" y1="1941.40" x2="1118.13" y2="1949.50" stroke="#000" stroke-width="1.8" />
<line x1="1123.19" y1="1941.40" x2="1123.19" y2="1949.50" stroke="#000" stroke-width="1.8" />
<line x1="1127.57" y1="1941.40" x2="1127.57" y2="1949.50" stroke="#000" stroke-width="1.8" />
<line x1="1131.44" y1="1941.40" x2="1131.44" y2="1949.50" stroke="#000" stroke-width="1.8" />
<line x1="1157.66" y1="1941.40" x2="1157.66" y2="1949.50" stroke="#000" stroke-width="1.8" />
<line x1="1170.97" y1="1941.40" x2="1170.97" y2="1949.50" stroke="#000" stroke-width="1.8" />
<line x1="1180.42" y1="1941.40" x2="1180.42" y2="1949.50" stroke="#000" stroke-width="1.8" />
<line x1="1187.74" y1="1941.40" x2="1187.74" y2="1949.50" stroke="#000" stroke-width="1.8" />
<line x1="1193.73" y1="1941.40" x2="1193.73" y2="1949.50" stroke="#000" stroke-width="1.8" />
<line x1="1198.79" y1="1941.40" x2="1198.79" y2="1949.50" stroke="#000" stroke-width="1.8" />
<line x1="1203.17" y1="1941.40" x2="1203.17" y2="1949.50" stroke="#000" stroke-width="1.8" />
<line x1="1207.04" y1="1941.40" x2="1207.04" y2="1949.50" stroke="#000" stroke-width="1.8" />
<line x1="1233.26" y1="1941.40" x2="1233.26" y2="1949.50" stroke="#000" stroke-width="1.8" />
<line x1="1246.57" y1="1941.40" x2="1246.57" y2="1949.50" stroke="#000" stroke-width="1.8" />
<line x1="1256.02" y1="1941.40" x2="1256.02" y2="1949.50" stroke="#000" stroke-width="1.8" />
<line x1="1263.34" y1="1941.40" x2="1263.34" y2="1949.50" stroke="#000" stroke-width="1.8" />
<line x1="1269.33" y1="1941.40" x2="1269.33" y2="1949.50" stroke="#000" stroke-width="1.8" />
<line x1="1274.39" y1="1941.40" x2="1274.39" y2="1949.50" stroke="#000" stroke-width="1.8" />
<line x1="1278.77" y1="1941.40" x2="1278.77" y2="1949.50" stroke="#000" stroke-width="1.8" />
<line x1="1282.64" y1="1941.40" x2="1282.64" y2="1949.50" stroke="#000" stroke-width="1.8" />
<text x="911.05" y="1978.70" font-family="'Liberation Sans', Arial, sans-serif" font-size="22.22" font-weight="normal" fill="#000" textLength="11.76" lengthAdjust="spacingAndGlyphs" xml:space="preserve" >0</text>
<text x="968.54" y="1978.70" font-family="'Liberation Sans', Arial, sans-serif" font-size="22.22" font-weight="normal" fill="#000" textLength="24.64" lengthAdjust="spacingAndGlyphs" xml:space="preserve" >10</text>
<text x="993.36" y="1969.20" font-family="'Liberation Sans', Arial, sans-serif" font-size="17.06" font-weight="normal" fill="#000">3</text>
<text x="1044.14" y="1978.70" font-family="'Liberation Sans', Arial, sans-serif" font-size="22.22" font-weight="normal" fill="#000" textLength="24.64" lengthAdjust="spacingAndGlyphs" xml:space="preserve" >10</text>
<text x="1069.22" y="1969.20" font-family="'Liberation Sans', Arial, sans-serif" font-size="17.06" font-weight="normal" fill="#000">4</text>
<text x="1119.74" y="1978.70" font-family="'Liberation Sans', Arial, sans-serif" font-size="22.22" font-weight="normal" fill="#000" textLength="24.64" lengthAdjust="spacingAndGlyphs" xml:space="preserve" >10</text>
<text x="1144.52" y="1969.20" font-family="'Liberation Sans', Arial, sans-serif" font-size="17.06" font-weight="normal" fill="#000">5</text>
<text x="1195.34" y="1978.70" font-family="'Liberation Sans', Arial, sans-serif" font-size="22.22" font-weight="normal" fill="#000" textLength="24.64" lengthAdjust="spacingAndGlyphs" xml:space="preserve" >10</text>
<text x="1219.95" y="1969.20" font-family="'Liberation Sans', Arial, sans-serif" font-size="17.06" font-weight="normal" fill="#000">6</text>
<text x="1270.94" y="1978.70" font-family="'Liberation Sans', Arial, sans-serif" font-size="22.22" font-weight="normal" fill="#000" textLength="24.64" lengthAdjust="spacingAndGlyphs" xml:space="preserve" >10</text>
<text x="1295.55" y="1969.20" font-family="'Liberation Sans', Arial, sans-serif" font-size="17.06" font-weight="normal" fill="#000">7</text>
<text transform="translate(867.10,1947.59) rotate(-90)" font-family="'Liberation Sans', Arial, sans-serif" font-size="22.65" font-weight="normal" fill="#000" textLength="12.35" lengthAdjust="spacingAndGlyphs" xml:space="preserve" >0</text>
<text transform="translate(867.10,1804.23) rotate(-90)" font-family="'Liberation Sans', Arial, sans-serif" font-size="22.65" font-weight="normal" fill="#000" textLength="34.43" lengthAdjust="spacingAndGlyphs" xml:space="preserve" >200</text>
<text transform="translate(867.10,1649.16) rotate(-90)" font-family="'Liberation Sans', Arial, sans-serif" font-size="22.65" font-weight="normal" fill="#000" textLength="33.84" lengthAdjust="spacingAndGlyphs" xml:space="preserve" >400</text>
<text transform="translate(838.90,1761.07) rotate(-90)" font-family="'Liberation Sans', Arial, sans-serif" font-size="23.08" font-weight="normal" fill="#000" textLength="57.36" lengthAdjust="spacingAndGlyphs" xml:space="preserve" >Count</text>
<text x="1030.94" y="2006.50" font-family="'Liberation Sans', Arial, sans-serif" font-size="23.66" font-weight="normal" fill="#000" textLength="130.59" lengthAdjust="spacingAndGlyphs" xml:space="preserve" >CFSE FITC-A</text>
<rect x="1324.00" y="1561.30" width="20.80" height="20.30" fill="#ff0000" stroke="#1a1a1a" stroke-width="1.4"/>
<rect x="1324.00" y="1589.10" width="20.80" height="20.20" fill="#00f000" stroke="#1a1a1a" stroke-width="1.4"/>
<text x="1358.47" y="1582.30" font-family="'Liberation Sans', Arial, sans-serif" font-size="31.11" font-weight="bold" fill="#000" textLength="75.35" lengthAdjust="spacingAndGlyphs" xml:space="preserve" >CFSE</text>
<text x="1358.50" y="1611.00" font-family="'Liberation Sans', Arial, sans-serif" font-size="31.11" font-weight="bold" fill="#000" textLength="56.28" lengthAdjust="spacingAndGlyphs" xml:space="preserve" >CNT</text>
<g clip-path="url(#pc3)">
<path d="M63.4,2416.3H64.6V2416.3H65.8V2416.3H67.0V2416.3H68.2V2416.3H69.4V2416.3H70.6V2416.3H71.8V2416.3H73.0V2414.7H74.2V2416.3H75.4V2413.2H76.6V2413.5H77.8V2415.2H79.0V2414.0H80.2V2414.1H81.4V2416.3H82.6V2413.9H83.8V2415.0H85.0V2414.7H86.2V2415.0H87.4V2414.8H88.6V2414.3H89.8V2414.2H91.0V2416.3H92.2V2414.5H93.4V2416.3H94.6V2416.3H95.8V2414.5H97.0V2413.2H98.2V2413.4H99.4V2414.7H100.6V2414.8H101.8V2414.9H103.0V2413.8H104.2V2412.9H105.4V2413.9H106.6V2413.1H107.8V2413.5H109.0V2412.1H110.2V2416.3H111.4V2416.3H112.6V2413.6H113.8V2412.4H115.0V2413.5H116.2V2412.2H117.4V2414.3H118.6V2414.2H119.8V2413.3H121.0V2410.8H122.2V2410.8H123.4V2412.8H124.6V2411.2H125.8V2412.3H127.0V2411.1H128.2V2412.8H129.4V2410.8H130.6V2411.8H131.8V2410.4H133.0V2411.3H134.2V2411.5H135.4V2409.5H136.6V2410.2H137.8V2409.2H139.0V2409.4H140.2V2406.6H141.4V2408.9H142.6V2404.7H143.8V2402.6H145.0V2405.7H146.2V2399.9H147.4V2398.3H148.6V2401.7H149.8V2405.9H151.0V2406.0H152.2V2400.1H153.4V2391.8H154.6V2393.3H155.8V2390.4H157.0V2391.8H158.2V2391.5H159.4V2385.0H160.6V2388.8H161.8V2382.6H163.0V2375.6H164.2V2373.8H165.4V2367.4H166.6V2368.4H167.8V2359.0H169.0V2354.4H170.2V2358.7H171.4V2347.6H172.6V2338.0H173.8V2321.0H175.0V2316.9H176.2V2310.4H177.4V2304.7H178.6V2294.5H179.8V2282.8H181.0V2285.7H182.2V2285.4H183.4V2255.8H184.6V2253.0H185.8V2238.6H187.0V2228.8H188.2V2226.5H189.4V2217.6H190.6V2177.0H191.8V2161.2H193.0V2152.2H194.2V2156.4H195.4V2151.5H196.6V2155.5H197.8V2145.6H199.0V2147.1H200.2V2147.9H201.4V2140.2H202.6V2123.6H203.8V2167.9H205.0V2139.4H206.2V2139.9H207.4V2158.9H208.6V2136.5H209.8V2135.0H211.0V2137.9H212.2V2139.8H213.4V2156.2H214.6V2124.2H215.8V2122.3H217.0V2137.3H218.2V2165.8H219.4V2165.6H220.6V2171.1H221.8V2191.0H223.0V2191.1H224.2V2188.8H225.4V2205.5H226.6V2225.9H227.8V2227.9H229.0V2220.2H230.2V2234.0H231.4V2241.6H232.6V2235.1H233.8V2258.1H235.0V2276.2H236.2V2281.4H237.4V2274.1H238.6V2308.6H239.8V2294.3H241.0V2305.4H242.2V2325.1H243.4V2334.3H244.6V2331.0H245.8V2346.5H247.0V2358.9H248.2V2352.9H249.4V2367.2H250.6V2371.9H251.8V2378.8H253.0V2385.7H254.2V2389.4H255.4V2394.6H256.6V2394.5H257.8V2395.8H259.0V2398.9H260.2V2401.7H261.4V2404.3H262.6V2406.9H263.8V2410.6H265.0V2408.7H266.2V2414.0H267.4V2413.3H268.6V2412.9H269.8V2416.3H271.0V2414.0H272.2V2416.3H273.4V2416.3H274.6V2416.3H275.8V2416.3H277.0V2416.3H278.2V2416.3H279.4V2416.3H280.6V2416.3H281.8V2416.3H283.0V2416.3H284.2V2416.3H285.4V2416.3H286.6V2416.3H287.8V2416.3H289.0V2416.3H290.2V2416.3H291.4V2416.3H292.6V2416.3H293.8V2416.3H295.0V2416.3H296.2V2416.3H297.4V2416.3H298.6V2416.3H299.8V2416.3H301.0V2416.3H302.2V2416.3H303.4V2416.3H304.6V2416.3H305.8V2416.3H307.0V2416.3H308.2V2416.3H309.4V2416.3H310.6V2416.3H311.8V2416.3H313.0V2416.3H314.2V2416.3H315.4V2416.3H316.6V2416.3H317.8V2416.3H319.0V2416.3H320.2V2416.3H321.4V2416.3H322.6V2416.3H323.8V2416.3H325.0V2416.3H326.2V2416.3H327.4V2416.3H328.6V2416.3H329.8V2416.3H331.0V2416.3H332.2V2416.3H333.4V2416.3H334.6V2416.3H335.8V2416.3H337.0V2416.3H338.2V2416.3H339.4V2416.3H340.6V2416.3H341.8V2416.3H343.0V2416.3H344.2V2416.3H345.4V2416.3H346.6V2416.3H347.8V2416.3H349.0V2416.3H350.2V2416.3H351.4V2416.3H352.6V2416.3H353.8V2416.3H355.0V2416.3H356.2V2416.3H357.4V2416.3H358.6V2416.3H359.8V2416.3H361.0V2416.3H362.2V2416.3H363.4V2416.3H364.6V2416.3H365.8V2416.3H367.0V2416.3H368.2V2416.3H369.4V2416.3H370.6V2416.3H371.8V2416.3H373.0V2416.3H374.2V2416.3H375.4V2416.3H376.6V2416.3H377.8V2416.3H379.0V2416.3H380.2V2416.3H381.4V2416.3H382.6V2416.3H383.8V2416.3H385.0V2416.3H386.2V2416.3H387.4V2416.3H388.6V2416.3H389.8V2416.3H391.0V2416.3H392.2V2416.3H393.4V2416.3H394.6V2416.3H395.8V2416.3H397.0V2416.3H398.2V2416.3H399.4V2416.3H400.6V2416.3H401.8V2416.3H403.0V2416.3H404.2V2416.3H405.4V2416.3H406.6V2416.3H407.8V2416.3H409.0V2416.3H410.2V2416.3H411.4V2416.3" fill="none" stroke="#00f000" stroke-width="1.6"/>
<path d="M63.4,2416.3H64.6V2416.3H65.8V2416.3H67.0V2416.3H68.2V2416.3H69.4V2416.3H70.6V2416.3H71.8V2416.3H73.0V2416.3H74.2V2416.3H75.4V2416.3H76.6V2416.3H77.8V2416.3H79.0V2416.3H80.2V2416.3H81.4V2416.3H82.6V2416.3H83.8V2416.3H85.0V2416.3H86.2V2416.3H87.4V2416.3H88.6V2416.3H89.8V2416.3H91.0V2416.3H92.2V2416.3H93.4V2416.3H94.6V2416.3H95.8V2416.3H97.0V2416.3H98.2V2416.3H99.4V2416.3H100.6V2416.3H101.8V2416.3H103.0V2416.3H104.2V2416.3H105.4V2416.3H106.6V2416.3H107.8V2416.3H109.0V2416.3H110.2V2416.3H111.4V2416.3H112.6V2416.3H113.8V2416.3H115.0V2416.3H116.2V2416.3H117.4V2416.3H118.6V2416.3H119.8V2416.3H121.0V2416.3H122.2V2416.3H123.4V2416.3H124.6V2416.3H125.8V2416.3H127.0V2416.3H128.2V2416.3H129.4V2416.3H130.6V2416.3H131.8V2416.3H133.0V2416.3H134.2V2416.3H135.4V2416.3H136.6V2416.3H137.8V2416.3H139.0V2416.3H140.2V2416.3H141.4V2416.3H142.6V2416.3H143.8V2416.3H145.0V2415.3H146.2V2415.1H147.4V2416.3H148.6V2414.9H149.8V2415.1H151.0V2416.3H152.2V2414.8H153.4V2415.1H154.6V2414.9H155.8V2416.3H157.0V2414.4H158.2V2412.8H159.4V2413.3H160.6V2413.6H161.8V2414.4H163.0V2412.4H164.2V2408.4H165.4V2411.5H166.6V2407.9H167.8V2410.3H169.0V2406.7H170.2V2409.5H171.4V2407.0H172.6V2405.7H173.8V2404.9H175.0V2407.7H176.2V2405.4H177.4V2405.9H178.6V2403.1H179.8V2402.8H181.0V2401.7H182.2V2398.3H183.4V2402.4H184.6V2400.8H185.8V2399.2H187.0V2396.1H188.2V2396.1H189.4V2389.4H190.6V2393.3H191.8V2380.2H193.0V2384.9H194.2V2378.1H195.4V2385.6H196.6V2379.7H197.8V2374.5H199.0V2363.3H200.2V2368.1H201.4V2357.7H202.6V2365.9H203.8V2350.6H205.0V2359.5H206.2V2362.8H207.4V2359.8H208.6V2342.1H209.8V2340.2H211.0V2332.6H212.2V2330.2H213.4V2321.4H214.6V2307.0H215.8V2314.1H217.0V2304.4H218.2V2303.4H219.4V2308.1H220.6V2289.4H221.8V2265.5H223.0V2276.8H224.2V2240.0H225.4V2247.4H226.6V2245.5H227.8V2238.1H229.0V2244.0H230.2V2240.9H231.4V2225.6H232.6V2242.7H233.8V2234.3H235.0V2242.6H236.2V2227.8H237.4V2196.5H238.6V2213.1H239.8V2232.5H241.0V2239.1H242.2V2213.5H243.4V2209.0H244.6V2219.2H245.8V2195.6H247.0V2201.8H248.2V2195.2H249.4V2191.3H250.6V2184.2H251.8V2198.3H253.0V2199.1H254.2V2174.6H255.4V2189.1H256.6V2199.0H257.8V2179.5H259.0V2186.3H260.2V2175.1H261.4V2140.6H262.6V2153.6H263.8V2176.5H265.0V2186.1H266.2V2189.1H267.4V2215.9H268.6V2218.2H269.8V2226.6H271.0V2232.0H272.2V2247.2H273.4V2268.8H274.6V2265.2H275.8V2271.2H277.0V2277.7H278.2V2277.5H279.4V2302.5H280.6V2301.6H281.8V2311.2H283.0V2319.1H284.2V2314.6H285.4V2329.7H286.6V2318.4H287.8V2353.4H289.0V2333.9H290.2V2350.5H291.4V2362.0H292.6V2359.4H293.8V2363.2H295.0V2362.4H296.2V2364.8H297.4V2378.0H298.6V2377.9H299.8V2379.7H301.0V2383.5H302.2V2388.7H303.4V2385.4H304.6V2392.4H305.8V2400.8H307.0V2397.5H308.2V2400.5H309.4V2402.0H310.6V2400.3H311.8V2402.3H313.0V2404.6H314.2V2405.8H315.4V2406.3H316.6V2410.5H317.8V2409.7H319.0V2408.1H320.2V2411.8H321.4V2412.0H322.6V2412.7H323.8V2410.6H325.0V2413.3H326.2V2411.7H327.4V2414.1H328.6V2413.8H329.8V2414.2H331.0V2415.2H332.2V2416.3H333.4V2414.2H334.6V2416.3H335.8V2414.9H337.0V2415.0H338.2V2416.3H339.4V2415.1H340.6V2416.3H341.8V2416.3H343.0V2416.3H344.2V2416.3H345.4V2416.3H346.6V2416.3H347.8V2416.3H349.0V2416.3H350.2V2416.3H351.4V2416.3H352.6V2416.3H353.8V2416.3H355.0V2416.3H356.2V2416.3H357.4V2416.3H358.6V2416.3H359.8V2416.3H361.0V2416.3H362.2V2416.3H363.4V2416.3H364.6V2416.3H365.8V2416.3H367.0V2416.3H368.2V2416.3H369.4V2416.3H370.6V2416.3H371.8V2416.3H373.0V2416.3H374.2V2416.3H375.4V2416.3H376.6V2416.3H377.8V2416.3H379.0V2416.3H380.2V2416.3H381.4V2416.3H382.6V2416.3H383.8V2416.3H385.0V2416.3H386.2V2416.3H387.4V2416.3H388.6V2416.3H389.8V2416.3H391.0V2416.3H392.2V2416.3H393.4V2416.3H394.6V2416.3H395.8V2416.3H397.0V2416.3H398.2V2416.3H399.4V2416.3H400.6V2416.3H401.8V2416.3H403.0V2416.3H404.2V2416.3H405.4V2416.3H406.6V2416.3H407.8V2416.3H409.0V2416.3H410.2V2416.3H411.4V2416.3" fill="none" stroke="#ff0000" stroke-width="1.6"/>
<line x1="63.40" y1="2416.30" x2="63.40" y2="2259.61" stroke="#00f000" stroke-width="1.6" />
<line x1="63.40" y1="2416.30" x2="63.40" y2="2253.35" stroke="#ff0000" stroke-width="1.6" />
</g>
<rect x="62.4" y="2066.2" width="350.3" height="350.10000000000036" fill="none" stroke="#000" stroke-width="1.6"/>
<line x1="52.60" y1="2416.30" x2="62.40" y2="2416.30" stroke="#000" stroke-width="1.6" />
<line x1="55.90" y1="2391.23" x2="62.40" y2="2391.23" stroke="#000" stroke-width="1.6" />
<line x1="55.90" y1="2366.16" x2="62.40" y2="2366.16" stroke="#000" stroke-width="1.6" />
<line x1="55.90" y1="2341.09" x2="62.40" y2="2341.09" stroke="#000" stroke-width="1.6" />
<line x1="55.90" y1="2316.02" x2="62.40" y2="2316.02" stroke="#000" stroke-width="1.6" />
<line x1="52.60" y1="2290.95" x2="62.40" y2="2290.95" stroke="#000" stroke-width="1.6" />
<line x1="55.90" y1="2265.88" x2="62.40" y2="2265.88" stroke="#000" stroke-width="1.6" />
<line x1="55.90" y1="2240.81" x2="62.40" y2="2240.81" stroke="#000" stroke-width="1.6" />
<line x1="55.90" y1="2215.74" x2="62.40" y2="2215.74" stroke="#000" stroke-width="1.6" />
<line x1="55.90" y1="2190.67" x2="62.40" y2="2190.67" stroke="#000" stroke-width="1.6" />
<line x1="52.60" y1="2165.60" x2="62.40" y2="2165.60" stroke="#000" stroke-width="1.6" />
<line x1="55.90" y1="2140.53" x2="62.40" y2="2140.53" stroke="#000" stroke-width="1.6" />
<line x1="55.90" y1="2115.46" x2="62.40" y2="2115.46" stroke="#000" stroke-width="1.6" />
<line x1="55.90" y1="2090.39" x2="62.40" y2="2090.39" stroke="#000" stroke-width="1.6" />
<line x1="52.60" y1="2416.30" x2="62.40" y2="2416.30" stroke="#000" stroke-width="1.6" />
<text transform="translate(44.80,2420.97) rotate(-90)" font-family="'Liberation Sans', Arial, sans-serif" font-size="19.64" font-weight="normal" fill="#000" textLength="9.32" lengthAdjust="spacingAndGlyphs" xml:space="preserve" >0</text>
<text transform="translate(44.80,2305.86) rotate(-90)" font-family="'Liberation Sans', Arial, sans-serif" font-size="19.64" font-weight="normal" fill="#000" textLength="29.19" lengthAdjust="spacingAndGlyphs" xml:space="preserve" >100</text>
<text transform="translate(44.80,2180.06) rotate(-90)" font-family="'Liberation Sans', Arial, sans-serif" font-size="19.64" font-weight="normal" fill="#000" textLength="28.72" lengthAdjust="spacingAndGlyphs" xml:space="preserve" >200</text>
<text transform="translate(21.10,2264.90) rotate(-90)" font-family="'Liberation Sans', Arial, sans-serif" font-size="20.22" font-weight="normal" fill="#000" textLength="48.05" lengthAdjust="spacingAndGlyphs" xml:space="preserve" >Count</text>
<line x1="62.40" y1="2416.30" x2="62.40" y2="2425.80" stroke="#000" stroke-width="1.6" />
<line x1="107.30" y1="2416.30" x2="107.30" y2="2425.80" stroke="#000" stroke-width="1.6" />
<line x1="156.50" y1="2416.30" x2="156.50" y2="2425.80" stroke="#000" stroke-width="1.6" />
<line x1="205.70" y1="2416.30" x2="205.70" y2="2425.80" stroke="#000" stroke-width="1.6" />
<line x1="254.90" y1="2416.30" x2="254.90" y2="2425.80" stroke="#000" stroke-width="1.6" />
<line x1="304.10" y1="2416.30" x2="304.10" y2="2425.80" stroke="#000" stroke-width="1.6" />
<line x1="353.30" y1="2416.30" x2="353.30" y2="2425.80" stroke="#000" stroke-width="1.6" />
<line x1="402.50" y1="2416.30" x2="402.50" y2="2425.80" stroke="#000" stroke-width="1.6" />
<line x1="412.70" y1="2416.30" x2="412.70" y2="2425.80" stroke="#000" stroke-width="1.6" />
<line x1="72.91" y1="2416.30" x2="72.91" y2="2423.10" stroke="#000" stroke-width="1.6" />
<line x1="81.57" y1="2416.30" x2="81.57" y2="2423.10" stroke="#000" stroke-width="1.6" />
<line x1="87.72" y1="2416.30" x2="87.72" y2="2423.10" stroke="#000" stroke-width="1.6" />
<line x1="92.49" y1="2416.30" x2="92.49" y2="2423.10" stroke="#000" stroke-width="1.6" />
<line x1="96.39" y1="2416.30" x2="96.39" y2="2423.10" stroke="#000" stroke-width="1.6" />
<line x1="99.68" y1="2416.30" x2="99.68" y2="2423.10" stroke="#000" stroke-width="1.6" />
<line x1="102.53" y1="2416.30" x2="102.53" y2="2423.10" stroke="#000" stroke-width="1.6" />
<line x1="105.05" y1="2416.30" x2="105.05" y2="2423.10" stroke="#000" stroke-width="1.6" />
<line x1="122.11" y1="2416.30" x2="122.11" y2="2423.10" stroke="#000" stroke-width="1.6" />
<line x1="130.77" y1="2416.30" x2="130.77" y2="2423.10" stroke="#000" stroke-width="1.6" />
<line x1="136.92" y1="2416.30" x2="136.92" y2="2423.10" stroke="#000" stroke-width="1.6" />
<line x1="141.69" y1="2416.30" x2="141.69" y2="2423.10" stroke="#000" stroke-width="1.6" />
<line x1="145.59" y1="2416.30" x2="145.59" y2="2423.10" stroke="#000" stroke-width="1.6" />
<line x1="148.88" y1="2416.30" x2="148.88" y2="2423.10" stroke="#000" stroke-width="1.6" />
<line x1="151.73" y1="2416.30" x2="151.73" y2="2423.10" stroke="#000" stroke-width="1.6" />
<line x1="154.25" y1="2416.30" x2="154.25" y2="2423.10" stroke="#000" stroke-width="1.6" />
<line x1="171.31" y1="2416.30" x2="171.31" y2="2423.10" stroke="#000" stroke-width="1.6" />
<line x1="179.97" y1="2416.30" x2="179.97" y2="2423.10" stroke="#000" stroke-width="1.6" />
<line x1="186.12" y1="2416.30" x2="186.12" y2="2423.10" stroke="#000" stroke-width="1.6" />
<line x1="190.89" y1="2416.30" x2="190.89" y2="2423.10" stroke="#000" stroke-width="1.6" />
<line x1="194.79" y1="2416.30" x2="194.79" y2="2423.10" stroke="#000" stroke-width="1.6" />
<line x1="198.08" y1="2416.30" x2="198.08" y2="2423.10" stroke="#000" stroke-width="1.6" />
<line x1="200.93" y1="2416.30" x2="200.93" y2="2423.10" stroke="#000" stroke-width="1.6" />
<line x1="203.45" y1="2416.30" x2="203.45" y2="2423.10" stroke="#000" stroke-width="1.6" />
<line x1="220.51" y1="2416.30" x2="220.51" y2="2423.10" stroke="#000" stroke-width="1.6" />
<line x1="229.17" y1="2416.30" x2="229.17" y2="2423.10" stroke="#000" stroke-width="1.6" />
<line x1="235.32" y1="2416.30" x2="235.32" y2="2423.10" stroke="#000" stroke-width="1.6" />
<line x1="240.09" y1="2416.30" x2="240.09" y2="2423.10" stroke="#000" stroke-width="1.6" />
<line x1="243.99" y1="2416.30" x2="243.99" y2="2423.10" stroke="#000" stroke-width="1.6" />
<line x1="247.28" y1="2416.30" x2="247.28" y2="2423.10" stroke="#000" stroke-width="1.6" />
<line x1="250.13" y1="2416.30" x2="250.13" y2="2423.10" stroke="#000" stroke-width="1.6" />
<line x1="252.65" y1="2416.30" x2="252.65" y2="2423.10" stroke="#000" stroke-width="1.6" />
<line x1="269.71" y1="2416.30" x2="269.71" y2="2423.10" stroke="#000" stroke-width="1.6" />
<line x1="278.37" y1="2416.30" x2="278.37" y2="2423.10" stroke="#000" stroke-width="1.6" />
<line x1="284.52" y1="2416.30" x2="284.52" y2="2423.10" stroke="#000" stroke-width="1.6" />
<line x1="289.29" y1="2416.30" x2="289.29" y2="2423.10" stroke="#000" stroke-width="1.6" />
<line x1="293.19" y1="2416.30" x2="293.19" y2="2423.10" stroke="#000" stroke-width="1.6" />
<line x1="296.48" y1="2416.30" x2="296.48" y2="2423.10" stroke="#000" stroke-width="1.6" />
<line x1="299.33" y1="2416.30" x2="299.33" y2="2423.10" stroke="#000" stroke-width="1.6" />
<line x1="301.85" y1="2416.30" x2="301.85" y2="2423.10" stroke="#000" stroke-width="1.6" />
<line x1="318.91" y1="2416.30" x2="318.91" y2="2423.10" stroke="#000" stroke-width="1.6" />
<line x1="327.57" y1="2416.30" x2="327.57" y2="2423.10" stroke="#000" stroke-width="1.6" />
<line x1="333.72" y1="2416.30" x2="333.72" y2="2423.10" stroke="#000" stroke-width="1.6" />
<line x1="338.49" y1="2416.30" x2="338.49" y2="2423.10" stroke="#000" stroke-width="1.6" />
<line x1="342.39" y1="2416.30" x2="342.39" y2="2423.10" stroke="#000" stroke-width="1.6" />
<line x1="345.68" y1="2416.30" x2="345.68" y2="2423.10" stroke="#000" stroke-width="1.6" />
<line x1="348.53" y1="2416.30" x2="348.53" y2="2423.10" stroke="#000" stroke-width="1.6" />
<line x1="351.05" y1="2416.30" x2="351.05" y2="2423.10" stroke="#000" stroke-width="1.6" />
<line x1="368.11" y1="2416.30" x2="368.11" y2="2423.10" stroke="#000" stroke-width="1.6" />
<line x1="376.77" y1="2416.30" x2="376.77" y2="2423.10" stroke="#000" stroke-width="1.6" />
<line x1="382.92" y1="2416.30" x2="382.92" y2="2423.10" stroke="#000" stroke-width="1.6" />
<line x1="387.69" y1="2416.30" x2="387.69" y2="2423.10" stroke="#000" stroke-width="1.6" />
<line x1="391.59" y1="2416.30" x2="391.59" y2="2423.10" stroke="#000" stroke-width="1.6" />
<line x1="394.88" y1="2416.30" x2="394.88" y2="2423.10" stroke="#000" stroke-width="1.6" />
<line x1="397.73" y1="2416.30" x2="397.73" y2="2423.10" stroke="#000" stroke-width="1.6" />
<line x1="400.25" y1="2416.30" x2="400.25" y2="2423.10" stroke="#000" stroke-width="1.6" />
<text x="57.70" y="2447.60" font-family="'Liberation Sans', Arial, sans-serif" font-size="17.06" font-weight="normal" fill="#000" textLength="9.67" lengthAdjust="spacingAndGlyphs" xml:space="preserve" >0</text>
<text x="94.91" y="2447.60" font-family="'Liberation Sans', Arial, sans-serif" font-size="17.06" font-weight="normal" fill="#000" textLength="20.63" lengthAdjust="spacingAndGlyphs" xml:space="preserve" >10</text>
<text x="116.23" y="2439.90" font-family="'Liberation Sans', Arial, sans-serif" font-size="12.90" font-weight="normal" fill="#000">1</text>
<text x="144.11" y="2447.60" font-family="'Liberation Sans', Arial, sans-serif" font-size="17.06" font-weight="normal" fill="#000" textLength="20.63" lengthAdjust="spacingAndGlyphs" xml:space="preserve" >10</text>
<text x="165.75" y="2439.90" font-family="'Liberation Sans', Arial, sans-serif" font-size="12.90" font-weight="normal" fill="#000">2</text>
<text x="193.31" y="2447.60" font-family="'Liberation Sans', Arial, sans-serif" font-size="17.06" font-weight="normal" fill="#000" textLength="20.63" lengthAdjust="spacingAndGlyphs" xml:space="preserve" >10</text>
<text x="215.12" y="2439.90" font-family="'Liberation Sans', Arial, sans-serif" font-size="12.90" font-weight="normal" fill="#000">3</text>
<text x="242.51" y="2447.60" font-family="'Liberation Sans', Arial, sans-serif" font-size="17.06" font-weight="normal" fill="#000" textLength="20.63" lengthAdjust="spacingAndGlyphs" xml:space="preserve" >10</text>
<text x="264.51" y="2439.90" font-family="'Liberation Sans', Arial, sans-serif" font-size="12.90" font-weight="normal" fill="#000">4</text>
<text x="291.71" y="2447.60" font-family="'Liberation Sans', Arial, sans-serif" font-size="17.06" font-weight="normal" fill="#000" textLength="20.63" lengthAdjust="spacingAndGlyphs" xml:space="preserve" >10</text>
<text x="313.48" y="2439.90" font-family="'Liberation Sans', Arial, sans-serif" font-size="12.90" font-weight="normal" fill="#000">5</text>
<text x="340.91" y="2447.60" font-family="'Liberation Sans', Arial, sans-serif" font-size="17.06" font-weight="normal" fill="#000" textLength="20.63" lengthAdjust="spacingAndGlyphs" xml:space="preserve" >10</text>
<text x="362.55" y="2439.90" font-family="'Liberation Sans', Arial, sans-serif" font-size="12.90" font-weight="normal" fill="#000">6</text>
<text x="390.11" y="2447.60" font-family="'Liberation Sans', Arial, sans-serif" font-size="17.06" font-weight="normal" fill="#000" textLength="20.63" lengthAdjust="spacingAndGlyphs" xml:space="preserve" >10</text>
<text x="411.75" y="2439.90" font-family="'Liberation Sans', Arial, sans-serif" font-size="12.90" font-weight="normal" fill="#000">7</text>
<text x="183.00" y="2470.10" font-family="'Liberation Sans', Arial, sans-serif" font-size="17.06" font-weight="normal" fill="#000" textLength="108.62" lengthAdjust="spacingAndGlyphs" xml:space="preserve" >CD63 FITC-A</text>
<rect x="428.85" y="2097.65" width="16.50" height="16.40" fill="#ff0000" stroke="#1a1a1a" stroke-width="1.3"/>
<rect x="428.85" y="2120.45" width="16.50" height="16.60" fill="#00f000" stroke="#1a1a1a" stroke-width="1.3"/>
<text x="453.32" y="2110.90" font-family="'Liberation Sans', Arial, sans-serif" font-size="15.77" font-weight="bold" fill="#000" textLength="43.61" lengthAdjust="spacingAndGlyphs" xml:space="preserve" >CD63</text>
<text x="456.77" y="2134.30" font-family="'Liberation Sans', Arial, sans-serif" font-size="15.63" font-weight="bold" fill="#000" textLength="32.39" lengthAdjust="spacingAndGlyphs" xml:space="preserve" >CNT</text>
<g clip-path="url(#pc4)">
<path d="M585.8,2403.9H587.0V2397.9H588.2V2397.1H589.4V2393.7H590.6V2398.2H591.8V2388.2H593.0V2389.2H594.2V2390.4H595.4V2387.8H596.6V2384.2H597.8V2378.2H599.0V2366.0H600.2V2363.9H601.4V2367.7H602.6V2364.8H603.8V2349.0H605.0V2351.1H606.2V2357.1H607.4V2351.7H608.6V2351.4H609.8V2346.4H611.0V2340.4H612.2V2345.2H613.4V2339.1H614.6V2332.5H615.8V2325.8H617.0V2329.5H618.2V2321.7H619.4V2301.6H620.6V2311.1H621.8V2304.7H623.0V2296.9H624.2V2299.4H625.4V2293.2H626.6V2272.5H627.8V2269.3H629.0V2282.0H630.2V2266.2H631.4V2271.1H632.6V2265.7H633.8V2242.7H635.0V2219.1H636.2V2223.9H637.4V2199.5H638.6V2215.1H639.8V2194.9H641.0V2186.7H642.2V2178.0H643.4V2150.9H644.6V2136.1H645.8V2129.5H647.0V2143.8H648.2V2140.1H649.4V2139.4H650.6V2150.5H651.8V2165.4H653.0V2171.7H654.2V2147.7H655.4V2157.6H656.6V2171.5H657.8V2168.1H659.0V2175.0H660.2V2189.5H661.4V2199.8H662.6V2201.4H663.8V2221.3H665.0V2233.4H666.2V2254.4H667.4V2277.7H668.6V2298.6H669.8V2310.4H671.0V2324.7H672.2V2333.1H673.4V2345.1H674.6V2347.3H675.8V2354.1H677.0V2368.4H678.2V2374.0H679.4V2385.1H680.6V2386.5H681.8V2391.5H683.0V2390.7H684.2V2396.5H685.4V2400.7H686.6V2399.5H687.8V2405.9H689.0V2401.9H690.2V2401.5H691.4V2400.6H692.6V2407.9H693.8V2407.1H695.0V2411.9H696.2V2404.9H697.4V2408.5H698.6V2407.7H699.8V2411.7H701.0V2409.1H702.2V2410.1H703.4V2411.5H704.6V2411.6H705.8V2411.3H707.0V2411.3H708.2V2413.3H709.4V2407.2H710.6V2410.3H711.8V2410.4H713.0V2410.8H714.2V2411.9H715.4V2412.0H716.6V2411.2H717.8V2413.0H719.0V2410.8H720.2V2413.6H721.4V2411.8H722.6V2415.4H723.8V2413.9H725.0V2413.6H726.2V2413.0H727.4V2413.3H728.6V2416.7H729.8V2416.5H731.0V2414.0H732.2V2416.6H733.4V2418.1H734.6V2415.5H735.8V2416.4H737.0V2419.2H738.2V2418.0H739.4V2416.7H740.6V2418.4H741.8V2419.2H743.0V2419.2H744.2V2418.2H745.4V2419.2H746.6V2419.2H747.8V2419.2H749.0V2419.2H750.2V2419.2H751.4V2419.2H752.6V2419.2H753.8V2419.2H755.0V2419.2H756.2V2419.2H757.4V2419.2H758.6V2419.2H759.8V2419.2H761.0V2419.2H762.2V2419.2H763.4V2419.2H764.6V2419.2H765.8V2419.2H767.0V2419.2H768.2V2419.2H769.4V2419.2H770.6V2419.2H771.8V2419.2H773.0V2419.2H774.2V2419.2H775.4V2419.2H776.6V2419.2H777.8V2419.2H779.0V2419.2H780.2V2419.2H781.4V2419.2H782.6V2419.2H783.8V2419.2H785.0V2419.2H786.2V2419.2H787.4V2419.2H788.6V2419.2H789.8V2419.2H791.0V2419.2H792.2V2419.2H793.4V2419.2H794.6V2419.2H795.8V2419.2H797.0V2419.2H798.2V2419.2H799.4V2419.2H800.6V2419.2H801.8V2419.2H803.0V2419.2H804.2V2419.2H805.4V2419.2H806.6V2419.2H807.8V2419.2H809.0V2419.2H810.2V2419.2H811.4V2419.2H812.6V2419.2H813.8V2419.2H815.0V2419.2H816.2V2419.2H817.4V2419.2H818.6V2419.2H819.8V2419.2H821.0V2419.2H822.2V2419.2H823.4V2419.2H824.6V2419.2H825.8V2419.2H827.0V2419.2H828.2V2419.2H829.4V2419.2H830.6V2419.2H831.8V2419.2H833.0V2419.2H834.2V2419.2H835.4V2419.2H836.6V2419.2H837.8V2419.2H839.0V2419.2H840.2V2419.2H841.4V2419.2H842.6V2419.2H843.8V2419.2H845.0V2419.2H846.2V2419.2H847.4V2419.2H848.6V2419.2H849.8V2419.2H851.0V2419.2H852.2V2419.2H853.4V2419.2H854.6V2419.2H855.8V2419.2H857.0V2419.2H858.2V2419.2H859.4V2419.2H860.6V2419.2H861.8V2419.2H863.0V2419.2H864.2V2419.2H865.4V2419.2H866.6V2419.2H867.8V2419.2H869.0V2419.2H870.2V2419.2H871.4V2419.2H872.6V2419.2H873.8V2419.2H875.0V2419.2H876.2V2419.2H877.4V2419.2H878.6V2419.2H879.8V2419.2H881.0V2419.2H882.2V2419.2H883.4V2419.2H884.6V2419.2H885.8V2419.2H887.0V2419.2H888.2V2419.2H889.4V2419.2H890.6V2419.2H891.8V2419.2H893.0V2419.2H894.2V2419.2H895.4V2419.2H896.6V2419.2H897.8V2419.2H899.0V2419.2H900.2V2419.2H901.4V2419.2H902.6V2419.2H903.8V2419.2H905.0V2419.2H906.2V2419.2H907.4V2419.2H908.6V2419.2H909.8V2419.2H911.0V2419.2H912.2V2419.2H913.4V2419.2H914.6V2419.2H915.8V2419.2H917.0V2419.2H918.2V2419.2H919.4V2419.2H920.6V2419.2" fill="none" stroke="#00f000" stroke-width="1.6"/>
<path d="M585.8,2419.2H587.0V2419.2H588.2V2419.2H589.4V2419.2H590.6V2419.2H591.8V2419.2H593.0V2419.2H594.2V2419.2H595.4V2419.2H596.6V2419.2H597.8V2419.2H599.0V2419.2H600.2V2419.2H601.4V2419.2H602.6V2419.2H603.8V2419.2H605.0V2419.2H606.2V2419.2H607.4V2419.2H608.6V2419.2H609.8V2419.2H611.0V2419.2H612.2V2419.2H613.4V2419.2H614.6V2419.2H615.8V2419.2H617.0V2419.2H618.2V2419.2H619.4V2419.2H620.6V2419.2H621.8V2419.2H623.0V2419.2H624.2V2419.2H625.4V2419.2H626.6V2419.2H627.8V2419.2H629.0V2419.2H630.2V2419.2H631.4V2419.2H632.6V2419.2H633.8V2419.2H635.0V2419.2H636.2V2419.2H637.4V2419.2H638.6V2419.2H639.8V2419.2H641.0V2419.2H642.2V2419.2H643.4V2419.2H644.6V2419.2H645.8V2419.2H647.0V2419.2H648.2V2419.2H649.4V2419.2H650.6V2419.2H651.8V2419.2H653.0V2419.2H654.2V2418.0H655.4V2419.2H656.6V2417.8H657.8V2419.2H659.0V2418.3H660.2V2417.8H661.4V2417.3H662.6V2417.0H663.8V2416.8H665.0V2417.6H666.2V2417.6H667.4V2416.2H668.6V2417.1H669.8V2418.1H671.0V2417.8H672.2V2417.4H673.4V2415.7H674.6V2416.0H675.8V2415.0H677.0V2416.0H678.2V2414.9H679.4V2413.9H680.6V2414.9H681.8V2413.3H683.0V2414.7H684.2V2413.9H685.4V2413.6H686.6V2414.6H687.8V2411.4H689.0V2412.6H690.2V2411.1H691.4V2409.6H692.6V2409.0H693.8V2407.9H695.0V2408.8H696.2V2408.9H697.4V2407.5H698.6V2410.7H699.8V2409.6H701.0V2408.7H702.2V2407.3H703.4V2402.5H704.6V2404.5H705.8V2401.5H707.0V2394.9H708.2V2398.4H709.4V2393.3H710.6V2397.2H711.8V2393.2H713.0V2394.2H714.2V2389.7H715.4V2382.8H716.6V2390.4H717.8V2379.4H719.0V2377.7H720.2V2378.9H721.4V2380.3H722.6V2371.1H723.8V2370.7H725.0V2363.1H726.2V2360.1H727.4V2347.8H728.6V2353.5H729.8V2353.9H731.0V2343.2H732.2V2338.9H733.4V2328.0H734.6V2324.5H735.8V2320.7H737.0V2306.4H738.2V2317.8H739.4V2307.5H740.6V2303.3H741.8V2294.7H743.0V2297.6H744.2V2277.4H745.4V2279.4H746.6V2284.7H747.8V2273.8H749.0V2251.3H750.2V2235.2H751.4V2213.0H752.6V2192.5H753.8V2204.4H755.0V2213.4H756.2V2223.5H757.4V2199.0H758.6V2208.5H759.8V2203.5H761.0V2204.3H762.2V2194.6H763.4V2177.4H764.6V2181.5H765.8V2179.6H767.0V2183.7H768.2V2189.1H769.4V2186.4H770.6V2191.8H771.8V2183.8H773.0V2209.8H774.2V2207.0H775.4V2225.7H776.6V2236.8H777.8V2239.5H779.0V2241.7H780.2V2220.4H781.4V2250.8H782.6V2240.6H783.8V2259.8H785.0V2248.4H786.2V2257.8H787.4V2267.0H788.6V2270.7H789.8V2280.3H791.0V2276.3H792.2V2288.1H793.4V2298.7H794.6V2303.8H795.8V2298.0H797.0V2292.9H798.2V2307.9H799.4V2315.6H800.6V2320.0H801.8V2320.7H803.0V2334.7H804.2V2345.5H805.4V2344.1H806.6V2353.6H807.8V2353.0H809.0V2364.9H810.2V2376.4H811.4V2381.7H812.6V2373.8H813.8V2376.9H815.0V2387.5H816.2V2391.3H817.4V2388.0H818.6V2399.6H819.8V2401.4H821.0V2398.5H822.2V2403.0H823.4V2403.5H824.6V2405.5H825.8V2405.9H827.0V2405.1H828.2V2409.6H829.4V2410.2H830.6V2415.9H831.8V2413.2H833.0V2415.1H834.2V2416.3H835.4V2416.4H836.6V2416.4H837.8V2415.8H839.0V2419.2H840.2V2418.1H841.4V2419.2H842.6V2419.2H843.8V2418.0H845.0V2419.2H846.2V2418.2H847.4V2419.2H848.6V2419.2H849.8V2419.2H851.0V2419.2H852.2V2419.2H853.4V2419.2H854.6V2419.2H855.8V2419.2H857.0V2419.2H858.2V2419.2H859.4V2419.2H860.6V2419.2H861.8V2419.2H863.0V2419.2H864.2V2419.2H865.4V2419.2H866.6V2419.2H867.8V2419.2H869.0V2419.2H870.2V2419.2H871.4V2419.2H872.6V2419.2H873.8V2419.2H875.0V2419.2H876.2V2419.2H877.4V2419.2H878.6V2419.2H879.8V2419.2H881.0V2419.2H882.2V2419.2H883.4V2419.2H884.6V2419.2H885.8V2419.2H887.0V2419.2H888.2V2419.2H889.4V2419.2H890.6V2419.2H891.8V2419.2H893.0V2419.2H894.2V2419.2H895.4V2419.2H896.6V2419.2H897.8V2419.2H899.0V2419.2H900.2V2419.2H901.4V2419.2H902.6V2419.2H903.8V2419.2H905.0V2419.2H906.2V2419.2H907.4V2419.2H908.6V2419.2H909.8V2419.2H911.0V2419.2H912.2V2419.2H913.4V2419.2H914.6V2419.2H915.8V2419.2H917.0V2419.2H918.2V2419.2H919.4V2419.2H920.6V2419.2" fill="none" stroke="#ff0000" stroke-width="1.6"/>
<line x1="585.80" y1="2419.20" x2="585.80" y2="2242.06" stroke="#00f000" stroke-width="1.6" />
<line x1="585.80" y1="2419.20" x2="585.80" y2="2398.36" stroke="#ff0000" stroke-width="1.6" />
</g>
<rect x="584.8" y="2067.2" width="337.9000000000001" height="352.0" fill="none" stroke="#000" stroke-width="1.6"/>
<line x1="575.00" y1="2419.20" x2="584.80" y2="2419.20" stroke="#000" stroke-width="1.6" />
<line x1="578.50" y1="2398.36" x2="584.80" y2="2398.36" stroke="#000" stroke-width="1.6" />
<line x1="578.50" y1="2377.52" x2="584.80" y2="2377.52" stroke="#000" stroke-width="1.6" />
<line x1="578.50" y1="2356.68" x2="584.80" y2="2356.68" stroke="#000" stroke-width="1.6" />
<line x1="578.50" y1="2335.84" x2="584.80" y2="2335.84" stroke="#000" stroke-width="1.6" />
<line x1="575.00" y1="2315.00" x2="584.80" y2="2315.00" stroke="#000" stroke-width="1.6" />
<line x1="578.50" y1="2294.16" x2="584.80" y2="2294.16" stroke="#000" stroke-width="1.6" />
<line x1="578.50" y1="2273.32" x2="584.80" y2="2273.32" stroke="#000" stroke-width="1.6" />
<line x1="578.50" y1="2252.48" x2="584.80" y2="2252.48" stroke="#000" stroke-width="1.6" />
<line x1="578.50" y1="2231.64" x2="584.80" y2="2231.64" stroke="#000" stroke-width="1.6" />
<line x1="575.00" y1="2210.80" x2="584.80" y2="2210.80" stroke="#000" stroke-width="1.6" />
<line x1="578.50" y1="2189.96" x2="584.80" y2="2189.96" stroke="#000" stroke-width="1.6" />
<line x1="578.50" y1="2169.12" x2="584.80" y2="2169.12" stroke="#000" stroke-width="1.6" />
<line x1="578.50" y1="2148.28" x2="584.80" y2="2148.28" stroke="#000" stroke-width="1.6" />
<line x1="578.50" y1="2127.44" x2="584.80" y2="2127.44" stroke="#000" stroke-width="1.6" />
<line x1="575.00" y1="2106.60" x2="584.80" y2="2106.60" stroke="#000" stroke-width="1.6" />
<line x1="578.50" y1="2085.76" x2="584.80" y2="2085.76" stroke="#000" stroke-width="1.6" />
<line x1="575.30" y1="2419.20" x2="584.80" y2="2419.20" stroke="#000" stroke-width="1.6" />
<text transform="translate(568.50,2423.87) rotate(-90)" font-family="'Liberation Sans', Arial, sans-serif" font-size="19.35" font-weight="normal" fill="#000" textLength="9.32" lengthAdjust="spacingAndGlyphs" xml:space="preserve" >0</text>
<text transform="translate(568.50,2329.91) rotate(-90)" font-family="'Liberation Sans', Arial, sans-serif" font-size="19.35" font-weight="normal" fill="#000" textLength="29.19" lengthAdjust="spacingAndGlyphs" xml:space="preserve" >100</text>
<text transform="translate(568.50,2225.26) rotate(-90)" font-family="'Liberation Sans', Arial, sans-serif" font-size="19.35" font-weight="normal" fill="#000" textLength="28.72" lengthAdjust="spacingAndGlyphs" xml:space="preserve" >200</text>
<text transform="translate(568.50,2120.84) rotate(-90)" font-family="'Liberation Sans', Arial, sans-serif" font-size="19.35" font-weight="normal" fill="#000" textLength="28.50" lengthAdjust="spacingAndGlyphs" xml:space="preserve" >300</text>
<text transform="translate(544.40,2265.88) rotate(-90)" font-family="'Liberation Sans', Arial, sans-serif" font-size="17.20" font-weight="normal" fill="#000" textLength="47.03" lengthAdjust="spacingAndGlyphs" xml:space="preserve" >Count</text>
<line x1="584.80" y1="2419.20" x2="584.80" y2="2428.40" stroke="#000" stroke-width="1.6" />
<line x1="590.40" y1="2419.20" x2="590.40" y2="2428.40" stroke="#000" stroke-width="1.6" />
<line x1="643.80" y1="2419.20" x2="643.80" y2="2428.40" stroke="#000" stroke-width="1.6" />
<line x1="697.20" y1="2419.20" x2="697.20" y2="2428.40" stroke="#000" stroke-width="1.6" />
<line x1="750.60" y1="2419.20" x2="750.60" y2="2428.40" stroke="#000" stroke-width="1.6" />
<line x1="804.00" y1="2419.20" x2="804.00" y2="2428.40" stroke="#000" stroke-width="1.6" />
<line x1="857.40" y1="2419.20" x2="857.40" y2="2428.40" stroke="#000" stroke-width="1.6" />
<line x1="910.80" y1="2419.20" x2="910.80" y2="2428.40" stroke="#000" stroke-width="1.6" />
<line x1="922.70" y1="2419.20" x2="922.70" y2="2428.40" stroke="#000" stroke-width="1.6" />
<line x1="606.48" y1="2419.20" x2="606.48" y2="2425.80" stroke="#000" stroke-width="1.6" />
<line x1="615.88" y1="2419.20" x2="615.88" y2="2425.80" stroke="#000" stroke-width="1.6" />
<line x1="622.55" y1="2419.20" x2="622.55" y2="2425.80" stroke="#000" stroke-width="1.6" />
<line x1="627.72" y1="2419.20" x2="627.72" y2="2425.80" stroke="#000" stroke-width="1.6" />
<line x1="631.95" y1="2419.20" x2="631.95" y2="2425.80" stroke="#000" stroke-width="1.6" />
<line x1="635.53" y1="2419.20" x2="635.53" y2="2425.80" stroke="#000" stroke-width="1.6" />
<line x1="638.63" y1="2419.20" x2="638.63" y2="2425.80" stroke="#000" stroke-width="1.6" />
<line x1="641.36" y1="2419.20" x2="641.36" y2="2425.80" stroke="#000" stroke-width="1.6" />
<line x1="659.88" y1="2419.20" x2="659.88" y2="2425.80" stroke="#000" stroke-width="1.6" />
<line x1="669.28" y1="2419.20" x2="669.28" y2="2425.80" stroke="#000" stroke-width="1.6" />
<line x1="675.95" y1="2419.20" x2="675.95" y2="2425.80" stroke="#000" stroke-width="1.6" />
<line x1="681.12" y1="2419.20" x2="681.12" y2="2425.80" stroke="#000" stroke-width="1.6" />
<line x1="685.35" y1="2419.20" x2="685.35" y2="2425.80" stroke="#000" stroke-width="1.6" />
<line x1="688.93" y1="2419.20" x2="688.93" y2="2425.80" stroke="#000" stroke-width="1.6" />
<line x1="692.03" y1="2419.20" x2="692.03" y2="2425.80" stroke="#000" stroke-width="1.6" />
<line x1="694.76" y1="2419.20" x2="694.76" y2="2425.80" stroke="#000" stroke-width="1.6" />
<line x1="713.28" y1="2419.20" x2="713.28" y2="2425.80" stroke="#000" stroke-width="1.6" />
<line x1="722.68" y1="2419.20" x2="722.68" y2="2425.80" stroke="#000" stroke-width="1.6" />
<line x1="729.35" y1="2419.20" x2="729.35" y2="2425.80" stroke="#000" stroke-width="1.6" />
<line x1="734.52" y1="2419.20" x2="734.52" y2="2425.80" stroke="#000" stroke-width="1.6" />
<line x1="738.75" y1="2419.20" x2="738.75" y2="2425.80" stroke="#000" stroke-width="1.6" />
<line x1="742.33" y1="2419.20" x2="742.33" y2="2425.80" stroke="#000" stroke-width="1.6" />
<line x1="745.43" y1="2419.20" x2="745.43" y2="2425.80" stroke="#000" stroke-width="1.6" />
<line x1="748.16" y1="2419.20" x2="748.16" y2="2425.80" stroke="#000" stroke-width="1.6" />
<line x1="766.68" y1="2419.20" x2="766.68" y2="2425.80" stroke="#000" stroke-width="1.6" />
<line x1="776.08" y1="2419.20" x2="776.08" y2="2425.80" stroke="#000" stroke-width="1.6" />
<line x1="782.75" y1="2419.20" x2="782.75" y2="2425.80" stroke="#000" stroke-width="1.6" />
<line x1="787.92" y1="2419.20" x2="787.92" y2="2425.80" stroke="#000" stroke-width="1.6" />
<line x1="792.15" y1="2419.20" x2="792.15" y2="2425.80" stroke="#000" stroke-width="1.6" />
<line x1="795.73" y1="2419.20" x2="795.73" y2="2425.80" stroke="#000" stroke-width="1.6" />
<line x1="798.83" y1="2419.20" x2="798.83" y2="2425.80" stroke="#000" stroke-width="1.6" />
<line x1="801.56" y1="2419.20" x2="801.56" y2="2425.80" stroke="#000" stroke-width="1.6" />
<line x1="820.08" y1="2419.20" x2="820.08" y2="2425.80" stroke="#000" stroke-width="1.6" />
<line x1="829.48" y1="2419.20" x2="829.48" y2="2425.80" stroke="#000" stroke-width="1.6" />
<line x1="836.15" y1="2419.20" x2="836.15" y2="2425.80" stroke="#000" stroke-width="1.6" />
<line x1="841.32" y1="2419.20" x2="841.32" y2="2425.80" stroke="#000" stroke-width="1.6" />
<line x1="845.55" y1="2419.20" x2="845.55" y2="2425.80" stroke="#000" stroke-width="1.6" />
<line x1="849.13" y1="2419.20" x2="849.13" y2="2425.80" stroke="#000" stroke-width="1.6" />
<line x1="852.23" y1="2419.20" x2="852.23" y2="2425.80" stroke="#000" stroke-width="1.6" />
<line x1="854.96" y1="2419.20" x2="854.96" y2="2425.80" stroke="#000" stroke-width="1.6" />
<line x1="873.48" y1="2419.20" x2="873.48" y2="2425.80" stroke="#000" stroke-width="1.6" />
<line x1="882.88" y1="2419.20" x2="882.88" y2="2425.80" stroke="#000" stroke-width="1.6" />
<line x1="889.55" y1="2419.20" x2="889.55" y2="2425.80" stroke="#000" stroke-width="1.6" />
<line x1="894.72" y1="2419.20" x2="894.72" y2="2425.80" stroke="#000" stroke-width="1.6" />
<line x1="898.95" y1="2419.20" x2="898.95" y2="2425.80" stroke="#000" stroke-width="1.6" />
<line x1="902.53" y1="2419.20" x2="902.53" y2="2425.80" stroke="#000" stroke-width="1.6" />
<line x1="905.63" y1="2419.20" x2="905.63" y2="2425.80" stroke="#000" stroke-width="1.6" />
<line x1="908.36" y1="2419.20" x2="908.36" y2="2425.80" stroke="#000" stroke-width="1.6" />
<text x="578.08" y="2450.30" font-family="'Liberation Sans', Arial, sans-serif" font-size="18.64" font-weight="normal" fill="#000" textLength="19.51" lengthAdjust="spacingAndGlyphs" xml:space="preserve" >10</text>
<text x="598.33" y="2441.50" font-family="'Liberation Sans', Arial, sans-serif" font-size="12.90" font-weight="normal" fill="#000">1</text>
<text x="631.48" y="2450.30" font-family="'Liberation Sans', Arial, sans-serif" font-size="18.64" font-weight="normal" fill="#000" textLength="19.51" lengthAdjust="spacingAndGlyphs" xml:space="preserve" >10</text>
<text x="652.05" y="2441.50" font-family="'Liberation Sans', Arial, sans-serif" font-size="12.90" font-weight="normal" fill="#000">2</text>
<text x="684.88" y="2450.30" font-family="'Liberation Sans', Arial, sans-serif" font-size="18.64" font-weight="normal" fill="#000" textLength="19.51" lengthAdjust="spacingAndGlyphs" xml:space="preserve" >10</text>
<text x="705.62" y="2441.50" font-family="'Liberation Sans', Arial, sans-serif" font-size="12.90" font-weight="normal" fill="#000">3</text>
<text x="738.28" y="2450.30" font-family="'Liberation Sans', Arial, sans-serif" font-size="18.64" font-weight="normal" fill="#000" textLength="19.51" lengthAdjust="spacingAndGlyphs" xml:space="preserve" >10</text>
<text x="759.21" y="2441.50" font-family="'Liberation Sans', Arial, sans-serif" font-size="12.90" font-weight="normal" fill="#000">4</text>
<text x="791.68" y="2450.30" font-family="'Liberation Sans', Arial, sans-serif" font-size="18.64" font-weight="normal" fill="#000" textLength="19.51" lengthAdjust="spacingAndGlyphs" xml:space="preserve" >10</text>
<text x="812.38" y="2441.50" font-family="'Liberation Sans', Arial, sans-serif" font-size="12.90" font-weight="normal" fill="#000">5</text>
<text x="845.08" y="2450.30" font-family="'Liberation Sans', Arial, sans-serif" font-size="18.64" font-weight="normal" fill="#000" textLength="19.51" lengthAdjust="spacingAndGlyphs" xml:space="preserve" >10</text>
<text x="865.65" y="2441.50" font-family="'Liberation Sans', Arial, sans-serif" font-size="12.90" font-weight="normal" fill="#000">6</text>
<text x="898.48" y="2450.30" font-family="'Liberation Sans', Arial, sans-serif" font-size="18.64" font-weight="normal" fill="#000" textLength="19.51" lengthAdjust="spacingAndGlyphs" xml:space="preserve" >10</text>
<text x="919.05" y="2441.50" font-family="'Liberation Sans', Arial, sans-serif" font-size="12.90" font-weight="normal" fill="#000">7</text>
<text x="695.55" y="2472.80" font-family="'Liberation Sans', Arial, sans-serif" font-size="18.06" font-weight="normal" fill="#000" textLength="112.99" lengthAdjust="spacingAndGlyphs" xml:space="preserve" >HSP90B PE-A</text>
<rect x="937.75" y="2098.75" width="15.90" height="16.60" fill="#ff0000" stroke="#1a1a1a" stroke-width="1.3"/>
<rect x="937.75" y="2121.15" width="15.90" height="16.90" fill="#00f000" stroke="#1a1a1a" stroke-width="1.3"/>
<text x="962.15" y="2111.20" font-family="'Liberation Sans', Arial, sans-serif" font-size="15.77" font-weight="bold" fill="#000" textLength="64.33" lengthAdjust="spacingAndGlyphs" xml:space="preserve" >HSP90β</text>
<text x="962.65" y="2133.60" font-family="'Liberation Sans', Arial, sans-serif" font-size="15.77" font-weight="bold" fill="#000" textLength="33.52" lengthAdjust="spacingAndGlyphs" xml:space="preserve" >CNT</text>
<circle cx="756" cy="2062" r="1.1" fill="#555"/>
<g clip-path="url(#pc5)">
<path d="M1107.3,2414.0H1108.5V2413.4H1109.7V2411.7H1110.9V2409.0H1112.1V2411.0H1113.3V2411.8H1114.5V2410.6H1115.7V2404.7H1116.9V2408.4H1118.1V2409.5H1119.3V2406.9H1120.5V2404.8H1121.7V2404.2H1122.9V2399.9H1124.1V2404.6H1125.3V2407.6H1126.5V2399.5H1127.7V2402.3H1128.9V2401.8H1130.1V2404.0H1131.3V2404.6H1132.5V2396.8H1133.7V2404.2H1134.9V2400.5H1136.1V2400.9H1137.3V2391.8H1138.5V2394.0H1139.7V2396.1H1140.9V2390.2H1142.1V2384.7H1143.3V2393.2H1144.5V2391.5H1145.7V2385.1H1146.9V2384.1H1148.1V2387.8H1149.3V2384.3H1150.5V2380.2H1151.7V2374.9H1152.9V2382.9H1154.1V2369.2H1155.3V2365.6H1156.5V2353.6H1157.7V2371.7H1158.9V2357.0H1160.1V2353.4H1161.3V2339.1H1162.5V2350.9H1163.7V2343.8H1164.9V2335.4H1166.1V2329.6H1167.3V2326.6H1168.5V2334.4H1169.7V2309.3H1170.9V2323.3H1172.1V2311.9H1173.3V2304.4H1174.5V2304.5H1175.7V2288.4H1176.9V2295.3H1178.1V2275.0H1179.3V2269.9H1180.5V2270.6H1181.7V2255.1H1182.9V2250.2H1184.1V2226.0H1185.3V2240.5H1186.5V2245.3H1187.7V2230.4H1188.9V2229.5H1190.1V2198.7H1191.3V2204.7H1192.5V2219.3H1193.7V2227.5H1194.9V2195.6H1196.1V2214.3H1197.3V2233.0H1198.5V2213.4H1199.7V2236.4H1200.9V2208.8H1202.1V2218.9H1203.3V2236.3H1204.5V2232.5H1205.7V2248.2H1206.9V2209.5H1208.1V2225.7H1209.3V2220.0H1210.5V2213.6H1211.7V2231.3H1212.9V2234.6H1214.1V2235.4H1215.3V2229.4H1216.5V2242.3H1217.7V2239.2H1218.9V2235.3H1220.1V2239.0H1221.3V2248.3H1222.5V2255.6H1223.7V2253.0H1224.9V2243.9H1226.1V2241.3H1227.3V2246.8H1228.5V2263.6H1229.7V2258.9H1230.9V2264.9H1232.1V2259.5H1233.3V2285.2H1234.5V2274.4H1235.7V2287.0H1236.9V2297.3H1238.1V2282.6H1239.3V2292.6H1240.5V2322.0H1241.7V2312.9H1242.9V2312.0H1244.1V2312.9H1245.3V2333.0H1246.5V2325.1H1247.7V2330.3H1248.9V2340.7H1250.1V2334.1H1251.3V2346.3H1252.5V2346.8H1253.7V2354.8H1254.9V2348.5H1256.1V2350.7H1257.3V2357.8H1258.5V2363.2H1259.7V2360.7H1260.9V2361.7H1262.1V2364.5H1263.3V2368.9H1264.5V2364.4H1265.7V2373.2H1266.9V2373.2H1268.1V2368.1H1269.3V2381.4H1270.5V2379.3H1271.7V2380.2H1272.9V2386.7H1274.1V2390.8H1275.3V2390.6H1276.5V2396.7H1277.7V2389.9H1278.9V2391.7H1280.1V2390.5H1281.3V2388.0H1282.5V2395.6H1283.7V2396.9H1284.9V2396.6H1286.1V2400.5H1287.3V2404.3H1288.5V2402.5H1289.7V2400.4H1290.9V2401.6H1292.1V2402.1H1293.3V2404.5H1294.5V2403.3H1295.7V2405.0H1296.9V2405.2H1298.1V2408.6H1299.3V2407.9H1300.5V2406.1H1301.7V2402.9H1302.9V2406.8H1304.1V2406.1H1305.3V2403.6H1306.5V2407.7H1307.7V2409.5H1308.9V2413.4H1310.1V2410.4H1311.3V2407.7H1312.5V2412.5H1313.7V2411.7H1314.9V2411.8H1316.1V2411.4H1317.3V2414.0H1318.5V2411.2H1319.7V2412.0H1320.9V2414.8H1322.1V2417.6H1323.3V2413.2H1324.5V2414.2H1325.7V2414.7H1326.9V2417.6H1328.1V2416.4H1329.3V2416.1H1330.5V2415.8H1331.7V2416.4H1332.9V2415.8H1334.1V2417.6H1335.3V2417.6H1336.5V2417.6H1337.7V2417.6H1338.9V2417.6H1340.1V2417.6H1341.3V2417.6H1342.5V2417.6H1343.7V2417.6H1344.9V2417.6H1346.1V2417.6H1347.3V2417.6H1348.5V2417.6H1349.7V2417.6H1350.9V2417.6H1352.1V2417.6H1353.3V2417.6H1354.5V2417.6H1355.7V2417.6H1356.9V2417.6H1358.1V2417.6H1359.3V2417.6H1360.5V2417.6H1361.7V2417.6H1362.9V2417.6H1364.1V2417.6H1365.3V2417.6H1366.5V2417.6H1367.7V2417.6H1368.9V2417.6H1370.1V2417.6H1371.3V2417.6H1372.5V2417.6H1373.7V2417.6H1374.9V2417.6H1376.1V2417.6H1377.3V2417.6H1378.5V2417.6H1379.7V2417.6H1380.9V2417.6H1382.1V2417.6H1383.3V2417.6H1384.5V2417.6H1385.7V2417.6H1386.9V2417.6H1388.1V2417.6H1389.3V2417.6H1390.5V2417.6H1391.7V2417.6H1392.9V2417.6H1394.1V2417.6H1395.3V2417.6H1396.5V2417.6H1397.7V2417.6H1398.9V2417.6H1400.1V2417.6H1401.3V2417.6H1402.5V2417.6H1403.7V2417.6H1404.9V2417.6H1406.1V2417.6H1407.3V2417.6H1408.5V2417.6H1409.7V2417.6H1410.9V2417.6H1412.1V2417.6H1413.3V2417.6H1414.5V2417.6H1415.7V2417.6H1416.9V2417.6H1418.1V2417.6H1419.3V2417.6H1420.5V2417.6H1421.7V2417.6H1422.9V2417.6H1424.1V2417.6H1425.3V2417.6H1426.5V2417.6H1427.7V2417.6H1428.9V2417.6H1430.1V2417.6H1431.3V2417.6H1432.5V2417.6H1433.7V2417.6H1434.9V2417.6H1436.1V2417.6H1437.3V2417.6H1438.5V2417.6H1439.7V2417.6H1440.9V2417.6H1442.1V2417.6H1443.3V2417.6H1444.5V2417.6H1445.7V2417.6H1446.9V2417.6H1448.1V2417.6H1449.3V2417.6" fill="none" stroke="#00f000" stroke-width="1.6"/>
<path d="M1107.3,2417.6H1108.5V2417.6H1109.7V2417.6H1110.9V2417.6H1112.1V2417.6H1113.3V2417.6H1114.5V2417.6H1115.7V2417.6H1116.9V2417.6H1118.1V2417.6H1119.3V2417.6H1120.5V2417.6H1121.7V2417.6H1122.9V2417.6H1124.1V2417.6H1125.3V2417.6H1126.5V2417.6H1127.7V2417.6H1128.9V2417.6H1130.1V2417.6H1131.3V2417.6H1132.5V2417.6H1133.7V2417.6H1134.9V2417.6H1136.1V2417.6H1137.3V2417.6H1138.5V2417.6H1139.7V2417.6H1140.9V2417.6H1142.1V2417.6H1143.3V2417.6H1144.5V2417.6H1145.7V2417.6H1146.9V2417.6H1148.1V2417.6H1149.3V2417.6H1150.5V2417.6H1151.7V2417.6H1152.9V2417.6H1154.1V2417.6H1155.3V2417.6H1156.5V2417.6H1157.7V2417.6H1158.9V2417.6H1160.1V2417.6H1161.3V2417.6H1162.5V2416.4H1163.7V2417.6H1164.9V2415.6H1166.1V2416.7H1167.3V2416.7H1168.5V2417.6H1169.7V2415.7H1170.9V2414.9H1172.1V2417.6H1173.3V2416.0H1174.5V2416.0H1175.7V2416.1H1176.9V2416.3H1178.1V2413.6H1179.3V2411.8H1180.5V2411.1H1181.7V2411.3H1182.9V2408.7H1184.1V2405.8H1185.3V2405.6H1186.5V2403.1H1187.7V2404.2H1188.9V2399.6H1190.1V2397.9H1191.3V2399.5H1192.5V2396.2H1193.7V2396.0H1194.9V2391.3H1196.1V2390.4H1197.3V2387.6H1198.5V2385.5H1199.7V2385.2H1200.9V2378.4H1202.1V2382.7H1203.3V2375.5H1204.5V2383.3H1205.7V2375.2H1206.9V2364.8H1208.1V2367.0H1209.3V2362.5H1210.5V2366.6H1211.7V2367.6H1212.9V2363.5H1214.1V2356.0H1215.3V2356.2H1216.5V2342.5H1217.7V2339.7H1218.9V2343.3H1220.1V2350.7H1221.3V2343.4H1222.5V2344.8H1223.7V2343.4H1224.9V2340.2H1226.1V2336.2H1227.3V2336.0H1228.5V2332.8H1229.7V2343.0H1230.9V2334.1H1232.1V2325.7H1233.3V2325.6H1234.5V2336.4H1235.7V2325.7H1236.9V2326.2H1238.1V2333.6H1239.3V2321.4H1240.5V2313.1H1241.7V2310.5H1242.9V2291.9H1244.1V2302.5H1245.3V2290.5H1246.5V2278.4H1247.7V2267.2H1248.9V2263.9H1250.1V2244.5H1251.3V2233.5H1252.5V2200.4H1253.7V2195.0H1254.9V2193.8H1256.1V2166.5H1257.3V2182.8H1258.5V2162.7H1259.7V2140.6H1260.9V2170.7H1262.1V2131.2H1263.3V2133.8H1264.5V2147.2H1265.7V2131.6H1266.9V2155.0H1268.1V2132.3H1269.3V2143.4H1270.5V2133.4H1271.7V2158.5H1272.9V2140.5H1274.1V2139.2H1275.3V2160.5H1276.5V2133.2H1277.7V2173.2H1278.9V2149.0H1280.1V2161.1H1281.3V2200.2H1282.5V2183.2H1283.7V2202.5H1284.9V2208.6H1286.1V2215.0H1287.3V2241.1H1288.5V2232.4H1289.7V2241.8H1290.9V2241.8H1292.1V2272.7H1293.3V2261.1H1294.5V2259.2H1295.7V2279.0H1296.9V2275.3H1298.1V2281.5H1299.3V2293.8H1300.5V2295.9H1301.7V2296.7H1302.9V2318.2H1304.1V2307.7H1305.3V2318.7H1306.5V2321.1H1307.7V2328.7H1308.9V2333.0H1310.1V2328.9H1311.3V2334.5H1312.5V2342.6H1313.7V2353.8H1314.9V2346.4H1316.1V2349.8H1317.3V2346.2H1318.5V2364.1H1319.7V2363.8H1320.9V2369.9H1322.1V2383.7H1323.3V2377.2H1324.5V2374.5H1325.7V2381.6H1326.9V2374.5H1328.1V2381.6H1329.3V2386.1H1330.5V2382.1H1331.7V2388.6H1332.9V2384.8H1334.1V2388.7H1335.3V2389.3H1336.5V2394.3H1337.7V2393.2H1338.9V2393.5H1340.1V2395.3H1341.3V2395.2H1342.5V2393.2H1343.7V2400.1H1344.9V2402.9H1346.1V2400.2H1347.3V2404.6H1348.5V2401.0H1349.7V2406.3H1350.9V2407.7H1352.1V2405.6H1353.3V2409.3H1354.5V2408.4H1355.7V2406.5H1356.9V2412.2H1358.1V2408.7H1359.3V2410.6H1360.5V2410.3H1361.7V2409.2H1362.9V2410.8H1364.1V2410.9H1365.3V2413.1H1366.5V2410.7H1367.7V2412.6H1368.9V2416.2H1370.1V2412.6H1371.3V2416.1H1372.5V2413.8H1373.7V2416.5H1374.9V2415.6H1376.1V2415.7H1377.3V2417.6H1378.5V2416.6H1379.7V2416.6H1380.9V2417.6H1382.1V2416.4H1383.3V2417.6H1384.5V2417.6H1385.7V2417.6H1386.9V2417.6H1388.1V2417.6H1389.3V2417.6H1390.5V2417.6H1391.7V2417.6H1392.9V2417.6H1394.1V2417.6H1395.3V2417.6H1396.5V2417.6H1397.7V2417.6H1398.9V2417.6H1400.1V2417.6H1401.3V2417.6H1402.5V2417.6H1403.7V2417.6H1404.9V2417.6H1406.1V2417.6H1407.3V2417.6H1408.5V2417.6H1409.7V2417.6H1410.9V2417.6H1412.1V2417.6H1413.3V2417.6H1414.5V2417.6H1415.7V2417.6H1416.9V2417.6H1418.1V2417.6H1419.3V2417.6H1420.5V2417.6H1421.7V2417.6H1422.9V2417.6H1424.1V2417.6H1425.3V2417.6H1426.5V2417.6H1427.7V2417.6H1428.9V2417.6H1430.1V2417.6H1431.3V2417.6H1432.5V2417.6H1433.7V2417.6H1434.9V2417.6H1436.1V2417.6H1437.3V2417.6H1438.5V2417.6H1439.7V2417.6H1440.9V2417.6H1442.1V2417.6H1443.3V2417.6H1444.5V2417.6H1445.7V2417.6H1446.9V2417.6H1448.1V2417.6H1449.3V2417.6" fill="none" stroke="#ff0000" stroke-width="1.6"/>
<line x1="1107.30" y1="2417.60" x2="1107.30" y2="2379.33" stroke="#00f000" stroke-width="1.6" />
<line x1="1107.30" y1="2417.60" x2="1107.30" y2="2412.28" stroke="#ff0000" stroke-width="1.6" />
</g>
<rect x="1106.3" y="2074.1" width="344.60000000000014" height="343.5" fill="none" stroke="#000" stroke-width="1.6"/>
<line x1="1096.50" y1="2417.60" x2="1106.30" y2="2417.60" stroke="#000" stroke-width="1.6" />
<line x1="1100.00" y1="2396.34" x2="1106.30" y2="2396.34" stroke="#000" stroke-width="1.6" />
<line x1="1100.00" y1="2375.08" x2="1106.30" y2="2375.08" stroke="#000" stroke-width="1.6" />
<line x1="1100.00" y1="2353.82" x2="1106.30" y2="2353.82" stroke="#000" stroke-width="1.6" />
<line x1="1100.00" y1="2332.56" x2="1106.30" y2="2332.56" stroke="#000" stroke-width="1.6" />
<line x1="1096.50" y1="2311.30" x2="1106.30" y2="2311.30" stroke="#000" stroke-width="1.6" />
<line x1="1100.00" y1="2290.04" x2="1106.30" y2="2290.04" stroke="#000" stroke-width="1.6" />
<line x1="1100.00" y1="2268.78" x2="1106.30" y2="2268.78" stroke="#000" stroke-width="1.6" />
<line x1="1100.00" y1="2247.52" x2="1106.30" y2="2247.52" stroke="#000" stroke-width="1.6" />
<line x1="1100.00" y1="2226.26" x2="1106.30" y2="2226.26" stroke="#000" stroke-width="1.6" />
<line x1="1096.50" y1="2205.00" x2="1106.30" y2="2205.00" stroke="#000" stroke-width="1.6" />
<line x1="1100.00" y1="2183.74" x2="1106.30" y2="2183.74" stroke="#000" stroke-width="1.6" />
<line x1="1100.00" y1="2162.48" x2="1106.30" y2="2162.48" stroke="#000" stroke-width="1.6" />
<line x1="1100.00" y1="2141.22" x2="1106.30" y2="2141.22" stroke="#000" stroke-width="1.6" />
<line x1="1100.00" y1="2119.96" x2="1106.30" y2="2119.96" stroke="#000" stroke-width="1.6" />
<line x1="1096.50" y1="2098.70" x2="1106.30" y2="2098.70" stroke="#000" stroke-width="1.6" />
<line x1="1100.00" y1="2077.44" x2="1106.30" y2="2077.44" stroke="#000" stroke-width="1.6" />
<line x1="1097.00" y1="2417.60" x2="1106.30" y2="2417.60" stroke="#000" stroke-width="1.6" />
<text transform="translate(1090.50,2422.27) rotate(-90)" font-family="'Liberation Sans', Arial, sans-serif" font-size="19.35" font-weight="normal" fill="#000" textLength="9.32" lengthAdjust="spacingAndGlyphs" xml:space="preserve" >0</text>
<text transform="translate(1090.50,2326.21) rotate(-90)" font-family="'Liberation Sans', Arial, sans-serif" font-size="19.35" font-weight="normal" fill="#000" textLength="29.19" lengthAdjust="spacingAndGlyphs" xml:space="preserve" >100</text>
<text transform="translate(1090.50,2219.46) rotate(-90)" font-family="'Liberation Sans', Arial, sans-serif" font-size="19.35" font-weight="normal" fill="#000" textLength="28.72" lengthAdjust="spacingAndGlyphs" xml:space="preserve" >200</text>
<text transform="translate(1090.50,2112.94) rotate(-90)" font-family="'Liberation Sans', Arial, sans-serif" font-size="19.35" font-weight="normal" fill="#000" textLength="28.50" lengthAdjust="spacingAndGlyphs" xml:space="preserve" >300</text>
<text transform="translate(1066.00,2267.88) rotate(-90)" font-family="'Liberation Sans', Arial, sans-serif" font-size="19.64" font-weight="normal" fill="#000" textLength="47.03" lengthAdjust="spacingAndGlyphs" xml:space="preserve" >Count</text>
<line x1="1106.30" y1="2417.60" x2="1106.30" y2="2427.10" stroke="#000" stroke-width="1.6" />
<line x1="1129.70" y1="2417.60" x2="1129.70" y2="2427.10" stroke="#000" stroke-width="1.6" />
<line x1="1192.90" y1="2417.60" x2="1192.90" y2="2427.10" stroke="#000" stroke-width="1.6" />
<line x1="1254.80" y1="2417.60" x2="1254.80" y2="2427.10" stroke="#000" stroke-width="1.6" />
<line x1="1316.70" y1="2417.60" x2="1316.70" y2="2427.10" stroke="#000" stroke-width="1.6" />
<line x1="1378.60" y1="2417.60" x2="1378.60" y2="2427.10" stroke="#000" stroke-width="1.6" />
<line x1="1440.50" y1="2417.60" x2="1440.50" y2="2427.10" stroke="#000" stroke-width="1.6" />
<line x1="1450.90" y1="2417.60" x2="1450.90" y2="2427.10" stroke="#000" stroke-width="1.6" />
<line x1="1114.80" y1="2417.60" x2="1114.80" y2="2423.80" stroke="#000" stroke-width="1.6" />
<line x1="1144.60" y1="2417.60" x2="1144.60" y2="2423.80" stroke="#000" stroke-width="1.6" />
<line x1="1155.20" y1="2417.60" x2="1155.20" y2="2423.80" stroke="#000" stroke-width="1.6" />
<line x1="1163.80" y1="2417.60" x2="1163.80" y2="2423.80" stroke="#000" stroke-width="1.6" />
<line x1="1171.50" y1="2417.60" x2="1171.50" y2="2423.80" stroke="#000" stroke-width="1.6" />
<line x1="1177.00" y1="2417.60" x2="1177.00" y2="2423.80" stroke="#000" stroke-width="1.6" />
<line x1="1181.60" y1="2417.60" x2="1181.60" y2="2423.80" stroke="#000" stroke-width="1.6" />
<line x1="1185.00" y1="2417.60" x2="1185.00" y2="2423.80" stroke="#000" stroke-width="1.6" />
<line x1="1187.60" y1="2417.60" x2="1187.60" y2="2423.80" stroke="#000" stroke-width="1.6" />
<line x1="1190.00" y1="2417.60" x2="1190.00" y2="2423.80" stroke="#000" stroke-width="1.6" />
<line x1="1211.53" y1="2417.60" x2="1211.53" y2="2423.80" stroke="#000" stroke-width="1.6" />
<line x1="1222.43" y1="2417.60" x2="1222.43" y2="2423.80" stroke="#000" stroke-width="1.6" />
<line x1="1230.17" y1="2417.60" x2="1230.17" y2="2423.80" stroke="#000" stroke-width="1.6" />
<line x1="1236.17" y1="2417.60" x2="1236.17" y2="2423.80" stroke="#000" stroke-width="1.6" />
<line x1="1241.07" y1="2417.60" x2="1241.07" y2="2423.80" stroke="#000" stroke-width="1.6" />
<line x1="1245.21" y1="2417.60" x2="1245.21" y2="2423.80" stroke="#000" stroke-width="1.6" />
<line x1="1248.80" y1="2417.60" x2="1248.80" y2="2423.80" stroke="#000" stroke-width="1.6" />
<line x1="1251.97" y1="2417.60" x2="1251.97" y2="2423.80" stroke="#000" stroke-width="1.6" />
<line x1="1273.43" y1="2417.60" x2="1273.43" y2="2423.80" stroke="#000" stroke-width="1.6" />
<line x1="1284.33" y1="2417.60" x2="1284.33" y2="2423.80" stroke="#000" stroke-width="1.6" />
<line x1="1292.07" y1="2417.60" x2="1292.07" y2="2423.80" stroke="#000" stroke-width="1.6" />
<line x1="1298.07" y1="2417.60" x2="1298.07" y2="2423.80" stroke="#000" stroke-width="1.6" />
<line x1="1302.97" y1="2417.60" x2="1302.97" y2="2423.80" stroke="#000" stroke-width="1.6" />
<line x1="1307.11" y1="2417.60" x2="1307.11" y2="2423.80" stroke="#000" stroke-width="1.6" />
<line x1="1310.70" y1="2417.60" x2="1310.70" y2="2423.80" stroke="#000" stroke-width="1.6" />
<line x1="1313.87" y1="2417.60" x2="1313.87" y2="2423.80" stroke="#000" stroke-width="1.6" />
<line x1="1335.33" y1="2417.60" x2="1335.33" y2="2423.80" stroke="#000" stroke-width="1.6" />
<line x1="1346.23" y1="2417.60" x2="1346.23" y2="2423.80" stroke="#000" stroke-width="1.6" />
<line x1="1353.97" y1="2417.60" x2="1353.97" y2="2423.80" stroke="#000" stroke-width="1.6" />
<line x1="1359.97" y1="2417.60" x2="1359.97" y2="2423.80" stroke="#000" stroke-width="1.6" />
<line x1="1364.87" y1="2417.60" x2="1364.87" y2="2423.80" stroke="#000" stroke-width="1.6" />
<line x1="1369.01" y1="2417.60" x2="1369.01" y2="2423.80" stroke="#000" stroke-width="1.6" />
<line x1="1372.60" y1="2417.60" x2="1372.60" y2="2423.80" stroke="#000" stroke-width="1.6" />
<line x1="1375.77" y1="2417.60" x2="1375.77" y2="2423.80" stroke="#000" stroke-width="1.6" />
<line x1="1397.23" y1="2417.60" x2="1397.23" y2="2423.80" stroke="#000" stroke-width="1.6" />
<line x1="1408.13" y1="2417.60" x2="1408.13" y2="2423.80" stroke="#000" stroke-width="1.6" />
<line x1="1415.87" y1="2417.60" x2="1415.87" y2="2423.80" stroke="#000" stroke-width="1.6" />
<line x1="1421.87" y1="2417.60" x2="1421.87" y2="2423.80" stroke="#000" stroke-width="1.6" />
<line x1="1426.77" y1="2417.60" x2="1426.77" y2="2423.80" stroke="#000" stroke-width="1.6" />
<line x1="1430.91" y1="2417.60" x2="1430.91" y2="2423.80" stroke="#000" stroke-width="1.6" />
<line x1="1434.50" y1="2417.60" x2="1434.50" y2="2423.80" stroke="#000" stroke-width="1.6" />
<line x1="1437.67" y1="2417.60" x2="1437.67" y2="2423.80" stroke="#000" stroke-width="1.6" />
<text x="1123.65" y="2448.30" font-family="'Liberation Sans', Arial, sans-serif" font-size="17.06" font-weight="normal" fill="#000" textLength="10.48" lengthAdjust="spacingAndGlyphs" xml:space="preserve" >0</text>
<text x="1180.91" y="2448.30" font-family="'Liberation Sans', Arial, sans-serif" font-size="17.06" font-weight="normal" fill="#000" textLength="20.63" lengthAdjust="spacingAndGlyphs" xml:space="preserve" >10</text>
<text x="1202.72" y="2440.60" font-family="'Liberation Sans', Arial, sans-serif" font-size="12.90" font-weight="normal" fill="#000">3</text>
<text x="1242.81" y="2448.30" font-family="'Liberation Sans', Arial, sans-serif" font-size="17.06" font-weight="normal" fill="#000" textLength="20.63" lengthAdjust="spacingAndGlyphs" xml:space="preserve" >10</text>
<text x="1264.81" y="2440.60" font-family="'Liberation Sans', Arial, sans-serif" font-size="12.90" font-weight="normal" fill="#000">4</text>
<text x="1304.71" y="2448.30" font-family="'Liberation Sans', Arial, sans-serif" font-size="17.06" font-weight="normal" fill="#000" textLength="20.63" lengthAdjust="spacingAndGlyphs" xml:space="preserve" >10</text>
<text x="1326.48" y="2440.60" font-family="'Liberation Sans', Arial, sans-serif" font-size="12.90" font-weight="normal" fill="#000">5</text>
<text x="1366.61" y="2448.30" font-family="'Liberation Sans', Arial, sans-serif" font-size="17.06" font-weight="normal" fill="#000" textLength="20.63" lengthAdjust="spacingAndGlyphs" xml:space="preserve" >10</text>
<text x="1388.25" y="2440.60" font-family="'Liberation Sans', Arial, sans-serif" font-size="12.90" font-weight="normal" fill="#000">6</text>
<text x="1428.51" y="2448.30" font-family="'Liberation Sans', Arial, sans-serif" font-size="17.06" font-weight="normal" fill="#000" textLength="20.63" lengthAdjust="spacingAndGlyphs" xml:space="preserve" >10</text>
<text x="1450.15" y="2440.60" font-family="'Liberation Sans', Arial, sans-serif" font-size="12.90" font-weight="normal" fill="#000">7</text>
<text x="1221.72" y="2470.10" font-family="'Liberation Sans', Arial, sans-serif" font-size="17.06" font-weight="normal" fill="#000" textLength="111.51" lengthAdjust="spacingAndGlyphs" xml:space="preserve" >CD44  FITC-A</text>
<rect x="1466.25" y="2103.95" width="16.60" height="16.60" fill="#ff0000" stroke="#1a1a1a" stroke-width="1.3"/>
<rect x="1466.25" y="2126.35" width="16.60" height="16.50" fill="#00f000" stroke="#1a1a1a" stroke-width="1.3"/>
<text x="1492.53" y="2117.00" font-family="'Liberation Sans', Arial, sans-serif" font-size="15.77" font-weight="bold" fill="#000" textLength="43.09" lengthAdjust="spacingAndGlyphs" xml:space="preserve" >CD44</text>
<text x="1491.85" y="2139.40" font-family="'Liberation Sans', Arial, sans-serif" font-size="15.77" font-weight="bold" fill="#000" textLength="33.42" lengthAdjust="spacingAndGlyphs" xml:space="preserve" >CNT</text>
<g clip-path="url(#tc)"><g filter="url(#tn)">
<rect x="877" y="66" width="629" height="649" fill="url(#bgg)"/>
<g filter="url(#bl1)" opacity="0.55"><path d="M870,262 C885,255 900,252 912,253 C935,255 958,270 972,295 C985,318 986,345 977,362 C968,377 950,383 925,384 C905,385 885,384 870,383 Z" fill="none" stroke="rgb(135,135,135)" stroke-width="6" /><ellipse cx="997.7" cy="407.3" rx="26.7" ry="26.7" transform="rotate(0 997.7 407.3)" fill="none" stroke="rgb(135,135,135)" stroke-width="6" /><ellipse cx="924" cy="442.6" rx="35.5" ry="35.5" transform="rotate(0 924 442.6)" fill="none" stroke="rgb(135,135,135)" stroke-width="6" /><ellipse cx="966.7" cy="507.7" rx="27.3" ry="27.3" transform="rotate(0 966.7 507.7)" fill="none" stroke="rgb(135,135,135)" stroke-width="6" /><ellipse cx="1081" cy="501" rx="75.5" ry="94" transform="rotate(4 1081 501)" fill="none" stroke="rgb(135,135,135)" stroke-width="6" /><ellipse cx="1222.5" cy="490" rx="46" ry="46" transform="rotate(0 1222.5 490)" fill="none" stroke="rgb(135,135,135)" stroke-width="6" /><ellipse cx="1359.8" cy="436.6" rx="36" ry="36.3" transform="rotate(0 1359.8 436.6)" fill="none" stroke="rgb(135,135,135)" stroke-width="6" /><ellipse cx="1317.6" cy="538.6" rx="40.6" ry="43.2" transform="rotate(0 1317.6 538.6)" fill="none" stroke="rgb(135,135,135)" stroke-width="6" /><ellipse cx="1421.7" cy="538.6" rx="37" ry="39" transform="rotate(0 1421.7 538.6)" fill="none" stroke="rgb(135,135,135)" stroke-width="6" /><ellipse cx="1205" cy="633" rx="81.5" ry="76" transform="rotate(0 1205 633)" fill="none" stroke="rgb(135,135,135)" stroke-width="6" /><ellipse cx="1385" cy="700" rx="96" ry="62" transform="rotate(3 1385 700)" fill="none" stroke="rgb(135,135,135)" stroke-width="6" /><ellipse cx="1518" cy="617" rx="40" ry="40" transform="rotate(0 1518 617)" fill="none" stroke="rgb(135,135,135)" stroke-width="6" /></g>
<g filter="url(#vm)"><path d="M870,262 C885,255 900,252 912,253 C935,255 958,270 972,295 C985,318 986,345 977,362 C968,377 950,383 925,384 C905,385 885,384 870,383 Z" fill="rgb(134,134,134)"  /><ellipse cx="997.7" cy="407.3" rx="26.7" ry="26.7" transform="rotate(0 997.7 407.3)" fill="rgb(158,158,158)"  /><ellipse cx="924" cy="442.6" rx="35.5" ry="35.5" transform="rotate(0 924 442.6)" fill="rgb(148,148,148)"  /><ellipse cx="966.7" cy="507.7" rx="27.3" ry="27.3" transform="rotate(0 966.7 507.7)" fill="rgb(152,152,152)"  /><ellipse cx="1081" cy="501" rx="75.5" ry="94" transform="rotate(4 1081 501)" fill="rgb(108,108,108)"  /><ellipse cx="1222.5" cy="490" rx="46" ry="46" transform="rotate(0 1222.5 490)" fill="rgb(126,126,126)"  /><ellipse cx="1359.8" cy="436.6" rx="36" ry="36.3" transform="rotate(0 1359.8 436.6)" fill="rgb(150,150,150)"  /><ellipse cx="1317.6" cy="538.6" rx="40.6" ry="43.2" transform="rotate(0 1317.6 538.6)" fill="rgb(158,158,158)"  /><ellipse cx="1421.7" cy="538.6" rx="37" ry="39" transform="rotate(0 1421.7 538.6)" fill="rgb(148,148,148)"  /><ellipse cx="1205" cy="633" rx="81.5" ry="76" transform="rotate(0 1205 633)" fill="rgb(103,103,103)"  /><ellipse cx="1385" cy="700" rx="96" ry="62" transform="rotate(3 1385 700)" fill="rgb(124,124,124)"  /><ellipse cx="1518" cy="617" rx="40" ry="40" transform="rotate(0 1518 617)" fill="rgb(160,160,160)"  /></g>
<path d="M870,262 C885,255 900,252 912,253 C935,255 958,270 972,295 C985,318 986,345 977,362 C968,377 950,383 925,384 C905,385 885,384 870,383 Z" fill="none" stroke="rgb(94,94,94)" stroke-width="2.2" /><ellipse cx="997.7" cy="407.3" rx="26.7" ry="26.7" transform="rotate(0 997.7 407.3)" fill="none" stroke="rgb(94,94,94)" stroke-width="2.2" /><ellipse cx="924" cy="442.6" rx="35.5" ry="35.5" transform="rotate(0 924 442.6)" fill="none" stroke="rgb(94,94,94)" stroke-width="2.2" /><ellipse cx="966.7" cy="507.7" rx="27.3" ry="27.3" transform="rotate(0 966.7 507.7)" fill="none" stroke="rgb(94,94,94)" stroke-width="2.2" /><ellipse cx="1081" cy="501" rx="75.5" ry="94" transform="rotate(4 1081 501)" fill="none" stroke="rgb(94,94,94)" stroke-width="2.2" /><ellipse cx="1222.5" cy="490" rx="46" ry="46" transform="rotate(0 1222.5 490)" fill="none" stroke="rgb(94,94,94)" stroke-width="2.2" /><ellipse cx="1359.8" cy="436.6" rx="36" ry="36.3" transform="rotate(0 1359.8 436.6)" fill="none" stroke="rgb(94,94,94)" stroke-width="2.2" /><ellipse cx="1317.6" cy="538.6" rx="40.6" ry="43.2" transform="rotate(0 1317.6 538.6)" fill="none" stroke="rgb(94,94,94)" stroke-width="2.2" /><ellipse cx="1421.7" cy="538.6" rx="37" ry="39" transform="rotate(0 1421.7 538.6)" fill="none" stroke="rgb(94,94,94)" stroke-width="2.2" /><ellipse cx="1205" cy="633" rx="81.5" ry="76" transform="rotate(0 1205 633)" fill="none" stroke="rgb(94,94,94)" stroke-width="2.2" /><ellipse cx="1385" cy="700" rx="96" ry="62" transform="rotate(3 1385 700)" fill="none" stroke="rgb(94,94,94)" stroke-width="2.2" /><ellipse cx="1518" cy="617" rx="40" ry="40" transform="rotate(0 1518 617)" fill="none" stroke="rgb(94,94,94)" stroke-width="2.2" />
<path d="M870,465 L877,469.7 L898.4,493.2 L919.7,516.8 L941.1,538.1 L962.5,557.4 L983.8,576.6 L1005.2,595.8 L1026.6,612.9 L1048,632.1 L1062.9,653.5 L1080,666.3 L1101.4,677 L1122.7,689.8 L1144.1,702.6 L1154.8,709 L1166,716 L1170,720 L870,720 Z" fill="rgb(86,86,86)"/>
<ellipse cx="960" cy="650" rx="60" ry="40" fill="rgb(80,80,80)" filter="url(#bl8)" opacity="0.7"/>
<path d="M877,469.7 L898.4,493.2 L919.7,516.8 L941.1,538.1 L962.5,557.4 L983.8,576.6 L1005.2,595.8 L1026.6,612.9 L1048,632.1 L1062.9,653.5 L1080,666.3 L1101.4,677 L1122.7,689.8 L1144.1,702.6 L1154.8,709 L1166,716" fill="none" stroke="rgb(228,228,228)" stroke-width="1.6" transform="translate(1.5,-2.0)"/>
<path d="M877,469.7 L898.4,493.2 L919.7,516.8 L941.1,538.1 L962.5,557.4 L983.8,576.6 L1005.2,595.8 L1026.6,612.9 L1048,632.1 L1062.9,653.5 L1080,666.3 L1101.4,677 L1122.7,689.8 L1144.1,702.6 L1154.8,709 L1166,716" fill="none" stroke="rgb(20,20,20)" stroke-width="3"/>
<circle cx="1207.7" cy="73.5" r="4.5" fill="rgb(110,110,110)" stroke="rgb(90,90,90)" stroke-width="1.4"/>
<circle cx="1069.2" cy="127.1" r="3.5" fill="rgb(110,110,110)" stroke="rgb(90,90,90)" stroke-width="1.4"/>
<circle cx="1126.6" cy="115.9" r="4.5" fill="rgb(110,110,110)" stroke="rgb(90,90,90)" stroke-width="1.4"/>
<circle cx="1209.8" cy="211.6" r="4" fill="rgb(110,110,110)" stroke="rgb(90,90,90)" stroke-width="1.4"/>
<circle cx="1383.6" cy="152.5" r="4.5" fill="rgb(110,110,110)" stroke="rgb(90,90,90)" stroke-width="1.4"/>
<circle cx="1453.1" cy="271.9" r="4.5" fill="rgb(110,110,110)" stroke="rgb(90,90,90)" stroke-width="1.4"/>
<circle cx="1482.2" cy="239.9" r="4.5" fill="rgb(110,110,110)" stroke="rgb(90,90,90)" stroke-width="1.4"/>
<circle cx="1481" cy="79.3" r="3" fill="rgb(110,110,110)" stroke="rgb(90,90,90)" stroke-width="1.4"/>
<circle cx="1118.3" cy="326" r="5" fill="rgb(110,110,110)" stroke="rgb(90,90,90)" stroke-width="1.4"/>
<circle cx="954" cy="251" r="5" fill="rgb(110,110,110)" stroke="rgb(90,90,90)" stroke-width="1.4"/>
<circle cx="1203" cy="421.7" r="6.5" fill="rgb(110,110,110)" stroke="rgb(90,90,90)" stroke-width="1.4"/>
<circle cx="1266.3" cy="698.3" r="9.5" fill="rgb(110,110,110)" stroke="rgb(90,90,90)" stroke-width="1.4"/>
<circle cx="1030.3" cy="452" r="8.5" fill="rgb(80,80,80)" stroke="rgb(70,70,70)" stroke-width="1.4"/>
</g>
<rect x="917.6" y="671" width="172" height="4" fill="rgb(158,158,158)"/>
</g>
<text x="916.72" y="664.10" font-family="'DejaVu Sans', sans-serif" font-size="30.03" fill="rgb(160,160,160)" textLength="113.19" lengthAdjust="spacingAndGlyphs" xml:space="preserve">200  nm</text>
</svg></body></html>
